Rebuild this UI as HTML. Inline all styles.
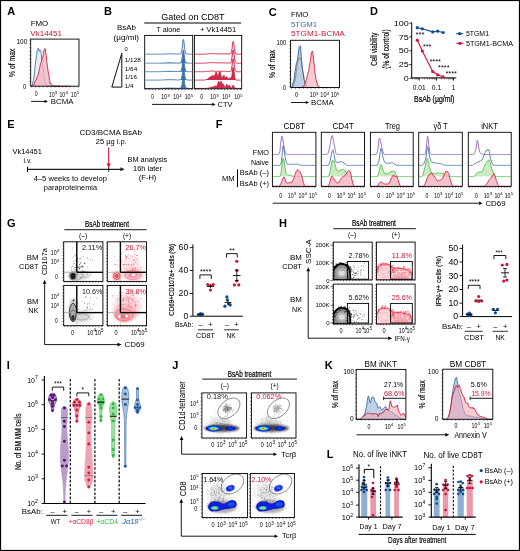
<!DOCTYPE html>
<html><head><meta charset="utf-8"><style>
html,body{margin:0;padding:0;background:#fff;}
svg{display:block;}
text{font-family:"Liberation Sans", sans-serif;}
</style></head><body>
<svg width="520" height="551" viewBox="0 0 520 551">
<defs><filter id="soft" x="0" y="0" width="520" height="551" filterUnits="userSpaceOnUse"><feGaussianBlur stdDeviation="0.3"/></filter></defs>
<rect x="0" y="0" width="520" height="551" fill="#fff"/>
<g filter="url(#soft)">
<rect x="0" y="0" width="520" height="551" fill="#fff"/>
<text x="7.30" y="14.60" font-size="11" font-weight="bold">A</text>
<text x="30.70" y="25.55" font-size="8.0" textLength="17.60" lengthAdjust="spacingAndGlyphs">FMO</text>
<text x="30.30" y="35.75" font-size="8.0" fill="#cc1538" textLength="31.70" lengthAdjust="spacingAndGlyphs">Vk14451</text>
<path d="M31.2,86.20 L31.7,85.95 L32.2,85.32 L32.7,82.89 L33.2,81.05 L33.7,79.54 L34.2,74.85 L34.7,70.57 L35.2,65.49 L35.7,60.79 L36.2,58.27 L36.7,55.11 L37.2,50.47 L37.7,49.84 L38.2,48.08 L38.7,50.47 L39.2,51.24 L39.7,50.04 L40.2,50.35 L40.7,50.40 L41.2,53.41 L41.7,59.05 L42.2,62.89 L42.7,65.75 L43.2,68.62 L43.7,73.49 L44.2,77.20 L44.7,79.91 L45.2,83.10 L45.7,84.16 L46.2,84.58 L46.7,85.10 L47.2,85.67 L47.7,85.89 L48.2,86.02 L48.7,86.17 L49.2,86.20 L49.7,86.20 L50.2,86.20 L50.7,86.20 L51.2,86.20 L51.7,86.20 L52.2,86.20 L52.7,86.20 L53.2,86.20 L53.7,86.20 L54.2,86.20 L54.7,86.20 L55.2,86.20 L55.7,86.20 L56.2,86.20 L56.7,86.20 L57.2,86.20 L57.7,86.20 L58.2,86.20 L58.7,86.20 L59.2,86.20 L59.7,86.20 L60.2,86.20 L60.0,86.20 L31.2,86.20 Z" fill="#dfe7f1" fill-opacity="0.7" stroke="none"/>
<path d="M31.2,86.20 L31.7,85.95 L32.2,85.32 L32.7,82.89 L33.2,81.05 L33.7,79.54 L34.2,74.85 L34.7,70.57 L35.2,65.49 L35.7,60.79 L36.2,58.27 L36.7,55.11 L37.2,50.47 L37.7,49.84 L38.2,48.08 L38.7,50.47 L39.2,51.24 L39.7,50.04 L40.2,50.35 L40.7,50.40 L41.2,53.41 L41.7,59.05 L42.2,62.89 L42.7,65.75 L43.2,68.62 L43.7,73.49 L44.2,77.20 L44.7,79.91 L45.2,83.10 L45.7,84.16 L46.2,84.58 L46.7,85.10 L47.2,85.67 L47.7,85.89 L48.2,86.02 L48.7,86.17 L49.2,86.20 L49.7,86.20 L50.2,86.20 L50.7,86.20 L51.2,86.20 L51.7,86.20 L52.2,86.20 L52.7,86.20 L53.2,86.20 L53.7,86.20 L54.2,86.20 L54.7,86.20 L55.2,86.20 L55.7,86.20 L56.2,86.20 L56.7,86.20 L57.2,86.20 L57.7,86.20 L58.2,86.20 L58.7,86.20 L59.2,86.20 L59.7,86.20 L60.2,86.20" fill="none" stroke="#3b6ea6" stroke-width="0.85" stroke-linejoin="round"/>
<path d="M31.2,86.20 L31.7,86.20 L32.2,86.05 L32.7,85.39 L33.2,84.66 L33.7,85.06 L34.2,84.51 L34.7,81.98 L35.2,81.24 L35.7,80.37 L36.2,80.11 L36.7,78.15 L37.2,76.80 L37.7,75.40 L38.2,74.78 L38.7,72.35 L39.2,70.58 L39.7,67.91 L40.2,65.29 L40.7,63.37 L41.2,62.30 L41.7,60.54 L42.2,59.04 L42.7,57.61 L43.2,55.37 L43.7,51.66 L44.2,49.77 L44.7,48.55 L45.2,48.88 L45.7,52.20 L46.2,55.73 L46.7,60.38 L47.2,64.99 L47.7,68.08 L48.2,72.00 L48.7,74.65 L49.2,77.25 L49.7,80.69 L50.2,83.76 L50.7,83.31 L51.2,84.23 L51.7,84.80 L52.2,85.01 L52.7,85.38 L53.2,85.58 L53.7,85.83 L54.2,85.94 L54.7,86.04 L55.2,86.12 L55.7,86.18 L56.2,86.20 L56.7,86.20 L57.2,86.20 L57.7,86.20 L58.2,86.20 L58.7,86.20 L59.2,86.20 L59.7,86.20 L60.2,86.20 L60.7,86.20 L61.2,86.20 L61.7,86.20 L62.2,86.20 L62.7,86.20 L63.2,86.20 L63.7,86.20 L64.2,86.20 L64.7,86.20 L65.2,86.20 L65.7,86.20 L66.2,86.20 L66.7,86.20 L67.2,86.20 L67.7,86.20 L68.2,86.20 L68.7,86.20 L69.2,86.20 L69.7,86.20 L70.2,86.20 L70.0,86.20 L31.2,86.20 Z" fill="#f3b3bf" fill-opacity="0.75" stroke="none"/>
<path d="M31.2,86.20 L31.7,86.20 L32.2,86.05 L32.7,85.39 L33.2,84.66 L33.7,85.06 L34.2,84.51 L34.7,81.98 L35.2,81.24 L35.7,80.37 L36.2,80.11 L36.7,78.15 L37.2,76.80 L37.7,75.40 L38.2,74.78 L38.7,72.35 L39.2,70.58 L39.7,67.91 L40.2,65.29 L40.7,63.37 L41.2,62.30 L41.7,60.54 L42.2,59.04 L42.7,57.61 L43.2,55.37 L43.7,51.66 L44.2,49.77 L44.7,48.55 L45.2,48.88 L45.7,52.20 L46.2,55.73 L46.7,60.38 L47.2,64.99 L47.7,68.08 L48.2,72.00 L48.7,74.65 L49.2,77.25 L49.7,80.69 L50.2,83.76 L50.7,83.31 L51.2,84.23 L51.7,84.80 L52.2,85.01 L52.7,85.38 L53.2,85.58 L53.7,85.83 L54.2,85.94 L54.7,86.04 L55.2,86.12 L55.7,86.18 L56.2,86.20 L56.7,86.20 L57.2,86.20 L57.7,86.20 L58.2,86.20 L58.7,86.20 L59.2,86.20 L59.7,86.20 L60.2,86.20 L60.7,86.20 L61.2,86.20 L61.7,86.20 L62.2,86.20 L62.7,86.20 L63.2,86.20 L63.7,86.20 L64.2,86.20 L64.7,86.20 L65.2,86.20 L65.7,86.20 L66.2,86.20 L66.7,86.20 L67.2,86.20 L67.7,86.20 L68.2,86.20 L68.7,86.20 L69.2,86.20 L69.7,86.20 L70.2,86.20" fill="none" stroke="#cc1538" stroke-width="0.85" stroke-linejoin="round"/>
<rect x="30.70" y="39.10" width="48.30" height="47.10" stroke="#000" stroke-width="0.9" fill="none"/>
<line x1="29.40" y1="40.10" x2="30.70" y2="40.10" stroke="#000" stroke-width="0.5"/>
<line x1="29.40" y1="43.86" x2="30.70" y2="43.86" stroke="#000" stroke-width="0.5"/>
<line x1="29.40" y1="47.62" x2="30.70" y2="47.62" stroke="#000" stroke-width="0.5"/>
<line x1="29.40" y1="51.38" x2="30.70" y2="51.38" stroke="#000" stroke-width="0.5"/>
<line x1="29.40" y1="55.13" x2="30.70" y2="55.13" stroke="#000" stroke-width="0.5"/>
<line x1="29.40" y1="58.89" x2="30.70" y2="58.89" stroke="#000" stroke-width="0.5"/>
<line x1="29.40" y1="62.65" x2="30.70" y2="62.65" stroke="#000" stroke-width="0.5"/>
<line x1="29.40" y1="66.41" x2="30.70" y2="66.41" stroke="#000" stroke-width="0.5"/>
<line x1="29.40" y1="70.17" x2="30.70" y2="70.17" stroke="#000" stroke-width="0.5"/>
<line x1="29.40" y1="73.93" x2="30.70" y2="73.93" stroke="#000" stroke-width="0.5"/>
<line x1="29.40" y1="77.68" x2="30.70" y2="77.68" stroke="#000" stroke-width="0.5"/>
<line x1="29.40" y1="81.44" x2="30.70" y2="81.44" stroke="#000" stroke-width="0.5"/>
<line x1="29.40" y1="85.20" x2="30.70" y2="85.20" stroke="#000" stroke-width="0.5"/>
<line x1="31.70" y1="86.20" x2="31.70" y2="87.50" stroke="#000" stroke-width="0.5"/>
<line x1="35.56" y1="86.20" x2="35.56" y2="87.50" stroke="#000" stroke-width="0.5"/>
<line x1="39.42" y1="86.20" x2="39.42" y2="87.50" stroke="#000" stroke-width="0.5"/>
<line x1="43.27" y1="86.20" x2="43.27" y2="87.50" stroke="#000" stroke-width="0.5"/>
<line x1="47.13" y1="86.20" x2="47.13" y2="87.50" stroke="#000" stroke-width="0.5"/>
<line x1="50.99" y1="86.20" x2="50.99" y2="87.50" stroke="#000" stroke-width="0.5"/>
<line x1="54.85" y1="86.20" x2="54.85" y2="87.50" stroke="#000" stroke-width="0.5"/>
<line x1="58.71" y1="86.20" x2="58.71" y2="87.50" stroke="#000" stroke-width="0.5"/>
<line x1="62.57" y1="86.20" x2="62.57" y2="87.50" stroke="#000" stroke-width="0.5"/>
<line x1="66.42" y1="86.20" x2="66.42" y2="87.50" stroke="#000" stroke-width="0.5"/>
<line x1="70.28" y1="86.20" x2="70.28" y2="87.50" stroke="#000" stroke-width="0.5"/>
<line x1="74.14" y1="86.20" x2="74.14" y2="87.50" stroke="#000" stroke-width="0.5"/>
<line x1="78.00" y1="86.20" x2="78.00" y2="87.50" stroke="#000" stroke-width="0.5"/>
<text x="16.50" y="43.57" font-size="6.6" textLength="10.80" lengthAdjust="spacingAndGlyphs">100</text>
<text x="23.00" y="88.97" font-size="6.6" textLength="3.20" lengthAdjust="spacingAndGlyphs">0</text>
<text x="14.52" y="76.90" font-size="8.5" textLength="28.30" lengthAdjust="spacingAndGlyphs" transform="rotate(-90 14.52 76.90)" fill="#000" stroke="#000" stroke-width="0.15">% of max</text>
<text x="34.80" y="96.40" font-size="6.4" textLength="2.90" lengthAdjust="spacingAndGlyphs">0</text>
<text x="48.84" y="96.54" font-size="6.8" textLength="5.82" lengthAdjust="spacingAndGlyphs">10</text>
<text x="54.81" y="93.82" font-size="4.22">3</text>
<text x="59.44" y="96.54" font-size="6.8" textLength="5.82" lengthAdjust="spacingAndGlyphs">10</text>
<text x="65.41" y="93.82" font-size="4.22">4</text>
<text x="70.74" y="96.54" font-size="6.8" textLength="5.82" lengthAdjust="spacingAndGlyphs">10</text>
<text x="76.71" y="93.82" font-size="4.22">5</text>
<line x1="31.10" y1="101.40" x2="45.10" y2="101.40" stroke="#000" stroke-width="0.9"/>
<path d="M47.80,101.40 L44.60,99.80 L44.60,103.00 Z" fill="#000"/>
<text x="50.80" y="104.21" font-size="7.6" textLength="22.70" lengthAdjust="spacingAndGlyphs">BCMA</text>
<text x="104.00" y="15.00" font-size="11" font-weight="bold">B</text>
<text x="161.20" y="19.90" font-size="9.0" textLength="63.40" lengthAdjust="spacingAndGlyphs">Gated on CD8T</text>
<line x1="144.20" y1="23.00" x2="241.10" y2="23.00" stroke="#000" stroke-width="1.1"/>
<text x="156.50" y="31.85" font-size="8.0" textLength="23.70" lengthAdjust="spacingAndGlyphs">T alone</text>
<text x="199.90" y="31.85" font-size="8.0" textLength="36.40" lengthAdjust="spacingAndGlyphs">+ Vk14451</text>
<text x="117.00" y="29.55" font-size="8.0" textLength="19.00" lengthAdjust="spacingAndGlyphs">BsAb</text>
<text x="113.60" y="39.75" font-size="8.0" textLength="25.40" lengthAdjust="spacingAndGlyphs">(µg/ml)</text>
<path d="M111.8,87.1 L121.8,87.1 L121.8,53.3 Z" fill="none" stroke="#000" stroke-width="0.95" stroke-linejoin="miter"/>
<text x="124.60" y="51.36" font-size="6.0" textLength="3.20" lengthAdjust="spacingAndGlyphs">0</text>
<text x="124.80" y="61.76" font-size="6.0" textLength="15.90" lengthAdjust="spacingAndGlyphs">1/128</text>
<text x="124.80" y="70.86" font-size="6.0" textLength="12.40" lengthAdjust="spacingAndGlyphs">1/64</text>
<text x="124.80" y="79.46" font-size="6.0" textLength="12.20" lengthAdjust="spacingAndGlyphs">1/16</text>
<text x="124.80" y="88.06" font-size="6.0" textLength="8.60" lengthAdjust="spacingAndGlyphs">1/4</text>
<path d="M145.50,54.20 L146.00,54.20 L146.50,54.20 L147.00,54.20 L147.50,54.20 L148.00,54.20 L148.50,54.20 L149.00,54.20 L149.50,54.20 L150.00,54.20 L150.50,54.20 L151.00,54.20 L151.50,54.20 L152.00,54.20 L152.50,54.20 L153.00,54.20 L153.50,54.20 L154.00,54.20 L154.50,54.20 L155.00,54.20 L155.50,54.19 L156.00,54.19 L156.50,54.19 L157.00,54.19 L157.50,54.18 L158.00,54.18 L158.50,54.17 L159.00,54.16 L159.50,54.16 L160.00,54.15 L160.50,54.13 L161.00,54.12 L161.50,54.11 L162.00,54.09 L162.50,54.07 L163.00,54.05 L163.50,54.03 L164.00,54.01 L164.50,53.98 L165.00,53.96 L165.50,53.93 L166.00,53.91 L166.50,53.88 L167.00,53.87 L167.50,53.84 L168.00,53.86 L168.50,53.79 L169.00,53.78 L169.50,53.79 L170.00,53.83 L170.50,53.80 L171.00,53.82 L171.50,53.84 L172.00,53.79 L172.50,53.81 L173.00,53.90 L173.50,53.86 L174.00,53.91 L174.50,53.93 L175.00,53.96 L175.50,53.98 L176.00,54.00 L176.50,54.03 L177.00,54.04 L177.50,54.05 L178.00,54.06 L178.50,54.05 L179.00,54.01 L179.50,53.95 L180.00,53.85 L180.50,53.71 L181.00,53.36 L181.50,52.18 L182.00,49.66 L182.50,44.98 L183.00,40.36 L183.50,39.34 L184.00,41.94 L184.50,46.76 L185.00,50.61 L185.50,52.81 L186.00,53.62 L186.50,53.86 L187.00,53.96 L187.50,54.05 L188.00,54.11 L188.50,54.15 L189.00,54.18 L189.50,54.19 L190.00,54.19 L190.50,54.20 L191.00,54.20 L191.50,54.20 L192.00,54.20 L192.30,54.20 L145.50,54.20 Z" fill="#b9cde3" fill-opacity="0.6" stroke="none"/>
<path d="M145.50,54.20 L146.00,54.20 L146.50,54.20 L147.00,54.20 L147.50,54.20 L148.00,54.20 L148.50,54.20 L149.00,54.20 L149.50,54.20 L150.00,54.20 L150.50,54.20 L151.00,54.20 L151.50,54.20 L152.00,54.20 L152.50,54.20 L153.00,54.20 L153.50,54.20 L154.00,54.20 L154.50,54.20 L155.00,54.20 L155.50,54.19 L156.00,54.19 L156.50,54.19 L157.00,54.19 L157.50,54.18 L158.00,54.18 L158.50,54.17 L159.00,54.16 L159.50,54.16 L160.00,54.15 L160.50,54.13 L161.00,54.12 L161.50,54.11 L162.00,54.09 L162.50,54.07 L163.00,54.05 L163.50,54.03 L164.00,54.01 L164.50,53.98 L165.00,53.96 L165.50,53.93 L166.00,53.91 L166.50,53.88 L167.00,53.87 L167.50,53.84 L168.00,53.86 L168.50,53.79 L169.00,53.78 L169.50,53.79 L170.00,53.83 L170.50,53.80 L171.00,53.82 L171.50,53.84 L172.00,53.79 L172.50,53.81 L173.00,53.90 L173.50,53.86 L174.00,53.91 L174.50,53.93 L175.00,53.96 L175.50,53.98 L176.00,54.00 L176.50,54.03 L177.00,54.04 L177.50,54.05 L178.00,54.06 L178.50,54.05 L179.00,54.01 L179.50,53.95 L180.00,53.85 L180.50,53.71 L181.00,53.36 L181.50,52.18 L182.00,49.66 L182.50,44.98 L183.00,40.36 L183.50,39.34 L184.00,41.94 L184.50,46.76 L185.00,50.61 L185.50,52.81 L186.00,53.62 L186.50,53.86 L187.00,53.96 L187.50,54.05 L188.00,54.11 L188.50,54.15 L189.00,54.18 L189.50,54.19 L190.00,54.19 L190.50,54.20 L191.00,54.20 L191.50,54.20 L192.00,54.20" fill="none" stroke="#3b6ea6" stroke-width="0.85" stroke-linejoin="round"/>
<path d="M145.50,63.20 L146.00,63.20 L146.50,63.20 L147.00,63.20 L147.50,63.20 L148.00,63.20 L148.50,63.20 L149.00,63.20 L149.50,63.20 L150.00,63.20 L150.50,63.20 L151.00,63.20 L151.50,63.20 L152.00,63.20 L152.50,63.20 L153.00,63.20 L153.50,63.20 L154.00,63.20 L154.50,63.20 L155.00,63.20 L155.50,63.19 L156.00,63.19 L156.50,63.19 L157.00,63.19 L157.50,63.18 L158.00,63.18 L158.50,63.17 L159.00,63.16 L159.50,63.16 L160.00,63.15 L160.50,63.13 L161.00,63.12 L161.50,63.11 L162.00,63.09 L162.50,63.07 L163.00,63.05 L163.50,63.03 L164.00,63.01 L164.50,62.98 L165.00,62.96 L165.50,62.93 L166.00,62.91 L166.50,62.89 L167.00,62.86 L167.50,62.81 L168.00,62.83 L168.50,62.82 L169.00,62.80 L169.50,62.83 L170.00,62.80 L170.50,62.79 L171.00,62.78 L171.50,62.85 L172.00,62.85 L172.50,62.88 L173.00,62.84 L173.50,62.87 L174.00,62.91 L174.50,62.93 L175.00,62.96 L175.50,62.98 L176.00,63.00 L176.50,63.03 L177.00,63.04 L177.50,63.05 L178.00,63.06 L178.50,63.05 L179.00,63.01 L179.50,62.95 L180.00,62.90 L180.50,62.64 L181.00,62.27 L181.50,61.36 L182.00,59.07 L182.50,55.49 L183.00,51.61 L183.50,50.05 L184.00,53.00 L184.50,57.19 L185.00,60.46 L185.50,62.08 L186.00,62.58 L186.50,62.83 L187.00,62.96 L187.50,63.05 L188.00,63.11 L188.50,63.15 L189.00,63.18 L189.50,63.19 L190.00,63.19 L190.50,63.20 L191.00,63.20 L191.50,63.20 L192.00,63.20 L192.30,63.20 L145.50,63.20 Z" fill="#2f66a3" fill-opacity="0.9" stroke="none"/>
<path d="M145.50,63.20 L146.00,63.20 L146.50,63.20 L147.00,63.20 L147.50,63.20 L148.00,63.20 L148.50,63.20 L149.00,63.20 L149.50,63.20 L150.00,63.20 L150.50,63.20 L151.00,63.20 L151.50,63.20 L152.00,63.20 L152.50,63.20 L153.00,63.20 L153.50,63.20 L154.00,63.20 L154.50,63.20 L155.00,63.20 L155.50,63.19 L156.00,63.19 L156.50,63.19 L157.00,63.19 L157.50,63.18 L158.00,63.18 L158.50,63.17 L159.00,63.16 L159.50,63.16 L160.00,63.15 L160.50,63.13 L161.00,63.12 L161.50,63.11 L162.00,63.09 L162.50,63.07 L163.00,63.05 L163.50,63.03 L164.00,63.01 L164.50,62.98 L165.00,62.96 L165.50,62.93 L166.00,62.91 L166.50,62.89 L167.00,62.86 L167.50,62.81 L168.00,62.83 L168.50,62.82 L169.00,62.80 L169.50,62.83 L170.00,62.80 L170.50,62.79 L171.00,62.78 L171.50,62.85 L172.00,62.85 L172.50,62.88 L173.00,62.84 L173.50,62.87 L174.00,62.91 L174.50,62.93 L175.00,62.96 L175.50,62.98 L176.00,63.00 L176.50,63.03 L177.00,63.04 L177.50,63.05 L178.00,63.06 L178.50,63.05 L179.00,63.01 L179.50,62.95 L180.00,62.90 L180.50,62.64 L181.00,62.27 L181.50,61.36 L182.00,59.07 L182.50,55.49 L183.00,51.61 L183.50,50.05 L184.00,53.00 L184.50,57.19 L185.00,60.46 L185.50,62.08 L186.00,62.58 L186.50,62.83 L187.00,62.96 L187.50,63.05 L188.00,63.11 L188.50,63.15 L189.00,63.18 L189.50,63.19 L190.00,63.19 L190.50,63.20 L191.00,63.20 L191.50,63.20 L192.00,63.20" fill="none" stroke="#3b6ea6" stroke-width="0.85" stroke-linejoin="round"/>
<path d="M145.50,71.70 L146.00,71.70 L146.50,71.70 L147.00,71.70 L147.50,71.70 L148.00,71.70 L148.50,71.70 L149.00,71.70 L149.50,71.70 L150.00,71.70 L150.50,71.70 L151.00,71.70 L151.50,71.70 L152.00,71.70 L152.50,71.70 L153.00,71.70 L153.50,71.70 L154.00,71.70 L154.50,71.70 L155.00,71.70 L155.50,71.69 L156.00,71.69 L156.50,71.69 L157.00,71.69 L157.50,71.68 L158.00,71.68 L158.50,71.67 L159.00,71.66 L159.50,71.66 L160.00,71.65 L160.50,71.63 L161.00,71.62 L161.50,71.61 L162.00,71.59 L162.50,71.57 L163.00,71.55 L163.50,71.53 L164.00,71.51 L164.50,71.48 L165.00,71.46 L165.50,71.43 L166.00,71.41 L166.50,71.39 L167.00,71.35 L167.50,71.33 L168.00,71.36 L168.50,71.36 L169.00,71.32 L169.50,71.32 L170.00,71.27 L170.50,71.28 L171.00,71.30 L171.50,71.31 L172.00,71.32 L172.50,71.38 L173.00,71.37 L173.50,71.41 L174.00,71.41 L174.50,71.43 L175.00,71.46 L175.50,71.48 L176.00,71.50 L176.50,71.53 L177.00,71.54 L177.50,71.55 L178.00,71.56 L178.50,71.55 L179.00,71.51 L179.50,71.45 L180.00,71.33 L180.50,71.25 L181.00,70.79 L181.50,70.10 L182.00,67.52 L182.50,63.86 L183.00,59.83 L183.50,58.33 L184.00,61.53 L184.50,65.78 L185.00,68.50 L185.50,70.44 L186.00,71.13 L186.50,71.28 L187.00,71.46 L187.50,71.55 L188.00,71.61 L188.50,71.65 L189.00,71.68 L189.50,71.69 L190.00,71.69 L190.50,71.70 L191.00,71.70 L191.50,71.70 L192.00,71.70 L192.30,71.70 L145.50,71.70 Z" fill="#2f66a3" fill-opacity="0.9" stroke="none"/>
<path d="M145.50,71.70 L146.00,71.70 L146.50,71.70 L147.00,71.70 L147.50,71.70 L148.00,71.70 L148.50,71.70 L149.00,71.70 L149.50,71.70 L150.00,71.70 L150.50,71.70 L151.00,71.70 L151.50,71.70 L152.00,71.70 L152.50,71.70 L153.00,71.70 L153.50,71.70 L154.00,71.70 L154.50,71.70 L155.00,71.70 L155.50,71.69 L156.00,71.69 L156.50,71.69 L157.00,71.69 L157.50,71.68 L158.00,71.68 L158.50,71.67 L159.00,71.66 L159.50,71.66 L160.00,71.65 L160.50,71.63 L161.00,71.62 L161.50,71.61 L162.00,71.59 L162.50,71.57 L163.00,71.55 L163.50,71.53 L164.00,71.51 L164.50,71.48 L165.00,71.46 L165.50,71.43 L166.00,71.41 L166.50,71.39 L167.00,71.35 L167.50,71.33 L168.00,71.36 L168.50,71.36 L169.00,71.32 L169.50,71.32 L170.00,71.27 L170.50,71.28 L171.00,71.30 L171.50,71.31 L172.00,71.32 L172.50,71.38 L173.00,71.37 L173.50,71.41 L174.00,71.41 L174.50,71.43 L175.00,71.46 L175.50,71.48 L176.00,71.50 L176.50,71.53 L177.00,71.54 L177.50,71.55 L178.00,71.56 L178.50,71.55 L179.00,71.51 L179.50,71.45 L180.00,71.33 L180.50,71.25 L181.00,70.79 L181.50,70.10 L182.00,67.52 L182.50,63.86 L183.00,59.83 L183.50,58.33 L184.00,61.53 L184.50,65.78 L185.00,68.50 L185.50,70.44 L186.00,71.13 L186.50,71.28 L187.00,71.46 L187.50,71.55 L188.00,71.61 L188.50,71.65 L189.00,71.68 L189.50,71.69 L190.00,71.69 L190.50,71.70 L191.00,71.70 L191.50,71.70 L192.00,71.70" fill="none" stroke="#3b6ea6" stroke-width="0.85" stroke-linejoin="round"/>
<path d="M145.50,80.10 L146.00,80.10 L146.50,80.10 L147.00,80.10 L147.50,80.10 L148.00,80.10 L148.50,80.10 L149.00,80.10 L149.50,80.10 L150.00,80.10 L150.50,80.10 L151.00,80.10 L151.50,80.10 L152.00,80.10 L152.50,80.10 L153.00,80.10 L153.50,80.10 L154.00,80.10 L154.50,80.10 L155.00,80.10 L155.50,80.09 L156.00,80.09 L156.50,80.09 L157.00,80.09 L157.50,80.08 L158.00,80.08 L158.50,80.07 L159.00,80.06 L159.50,80.06 L160.00,80.05 L160.50,80.03 L161.00,80.02 L161.50,80.01 L162.00,79.99 L162.50,79.97 L163.00,79.95 L163.50,79.93 L164.00,79.91 L164.50,79.88 L165.00,79.86 L165.50,79.83 L166.00,79.81 L166.50,79.80 L167.00,79.75 L167.50,79.73 L168.00,79.70 L168.50,79.75 L169.00,79.73 L169.50,79.73 L170.00,79.73 L170.50,79.68 L171.00,79.74 L171.50,79.71 L172.00,79.76 L172.50,79.76 L173.00,79.77 L173.50,79.76 L174.00,79.81 L174.50,79.83 L175.00,79.86 L175.50,79.88 L176.00,79.90 L176.50,79.93 L177.00,79.94 L177.50,79.95 L178.00,79.96 L178.50,79.95 L179.00,79.91 L179.50,79.85 L180.00,79.75 L180.50,79.66 L181.00,79.30 L181.50,78.47 L182.00,75.79 L182.50,71.93 L183.00,67.95 L183.50,66.75 L184.00,69.42 L184.50,73.55 L185.00,76.98 L185.50,78.91 L186.00,79.42 L186.50,79.72 L187.00,79.86 L187.50,79.95 L188.00,80.01 L188.50,80.05 L189.00,80.08 L189.50,80.09 L190.00,80.09 L190.50,80.10 L191.00,80.10 L191.50,80.10 L192.00,80.10 L192.30,80.10 L145.50,80.10 Z" fill="#2f66a3" fill-opacity="0.9" stroke="none"/>
<path d="M145.50,80.10 L146.00,80.10 L146.50,80.10 L147.00,80.10 L147.50,80.10 L148.00,80.10 L148.50,80.10 L149.00,80.10 L149.50,80.10 L150.00,80.10 L150.50,80.10 L151.00,80.10 L151.50,80.10 L152.00,80.10 L152.50,80.10 L153.00,80.10 L153.50,80.10 L154.00,80.10 L154.50,80.10 L155.00,80.10 L155.50,80.09 L156.00,80.09 L156.50,80.09 L157.00,80.09 L157.50,80.08 L158.00,80.08 L158.50,80.07 L159.00,80.06 L159.50,80.06 L160.00,80.05 L160.50,80.03 L161.00,80.02 L161.50,80.01 L162.00,79.99 L162.50,79.97 L163.00,79.95 L163.50,79.93 L164.00,79.91 L164.50,79.88 L165.00,79.86 L165.50,79.83 L166.00,79.81 L166.50,79.80 L167.00,79.75 L167.50,79.73 L168.00,79.70 L168.50,79.75 L169.00,79.73 L169.50,79.73 L170.00,79.73 L170.50,79.68 L171.00,79.74 L171.50,79.71 L172.00,79.76 L172.50,79.76 L173.00,79.77 L173.50,79.76 L174.00,79.81 L174.50,79.83 L175.00,79.86 L175.50,79.88 L176.00,79.90 L176.50,79.93 L177.00,79.94 L177.50,79.95 L178.00,79.96 L178.50,79.95 L179.00,79.91 L179.50,79.85 L180.00,79.75 L180.50,79.66 L181.00,79.30 L181.50,78.47 L182.00,75.79 L182.50,71.93 L183.00,67.95 L183.50,66.75 L184.00,69.42 L184.50,73.55 L185.00,76.98 L185.50,78.91 L186.00,79.42 L186.50,79.72 L187.00,79.86 L187.50,79.95 L188.00,80.01 L188.50,80.05 L189.00,80.08 L189.50,80.09 L190.00,80.09 L190.50,80.10 L191.00,80.10 L191.50,80.10 L192.00,80.10" fill="none" stroke="#3b6ea6" stroke-width="0.85" stroke-linejoin="round"/>
<path d="M145.50,88.40 L146.00,88.40 L146.50,88.40 L147.00,88.40 L147.50,88.40 L148.00,88.40 L148.50,88.40 L149.00,88.40 L149.50,88.40 L150.00,88.40 L150.50,88.40 L151.00,88.40 L151.50,88.40 L152.00,88.40 L152.50,88.40 L153.00,88.40 L153.50,88.40 L154.00,88.40 L154.50,88.40 L155.00,88.40 L155.50,88.39 L156.00,88.39 L156.50,88.39 L157.00,88.39 L157.50,88.38 L158.00,88.38 L158.50,88.37 L159.00,88.36 L159.50,88.36 L160.00,88.35 L160.50,88.33 L161.00,88.32 L161.50,88.31 L162.00,88.29 L162.50,88.27 L163.00,88.25 L163.50,88.23 L164.00,88.21 L164.50,88.18 L165.00,88.16 L165.50,88.13 L166.00,88.11 L166.50,88.12 L167.00,88.05 L167.50,88.03 L168.00,87.99 L168.50,88.04 L169.00,88.03 L169.50,87.98 L170.00,87.99 L170.50,88.02 L171.00,87.99 L171.50,88.03 L172.00,88.01 L172.50,88.08 L173.00,88.09 L173.50,88.06 L174.00,88.11 L174.50,88.13 L175.00,88.16 L175.50,88.18 L176.00,88.20 L176.50,88.23 L177.00,88.24 L177.50,88.25 L178.00,88.26 L178.50,88.25 L179.00,88.21 L179.50,88.15 L180.00,88.07 L180.50,87.93 L181.00,87.50 L181.50,86.57 L182.00,84.59 L182.50,80.41 L183.00,76.35 L183.50,75.51 L184.00,77.78 L184.50,82.43 L185.00,85.59 L185.50,87.26 L186.00,87.81 L186.50,87.98 L187.00,88.16 L187.50,88.25 L188.00,88.31 L188.50,88.35 L189.00,88.38 L189.50,88.39 L190.00,88.39 L190.50,88.40 L191.00,88.40 L191.50,88.40 L192.00,88.40 L192.30,88.40 L145.50,88.40 Z" fill="#2f66a3" fill-opacity="0.9" stroke="none"/>
<path d="M145.50,88.40 L146.00,88.40 L146.50,88.40 L147.00,88.40 L147.50,88.40 L148.00,88.40 L148.50,88.40 L149.00,88.40 L149.50,88.40 L150.00,88.40 L150.50,88.40 L151.00,88.40 L151.50,88.40 L152.00,88.40 L152.50,88.40 L153.00,88.40 L153.50,88.40 L154.00,88.40 L154.50,88.40 L155.00,88.40 L155.50,88.39 L156.00,88.39 L156.50,88.39 L157.00,88.39 L157.50,88.38 L158.00,88.38 L158.50,88.37 L159.00,88.36 L159.50,88.36 L160.00,88.35 L160.50,88.33 L161.00,88.32 L161.50,88.31 L162.00,88.29 L162.50,88.27 L163.00,88.25 L163.50,88.23 L164.00,88.21 L164.50,88.18 L165.00,88.16 L165.50,88.13 L166.00,88.11 L166.50,88.12 L167.00,88.05 L167.50,88.03 L168.00,87.99 L168.50,88.04 L169.00,88.03 L169.50,87.98 L170.00,87.99 L170.50,88.02 L171.00,87.99 L171.50,88.03 L172.00,88.01 L172.50,88.08 L173.00,88.09 L173.50,88.06 L174.00,88.11 L174.50,88.13 L175.00,88.16 L175.50,88.18 L176.00,88.20 L176.50,88.23 L177.00,88.24 L177.50,88.25 L178.00,88.26 L178.50,88.25 L179.00,88.21 L179.50,88.15 L180.00,88.07 L180.50,87.93 L181.00,87.50 L181.50,86.57 L182.00,84.59 L182.50,80.41 L183.00,76.35 L183.50,75.51 L184.00,77.78 L184.50,82.43 L185.00,85.59 L185.50,87.26 L186.00,87.81 L186.50,87.98 L187.00,88.16 L187.50,88.25 L188.00,88.31 L188.50,88.35 L189.00,88.38 L189.50,88.39 L190.00,88.39 L190.50,88.40 L191.00,88.40 L191.50,88.40 L192.00,88.40" fill="none" stroke="#3b6ea6" stroke-width="0.85" stroke-linejoin="round"/>
<path d="M195.00,54.20 L195.50,54.20 L196.00,54.20 L196.50,54.20 L197.00,54.20 L197.50,54.20 L198.00,54.20 L198.50,54.20 L199.00,54.20 L199.50,54.20 L200.00,54.20 L200.50,54.20 L201.00,54.20 L201.50,54.19 L202.00,54.19 L202.50,54.19 L203.00,54.18 L203.50,54.17 L204.00,54.16 L204.50,54.14 L205.00,54.11 L205.50,54.08 L206.00,54.04 L206.50,53.99 L207.00,53.94 L207.50,53.84 L208.00,53.79 L208.50,53.72 L209.00,53.63 L209.50,53.66 L210.00,53.56 L210.50,53.48 L211.00,53.47 L211.50,53.51 L212.00,53.58 L212.50,53.57 L213.00,53.52 L213.50,53.68 L214.00,53.69 L214.50,53.66 L215.00,53.76 L215.50,53.81 L216.00,53.82 L216.50,53.79 L217.00,53.85 L217.50,53.85 L218.00,53.83 L218.50,53.81 L219.00,53.83 L219.50,53.86 L220.00,53.81 L220.50,53.85 L221.00,53.84 L221.50,53.83 L222.00,53.78 L222.50,53.82 L223.00,53.79 L223.50,53.84 L224.00,53.86 L224.50,53.87 L225.00,53.83 L225.50,53.83 L226.00,53.90 L226.50,53.92 L227.00,53.92 L227.50,53.94 L228.00,53.96 L228.50,53.98 L229.00,54.00 L229.50,54.01 L230.00,53.99 L230.50,53.87 L231.00,53.15 L231.50,51.59 L232.00,48.50 L232.50,44.10 L233.00,41.34 L233.50,41.81 L234.00,45.27 L234.50,48.96 L235.00,51.97 L235.50,53.49 L236.00,54.00 L236.50,54.15 L237.00,54.18 L237.50,54.19 L238.00,54.19 L238.50,54.19 L239.00,54.19 L239.50,54.19 L240.00,54.20 L240.50,54.20 L241.00,54.20 L241.20,54.20 L195.00,54.20 Z" fill="#f3b3bf" fill-opacity="0.5" stroke="none"/>
<path d="M195.00,54.20 L195.50,54.20 L196.00,54.20 L196.50,54.20 L197.00,54.20 L197.50,54.20 L198.00,54.20 L198.50,54.20 L199.00,54.20 L199.50,54.20 L200.00,54.20 L200.50,54.20 L201.00,54.20 L201.50,54.19 L202.00,54.19 L202.50,54.19 L203.00,54.18 L203.50,54.17 L204.00,54.16 L204.50,54.14 L205.00,54.11 L205.50,54.08 L206.00,54.04 L206.50,53.99 L207.00,53.94 L207.50,53.84 L208.00,53.79 L208.50,53.72 L209.00,53.63 L209.50,53.66 L210.00,53.56 L210.50,53.48 L211.00,53.47 L211.50,53.51 L212.00,53.58 L212.50,53.57 L213.00,53.52 L213.50,53.68 L214.00,53.69 L214.50,53.66 L215.00,53.76 L215.50,53.81 L216.00,53.82 L216.50,53.79 L217.00,53.85 L217.50,53.85 L218.00,53.83 L218.50,53.81 L219.00,53.83 L219.50,53.86 L220.00,53.81 L220.50,53.85 L221.00,53.84 L221.50,53.83 L222.00,53.78 L222.50,53.82 L223.00,53.79 L223.50,53.84 L224.00,53.86 L224.50,53.87 L225.00,53.83 L225.50,53.83 L226.00,53.90 L226.50,53.92 L227.00,53.92 L227.50,53.94 L228.00,53.96 L228.50,53.98 L229.00,54.00 L229.50,54.01 L230.00,53.99 L230.50,53.87 L231.00,53.15 L231.50,51.59 L232.00,48.50 L232.50,44.10 L233.00,41.34 L233.50,41.81 L234.00,45.27 L234.50,48.96 L235.00,51.97 L235.50,53.49 L236.00,54.00 L236.50,54.15 L237.00,54.18 L237.50,54.19 L238.00,54.19 L238.50,54.19 L239.00,54.19 L239.50,54.19 L240.00,54.20 L240.50,54.20 L241.00,54.20" fill="none" stroke="#cc1538" stroke-width="0.85" stroke-linejoin="round"/>
<path d="M195.00,63.20 L195.50,63.20 L196.00,63.20 L196.50,63.20 L197.00,63.20 L197.50,63.20 L198.00,63.20 L198.50,63.20 L199.00,63.20 L199.50,63.20 L200.00,63.20 L200.50,63.20 L201.00,63.20 L201.50,63.19 L202.00,63.19 L202.50,63.19 L203.00,63.18 L203.50,63.17 L204.00,63.16 L204.50,63.14 L205.00,63.11 L205.50,63.08 L206.00,63.04 L206.50,62.99 L207.00,62.94 L207.50,62.90 L208.00,62.79 L208.50,62.73 L209.00,62.68 L209.50,62.66 L210.00,62.54 L210.50,62.50 L211.00,62.52 L211.50,62.52 L212.00,62.57 L212.50,62.63 L213.00,62.61 L213.50,62.62 L214.00,62.72 L214.50,62.68 L215.00,62.78 L215.50,62.81 L216.00,62.85 L216.50,62.78 L217.00,62.82 L217.50,62.81 L218.00,62.83 L218.50,62.88 L219.00,62.84 L219.50,62.82 L220.00,62.85 L220.50,62.77 L221.00,62.82 L221.50,62.83 L222.00,62.77 L222.50,62.84 L223.00,62.77 L223.50,62.82 L224.00,62.82 L224.50,62.85 L225.00,62.85 L225.50,62.89 L226.00,62.91 L226.50,62.87 L227.00,62.92 L227.50,62.94 L228.00,62.96 L228.50,62.98 L229.00,63.00 L229.50,63.01 L230.00,62.99 L230.50,62.85 L231.00,62.11 L231.50,60.65 L232.00,56.92 L232.50,52.93 L233.00,50.23 L233.50,50.58 L234.00,53.97 L234.50,57.90 L235.00,61.20 L235.50,62.48 L236.00,63.00 L236.50,63.15 L237.00,63.18 L237.50,63.19 L238.00,63.19 L238.50,63.19 L239.00,63.19 L239.50,63.19 L240.00,63.20 L240.50,63.20 L241.00,63.20 L241.20,63.20 L195.00,63.20 Z" fill="#f3b3bf" fill-opacity="0.5" stroke="none"/>
<path d="M195.00,63.20 L195.50,63.20 L196.00,63.20 L196.50,63.20 L197.00,63.20 L197.50,63.20 L198.00,63.20 L198.50,63.20 L199.00,63.20 L199.50,63.20 L200.00,63.20 L200.50,63.20 L201.00,63.20 L201.50,63.19 L202.00,63.19 L202.50,63.19 L203.00,63.18 L203.50,63.17 L204.00,63.16 L204.50,63.14 L205.00,63.11 L205.50,63.08 L206.00,63.04 L206.50,62.99 L207.00,62.94 L207.50,62.90 L208.00,62.79 L208.50,62.73 L209.00,62.68 L209.50,62.66 L210.00,62.54 L210.50,62.50 L211.00,62.52 L211.50,62.52 L212.00,62.57 L212.50,62.63 L213.00,62.61 L213.50,62.62 L214.00,62.72 L214.50,62.68 L215.00,62.78 L215.50,62.81 L216.00,62.85 L216.50,62.78 L217.00,62.82 L217.50,62.81 L218.00,62.83 L218.50,62.88 L219.00,62.84 L219.50,62.82 L220.00,62.85 L220.50,62.77 L221.00,62.82 L221.50,62.83 L222.00,62.77 L222.50,62.84 L223.00,62.77 L223.50,62.82 L224.00,62.82 L224.50,62.85 L225.00,62.85 L225.50,62.89 L226.00,62.91 L226.50,62.87 L227.00,62.92 L227.50,62.94 L228.00,62.96 L228.50,62.98 L229.00,63.00 L229.50,63.01 L230.00,62.99 L230.50,62.85 L231.00,62.11 L231.50,60.65 L232.00,56.92 L232.50,52.93 L233.00,50.23 L233.50,50.58 L234.00,53.97 L234.50,57.90 L235.00,61.20 L235.50,62.48 L236.00,63.00 L236.50,63.15 L237.00,63.18 L237.50,63.19 L238.00,63.19 L238.50,63.19 L239.00,63.19 L239.50,63.19 L240.00,63.20 L240.50,63.20 L241.00,63.20" fill="none" stroke="#cc1538" stroke-width="0.85" stroke-linejoin="round"/>
<path d="M195.00,71.70 L195.50,71.70 L196.00,71.70 L196.50,71.70 L197.00,71.70 L197.50,71.70 L198.00,71.70 L198.50,71.70 L199.00,71.70 L199.50,71.70 L200.00,71.70 L200.50,71.70 L201.00,71.70 L201.50,71.69 L202.00,71.69 L202.50,71.69 L203.00,71.68 L203.50,71.67 L204.00,71.66 L204.50,71.64 L205.00,71.61 L205.50,71.58 L206.00,71.54 L206.50,71.49 L207.00,71.44 L207.50,71.34 L208.00,71.34 L208.50,71.29 L209.00,71.12 L209.50,71.17 L210.00,71.13 L210.50,71.02 L211.00,71.05 L211.50,70.96 L212.00,71.07 L212.50,70.99 L213.00,71.12 L213.50,71.12 L214.00,71.12 L214.50,71.19 L215.00,71.21 L215.50,71.26 L216.00,71.35 L216.50,71.29 L217.00,71.33 L217.50,71.36 L218.00,71.37 L218.50,71.31 L219.00,71.32 L219.50,71.28 L220.00,71.29 L220.50,71.27 L221.00,71.30 L221.50,71.28 L222.00,71.29 L222.50,71.32 L223.00,71.26 L223.50,71.33 L224.00,71.30 L224.50,71.29 L225.00,71.33 L225.50,71.39 L226.00,71.36 L226.50,71.39 L227.00,71.42 L227.50,71.44 L228.00,71.46 L228.50,71.48 L229.00,71.50 L229.50,71.51 L230.00,71.49 L230.50,71.35 L231.00,70.79 L231.50,68.94 L232.00,66.07 L232.50,61.41 L233.00,58.91 L233.50,59.26 L234.00,62.59 L234.50,66.44 L235.00,69.29 L235.50,71.01 L236.00,71.50 L236.50,71.65 L237.00,71.68 L237.50,71.69 L238.00,71.69 L238.50,71.69 L239.00,71.69 L239.50,71.69 L240.00,71.70 L240.50,71.70 L241.00,71.70 L241.20,71.70 L195.00,71.70 Z" fill="#f3b3bf" fill-opacity="0.5" stroke="none"/>
<path d="M195.00,71.70 L195.50,71.70 L196.00,71.70 L196.50,71.70 L197.00,71.70 L197.50,71.70 L198.00,71.70 L198.50,71.70 L199.00,71.70 L199.50,71.70 L200.00,71.70 L200.50,71.70 L201.00,71.70 L201.50,71.69 L202.00,71.69 L202.50,71.69 L203.00,71.68 L203.50,71.67 L204.00,71.66 L204.50,71.64 L205.00,71.61 L205.50,71.58 L206.00,71.54 L206.50,71.49 L207.00,71.44 L207.50,71.34 L208.00,71.34 L208.50,71.29 L209.00,71.12 L209.50,71.17 L210.00,71.13 L210.50,71.02 L211.00,71.05 L211.50,70.96 L212.00,71.07 L212.50,70.99 L213.00,71.12 L213.50,71.12 L214.00,71.12 L214.50,71.19 L215.00,71.21 L215.50,71.26 L216.00,71.35 L216.50,71.29 L217.00,71.33 L217.50,71.36 L218.00,71.37 L218.50,71.31 L219.00,71.32 L219.50,71.28 L220.00,71.29 L220.50,71.27 L221.00,71.30 L221.50,71.28 L222.00,71.29 L222.50,71.32 L223.00,71.26 L223.50,71.33 L224.00,71.30 L224.50,71.29 L225.00,71.33 L225.50,71.39 L226.00,71.36 L226.50,71.39 L227.00,71.42 L227.50,71.44 L228.00,71.46 L228.50,71.48 L229.00,71.50 L229.50,71.51 L230.00,71.49 L230.50,71.35 L231.00,70.79 L231.50,68.94 L232.00,66.07 L232.50,61.41 L233.00,58.91 L233.50,59.26 L234.00,62.59 L234.50,66.44 L235.00,69.29 L235.50,71.01 L236.00,71.50 L236.50,71.65 L237.00,71.68 L237.50,71.69 L238.00,71.69 L238.50,71.69 L239.00,71.69 L239.50,71.69 L240.00,71.70 L240.50,71.70 L241.00,71.70" fill="none" stroke="#cc1538" stroke-width="0.85" stroke-linejoin="round"/>
<path d="M195.00,80.10 L195.50,80.10 L196.00,80.10 L196.50,80.10 L197.00,80.10 L197.50,80.10 L198.00,80.10 L198.50,80.10 L199.00,80.10 L199.50,80.10 L200.00,80.10 L200.50,80.10 L201.00,80.10 L201.50,80.10 L202.00,80.10 L202.50,80.10 L203.00,80.09 L203.50,80.09 L204.00,80.07 L204.50,80.04 L205.00,79.99 L205.50,79.90 L206.00,79.73 L206.50,79.50 L207.00,79.21 L207.50,79.06 L208.00,78.54 L208.50,78.21 L209.00,77.78 L209.50,77.68 L210.00,77.34 L210.50,76.84 L211.00,76.64 L211.50,76.11 L212.00,76.08 L212.50,75.87 L213.00,75.50 L213.50,76.02 L214.00,76.30 L214.50,76.02 L215.00,75.15 L215.50,73.57 L216.00,72.06 L216.50,72.96 L217.00,74.62 L217.50,75.87 L218.00,75.81 L218.50,75.34 L219.00,73.28 L219.50,71.88 L220.00,71.69 L220.50,73.35 L221.00,75.70 L221.50,77.20 L222.00,77.43 L222.50,77.16 L223.00,76.54 L223.50,75.68 L224.00,75.25 L224.50,76.46 L225.00,77.75 L225.50,78.21 L226.00,77.36 L226.50,76.86 L227.00,76.88 L227.50,77.88 L228.00,78.97 L228.50,79.34 L229.00,78.85 L229.50,77.87 L230.00,77.69 L230.50,78.02 L231.00,78.58 L231.50,78.01 L232.00,75.00 L232.50,70.79 L233.00,67.62 L233.50,68.16 L234.00,71.55 L234.50,75.92 L235.00,78.61 L235.50,79.79 L236.00,80.04 L236.50,80.09 L237.00,80.10 L237.50,80.10 L238.00,80.10 L238.50,80.10 L239.00,80.10 L239.50,80.10 L240.00,80.10 L240.50,80.10 L241.00,80.10 L241.20,80.10 L195.00,80.10 Z" fill="#cc1538" fill-opacity="0.9" stroke="none"/>
<path d="M195.00,80.10 L195.50,80.10 L196.00,80.10 L196.50,80.10 L197.00,80.10 L197.50,80.10 L198.00,80.10 L198.50,80.10 L199.00,80.10 L199.50,80.10 L200.00,80.10 L200.50,80.10 L201.00,80.10 L201.50,80.10 L202.00,80.10 L202.50,80.10 L203.00,80.09 L203.50,80.09 L204.00,80.07 L204.50,80.04 L205.00,79.99 L205.50,79.90 L206.00,79.73 L206.50,79.50 L207.00,79.21 L207.50,79.06 L208.00,78.54 L208.50,78.21 L209.00,77.78 L209.50,77.68 L210.00,77.34 L210.50,76.84 L211.00,76.64 L211.50,76.11 L212.00,76.08 L212.50,75.87 L213.00,75.50 L213.50,76.02 L214.00,76.30 L214.50,76.02 L215.00,75.15 L215.50,73.57 L216.00,72.06 L216.50,72.96 L217.00,74.62 L217.50,75.87 L218.00,75.81 L218.50,75.34 L219.00,73.28 L219.50,71.88 L220.00,71.69 L220.50,73.35 L221.00,75.70 L221.50,77.20 L222.00,77.43 L222.50,77.16 L223.00,76.54 L223.50,75.68 L224.00,75.25 L224.50,76.46 L225.00,77.75 L225.50,78.21 L226.00,77.36 L226.50,76.86 L227.00,76.88 L227.50,77.88 L228.00,78.97 L228.50,79.34 L229.00,78.85 L229.50,77.87 L230.00,77.69 L230.50,78.02 L231.00,78.58 L231.50,78.01 L232.00,75.00 L232.50,70.79 L233.00,67.62 L233.50,68.16 L234.00,71.55 L234.50,75.92 L235.00,78.61 L235.50,79.79 L236.00,80.04 L236.50,80.09 L237.00,80.10 L237.50,80.10 L238.00,80.10 L238.50,80.10 L239.00,80.10 L239.50,80.10 L240.00,80.10 L240.50,80.10 L241.00,80.10" fill="none" stroke="#cc1538" stroke-width="0.85" stroke-linejoin="round"/>
<path d="M195.00,88.40 L195.50,88.40 L196.00,88.40 L196.50,88.40 L197.00,88.40 L197.50,88.40 L198.00,88.40 L198.50,88.40 L199.00,88.40 L199.50,88.40 L200.00,88.40 L200.50,88.40 L201.00,88.40 L201.50,88.40 L202.00,88.40 L202.50,88.40 L203.00,88.40 L203.50,88.40 L204.00,88.40 L204.50,88.40 L205.00,88.40 L205.50,88.39 L206.00,88.39 L206.50,88.37 L207.00,88.35 L207.50,88.30 L208.00,88.24 L208.50,88.14 L209.00,87.99 L209.50,87.81 L210.00,87.72 L210.50,87.38 L211.00,87.40 L211.50,87.16 L212.00,87.25 L212.50,87.01 L213.00,87.16 L213.50,86.90 L214.00,86.73 L214.50,86.47 L215.00,86.35 L215.50,85.91 L216.00,85.71 L216.50,86.20 L217.00,85.87 L217.50,84.78 L218.00,83.05 L218.50,81.42 L219.00,81.71 L219.50,82.84 L220.00,83.76 L220.50,81.95 L221.00,81.24 L221.50,82.85 L222.00,83.90 L222.50,83.95 L223.00,83.67 L223.50,84.58 L224.00,85.61 L224.50,86.77 L225.00,87.42 L225.50,86.96 L226.00,86.12 L226.50,84.70 L227.00,84.19 L227.50,85.54 L228.00,86.85 L228.50,86.61 L229.00,85.55 L229.50,85.56 L230.00,86.18 L230.50,87.43 L231.00,88.15 L231.50,88.18 L232.00,87.67 L232.50,86.28 L233.00,85.28 L233.50,85.46 L234.00,86.59 L234.50,87.75 L235.00,88.27 L235.50,88.38 L236.00,88.40 L236.50,88.40 L237.00,88.40 L237.50,88.40 L238.00,88.40 L238.50,88.40 L239.00,88.40 L239.50,88.40 L240.00,88.40 L240.50,88.40 L241.00,88.40 L241.20,88.40 L195.00,88.40 Z" fill="#cc1538" fill-opacity="0.9" stroke="none"/>
<path d="M195.00,88.40 L195.50,88.40 L196.00,88.40 L196.50,88.40 L197.00,88.40 L197.50,88.40 L198.00,88.40 L198.50,88.40 L199.00,88.40 L199.50,88.40 L200.00,88.40 L200.50,88.40 L201.00,88.40 L201.50,88.40 L202.00,88.40 L202.50,88.40 L203.00,88.40 L203.50,88.40 L204.00,88.40 L204.50,88.40 L205.00,88.40 L205.50,88.39 L206.00,88.39 L206.50,88.37 L207.00,88.35 L207.50,88.30 L208.00,88.24 L208.50,88.14 L209.00,87.99 L209.50,87.81 L210.00,87.72 L210.50,87.38 L211.00,87.40 L211.50,87.16 L212.00,87.25 L212.50,87.01 L213.00,87.16 L213.50,86.90 L214.00,86.73 L214.50,86.47 L215.00,86.35 L215.50,85.91 L216.00,85.71 L216.50,86.20 L217.00,85.87 L217.50,84.78 L218.00,83.05 L218.50,81.42 L219.00,81.71 L219.50,82.84 L220.00,83.76 L220.50,81.95 L221.00,81.24 L221.50,82.85 L222.00,83.90 L222.50,83.95 L223.00,83.67 L223.50,84.58 L224.00,85.61 L224.50,86.77 L225.00,87.42 L225.50,86.96 L226.00,86.12 L226.50,84.70 L227.00,84.19 L227.50,85.54 L228.00,86.85 L228.50,86.61 L229.00,85.55 L229.50,85.56 L230.00,86.18 L230.50,87.43 L231.00,88.15 L231.50,88.18 L232.00,87.67 L232.50,86.28 L233.00,85.28 L233.50,85.46 L234.00,86.59 L234.50,87.75 L235.00,88.27 L235.50,88.38 L236.00,88.40 L236.50,88.40 L237.00,88.40 L237.50,88.40 L238.00,88.40 L238.50,88.40 L239.00,88.40 L239.50,88.40 L240.00,88.40 L240.50,88.40 L241.00,88.40" fill="none" stroke="#cc1538" stroke-width="0.85" stroke-linejoin="round"/>
<rect x="144.70" y="35.40" width="48.00" height="53.40" stroke="#000" stroke-width="0.9" fill="none"/>
<line x1="145.70" y1="88.80" x2="145.70" y2="90.20" stroke="#000" stroke-width="0.5"/>
<line x1="148.99" y1="88.80" x2="148.99" y2="90.20" stroke="#000" stroke-width="0.5"/>
<line x1="152.27" y1="88.80" x2="152.27" y2="90.20" stroke="#000" stroke-width="0.5"/>
<line x1="155.56" y1="88.80" x2="155.56" y2="90.20" stroke="#000" stroke-width="0.5"/>
<line x1="158.84" y1="88.80" x2="158.84" y2="90.20" stroke="#000" stroke-width="0.5"/>
<line x1="162.13" y1="88.80" x2="162.13" y2="90.20" stroke="#000" stroke-width="0.5"/>
<line x1="165.41" y1="88.80" x2="165.41" y2="90.20" stroke="#000" stroke-width="0.5"/>
<line x1="168.70" y1="88.80" x2="168.70" y2="90.20" stroke="#000" stroke-width="0.5"/>
<line x1="171.99" y1="88.80" x2="171.99" y2="90.20" stroke="#000" stroke-width="0.5"/>
<line x1="175.27" y1="88.80" x2="175.27" y2="90.20" stroke="#000" stroke-width="0.5"/>
<line x1="178.56" y1="88.80" x2="178.56" y2="90.20" stroke="#000" stroke-width="0.5"/>
<line x1="181.84" y1="88.80" x2="181.84" y2="90.20" stroke="#000" stroke-width="0.5"/>
<line x1="185.13" y1="88.80" x2="185.13" y2="90.20" stroke="#000" stroke-width="0.5"/>
<line x1="188.41" y1="88.80" x2="188.41" y2="90.20" stroke="#000" stroke-width="0.5"/>
<line x1="191.70" y1="88.80" x2="191.70" y2="90.20" stroke="#000" stroke-width="0.5"/>
<rect x="194.40" y="35.40" width="47.30" height="53.40" stroke="#000" stroke-width="0.9" fill="none"/>
<line x1="195.40" y1="88.80" x2="195.40" y2="90.20" stroke="#000" stroke-width="0.5"/>
<line x1="198.64" y1="88.80" x2="198.64" y2="90.20" stroke="#000" stroke-width="0.5"/>
<line x1="201.87" y1="88.80" x2="201.87" y2="90.20" stroke="#000" stroke-width="0.5"/>
<line x1="205.11" y1="88.80" x2="205.11" y2="90.20" stroke="#000" stroke-width="0.5"/>
<line x1="208.34" y1="88.80" x2="208.34" y2="90.20" stroke="#000" stroke-width="0.5"/>
<line x1="211.58" y1="88.80" x2="211.58" y2="90.20" stroke="#000" stroke-width="0.5"/>
<line x1="214.81" y1="88.80" x2="214.81" y2="90.20" stroke="#000" stroke-width="0.5"/>
<line x1="218.05" y1="88.80" x2="218.05" y2="90.20" stroke="#000" stroke-width="0.5"/>
<line x1="221.29" y1="88.80" x2="221.29" y2="90.20" stroke="#000" stroke-width="0.5"/>
<line x1="224.52" y1="88.80" x2="224.52" y2="90.20" stroke="#000" stroke-width="0.5"/>
<line x1="227.76" y1="88.80" x2="227.76" y2="90.20" stroke="#000" stroke-width="0.5"/>
<line x1="230.99" y1="88.80" x2="230.99" y2="90.20" stroke="#000" stroke-width="0.5"/>
<line x1="234.23" y1="88.80" x2="234.23" y2="90.20" stroke="#000" stroke-width="0.5"/>
<line x1="237.46" y1="88.80" x2="237.46" y2="90.20" stroke="#000" stroke-width="0.5"/>
<line x1="240.70" y1="88.80" x2="240.70" y2="90.20" stroke="#000" stroke-width="0.5"/>
<text x="151.00" y="99.17" font-size="6.3" textLength="2.80" lengthAdjust="spacingAndGlyphs">0</text>
<text x="161.13" y="99.41" font-size="7.0" textLength="5.92" lengthAdjust="spacingAndGlyphs">10</text>
<text x="167.19" y="96.61" font-size="4.34">3</text>
<text x="173.13" y="99.41" font-size="7.0" textLength="5.92" lengthAdjust="spacingAndGlyphs">10</text>
<text x="179.19" y="96.61" font-size="4.34">4</text>
<text x="184.63" y="99.41" font-size="7.0" textLength="5.92" lengthAdjust="spacingAndGlyphs">10</text>
<text x="190.69" y="96.61" font-size="4.34">5</text>
<text x="200.20" y="99.17" font-size="6.3" textLength="2.80" lengthAdjust="spacingAndGlyphs">0</text>
<text x="210.13" y="99.41" font-size="7.0" textLength="5.92" lengthAdjust="spacingAndGlyphs">10</text>
<text x="216.19" y="96.61" font-size="4.34">3</text>
<text x="222.13" y="99.41" font-size="7.0" textLength="5.92" lengthAdjust="spacingAndGlyphs">10</text>
<text x="228.19" y="96.61" font-size="4.34">4</text>
<text x="234.13" y="99.41" font-size="7.0" textLength="5.92" lengthAdjust="spacingAndGlyphs">10</text>
<text x="240.19" y="96.61" font-size="4.34">5</text>
<line x1="152.00" y1="104.40" x2="212.80" y2="104.40" stroke="#000" stroke-width="0.9"/>
<path d="M215.50,104.40 L212.30,102.80 L212.30,106.00 Z" fill="#000"/>
<text x="217.60" y="107.15" font-size="8.0" textLength="14.80" lengthAdjust="spacingAndGlyphs">CTV</text>
<text x="268.70" y="15.50" font-size="11" font-weight="bold">C</text>
<text x="291.00" y="17.01" font-size="7.6" textLength="17.50" lengthAdjust="spacingAndGlyphs">FMO</text>
<text x="291.00" y="26.51" font-size="7.6" fill="#3b6ea6" textLength="26.20" lengthAdjust="spacingAndGlyphs">5TGM1</text>
<text x="291.00" y="36.01" font-size="7.6" fill="#cc1538" textLength="53.70" lengthAdjust="spacingAndGlyphs">5TGM1-BCMA</text>
<path d="M291.50,87.03 L292.00,86.48 L292.50,84.98 L293.00,82.47 L293.50,81.92 L294.00,79.32 L294.50,75.94 L295.00,71.17 L295.50,69.87 L296.00,65.19 L296.50,62.84 L297.00,62.12 L297.50,58.64 L298.00,56.21 L298.50,52.90 L299.00,47.25 L299.50,46.76 L300.00,46.11 L300.50,45.87 L301.00,52.93 L301.50,60.22 L302.00,65.92 L302.50,70.47 L303.00,72.07 L303.50,76.97 L304.00,79.37 L304.50,80.58 L305.00,82.77 L305.50,83.28 L306.00,85.26 L306.50,86.75 L307.00,87.20 L307.50,87.32 L308.00,87.43 L308.50,87.47 L309.00,87.49 L309.50,87.50 L310.00,87.50 L310.50,87.50 L311.00,87.50 L311.50,87.50 L312.00,87.50 L312.50,87.50 L313.00,87.50 L313.50,87.50 L314.00,87.50 L314.50,87.50 L315.00,87.50 L315.50,87.50 L316.00,87.50 L316.50,87.50 L317.00,87.50 L317.50,87.50 L318.00,87.50 L318.00,87.50 L291.50,87.50 Z" fill="#b9cde3" fill-opacity="0.95" stroke="none"/>
<path d="M291.50,87.03 L292.00,86.48 L292.50,84.98 L293.00,82.47 L293.50,81.92 L294.00,79.32 L294.50,75.94 L295.00,71.17 L295.50,69.87 L296.00,65.19 L296.50,62.84 L297.00,62.12 L297.50,58.64 L298.00,56.21 L298.50,52.90 L299.00,47.25 L299.50,46.76 L300.00,46.11 L300.50,45.87 L301.00,52.93 L301.50,60.22 L302.00,65.92 L302.50,70.47 L303.00,72.07 L303.50,76.97 L304.00,79.37 L304.50,80.58 L305.00,82.77 L305.50,83.28 L306.00,85.26 L306.50,86.75 L307.00,87.20 L307.50,87.32 L308.00,87.43 L308.50,87.47 L309.00,87.49 L309.50,87.50 L310.00,87.50 L310.50,87.50 L311.00,87.50 L311.50,87.50 L312.00,87.50 L312.50,87.50 L313.00,87.50 L313.50,87.50 L314.00,87.50 L314.50,87.50 L315.00,87.50 L315.50,87.50 L316.00,87.50 L316.50,87.50 L317.00,87.50 L317.50,87.50 L318.00,87.50" fill="none" stroke="#2d5f98" stroke-width="0.9" stroke-linejoin="round"/>
<path d="M291.50,87.29 L292.00,87.24 L292.50,86.95 L293.00,86.46 L293.50,84.82 L294.00,84.31 L294.50,82.14 L295.00,81.48 L295.50,77.81 L296.00,73.84 L296.50,71.13 L297.00,66.55 L297.50,63.34 L298.00,61.70 L298.50,60.45 L299.00,57.38 L299.50,58.50 L300.00,59.19 L300.50,58.52 L301.00,59.82 L301.50,61.85 L302.00,63.97 L302.50,68.55 L303.00,71.90 L303.50,75.01 L304.00,76.09 L304.50,81.01 L305.00,83.28 L305.50,85.44 L306.00,86.28 L306.50,86.83 L307.00,87.02 L307.50,87.24 L308.00,87.38 L308.50,87.45 L309.00,87.48 L309.50,87.49 L310.00,87.50 L310.50,87.50 L311.00,87.50 L311.50,87.50 L312.00,87.50 L312.50,87.50 L313.00,87.50 L313.50,87.50 L314.00,87.50 L314.50,87.50 L315.00,87.50 L315.50,87.50 L316.00,87.50 L316.50,87.50 L317.00,87.50 L317.50,87.50 L318.00,87.50" fill="none" stroke="#555" stroke-width="0.5" stroke-linejoin="round"/>
<path d="M300.00,87.49 L300.50,87.47 L301.00,87.44 L301.50,87.38 L302.00,87.27 L302.50,87.06 L303.00,86.71 L303.50,86.02 L304.00,85.99 L304.50,84.46 L305.00,82.74 L305.50,81.36 L306.00,81.57 L306.50,78.78 L307.00,77.08 L307.50,75.48 L308.00,72.42 L308.50,71.38 L309.00,69.25 L309.50,65.31 L310.00,62.77 L310.50,59.78 L311.00,55.86 L311.50,52.21 L312.00,51.71 L312.50,51.10 L313.00,53.77 L313.50,59.05 L314.00,63.11 L314.50,67.67 L315.00,72.59 L315.50,75.57 L316.00,79.61 L316.50,82.00 L317.00,81.66 L317.50,84.83 L318.00,85.93 L318.50,85.89 L319.00,86.68 L319.50,87.25 L320.00,87.32 L320.50,87.42 L321.00,87.46 L321.50,87.49 L322.00,87.49 L322.50,87.50 L323.00,87.50 L323.50,87.50 L324.00,87.50 L324.50,87.50 L325.00,87.50 L325.50,87.50 L326.00,87.50 L326.50,87.50 L327.00,87.50 L327.50,87.50 L328.00,87.50 L328.50,87.50 L329.00,87.50 L329.50,87.50 L330.00,87.50 L330.00,87.50 L300.00,87.50 Z" fill="#f3b3bf" fill-opacity="0.7" stroke="none"/>
<path d="M300.00,87.49 L300.50,87.47 L301.00,87.44 L301.50,87.38 L302.00,87.27 L302.50,87.06 L303.00,86.71 L303.50,86.02 L304.00,85.99 L304.50,84.46 L305.00,82.74 L305.50,81.36 L306.00,81.57 L306.50,78.78 L307.00,77.08 L307.50,75.48 L308.00,72.42 L308.50,71.38 L309.00,69.25 L309.50,65.31 L310.00,62.77 L310.50,59.78 L311.00,55.86 L311.50,52.21 L312.00,51.71 L312.50,51.10 L313.00,53.77 L313.50,59.05 L314.00,63.11 L314.50,67.67 L315.00,72.59 L315.50,75.57 L316.00,79.61 L316.50,82.00 L317.00,81.66 L317.50,84.83 L318.00,85.93 L318.50,85.89 L319.00,86.68 L319.50,87.25 L320.00,87.32 L320.50,87.42 L321.00,87.46 L321.50,87.49 L322.00,87.49 L322.50,87.50 L323.00,87.50 L323.50,87.50 L324.00,87.50 L324.50,87.50 L325.00,87.50 L325.50,87.50 L326.00,87.50 L326.50,87.50 L327.00,87.50 L327.50,87.50 L328.00,87.50 L328.50,87.50 L329.00,87.50 L329.50,87.50 L330.00,87.50" fill="none" stroke="#cc1538" stroke-width="0.85" stroke-linejoin="round"/>
<rect x="290.60" y="40.30" width="48.90" height="47.20" stroke="#000" stroke-width="0.9" fill="none"/>
<line x1="289.30" y1="41.30" x2="290.60" y2="41.30" stroke="#000" stroke-width="0.5"/>
<line x1="289.30" y1="45.07" x2="290.60" y2="45.07" stroke="#000" stroke-width="0.5"/>
<line x1="289.30" y1="48.83" x2="290.60" y2="48.83" stroke="#000" stroke-width="0.5"/>
<line x1="289.30" y1="52.60" x2="290.60" y2="52.60" stroke="#000" stroke-width="0.5"/>
<line x1="289.30" y1="56.37" x2="290.60" y2="56.37" stroke="#000" stroke-width="0.5"/>
<line x1="289.30" y1="60.13" x2="290.60" y2="60.13" stroke="#000" stroke-width="0.5"/>
<line x1="289.30" y1="63.90" x2="290.60" y2="63.90" stroke="#000" stroke-width="0.5"/>
<line x1="289.30" y1="67.67" x2="290.60" y2="67.67" stroke="#000" stroke-width="0.5"/>
<line x1="289.30" y1="71.43" x2="290.60" y2="71.43" stroke="#000" stroke-width="0.5"/>
<line x1="289.30" y1="75.20" x2="290.60" y2="75.20" stroke="#000" stroke-width="0.5"/>
<line x1="289.30" y1="78.97" x2="290.60" y2="78.97" stroke="#000" stroke-width="0.5"/>
<line x1="289.30" y1="82.73" x2="290.60" y2="82.73" stroke="#000" stroke-width="0.5"/>
<line x1="289.30" y1="86.50" x2="290.60" y2="86.50" stroke="#000" stroke-width="0.5"/>
<line x1="291.60" y1="87.50" x2="291.60" y2="88.80" stroke="#000" stroke-width="0.5"/>
<line x1="295.51" y1="87.50" x2="295.51" y2="88.80" stroke="#000" stroke-width="0.5"/>
<line x1="299.42" y1="87.50" x2="299.42" y2="88.80" stroke="#000" stroke-width="0.5"/>
<line x1="303.33" y1="87.50" x2="303.33" y2="88.80" stroke="#000" stroke-width="0.5"/>
<line x1="307.23" y1="87.50" x2="307.23" y2="88.80" stroke="#000" stroke-width="0.5"/>
<line x1="311.14" y1="87.50" x2="311.14" y2="88.80" stroke="#000" stroke-width="0.5"/>
<line x1="315.05" y1="87.50" x2="315.05" y2="88.80" stroke="#000" stroke-width="0.5"/>
<line x1="318.96" y1="87.50" x2="318.96" y2="88.80" stroke="#000" stroke-width="0.5"/>
<line x1="322.87" y1="87.50" x2="322.87" y2="88.80" stroke="#000" stroke-width="0.5"/>
<line x1="326.77" y1="87.50" x2="326.77" y2="88.80" stroke="#000" stroke-width="0.5"/>
<line x1="330.68" y1="87.50" x2="330.68" y2="88.80" stroke="#000" stroke-width="0.5"/>
<line x1="334.59" y1="87.50" x2="334.59" y2="88.80" stroke="#000" stroke-width="0.5"/>
<line x1="338.50" y1="87.50" x2="338.50" y2="88.80" stroke="#000" stroke-width="0.5"/>
<text x="276.40" y="44.57" font-size="6.6" textLength="9.80" lengthAdjust="spacingAndGlyphs">100</text>
<text x="283.10" y="90.17" font-size="6.6" textLength="3.10" lengthAdjust="spacingAndGlyphs">0</text>
<text x="274.82" y="77.90" font-size="8.5" textLength="28.00" lengthAdjust="spacingAndGlyphs" transform="rotate(-90 274.82 77.90)" fill="#000" stroke="#000" stroke-width="0.15">% of max</text>
<text x="295.00" y="97.17" font-size="6.6" textLength="3.10" lengthAdjust="spacingAndGlyphs">0</text>
<text x="309.72" y="97.31" font-size="7.0" textLength="6.23" lengthAdjust="spacingAndGlyphs">10</text>
<text x="316.10" y="94.51" font-size="4.34">3</text>
<text x="320.32" y="97.31" font-size="7.0" textLength="6.23" lengthAdjust="spacingAndGlyphs">10</text>
<text x="326.70" y="94.51" font-size="4.34">4</text>
<text x="330.72" y="97.31" font-size="7.0" textLength="6.23" lengthAdjust="spacingAndGlyphs">10</text>
<text x="337.10" y="94.51" font-size="4.34">5</text>
<line x1="291.00" y1="102.50" x2="306.30" y2="102.50" stroke="#000" stroke-width="0.9"/>
<path d="M309.00,102.50 L305.80,100.90 L305.80,104.10 Z" fill="#000"/>
<text x="311.00" y="105.11" font-size="7.6" textLength="22.70" lengthAdjust="spacingAndGlyphs">BCMA</text>
<text x="370.00" y="15.30" font-size="11" font-weight="bold">D</text>
<line x1="411.70" y1="22.50" x2="411.70" y2="78.30" stroke="#000" stroke-width="1.0"/>
<line x1="411.70" y1="77.90" x2="456.30" y2="77.90" stroke="#000" stroke-width="1.0"/>
<line x1="409.30" y1="23.10" x2="411.70" y2="23.10" stroke="#000" stroke-width="0.8"/>
<text x="393.80" y="25.71" font-size="7.6" textLength="15.00" lengthAdjust="spacingAndGlyphs">100</text>
<line x1="409.30" y1="36.90" x2="411.70" y2="36.90" stroke="#000" stroke-width="0.8"/>
<text x="398.80" y="39.51" font-size="7.6" textLength="10.00" lengthAdjust="spacingAndGlyphs">75</text>
<line x1="409.30" y1="50.80" x2="411.70" y2="50.80" stroke="#000" stroke-width="0.8"/>
<text x="398.80" y="53.41" font-size="7.6" textLength="10.00" lengthAdjust="spacingAndGlyphs">50</text>
<line x1="409.30" y1="64.60" x2="411.70" y2="64.60" stroke="#000" stroke-width="0.8"/>
<text x="398.80" y="67.21" font-size="7.6" textLength="10.00" lengthAdjust="spacingAndGlyphs">25</text>
<line x1="409.30" y1="78.30" x2="411.70" y2="78.30" stroke="#000" stroke-width="0.8"/>
<text x="403.80" y="80.91" font-size="7.6" textLength="5.00" lengthAdjust="spacingAndGlyphs">0</text>
<line x1="419.20" y1="77.90" x2="419.20" y2="80.60" stroke="#000" stroke-width="0.8"/>
<line x1="436.50" y1="77.90" x2="436.50" y2="80.60" stroke="#000" stroke-width="0.8"/>
<line x1="453.50" y1="77.90" x2="453.50" y2="80.60" stroke="#000" stroke-width="0.8"/>
<line x1="412.36" y1="77.90" x2="412.36" y2="79.40" stroke="#000" stroke-width="0.5"/>
<line x1="414.02" y1="77.90" x2="414.02" y2="79.40" stroke="#000" stroke-width="0.5"/>
<line x1="415.38" y1="77.90" x2="415.38" y2="79.40" stroke="#000" stroke-width="0.5"/>
<line x1="416.54" y1="77.90" x2="416.54" y2="79.40" stroke="#000" stroke-width="0.5"/>
<line x1="417.53" y1="77.90" x2="417.53" y2="79.40" stroke="#000" stroke-width="0.5"/>
<line x1="418.41" y1="77.90" x2="418.41" y2="79.40" stroke="#000" stroke-width="0.5"/>
<line x1="424.38" y1="77.90" x2="424.38" y2="79.40" stroke="#000" stroke-width="0.5"/>
<line x1="427.41" y1="77.90" x2="427.41" y2="79.40" stroke="#000" stroke-width="0.5"/>
<line x1="429.56" y1="77.90" x2="429.56" y2="79.40" stroke="#000" stroke-width="0.5"/>
<line x1="431.22" y1="77.90" x2="431.22" y2="79.40" stroke="#000" stroke-width="0.5"/>
<line x1="432.58" y1="77.90" x2="432.58" y2="79.40" stroke="#000" stroke-width="0.5"/>
<line x1="433.74" y1="77.90" x2="433.74" y2="79.40" stroke="#000" stroke-width="0.5"/>
<line x1="434.73" y1="77.90" x2="434.73" y2="79.40" stroke="#000" stroke-width="0.5"/>
<line x1="435.61" y1="77.90" x2="435.61" y2="79.40" stroke="#000" stroke-width="0.5"/>
<line x1="441.68" y1="77.90" x2="441.68" y2="79.40" stroke="#000" stroke-width="0.5"/>
<line x1="444.71" y1="77.90" x2="444.71" y2="79.40" stroke="#000" stroke-width="0.5"/>
<line x1="446.86" y1="77.90" x2="446.86" y2="79.40" stroke="#000" stroke-width="0.5"/>
<line x1="448.52" y1="77.90" x2="448.52" y2="79.40" stroke="#000" stroke-width="0.5"/>
<line x1="449.88" y1="77.90" x2="449.88" y2="79.40" stroke="#000" stroke-width="0.5"/>
<line x1="451.04" y1="77.90" x2="451.04" y2="79.40" stroke="#000" stroke-width="0.5"/>
<line x1="452.03" y1="77.90" x2="452.03" y2="79.40" stroke="#000" stroke-width="0.5"/>
<line x1="452.91" y1="77.90" x2="452.91" y2="79.40" stroke="#000" stroke-width="0.5"/>
<text x="412.80" y="89.91" font-size="7.6" textLength="12.80" lengthAdjust="spacingAndGlyphs">0.01</text>
<text x="431.80" y="89.91" font-size="7.6" textLength="9.40" lengthAdjust="spacingAndGlyphs">0.1</text>
<text x="451.70" y="89.91" font-size="7.6" textLength="3.60" lengthAdjust="spacingAndGlyphs">1</text>
<text x="414.00" y="101.69" font-size="8.4" stroke="#000" stroke-width="0.22" textLength="40.40" lengthAdjust="spacingAndGlyphs">BsAb (µg/ml)</text>
<text x="376.89" y="65.80" font-size="8.4" textLength="33.10" lengthAdjust="spacingAndGlyphs" transform="rotate(-90 376.89 65.80)" fill="#000" stroke="#000" stroke-width="0.15">Cell viability</text>
<text x="388.89" y="68.70" font-size="8.4" textLength="39.50" lengthAdjust="spacingAndGlyphs" transform="rotate(-90 388.89 68.70)" fill="#000" stroke="#000" stroke-width="0.15">(% of control)</text>
<polyline points="417.3,27.7 422.3,28.8 432.7,31.9 437.7,31.2 443.1,32.5" fill="none" stroke="#0f4c8e" stroke-width="1.1"/>
<polyline points="417.3,40.2 422.3,51.0 432.7,71.5 437.7,74.8 443.1,76.9" fill="none" stroke="#cc1538" stroke-width="1.1"/>
<circle cx="417.3" cy="27.7" r="1.6" fill="#0f4c8e"/>
<circle cx="422.3" cy="28.8" r="1.6" fill="#0f4c8e"/>
<circle cx="432.7" cy="31.9" r="1.6" fill="#0f4c8e"/>
<circle cx="437.7" cy="31.2" r="1.6" fill="#0f4c8e"/>
<circle cx="443.1" cy="32.5" r="1.6" fill="#0f4c8e"/>
<circle cx="417.3" cy="40.2" r="1.6" fill="#cc1538"/>
<circle cx="422.3" cy="51.0" r="1.6" fill="#cc1538"/>
<circle cx="432.7" cy="71.5" r="1.6" fill="#cc1538"/>
<circle cx="437.7" cy="74.8" r="1.6" fill="#cc1538"/>
<circle cx="443.1" cy="76.9" r="1.6" fill="#cc1538"/>
<text x="415.60" y="37.40" font-size="6.5" textLength="9.00" lengthAdjust="spacingAndGlyphs">***</text>
<text x="423.00" y="48.80" font-size="6.5" textLength="8.30" lengthAdjust="spacingAndGlyphs">***</text>
<text x="429.40" y="63.80" font-size="6.5" textLength="11.60" lengthAdjust="spacingAndGlyphs">****</text>
<text x="438.00" y="70.10" font-size="6.5" textLength="11.60" lengthAdjust="spacingAndGlyphs">****</text>
<text x="445.40" y="75.90" font-size="6.5" textLength="11.60" lengthAdjust="spacingAndGlyphs">****</text>
<line x1="456.10" y1="33.70" x2="463.20" y2="33.70" stroke="#0f4c8e" stroke-width="1.1"/>
<circle cx="459.7" cy="33.7" r="1.6" fill="#0f4c8e"/>
<line x1="456.30" y1="43.30" x2="463.50" y2="43.30" stroke="#cc1538" stroke-width="1.1"/>
<circle cx="459.9" cy="43.3" r="1.6" fill="#cc1538"/>
<text x="465.90" y="35.87" font-size="6.6" textLength="23.10" lengthAdjust="spacingAndGlyphs">5TGM1</text>
<text x="465.90" y="46.07" font-size="6.6" textLength="47.10" lengthAdjust="spacingAndGlyphs">5TGM1-BCMA</text>
<text x="7.30" y="128.30" font-size="11" font-weight="bold">E</text>
<text x="79.50" y="135.12" font-size="7.9" textLength="62.40" lengthAdjust="spacingAndGlyphs">CD3/BCMA BsAb</text>
<text x="95.80" y="144.42" font-size="7.9" textLength="30.90" lengthAdjust="spacingAndGlyphs">25 µg i.p.</text>
<text x="12.50" y="153.72" font-size="7.9" textLength="29.40" lengthAdjust="spacingAndGlyphs">Vk14451</text>
<text x="23.50" y="163.22" font-size="7.9" textLength="8.20" lengthAdjust="spacingAndGlyphs">i.v.</text>
<line x1="27.50" y1="169.30" x2="120.90" y2="169.30" stroke="#222" stroke-width="1.2"/>
<path d="M124.60,169.30 L120.40,167.30 L120.40,171.30 Z" fill="#222"/>
<line x1="27.50" y1="166.70" x2="27.50" y2="172.00" stroke="#000" stroke-width="1.0"/>
<line x1="108.70" y1="147.50" x2="108.70" y2="164.00" stroke="#cc1538" stroke-width="1.1"/>
<path d="M108.7,168 L106.6,163.5 L110.8,163.5 Z" fill="#cc1538"/>
<line x1="108.70" y1="167.00" x2="108.70" y2="172.00" stroke="#000" stroke-width="0.8"/>
<text x="127.50" y="162.32" font-size="7.9" textLength="39.80" lengthAdjust="spacingAndGlyphs">BM analysis</text>
<text x="133.00" y="171.42" font-size="7.9" textLength="29.00" lengthAdjust="spacingAndGlyphs">16h later</text>
<text x="138.80" y="180.22" font-size="7.9" textLength="17.50" lengthAdjust="spacingAndGlyphs">(F-H)</text>
<text x="33.70" y="181.12" font-size="7.9" textLength="73.30" lengthAdjust="spacingAndGlyphs">4–5 weeks to develop</text>
<text x="43.80" y="189.92" font-size="7.9" textLength="53.20" lengthAdjust="spacingAndGlyphs">paraproteinemia</text>
<text x="215.80" y="128.30" font-size="11" font-weight="bold">F</text>
<path d="M272.9,154.50 L273.4,154.50 L273.9,154.50 L274.4,154.50 L274.9,154.50 L275.4,154.50 L275.9,154.50 L276.4,154.50 L276.9,154.50 L277.4,154.50 L277.9,154.50 L278.4,154.50 L278.9,154.14 L279.4,153.21 L279.9,151.53 L280.4,146.78 L280.9,142.06 L281.4,137.53 L281.9,135.98 L282.4,137.32 L282.9,140.08 L283.4,142.90 L283.9,145.93 L284.4,148.93 L284.9,151.09 L285.4,152.64 L285.9,153.70 L286.4,154.15 L286.9,154.33 L287.4,154.45 L287.9,154.50 L288.4,154.50 L288.9,154.50 L289.4,154.50 L289.9,154.50 L290.4,154.50 L290.9,154.50 L291.4,154.50 L291.9,154.50 L292.4,154.50 L292.9,154.50 L293.4,154.50 L293.9,154.50 L294.4,154.50 L294.9,154.50 L295.4,154.50 L295.9,154.50 L296.4,154.50 L296.9,154.50 L297.4,154.50 L297.9,154.50 L298.4,154.50 L298.9,154.50 L299.4,154.50 L299.9,154.50 L300.4,154.50 L300.9,154.50 L301.4,154.50 L301.9,154.50 L302.4,154.50 L302.9,154.50 L303.4,154.50 L303.9,154.50 L304.4,154.50 L304.9,154.50 L305.4,154.50 L305.9,154.50 L306.4,154.50 L306.9,154.50 L307.4,154.50 L307.9,154.50 L308.4,154.50 L308.9,154.50 L309.4,154.50 L309.9,154.50 L310.4,154.50 L310.9,154.50 L311.4,154.50 L311.9,154.50 L312.4,154.50 L312.9,154.50 L313.4,154.50 L313.9,154.50 L314.4,154.50 L314.9,154.50 L315.4,154.50" fill="none" stroke="#8f5bb0" stroke-width="0.85" stroke-linejoin="round"/>
<path d="M272.9,165.40 L273.4,165.40 L273.9,165.40 L274.4,165.40 L274.9,165.40 L275.4,165.40 L275.9,165.40 L276.4,165.40 L276.9,165.40 L277.4,165.40 L277.9,165.40 L278.4,165.40 L278.9,165.40 L279.4,165.40 L279.9,165.40 L280.4,164.89 L280.9,163.59 L281.4,161.41 L281.9,156.66 L282.4,151.44 L282.9,146.86 L283.4,145.74 L283.9,148.44 L284.4,152.28 L284.9,155.86 L285.4,158.44 L285.9,160.88 L286.4,162.37 L286.9,163.33 L287.4,164.35 L287.9,164.31 L288.4,164.38 L288.9,164.29 L289.4,164.19 L289.9,164.38 L290.4,164.30 L290.9,164.23 L291.4,164.46 L291.9,164.43 L292.4,164.32 L292.9,164.22 L293.4,164.43 L293.9,164.38 L294.4,164.44 L294.9,164.08 L295.4,164.13 L295.9,164.12 L296.4,164.02 L296.9,164.40 L297.4,164.12 L297.9,164.32 L298.4,164.61 L298.9,164.68 L299.4,164.65 L299.9,164.87 L300.4,165.11 L300.9,165.35 L301.4,165.40 L301.9,165.40 L302.4,165.40 L302.9,165.40 L303.4,165.40 L303.9,165.40 L304.4,165.40 L304.9,165.40 L305.4,165.40 L305.9,165.40 L306.4,165.40 L306.9,165.40 L307.4,165.40 L307.9,165.40 L308.4,165.40 L308.9,165.40 L309.4,165.40 L309.9,165.40 L310.4,165.40 L310.9,165.40 L311.4,165.40 L311.9,165.40 L312.4,165.40 L312.9,165.40 L313.4,165.40 L313.9,165.40 L314.4,165.40 L314.9,165.40 L315.4,165.40" fill="none" stroke="#3b6ea6" stroke-width="0.85" stroke-linejoin="round"/>
<path d="M272.9,176.60 L273.4,176.60 L273.9,176.60 L274.4,176.60 L274.9,176.60 L275.4,176.60 L275.9,176.60 L276.4,176.60 L276.9,176.60 L277.4,176.60 L277.9,176.60 L278.4,176.60 L278.9,176.60 L279.4,176.60 L279.9,176.60 L280.4,175.63 L280.9,173.71 L281.4,170.75 L281.9,166.21 L282.4,162.07 L282.9,158.54 L283.4,158.70 L283.9,159.93 L284.4,163.43 L284.9,166.33 L285.4,169.94 L285.9,173.15 L286.4,174.00 L286.9,174.58 L287.4,175.18 L287.9,175.54 L288.4,175.42 L288.9,175.68 L289.4,175.56 L289.9,175.44 L290.4,175.57 L290.9,175.50 L291.4,175.73 L291.9,175.70 L292.4,175.95 L292.9,176.08 L293.4,176.31 L293.9,176.55 L294.4,176.60 L294.9,176.60 L295.4,176.60 L295.9,176.60 L296.4,176.60 L296.9,176.60 L297.4,176.60 L297.9,176.60 L298.4,176.60 L298.9,176.60 L299.4,176.60 L299.9,176.60 L300.4,176.60 L300.9,176.60 L301.4,176.60 L301.9,176.60 L302.4,176.60 L302.9,176.60 L303.4,176.60 L303.9,176.60 L304.4,176.60 L304.9,176.60 L305.4,176.60 L305.9,176.60 L306.4,176.60 L306.9,176.60 L307.4,176.60 L307.9,176.60 L308.4,176.60 L308.9,176.60 L309.4,176.60 L309.9,176.60 L310.4,176.60 L310.9,176.60 L311.4,176.60 L311.9,176.60 L312.4,176.60 L312.9,176.60 L313.4,176.60 L313.9,176.60 L314.4,176.60 L314.9,176.60 L315.4,176.60 L315.4,176.60 L272.9,176.60 Z" fill="#c6e9bf" fill-opacity="0.9" stroke="none"/>
<path d="M272.9,176.60 L273.4,176.60 L273.9,176.60 L274.4,176.60 L274.9,176.60 L275.4,176.60 L275.9,176.60 L276.4,176.60 L276.9,176.60 L277.4,176.60 L277.9,176.60 L278.4,176.60 L278.9,176.60 L279.4,176.60 L279.9,176.60 L280.4,175.63 L280.9,173.71 L281.4,170.75 L281.9,166.21 L282.4,162.07 L282.9,158.54 L283.4,158.70 L283.9,159.93 L284.4,163.43 L284.9,166.33 L285.4,169.94 L285.9,173.15 L286.4,174.00 L286.9,174.58 L287.4,175.18 L287.9,175.54 L288.4,175.42 L288.9,175.68 L289.4,175.56 L289.9,175.44 L290.4,175.57 L290.9,175.50 L291.4,175.73 L291.9,175.70 L292.4,175.95 L292.9,176.08 L293.4,176.31 L293.9,176.55 L294.4,176.60 L294.9,176.60 L295.4,176.60 L295.9,176.60 L296.4,176.60 L296.9,176.60 L297.4,176.60 L297.9,176.60 L298.4,176.60 L298.9,176.60 L299.4,176.60 L299.9,176.60 L300.4,176.60 L300.9,176.60 L301.4,176.60 L301.9,176.60 L302.4,176.60 L302.9,176.60 L303.4,176.60 L303.9,176.60 L304.4,176.60 L304.9,176.60 L305.4,176.60 L305.9,176.60 L306.4,176.60 L306.9,176.60 L307.4,176.60 L307.9,176.60 L308.4,176.60 L308.9,176.60 L309.4,176.60 L309.9,176.60 L310.4,176.60 L310.9,176.60 L311.4,176.60 L311.9,176.60 L312.4,176.60 L312.9,176.60 L313.4,176.60 L313.9,176.60 L314.4,176.60 L314.9,176.60 L315.4,176.60" fill="none" stroke="#4db848" stroke-width="0.85" stroke-linejoin="round"/>
<path d="M272.9,186.30 L273.4,186.30 L273.9,186.30 L274.4,186.30 L274.9,186.30 L275.4,186.30 L275.9,186.30 L276.4,186.30 L276.9,186.30 L277.4,186.30 L277.9,186.30 L278.4,186.30 L278.9,186.30 L279.4,186.30 L279.9,185.60 L280.4,184.26 L280.9,183.40 L281.4,182.88 L281.9,181.11 L282.4,179.68 L282.9,178.34 L283.4,178.04 L283.9,176.94 L284.4,177.52 L284.9,178.75 L285.4,179.61 L285.9,181.72 L286.4,182.83 L286.9,183.23 L287.4,182.99 L287.9,183.24 L288.4,182.87 L288.9,183.23 L289.4,182.92 L289.9,182.46 L290.4,183.11 L290.9,182.43 L291.4,182.12 L291.9,182.13 L292.4,180.89 L292.9,180.61 L293.4,179.60 L293.9,178.36 L294.4,176.63 L294.9,175.17 L295.4,173.57 L295.9,172.17 L296.4,170.96 L296.9,170.31 L297.4,169.70 L297.9,170.18 L298.4,170.27 L298.9,170.51 L299.4,170.91 L299.9,171.62 L300.4,172.84 L300.9,173.73 L301.4,174.39 L301.9,176.47 L302.4,178.55 L302.9,180.52 L303.4,182.64 L303.9,183.95 L304.4,185.44 L304.9,186.30 L305.4,186.30 L305.9,186.30 L306.4,186.30 L306.9,186.30 L307.4,186.30 L307.9,186.30 L308.4,186.30 L308.9,186.30 L309.4,186.30 L309.9,186.30 L310.4,186.30 L310.9,186.30 L311.4,186.30 L311.9,186.30 L312.4,186.30 L312.9,186.30 L313.4,186.30 L313.9,186.30 L314.4,186.30 L314.9,186.30 L315.4,186.30 L315.4,186.30 L272.9,186.30 Z" fill="#f3b3bf" fill-opacity="0.8" stroke="none"/>
<path d="M272.9,186.30 L273.4,186.30 L273.9,186.30 L274.4,186.30 L274.9,186.30 L275.4,186.30 L275.9,186.30 L276.4,186.30 L276.9,186.30 L277.4,186.30 L277.9,186.30 L278.4,186.30 L278.9,186.30 L279.4,186.30 L279.9,185.60 L280.4,184.26 L280.9,183.40 L281.4,182.88 L281.9,181.11 L282.4,179.68 L282.9,178.34 L283.4,178.04 L283.9,176.94 L284.4,177.52 L284.9,178.75 L285.4,179.61 L285.9,181.72 L286.4,182.83 L286.9,183.23 L287.4,182.99 L287.9,183.24 L288.4,182.87 L288.9,183.23 L289.4,182.92 L289.9,182.46 L290.4,183.11 L290.9,182.43 L291.4,182.12 L291.9,182.13 L292.4,180.89 L292.9,180.61 L293.4,179.60 L293.9,178.36 L294.4,176.63 L294.9,175.17 L295.4,173.57 L295.9,172.17 L296.4,170.96 L296.9,170.31 L297.4,169.70 L297.9,170.18 L298.4,170.27 L298.9,170.51 L299.4,170.91 L299.9,171.62 L300.4,172.84 L300.9,173.73 L301.4,174.39 L301.9,176.47 L302.4,178.55 L302.9,180.52 L303.4,182.64 L303.9,183.95 L304.4,185.44 L304.9,186.30 L305.4,186.30 L305.9,186.30 L306.4,186.30 L306.9,186.30 L307.4,186.30 L307.9,186.30 L308.4,186.30 L308.9,186.30 L309.4,186.30 L309.9,186.30 L310.4,186.30 L310.9,186.30 L311.4,186.30 L311.9,186.30 L312.4,186.30 L312.9,186.30 L313.4,186.30 L313.9,186.30 L314.4,186.30 L314.9,186.30 L315.4,186.30" fill="none" stroke="#cc1538" stroke-width="0.85" stroke-linejoin="round"/>
<rect x="272.40" y="132.30" width="43.50" height="54.10" stroke="#000" stroke-width="0.9" fill="none"/>
<line x1="273.40" y1="186.40" x2="273.40" y2="187.80" stroke="#000" stroke-width="0.5"/>
<line x1="276.36" y1="186.40" x2="276.36" y2="187.80" stroke="#000" stroke-width="0.5"/>
<line x1="279.33" y1="186.40" x2="279.33" y2="187.80" stroke="#000" stroke-width="0.5"/>
<line x1="282.29" y1="186.40" x2="282.29" y2="187.80" stroke="#000" stroke-width="0.5"/>
<line x1="285.26" y1="186.40" x2="285.26" y2="187.80" stroke="#000" stroke-width="0.5"/>
<line x1="288.22" y1="186.40" x2="288.22" y2="187.80" stroke="#000" stroke-width="0.5"/>
<line x1="291.19" y1="186.40" x2="291.19" y2="187.80" stroke="#000" stroke-width="0.5"/>
<line x1="294.15" y1="186.40" x2="294.15" y2="187.80" stroke="#000" stroke-width="0.5"/>
<line x1="297.11" y1="186.40" x2="297.11" y2="187.80" stroke="#000" stroke-width="0.5"/>
<line x1="300.08" y1="186.40" x2="300.08" y2="187.80" stroke="#000" stroke-width="0.5"/>
<line x1="303.04" y1="186.40" x2="303.04" y2="187.80" stroke="#000" stroke-width="0.5"/>
<line x1="306.01" y1="186.40" x2="306.01" y2="187.80" stroke="#000" stroke-width="0.5"/>
<line x1="308.97" y1="186.40" x2="308.97" y2="187.80" stroke="#000" stroke-width="0.5"/>
<line x1="311.94" y1="186.40" x2="311.94" y2="187.80" stroke="#000" stroke-width="0.5"/>
<line x1="314.90" y1="186.40" x2="314.90" y2="187.80" stroke="#000" stroke-width="0.5"/>
<text x="283.50" y="129.26" font-size="8.3" textLength="21.50" lengthAdjust="spacingAndGlyphs">CD8T</text>
<text x="279.20" y="197.64" font-size="6.8" textLength="2.90" lengthAdjust="spacingAndGlyphs">0</text>
<text x="287.79" y="197.64" font-size="6.8" textLength="5.82" lengthAdjust="spacingAndGlyphs">10</text>
<text x="293.76" y="194.92" font-size="4.22">3</text>
<text x="298.49" y="197.64" font-size="6.8" textLength="5.82" lengthAdjust="spacingAndGlyphs">10</text>
<text x="304.46" y="194.92" font-size="4.22">4</text>
<text x="308.79" y="197.64" font-size="6.8" textLength="5.82" lengthAdjust="spacingAndGlyphs">10</text>
<text x="314.76" y="194.92" font-size="4.22">5</text>
<path d="M321.8,154.50 L322.3,154.50 L322.8,154.50 L323.3,154.50 L323.8,154.50 L324.3,154.50 L324.8,154.50 L325.3,154.50 L325.8,154.50 L326.3,154.50 L326.8,154.50 L327.3,154.29 L327.8,153.42 L328.3,152.60 L328.8,150.64 L329.3,148.85 L329.8,146.53 L330.3,143.24 L330.8,140.60 L331.3,138.05 L331.8,136.04 L332.3,135.43 L332.8,137.45 L333.3,140.00 L333.8,142.45 L334.3,145.56 L334.8,148.11 L335.3,150.92 L335.8,152.77 L336.3,153.83 L336.8,154.28 L337.3,154.48 L337.8,154.50 L338.3,154.50 L338.8,154.50 L339.3,154.50 L339.8,154.50 L340.3,154.50 L340.8,154.50 L341.3,154.50 L341.8,154.50 L342.3,154.50 L342.8,154.50 L343.3,154.50 L343.8,154.50 L344.3,154.50 L344.8,154.50 L345.3,154.50 L345.8,154.50 L346.3,154.50 L346.8,154.50 L347.3,154.50 L347.8,154.50 L348.3,154.50 L348.8,154.50 L349.3,154.50 L349.8,154.50 L350.3,154.50 L350.8,154.50 L351.3,154.50 L351.8,154.50 L352.3,154.50 L352.8,154.50 L353.3,154.50 L353.8,154.50 L354.3,154.50 L354.8,154.50 L355.3,154.50 L355.8,154.50 L356.3,154.50 L356.8,154.50 L357.3,154.50 L357.8,154.50 L358.3,154.50 L358.8,154.50 L359.3,154.50 L359.8,154.50 L360.3,154.50 L360.8,154.50 L361.3,154.50 L361.8,154.50 L362.3,154.50 L362.8,154.50 L363.3,154.50 L363.8,154.50" fill="none" stroke="#8f5bb0" stroke-width="0.85" stroke-linejoin="round"/>
<path d="M321.8,165.40 L322.3,165.40 L322.8,165.40 L323.3,165.40 L323.8,165.40 L324.3,165.40 L324.8,165.40 L325.3,165.40 L325.8,165.40 L326.3,165.40 L326.8,165.40 L327.3,165.40 L327.8,165.40 L328.3,165.40 L328.8,164.78 L329.3,163.38 L329.8,162.09 L330.3,160.41 L330.8,157.35 L331.3,154.66 L331.8,151.90 L332.3,150.37 L332.8,149.71 L333.3,150.99 L333.8,153.20 L334.3,155.56 L334.8,158.91 L335.3,160.96 L335.8,161.51 L336.3,162.29 L336.8,161.92 L337.3,162.60 L337.8,162.27 L338.3,161.94 L338.8,162.43 L339.3,162.73 L339.8,161.61 L340.3,161.48 L340.8,161.19 L341.3,161.86 L341.8,161.66 L342.3,161.90 L342.8,162.51 L343.3,162.34 L343.8,163.30 L344.3,163.69 L344.8,163.59 L345.3,164.21 L345.8,164.57 L346.3,164.95 L346.8,165.13 L347.3,165.28 L347.8,165.38 L348.3,165.40 L348.8,165.40 L349.3,165.40 L349.8,165.40 L350.3,165.40 L350.8,165.40 L351.3,165.40 L351.8,165.40 L352.3,165.40 L352.8,165.40 L353.3,165.40 L353.8,165.40 L354.3,165.40 L354.8,165.40 L355.3,165.40 L355.8,165.40 L356.3,165.40 L356.8,165.40 L357.3,165.40 L357.8,165.40 L358.3,165.40 L358.8,165.40 L359.3,165.40 L359.8,165.40 L360.3,165.40 L360.8,165.40 L361.3,165.40 L361.8,165.40 L362.3,165.40 L362.8,165.40 L363.3,165.40 L363.8,165.40" fill="none" stroke="#3b6ea6" stroke-width="0.85" stroke-linejoin="round"/>
<path d="M321.8,176.60 L322.3,176.60 L322.8,176.60 L323.3,176.60 L323.8,176.60 L324.3,176.60 L324.8,176.60 L325.3,176.60 L325.8,176.60 L326.3,176.60 L326.8,176.60 L327.3,176.60 L327.8,176.60 L328.3,176.60 L328.8,175.81 L329.3,174.31 L329.8,172.77 L330.3,170.27 L330.8,167.86 L331.3,164.55 L331.8,161.91 L332.3,160.50 L332.8,160.59 L333.3,161.75 L333.8,160.88 L334.3,161.21 L334.8,162.41 L335.3,166.21 L335.8,167.44 L336.3,169.73 L336.8,170.44 L337.3,171.20 L337.8,171.04 L338.3,171.08 L338.8,171.22 L339.3,170.95 L339.8,170.67 L340.3,170.86 L340.8,169.96 L341.3,169.49 L341.8,169.36 L342.3,169.46 L342.8,169.50 L343.3,169.44 L343.8,169.45 L344.3,169.96 L344.8,170.91 L345.3,170.85 L345.8,172.34 L346.3,172.64 L346.8,173.32 L347.3,174.24 L347.8,175.26 L348.3,175.68 L348.8,175.93 L349.3,176.18 L349.8,176.43 L350.3,176.57 L350.8,176.60 L351.3,176.60 L351.8,176.60 L352.3,176.60 L352.8,176.60 L353.3,176.60 L353.8,176.60 L354.3,176.60 L354.8,176.60 L355.3,176.60 L355.8,176.60 L356.3,176.60 L356.8,176.60 L357.3,176.60 L357.8,176.60 L358.3,176.60 L358.8,176.60 L359.3,176.60 L359.8,176.60 L360.3,176.60 L360.8,176.60 L361.3,176.60 L361.8,176.60 L362.3,176.60 L362.8,176.60 L363.3,176.60 L363.8,176.60 L364.0,176.60 L321.8,176.60 Z" fill="#c6e9bf" fill-opacity="0.9" stroke="none"/>
<path d="M321.8,176.60 L322.3,176.60 L322.8,176.60 L323.3,176.60 L323.8,176.60 L324.3,176.60 L324.8,176.60 L325.3,176.60 L325.8,176.60 L326.3,176.60 L326.8,176.60 L327.3,176.60 L327.8,176.60 L328.3,176.60 L328.8,175.81 L329.3,174.31 L329.8,172.77 L330.3,170.27 L330.8,167.86 L331.3,164.55 L331.8,161.91 L332.3,160.50 L332.8,160.59 L333.3,161.75 L333.8,160.88 L334.3,161.21 L334.8,162.41 L335.3,166.21 L335.8,167.44 L336.3,169.73 L336.8,170.44 L337.3,171.20 L337.8,171.04 L338.3,171.08 L338.8,171.22 L339.3,170.95 L339.8,170.67 L340.3,170.86 L340.8,169.96 L341.3,169.49 L341.8,169.36 L342.3,169.46 L342.8,169.50 L343.3,169.44 L343.8,169.45 L344.3,169.96 L344.8,170.91 L345.3,170.85 L345.8,172.34 L346.3,172.64 L346.8,173.32 L347.3,174.24 L347.8,175.26 L348.3,175.68 L348.8,175.93 L349.3,176.18 L349.8,176.43 L350.3,176.57 L350.8,176.60 L351.3,176.60 L351.8,176.60 L352.3,176.60 L352.8,176.60 L353.3,176.60 L353.8,176.60 L354.3,176.60 L354.8,176.60 L355.3,176.60 L355.8,176.60 L356.3,176.60 L356.8,176.60 L357.3,176.60 L357.8,176.60 L358.3,176.60 L358.8,176.60 L359.3,176.60 L359.8,176.60 L360.3,176.60 L360.8,176.60 L361.3,176.60 L361.8,176.60 L362.3,176.60 L362.8,176.60 L363.3,176.60 L363.8,176.60" fill="none" stroke="#4db848" stroke-width="0.85" stroke-linejoin="round"/>
<path d="M321.8,186.30 L322.3,186.30 L322.8,186.30 L323.3,186.30 L323.8,186.30 L324.3,186.30 L324.8,186.30 L325.3,186.30 L325.8,186.30 L326.3,186.30 L326.8,186.30 L327.3,186.30 L327.8,186.30 L328.3,186.30 L328.8,185.38 L329.3,183.84 L329.8,182.19 L330.3,180.03 L330.8,178.62 L331.3,176.83 L331.8,176.38 L332.3,176.32 L332.8,177.65 L333.3,178.06 L333.8,178.77 L334.3,178.93 L334.8,180.67 L335.3,180.99 L335.8,181.54 L336.3,182.48 L336.8,182.47 L337.3,182.92 L337.8,182.76 L338.3,182.70 L338.8,182.38 L339.3,181.47 L339.8,180.50 L340.3,180.09 L340.8,179.61 L341.3,178.34 L341.8,177.69 L342.3,177.25 L342.8,176.92 L343.3,176.40 L343.8,176.00 L344.3,175.99 L344.8,175.51 L345.3,174.52 L345.8,174.42 L346.3,173.88 L346.8,172.88 L347.3,171.92 L347.8,171.32 L348.3,170.82 L348.8,170.71 L349.3,170.80 L349.8,171.11 L350.3,172.19 L350.8,173.51 L351.3,176.26 L351.8,179.18 L352.3,181.16 L352.8,183.29 L353.3,185.12 L353.8,186.30 L354.3,186.30 L354.8,186.30 L355.3,186.30 L355.8,186.30 L356.3,186.30 L356.8,186.30 L357.3,186.30 L357.8,186.30 L358.3,186.30 L358.8,186.30 L359.3,186.30 L359.8,186.30 L360.3,186.30 L360.8,186.30 L361.3,186.30 L361.8,186.30 L362.3,186.30 L362.8,186.30 L363.3,186.30 L363.8,186.30 L364.0,186.30 L321.8,186.30 Z" fill="#f3b3bf" fill-opacity="0.8" stroke="none"/>
<path d="M321.8,186.30 L322.3,186.30 L322.8,186.30 L323.3,186.30 L323.8,186.30 L324.3,186.30 L324.8,186.30 L325.3,186.30 L325.8,186.30 L326.3,186.30 L326.8,186.30 L327.3,186.30 L327.8,186.30 L328.3,186.30 L328.8,185.38 L329.3,183.84 L329.8,182.19 L330.3,180.03 L330.8,178.62 L331.3,176.83 L331.8,176.38 L332.3,176.32 L332.8,177.65 L333.3,178.06 L333.8,178.77 L334.3,178.93 L334.8,180.67 L335.3,180.99 L335.8,181.54 L336.3,182.48 L336.8,182.47 L337.3,182.92 L337.8,182.76 L338.3,182.70 L338.8,182.38 L339.3,181.47 L339.8,180.50 L340.3,180.09 L340.8,179.61 L341.3,178.34 L341.8,177.69 L342.3,177.25 L342.8,176.92 L343.3,176.40 L343.8,176.00 L344.3,175.99 L344.8,175.51 L345.3,174.52 L345.8,174.42 L346.3,173.88 L346.8,172.88 L347.3,171.92 L347.8,171.32 L348.3,170.82 L348.8,170.71 L349.3,170.80 L349.8,171.11 L350.3,172.19 L350.8,173.51 L351.3,176.26 L351.8,179.18 L352.3,181.16 L352.8,183.29 L353.3,185.12 L353.8,186.30 L354.3,186.30 L354.8,186.30 L355.3,186.30 L355.8,186.30 L356.3,186.30 L356.8,186.30 L357.3,186.30 L357.8,186.30 L358.3,186.30 L358.8,186.30 L359.3,186.30 L359.8,186.30 L360.3,186.30 L360.8,186.30 L361.3,186.30 L361.8,186.30 L362.3,186.30 L362.8,186.30 L363.3,186.30 L363.8,186.30" fill="none" stroke="#cc1538" stroke-width="0.85" stroke-linejoin="round"/>
<rect x="321.30" y="132.30" width="43.20" height="54.10" stroke="#000" stroke-width="0.9" fill="none"/>
<line x1="322.30" y1="186.40" x2="322.30" y2="187.80" stroke="#000" stroke-width="0.5"/>
<line x1="325.24" y1="186.40" x2="325.24" y2="187.80" stroke="#000" stroke-width="0.5"/>
<line x1="328.19" y1="186.40" x2="328.19" y2="187.80" stroke="#000" stroke-width="0.5"/>
<line x1="331.13" y1="186.40" x2="331.13" y2="187.80" stroke="#000" stroke-width="0.5"/>
<line x1="334.07" y1="186.40" x2="334.07" y2="187.80" stroke="#000" stroke-width="0.5"/>
<line x1="337.01" y1="186.40" x2="337.01" y2="187.80" stroke="#000" stroke-width="0.5"/>
<line x1="339.96" y1="186.40" x2="339.96" y2="187.80" stroke="#000" stroke-width="0.5"/>
<line x1="342.90" y1="186.40" x2="342.90" y2="187.80" stroke="#000" stroke-width="0.5"/>
<line x1="345.84" y1="186.40" x2="345.84" y2="187.80" stroke="#000" stroke-width="0.5"/>
<line x1="348.79" y1="186.40" x2="348.79" y2="187.80" stroke="#000" stroke-width="0.5"/>
<line x1="351.73" y1="186.40" x2="351.73" y2="187.80" stroke="#000" stroke-width="0.5"/>
<line x1="354.67" y1="186.40" x2="354.67" y2="187.80" stroke="#000" stroke-width="0.5"/>
<line x1="357.61" y1="186.40" x2="357.61" y2="187.80" stroke="#000" stroke-width="0.5"/>
<line x1="360.56" y1="186.40" x2="360.56" y2="187.80" stroke="#000" stroke-width="0.5"/>
<line x1="363.50" y1="186.40" x2="363.50" y2="187.80" stroke="#000" stroke-width="0.5"/>
<text x="332.50" y="129.26" font-size="8.3" textLength="21.20" lengthAdjust="spacingAndGlyphs">CD4T</text>
<text x="328.10" y="197.64" font-size="6.8" textLength="2.90" lengthAdjust="spacingAndGlyphs">0</text>
<text x="336.69" y="197.64" font-size="6.8" textLength="5.82" lengthAdjust="spacingAndGlyphs">10</text>
<text x="342.66" y="194.92" font-size="4.22">3</text>
<text x="347.39" y="197.64" font-size="6.8" textLength="5.82" lengthAdjust="spacingAndGlyphs">10</text>
<text x="353.36" y="194.92" font-size="4.22">4</text>
<text x="357.69" y="197.64" font-size="6.8" textLength="5.82" lengthAdjust="spacingAndGlyphs">10</text>
<text x="363.66" y="194.92" font-size="4.22">5</text>
<path d="M370.9,154.50 L371.4,154.50 L371.9,154.50 L372.4,154.50 L372.9,154.50 L373.4,154.50 L373.9,154.50 L374.4,154.50 L374.9,154.50 L375.4,154.50 L375.9,154.50 L376.4,154.34 L376.9,153.33 L377.4,151.78 L377.9,149.64 L378.4,144.87 L378.9,139.67 L379.4,138.05 L379.9,139.04 L380.4,140.80 L380.9,143.25 L381.4,145.13 L381.9,147.88 L382.4,149.85 L382.9,151.91 L383.4,152.75 L383.9,153.94 L384.4,154.24 L384.9,154.41 L385.4,154.50 L385.9,154.50 L386.4,154.50 L386.9,154.50 L387.4,154.50 L387.9,154.50 L388.4,154.50 L388.9,154.50 L389.4,154.50 L389.9,154.50 L390.4,154.50 L390.9,154.50 L391.4,154.50 L391.9,154.50 L392.4,154.50 L392.9,154.50 L393.4,154.50 L393.9,154.50 L394.4,154.50 L394.9,154.50 L395.4,154.50 L395.9,154.50 L396.4,154.50 L396.9,154.50 L397.4,154.50 L397.9,154.50 L398.4,154.50 L398.9,154.50 L399.4,154.50 L399.9,154.50 L400.4,154.50 L400.9,154.50 L401.4,154.50 L401.9,154.50 L402.4,154.50 L402.9,154.50 L403.4,154.50 L403.9,154.50 L404.4,154.50 L404.9,154.50 L405.4,154.50 L405.9,154.50 L406.4,154.50 L406.9,154.50 L407.4,154.50 L407.9,154.50 L408.4,154.50 L408.9,154.50 L409.4,154.50 L409.9,154.50 L410.4,154.50 L410.9,154.50 L411.4,154.50 L411.9,154.50 L412.4,154.50 L412.9,154.50" fill="none" stroke="#8f5bb0" stroke-width="0.85" stroke-linejoin="round"/>
<path d="M370.9,165.40 L371.4,165.40 L371.9,165.40 L372.4,165.40 L372.9,165.40 L373.4,165.40 L373.9,165.40 L374.4,165.40 L374.9,165.40 L375.4,165.40 L375.9,165.40 L376.4,165.40 L376.9,165.40 L377.4,165.24 L377.9,164.06 L378.4,162.42 L378.9,161.12 L379.4,158.01 L379.9,154.09 L380.4,151.22 L380.9,148.54 L381.4,149.47 L381.9,151.15 L382.4,154.30 L382.9,156.84 L383.4,158.41 L383.9,160.51 L384.4,161.49 L384.9,161.88 L385.4,163.04 L385.9,162.98 L386.4,162.92 L386.9,163.29 L387.4,163.77 L387.9,163.48 L388.4,163.09 L388.9,163.19 L389.4,163.49 L389.9,163.36 L390.4,163.35 L390.9,163.23 L391.4,162.53 L391.9,162.55 L392.4,162.58 L392.9,163.26 L393.4,163.43 L393.9,163.91 L394.4,164.12 L394.9,164.10 L395.4,164.53 L395.9,164.87 L396.4,165.15 L396.9,165.40 L397.4,165.40 L397.9,165.40 L398.4,165.40 L398.9,165.40 L399.4,165.40 L399.9,165.40 L400.4,165.40 L400.9,165.40 L401.4,165.40 L401.9,165.40 L402.4,165.40 L402.9,165.40 L403.4,165.40 L403.9,165.40 L404.4,165.40 L404.9,165.40 L405.4,165.40 L405.9,165.40 L406.4,165.40 L406.9,165.40 L407.4,165.40 L407.9,165.40 L408.4,165.40 L408.9,165.40 L409.4,165.40 L409.9,165.40 L410.4,165.40 L410.9,165.40 L411.4,165.40 L411.9,165.40 L412.4,165.40 L412.9,165.40" fill="none" stroke="#3b6ea6" stroke-width="0.85" stroke-linejoin="round"/>
<path d="M370.9,176.60 L371.4,176.60 L371.9,176.60 L372.4,176.60 L372.9,176.60 L373.4,176.60 L373.9,176.60 L374.4,176.60 L374.9,176.60 L375.4,176.60 L375.9,176.60 L376.4,176.60 L376.9,176.60 L377.4,176.37 L377.9,175.16 L378.4,173.93 L378.9,172.62 L379.4,170.31 L379.9,167.88 L380.4,165.47 L380.9,164.48 L381.4,164.65 L381.9,166.02 L382.4,167.74 L382.9,169.85 L383.4,170.63 L383.9,171.99 L384.4,173.50 L384.9,173.55 L385.4,173.89 L385.9,173.57 L386.4,173.33 L386.9,173.37 L387.4,173.84 L387.9,173.72 L388.4,172.97 L388.9,172.57 L389.4,172.36 L389.9,172.28 L390.4,172.22 L390.9,171.42 L391.4,172.15 L391.9,170.96 L392.4,170.81 L392.9,171.49 L393.4,171.52 L393.9,171.57 L394.4,171.70 L394.9,172.10 L395.4,173.49 L395.9,174.66 L396.4,175.56 L396.9,176.60 L397.4,176.60 L397.9,176.60 L398.4,176.60 L398.9,176.60 L399.4,176.60 L399.9,176.60 L400.4,176.60 L400.9,176.60 L401.4,176.60 L401.9,176.60 L402.4,176.60 L402.9,176.60 L403.4,176.60 L403.9,176.60 L404.4,176.60 L404.9,176.60 L405.4,176.60 L405.9,176.60 L406.4,176.60 L406.9,176.60 L407.4,176.60 L407.9,176.60 L408.4,176.60 L408.9,176.60 L409.4,176.60 L409.9,176.60 L410.4,176.60 L410.9,176.60 L411.4,176.60 L411.9,176.60 L412.4,176.60 L412.9,176.60 L412.7,176.60 L370.9,176.60 Z" fill="#c6e9bf" fill-opacity="0.9" stroke="none"/>
<path d="M370.9,176.60 L371.4,176.60 L371.9,176.60 L372.4,176.60 L372.9,176.60 L373.4,176.60 L373.9,176.60 L374.4,176.60 L374.9,176.60 L375.4,176.60 L375.9,176.60 L376.4,176.60 L376.9,176.60 L377.4,176.37 L377.9,175.16 L378.4,173.93 L378.9,172.62 L379.4,170.31 L379.9,167.88 L380.4,165.47 L380.9,164.48 L381.4,164.65 L381.9,166.02 L382.4,167.74 L382.9,169.85 L383.4,170.63 L383.9,171.99 L384.4,173.50 L384.9,173.55 L385.4,173.89 L385.9,173.57 L386.4,173.33 L386.9,173.37 L387.4,173.84 L387.9,173.72 L388.4,172.97 L388.9,172.57 L389.4,172.36 L389.9,172.28 L390.4,172.22 L390.9,171.42 L391.4,172.15 L391.9,170.96 L392.4,170.81 L392.9,171.49 L393.4,171.52 L393.9,171.57 L394.4,171.70 L394.9,172.10 L395.4,173.49 L395.9,174.66 L396.4,175.56 L396.9,176.60 L397.4,176.60 L397.9,176.60 L398.4,176.60 L398.9,176.60 L399.4,176.60 L399.9,176.60 L400.4,176.60 L400.9,176.60 L401.4,176.60 L401.9,176.60 L402.4,176.60 L402.9,176.60 L403.4,176.60 L403.9,176.60 L404.4,176.60 L404.9,176.60 L405.4,176.60 L405.9,176.60 L406.4,176.60 L406.9,176.60 L407.4,176.60 L407.9,176.60 L408.4,176.60 L408.9,176.60 L409.4,176.60 L409.9,176.60 L410.4,176.60 L410.9,176.60 L411.4,176.60 L411.9,176.60 L412.4,176.60 L412.9,176.60" fill="none" stroke="#4db848" stroke-width="0.85" stroke-linejoin="round"/>
<path d="M370.9,186.30 L371.4,186.30 L371.9,186.30 L372.4,186.30 L372.9,186.30 L373.4,186.30 L373.9,186.30 L374.4,186.30 L374.9,186.30 L375.4,186.30 L375.9,186.30 L376.4,186.30 L376.9,186.30 L377.4,186.16 L377.9,185.38 L378.4,184.87 L378.9,183.91 L379.4,182.96 L379.9,182.67 L380.4,182.45 L380.9,181.75 L381.4,182.03 L381.9,182.29 L382.4,182.92 L382.9,183.16 L383.4,183.52 L383.9,183.59 L384.4,183.97 L384.9,183.99 L385.4,183.75 L385.9,184.21 L386.4,183.86 L386.9,184.12 L387.4,184.41 L387.9,183.73 L388.4,183.98 L388.9,183.15 L389.4,182.27 L389.9,182.33 L390.4,180.56 L390.9,178.86 L391.4,178.14 L391.9,177.30 L392.4,176.10 L392.9,175.41 L393.4,175.67 L393.9,175.16 L394.4,176.09 L394.9,176.04 L395.4,177.04 L395.9,176.47 L396.4,176.01 L396.9,176.50 L397.4,177.94 L397.9,179.48 L398.4,180.80 L398.9,182.59 L399.4,183.74 L399.9,185.36 L400.4,186.30 L400.9,186.30 L401.4,186.30 L401.9,186.30 L402.4,186.30 L402.9,186.30 L403.4,186.30 L403.9,186.30 L404.4,186.30 L404.9,186.30 L405.4,186.30 L405.9,186.30 L406.4,186.30 L406.9,186.30 L407.4,186.30 L407.9,186.30 L408.4,186.30 L408.9,186.30 L409.4,186.30 L409.9,186.30 L410.4,186.30 L410.9,186.30 L411.4,186.30 L411.9,186.30 L412.4,186.30 L412.9,186.30 L412.7,186.30 L370.9,186.30 Z" fill="#f3b3bf" fill-opacity="0.8" stroke="none"/>
<path d="M370.9,186.30 L371.4,186.30 L371.9,186.30 L372.4,186.30 L372.9,186.30 L373.4,186.30 L373.9,186.30 L374.4,186.30 L374.9,186.30 L375.4,186.30 L375.9,186.30 L376.4,186.30 L376.9,186.30 L377.4,186.16 L377.9,185.38 L378.4,184.87 L378.9,183.91 L379.4,182.96 L379.9,182.67 L380.4,182.45 L380.9,181.75 L381.4,182.03 L381.9,182.29 L382.4,182.92 L382.9,183.16 L383.4,183.52 L383.9,183.59 L384.4,183.97 L384.9,183.99 L385.4,183.75 L385.9,184.21 L386.4,183.86 L386.9,184.12 L387.4,184.41 L387.9,183.73 L388.4,183.98 L388.9,183.15 L389.4,182.27 L389.9,182.33 L390.4,180.56 L390.9,178.86 L391.4,178.14 L391.9,177.30 L392.4,176.10 L392.9,175.41 L393.4,175.67 L393.9,175.16 L394.4,176.09 L394.9,176.04 L395.4,177.04 L395.9,176.47 L396.4,176.01 L396.9,176.50 L397.4,177.94 L397.9,179.48 L398.4,180.80 L398.9,182.59 L399.4,183.74 L399.9,185.36 L400.4,186.30 L400.9,186.30 L401.4,186.30 L401.9,186.30 L402.4,186.30 L402.9,186.30 L403.4,186.30 L403.9,186.30 L404.4,186.30 L404.9,186.30 L405.4,186.30 L405.9,186.30 L406.4,186.30 L406.9,186.30 L407.4,186.30 L407.9,186.30 L408.4,186.30 L408.9,186.30 L409.4,186.30 L409.9,186.30 L410.4,186.30 L410.9,186.30 L411.4,186.30 L411.9,186.30 L412.4,186.30 L412.9,186.30" fill="none" stroke="#cc1538" stroke-width="0.85" stroke-linejoin="round"/>
<rect x="370.40" y="132.30" width="42.80" height="54.10" stroke="#000" stroke-width="0.9" fill="none"/>
<line x1="371.40" y1="186.40" x2="371.40" y2="187.80" stroke="#000" stroke-width="0.5"/>
<line x1="374.31" y1="186.40" x2="374.31" y2="187.80" stroke="#000" stroke-width="0.5"/>
<line x1="377.23" y1="186.40" x2="377.23" y2="187.80" stroke="#000" stroke-width="0.5"/>
<line x1="380.14" y1="186.40" x2="380.14" y2="187.80" stroke="#000" stroke-width="0.5"/>
<line x1="383.06" y1="186.40" x2="383.06" y2="187.80" stroke="#000" stroke-width="0.5"/>
<line x1="385.97" y1="186.40" x2="385.97" y2="187.80" stroke="#000" stroke-width="0.5"/>
<line x1="388.89" y1="186.40" x2="388.89" y2="187.80" stroke="#000" stroke-width="0.5"/>
<line x1="391.80" y1="186.40" x2="391.80" y2="187.80" stroke="#000" stroke-width="0.5"/>
<line x1="394.71" y1="186.40" x2="394.71" y2="187.80" stroke="#000" stroke-width="0.5"/>
<line x1="397.63" y1="186.40" x2="397.63" y2="187.80" stroke="#000" stroke-width="0.5"/>
<line x1="400.54" y1="186.40" x2="400.54" y2="187.80" stroke="#000" stroke-width="0.5"/>
<line x1="403.46" y1="186.40" x2="403.46" y2="187.80" stroke="#000" stroke-width="0.5"/>
<line x1="406.37" y1="186.40" x2="406.37" y2="187.80" stroke="#000" stroke-width="0.5"/>
<line x1="409.29" y1="186.40" x2="409.29" y2="187.80" stroke="#000" stroke-width="0.5"/>
<line x1="412.20" y1="186.40" x2="412.20" y2="187.80" stroke="#000" stroke-width="0.5"/>
<text x="385.00" y="129.26" font-size="8.3" textLength="15.00" lengthAdjust="spacingAndGlyphs">Treg</text>
<text x="377.20" y="197.64" font-size="6.8" textLength="2.90" lengthAdjust="spacingAndGlyphs">0</text>
<text x="385.79" y="197.64" font-size="6.8" textLength="5.82" lengthAdjust="spacingAndGlyphs">10</text>
<text x="391.76" y="194.92" font-size="4.22">3</text>
<text x="396.49" y="197.64" font-size="6.8" textLength="5.82" lengthAdjust="spacingAndGlyphs">10</text>
<text x="402.46" y="194.92" font-size="4.22">4</text>
<text x="406.79" y="197.64" font-size="6.8" textLength="5.82" lengthAdjust="spacingAndGlyphs">10</text>
<text x="412.76" y="194.92" font-size="4.22">5</text>
<path d="M419.2,154.50 L419.7,154.50 L420.2,154.50 L420.7,154.50 L421.2,154.50 L421.7,154.50 L422.2,154.50 L422.7,154.50 L423.2,154.50 L423.7,154.50 L424.2,154.50 L424.7,154.48 L425.2,153.75 L425.7,152.32 L426.2,149.19 L426.7,143.35 L427.2,138.43 L427.7,136.20 L428.2,139.42 L428.7,144.40 L429.2,147.79 L429.7,151.35 L430.2,153.69 L430.7,154.36 L431.2,154.50 L431.7,154.50 L432.2,154.50 L432.7,154.50 L433.2,154.50 L433.7,154.50 L434.2,154.50 L434.7,154.50 L435.2,154.50 L435.7,154.50 L436.2,154.50 L436.7,154.50 L437.2,154.50 L437.7,154.50 L438.2,154.50 L438.7,154.50 L439.2,154.50 L439.7,154.50 L440.2,154.50 L440.7,154.50 L441.2,154.50 L441.7,154.50 L442.2,154.50 L442.7,154.50 L443.2,154.50 L443.7,154.50 L444.2,154.50 L444.7,154.50 L445.2,154.50 L445.7,154.50 L446.2,154.50 L446.7,154.50 L447.2,154.50 L447.7,154.50 L448.2,154.50 L448.7,154.50 L449.2,154.50 L449.7,154.50 L450.2,154.50 L450.7,154.50 L451.2,154.50 L451.7,154.50 L452.2,154.50 L452.7,154.50 L453.2,154.50 L453.7,154.50 L454.2,154.50 L454.7,154.50 L455.2,154.50 L455.7,154.50 L456.2,154.50 L456.7,154.50 L457.2,154.50 L457.7,154.50 L458.2,154.50 L458.7,154.50 L459.2,154.50 L459.7,154.50 L460.2,154.50 L460.7,154.50 L461.2,154.50 L461.7,154.50" fill="none" stroke="#8f5bb0" stroke-width="0.85" stroke-linejoin="round"/>
<path d="M419.2,165.40 L419.7,165.40 L420.2,165.40 L420.7,165.40 L421.2,165.40 L421.7,165.40 L422.2,165.40 L422.7,165.13 L423.2,164.36 L423.7,163.80 L424.2,162.31 L424.7,162.32 L425.2,160.34 L425.7,159.11 L426.2,156.03 L426.7,152.06 L427.2,147.99 L427.7,146.66 L428.2,148.34 L428.7,151.72 L429.2,154.78 L429.7,156.69 L430.2,158.21 L430.7,160.16 L431.2,161.36 L431.7,162.06 L432.2,161.84 L432.7,162.85 L433.2,162.38 L433.7,162.72 L434.2,163.20 L434.7,162.99 L435.2,162.88 L435.7,162.82 L436.2,162.74 L436.7,163.39 L437.2,163.49 L437.7,163.39 L438.2,163.38 L438.7,163.43 L439.2,163.07 L439.7,163.54 L440.2,163.52 L440.7,163.96 L441.2,163.62 L441.7,163.92 L442.2,164.17 L442.7,164.41 L443.2,164.52 L443.7,164.79 L444.2,165.05 L444.7,165.27 L445.2,165.40 L445.7,165.40 L446.2,165.40 L446.7,165.40 L447.2,165.40 L447.7,165.40 L448.2,165.40 L448.7,165.40 L449.2,165.40 L449.7,165.40 L450.2,165.40 L450.7,165.40 L451.2,165.40 L451.7,165.40 L452.2,165.40 L452.7,165.40 L453.2,165.40 L453.7,165.40 L454.2,165.40 L454.7,165.40 L455.2,165.40 L455.7,165.40 L456.2,165.40 L456.7,165.40 L457.2,165.40 L457.7,165.40 L458.2,165.40 L458.7,165.40 L459.2,165.40 L459.7,165.40 L460.2,165.40 L460.7,165.40 L461.2,165.40 L461.7,165.40" fill="none" stroke="#3b6ea6" stroke-width="0.85" stroke-linejoin="round"/>
<path d="M419.2,176.60 L419.7,176.60 L420.2,176.60 L420.7,176.60 L421.2,176.60 L421.7,176.60 L422.2,176.13 L422.7,174.99 L423.2,173.88 L423.7,171.89 L424.2,170.14 L424.7,167.64 L425.2,166.17 L425.7,163.83 L426.2,161.51 L426.7,159.55 L427.2,158.40 L427.7,158.87 L428.2,161.85 L428.7,164.39 L429.2,166.54 L429.7,167.58 L430.2,169.07 L430.7,170.57 L431.2,172.21 L431.7,172.81 L432.2,173.32 L432.7,173.10 L433.2,173.17 L433.7,173.35 L434.2,173.72 L434.7,173.46 L435.2,173.08 L435.7,173.42 L436.2,173.10 L436.7,173.16 L437.2,172.79 L437.7,172.79 L438.2,172.75 L438.7,172.85 L439.2,172.83 L439.7,173.53 L440.2,173.40 L440.7,173.29 L441.2,172.98 L441.7,172.90 L442.2,173.71 L442.7,173.26 L443.2,173.51 L443.7,173.04 L444.2,174.09 L444.7,173.89 L445.2,173.98 L445.7,174.50 L446.2,174.75 L446.7,175.19 L447.2,175.68 L447.7,176.02 L448.2,176.30 L448.7,176.60 L449.2,176.60 L449.7,176.60 L450.2,176.60 L450.7,176.60 L451.2,176.60 L451.7,176.60 L452.2,176.60 L452.7,176.60 L453.2,176.60 L453.7,176.60 L454.2,176.60 L454.7,176.60 L455.2,176.60 L455.7,176.60 L456.2,176.60 L456.7,176.60 L457.2,176.60 L457.7,176.60 L458.2,176.60 L458.7,176.60 L459.2,176.60 L459.7,176.60 L460.2,176.60 L460.7,176.60 L461.2,176.60 L461.7,176.60 L461.8,176.60 L419.2,176.60 Z" fill="#c6e9bf" fill-opacity="0.9" stroke="none"/>
<path d="M419.2,176.60 L419.7,176.60 L420.2,176.60 L420.7,176.60 L421.2,176.60 L421.7,176.60 L422.2,176.13 L422.7,174.99 L423.2,173.88 L423.7,171.89 L424.2,170.14 L424.7,167.64 L425.2,166.17 L425.7,163.83 L426.2,161.51 L426.7,159.55 L427.2,158.40 L427.7,158.87 L428.2,161.85 L428.7,164.39 L429.2,166.54 L429.7,167.58 L430.2,169.07 L430.7,170.57 L431.2,172.21 L431.7,172.81 L432.2,173.32 L432.7,173.10 L433.2,173.17 L433.7,173.35 L434.2,173.72 L434.7,173.46 L435.2,173.08 L435.7,173.42 L436.2,173.10 L436.7,173.16 L437.2,172.79 L437.7,172.79 L438.2,172.75 L438.7,172.85 L439.2,172.83 L439.7,173.53 L440.2,173.40 L440.7,173.29 L441.2,172.98 L441.7,172.90 L442.2,173.71 L442.7,173.26 L443.2,173.51 L443.7,173.04 L444.2,174.09 L444.7,173.89 L445.2,173.98 L445.7,174.50 L446.2,174.75 L446.7,175.19 L447.2,175.68 L447.7,176.02 L448.2,176.30 L448.7,176.60 L449.2,176.60 L449.7,176.60 L450.2,176.60 L450.7,176.60 L451.2,176.60 L451.7,176.60 L452.2,176.60 L452.7,176.60 L453.2,176.60 L453.7,176.60 L454.2,176.60 L454.7,176.60 L455.2,176.60 L455.7,176.60 L456.2,176.60 L456.7,176.60 L457.2,176.60 L457.7,176.60 L458.2,176.60 L458.7,176.60 L459.2,176.60 L459.7,176.60 L460.2,176.60 L460.7,176.60 L461.2,176.60 L461.7,176.60" fill="none" stroke="#4db848" stroke-width="0.85" stroke-linejoin="round"/>
<path d="M419.2,186.30 L419.7,186.30 L420.2,186.30 L420.7,186.30 L421.2,186.30 L421.7,186.30 L422.2,186.30 L422.7,186.30 L423.2,186.30 L423.7,186.11 L424.2,185.55 L424.7,184.63 L425.2,183.56 L425.7,182.12 L426.2,180.81 L426.7,179.18 L427.2,177.92 L427.7,177.40 L428.2,176.15 L428.7,175.27 L429.2,174.94 L429.7,174.08 L430.2,173.85 L430.7,173.77 L431.2,172.81 L431.7,173.25 L432.2,173.89 L432.7,174.03 L433.2,175.24 L433.7,175.65 L434.2,176.04 L434.7,176.90 L435.2,177.59 L435.7,178.52 L436.2,179.15 L436.7,179.67 L437.2,180.78 L437.7,181.20 L438.2,180.71 L438.7,180.62 L439.2,180.29 L439.7,180.52 L440.2,180.32 L440.7,179.87 L441.2,179.57 L441.7,179.32 L442.2,178.85 L442.7,178.12 L443.2,176.44 L443.7,176.40 L444.2,174.84 L444.7,173.68 L445.2,172.75 L445.7,171.35 L446.2,170.91 L446.7,171.60 L447.2,171.58 L447.7,171.95 L448.2,173.05 L448.7,173.76 L449.2,174.73 L449.7,177.69 L450.2,179.60 L450.7,181.37 L451.2,182.26 L451.7,184.07 L452.2,185.02 L452.7,185.94 L453.2,186.30 L453.7,186.30 L454.2,186.30 L454.7,186.30 L455.2,186.30 L455.7,186.30 L456.2,186.30 L456.7,186.30 L457.2,186.30 L457.7,186.30 L458.2,186.30 L458.7,186.30 L459.2,186.30 L459.7,186.30 L460.2,186.30 L460.7,186.30 L461.2,186.30 L461.7,186.30 L461.8,186.30 L419.2,186.30 Z" fill="#f3b3bf" fill-opacity="0.8" stroke="none"/>
<path d="M419.2,186.30 L419.7,186.30 L420.2,186.30 L420.7,186.30 L421.2,186.30 L421.7,186.30 L422.2,186.30 L422.7,186.30 L423.2,186.30 L423.7,186.11 L424.2,185.55 L424.7,184.63 L425.2,183.56 L425.7,182.12 L426.2,180.81 L426.7,179.18 L427.2,177.92 L427.7,177.40 L428.2,176.15 L428.7,175.27 L429.2,174.94 L429.7,174.08 L430.2,173.85 L430.7,173.77 L431.2,172.81 L431.7,173.25 L432.2,173.89 L432.7,174.03 L433.2,175.24 L433.7,175.65 L434.2,176.04 L434.7,176.90 L435.2,177.59 L435.7,178.52 L436.2,179.15 L436.7,179.67 L437.2,180.78 L437.7,181.20 L438.2,180.71 L438.7,180.62 L439.2,180.29 L439.7,180.52 L440.2,180.32 L440.7,179.87 L441.2,179.57 L441.7,179.32 L442.2,178.85 L442.7,178.12 L443.2,176.44 L443.7,176.40 L444.2,174.84 L444.7,173.68 L445.2,172.75 L445.7,171.35 L446.2,170.91 L446.7,171.60 L447.2,171.58 L447.7,171.95 L448.2,173.05 L448.7,173.76 L449.2,174.73 L449.7,177.69 L450.2,179.60 L450.7,181.37 L451.2,182.26 L451.7,184.07 L452.2,185.02 L452.7,185.94 L453.2,186.30 L453.7,186.30 L454.2,186.30 L454.7,186.30 L455.2,186.30 L455.7,186.30 L456.2,186.30 L456.7,186.30 L457.2,186.30 L457.7,186.30 L458.2,186.30 L458.7,186.30 L459.2,186.30 L459.7,186.30 L460.2,186.30 L460.7,186.30 L461.2,186.30 L461.7,186.30" fill="none" stroke="#cc1538" stroke-width="0.85" stroke-linejoin="round"/>
<rect x="418.70" y="132.30" width="43.60" height="54.10" stroke="#000" stroke-width="0.9" fill="none"/>
<line x1="419.70" y1="186.40" x2="419.70" y2="187.80" stroke="#000" stroke-width="0.5"/>
<line x1="422.67" y1="186.40" x2="422.67" y2="187.80" stroke="#000" stroke-width="0.5"/>
<line x1="425.64" y1="186.40" x2="425.64" y2="187.80" stroke="#000" stroke-width="0.5"/>
<line x1="428.61" y1="186.40" x2="428.61" y2="187.80" stroke="#000" stroke-width="0.5"/>
<line x1="431.59" y1="186.40" x2="431.59" y2="187.80" stroke="#000" stroke-width="0.5"/>
<line x1="434.56" y1="186.40" x2="434.56" y2="187.80" stroke="#000" stroke-width="0.5"/>
<line x1="437.53" y1="186.40" x2="437.53" y2="187.80" stroke="#000" stroke-width="0.5"/>
<line x1="440.50" y1="186.40" x2="440.50" y2="187.80" stroke="#000" stroke-width="0.5"/>
<line x1="443.47" y1="186.40" x2="443.47" y2="187.80" stroke="#000" stroke-width="0.5"/>
<line x1="446.44" y1="186.40" x2="446.44" y2="187.80" stroke="#000" stroke-width="0.5"/>
<line x1="449.41" y1="186.40" x2="449.41" y2="187.80" stroke="#000" stroke-width="0.5"/>
<line x1="452.39" y1="186.40" x2="452.39" y2="187.80" stroke="#000" stroke-width="0.5"/>
<line x1="455.36" y1="186.40" x2="455.36" y2="187.80" stroke="#000" stroke-width="0.5"/>
<line x1="458.33" y1="186.40" x2="458.33" y2="187.80" stroke="#000" stroke-width="0.5"/>
<line x1="461.30" y1="186.40" x2="461.30" y2="187.80" stroke="#000" stroke-width="0.5"/>
<text x="433.60" y="129.26" font-size="8.3" textLength="7.80" lengthAdjust="spacingAndGlyphs">γδ</text>
<text x="443.20" y="129.26" font-size="8.3" textLength="4.30" lengthAdjust="spacingAndGlyphs">T</text>
<text x="425.50" y="197.64" font-size="6.8" textLength="2.90" lengthAdjust="spacingAndGlyphs">0</text>
<text x="434.09" y="197.64" font-size="6.8" textLength="5.82" lengthAdjust="spacingAndGlyphs">10</text>
<text x="440.06" y="194.92" font-size="4.22">3</text>
<text x="444.79" y="197.64" font-size="6.8" textLength="5.82" lengthAdjust="spacingAndGlyphs">10</text>
<text x="450.76" y="194.92" font-size="4.22">4</text>
<text x="455.09" y="197.64" font-size="6.8" textLength="5.82" lengthAdjust="spacingAndGlyphs">10</text>
<text x="461.06" y="194.92" font-size="4.22">5</text>
<path d="M468.8,154.50 L469.3,154.50 L469.8,154.50 L470.3,154.50 L470.8,154.50 L471.3,154.50 L471.8,154.50 L472.3,154.50 L472.8,154.50 L473.3,154.50 L473.8,154.34 L474.3,153.71 L474.8,152.85 L475.3,150.89 L475.8,149.65 L476.3,146.57 L476.8,142.79 L477.3,140.43 L477.8,141.22 L478.3,144.99 L478.8,147.83 L479.3,150.87 L479.8,152.10 L480.3,152.71 L480.8,153.57 L481.3,153.76 L481.8,153.89 L482.3,154.07 L482.8,154.15 L483.3,154.29 L483.8,154.44 L484.3,154.50 L484.8,154.50 L485.3,154.50 L485.8,154.50 L486.3,154.50 L486.8,154.50 L487.3,154.50 L487.8,154.50 L488.3,154.50 L488.8,154.50 L489.3,154.50 L489.8,154.50 L490.3,154.50 L490.8,154.50 L491.3,154.50 L491.8,154.50 L492.3,154.50 L492.8,154.50 L493.3,154.50 L493.8,154.50 L494.3,154.50 L494.8,154.50 L495.3,154.50 L495.8,154.50 L496.3,154.50 L496.8,154.50 L497.3,154.50 L497.8,154.50 L498.3,154.50 L498.8,154.50 L499.3,154.50 L499.8,154.50 L500.3,154.50 L500.8,154.50 L501.3,154.50 L501.8,154.50 L502.3,154.50 L502.8,154.50 L503.3,154.50 L503.8,154.50 L504.3,154.50 L504.8,154.50 L505.3,154.50 L505.8,154.50 L506.3,154.50 L506.8,154.50 L507.3,154.50 L507.8,154.50 L508.3,154.50 L508.8,154.50 L509.3,154.50 L509.8,154.50 L510.3,154.50 L510.8,154.50" fill="none" stroke="#8f5bb0" stroke-width="0.85" stroke-linejoin="round"/>
<path d="M468.8,165.40 L469.3,165.40 L469.8,165.40 L470.3,165.40 L470.8,165.40 L471.3,165.40 L471.8,165.40 L472.3,165.40 L472.8,165.10 L473.3,164.58 L473.8,164.20 L474.3,163.92 L474.8,163.75 L475.3,163.50 L475.8,163.32 L476.3,163.11 L476.8,163.08 L477.3,162.42 L477.8,162.29 L478.3,161.59 L478.8,161.92 L479.3,161.09 L479.8,161.31 L480.3,161.11 L480.8,160.60 L481.3,160.46 L481.8,160.11 L482.3,159.09 L482.8,158.78 L483.3,157.45 L483.8,155.49 L484.3,154.15 L484.8,152.92 L485.3,152.46 L485.8,151.29 L486.3,150.58 L486.8,150.58 L487.3,149.44 L487.8,150.39 L488.3,149.99 L488.8,149.71 L489.3,151.31 L489.8,154.27 L490.3,157.72 L490.8,159.67 L491.3,160.98 L491.8,162.33 L492.3,163.72 L492.8,164.43 L493.3,165.08 L493.8,165.40 L494.3,165.40 L494.8,165.40 L495.3,165.40 L495.8,165.40 L496.3,165.40 L496.8,165.40 L497.3,165.40 L497.8,165.40 L498.3,165.40 L498.8,165.40 L499.3,165.40 L499.8,165.40 L500.3,165.40 L500.8,165.40 L501.3,165.40 L501.8,165.40 L502.3,165.40 L502.8,165.40 L503.3,165.40 L503.8,165.40 L504.3,165.40 L504.8,165.40 L505.3,165.40 L505.8,165.40 L506.3,165.40 L506.8,165.40 L507.3,165.40 L507.8,165.40 L508.3,165.40 L508.8,165.40 L509.3,165.40 L509.8,165.40 L510.3,165.40 L510.8,165.40" fill="none" stroke="#3b6ea6" stroke-width="0.85" stroke-linejoin="round"/>
<path d="M468.8,176.60 L469.3,176.60 L469.8,176.60 L470.3,176.60 L470.8,176.60 L471.3,176.60 L471.8,176.60 L472.3,176.60 L472.8,176.60 L473.3,176.60 L473.8,176.43 L474.3,176.10 L474.8,175.80 L475.3,175.13 L475.8,174.90 L476.3,174.35 L476.8,173.31 L477.3,172.85 L477.8,172.43 L478.3,172.08 L478.8,172.13 L479.3,172.29 L479.8,172.03 L480.3,171.75 L480.8,172.18 L481.3,171.78 L481.8,171.69 L482.3,171.38 L482.8,170.80 L483.3,168.66 L483.8,167.75 L484.3,166.64 L484.8,165.31 L485.3,164.18 L485.8,163.47 L486.3,162.48 L486.8,162.36 L487.3,161.78 L487.8,160.85 L488.3,160.74 L488.8,159.65 L489.3,160.48 L489.8,161.80 L490.3,162.81 L490.8,164.85 L491.3,166.85 L491.8,168.84 L492.3,170.40 L492.8,171.88 L493.3,173.10 L493.8,174.56 L494.3,175.48 L494.8,176.28 L495.3,176.60 L495.8,176.60 L496.3,176.60 L496.8,176.60 L497.3,176.60 L497.8,176.60 L498.3,176.60 L498.8,176.60 L499.3,176.60 L499.8,176.60 L500.3,176.60 L500.8,176.60 L501.3,176.60 L501.8,176.60 L502.3,176.60 L502.8,176.60 L503.3,176.60 L503.8,176.60 L504.3,176.60 L504.8,176.60 L505.3,176.60 L505.8,176.60 L506.3,176.60 L506.8,176.60 L507.3,176.60 L507.8,176.60 L508.3,176.60 L508.8,176.60 L509.3,176.60 L509.8,176.60 L510.3,176.60 L510.8,176.60 L510.7,176.60 L468.8,176.60 Z" fill="#c6e9bf" fill-opacity="0.9" stroke="none"/>
<path d="M468.8,176.60 L469.3,176.60 L469.8,176.60 L470.3,176.60 L470.8,176.60 L471.3,176.60 L471.8,176.60 L472.3,176.60 L472.8,176.60 L473.3,176.60 L473.8,176.43 L474.3,176.10 L474.8,175.80 L475.3,175.13 L475.8,174.90 L476.3,174.35 L476.8,173.31 L477.3,172.85 L477.8,172.43 L478.3,172.08 L478.8,172.13 L479.3,172.29 L479.8,172.03 L480.3,171.75 L480.8,172.18 L481.3,171.78 L481.8,171.69 L482.3,171.38 L482.8,170.80 L483.3,168.66 L483.8,167.75 L484.3,166.64 L484.8,165.31 L485.3,164.18 L485.8,163.47 L486.3,162.48 L486.8,162.36 L487.3,161.78 L487.8,160.85 L488.3,160.74 L488.8,159.65 L489.3,160.48 L489.8,161.80 L490.3,162.81 L490.8,164.85 L491.3,166.85 L491.8,168.84 L492.3,170.40 L492.8,171.88 L493.3,173.10 L493.8,174.56 L494.3,175.48 L494.8,176.28 L495.3,176.60 L495.8,176.60 L496.3,176.60 L496.8,176.60 L497.3,176.60 L497.8,176.60 L498.3,176.60 L498.8,176.60 L499.3,176.60 L499.8,176.60 L500.3,176.60 L500.8,176.60 L501.3,176.60 L501.8,176.60 L502.3,176.60 L502.8,176.60 L503.3,176.60 L503.8,176.60 L504.3,176.60 L504.8,176.60 L505.3,176.60 L505.8,176.60 L506.3,176.60 L506.8,176.60 L507.3,176.60 L507.8,176.60 L508.3,176.60 L508.8,176.60 L509.3,176.60 L509.8,176.60 L510.3,176.60 L510.8,176.60" fill="none" stroke="#4db848" stroke-width="0.85" stroke-linejoin="round"/>
<path d="M468.8,186.30 L469.3,186.30 L469.8,186.30 L470.3,186.30 L470.8,186.30 L471.3,186.30 L471.8,186.30 L472.3,186.30 L472.8,186.30 L473.3,186.30 L473.8,186.30 L474.3,186.30 L474.8,186.30 L475.3,186.30 L475.8,186.30 L476.3,186.30 L476.8,186.30 L477.3,186.30 L477.8,186.30 L478.3,186.30 L478.8,186.30 L479.3,186.30 L479.8,186.30 L480.3,186.30 L480.8,186.30 L481.3,186.30 L481.8,186.30 L482.3,186.30 L482.8,186.30 L483.3,186.30 L483.8,186.30 L484.3,186.30 L484.8,186.04 L485.3,185.66 L485.8,184.90 L486.3,184.38 L486.8,183.47 L487.3,183.23 L487.8,182.30 L488.3,181.54 L488.8,180.39 L489.3,179.37 L489.8,179.15 L490.3,178.99 L490.8,178.28 L491.3,177.36 L491.8,177.30 L492.3,175.72 L492.8,175.18 L493.3,174.89 L493.8,173.82 L494.3,173.86 L494.8,175.28 L495.3,176.42 L495.8,178.66 L496.3,180.45 L496.8,181.34 L497.3,183.25 L497.8,184.45 L498.3,185.61 L498.8,186.30 L499.3,186.30 L499.8,186.30 L500.3,186.30 L500.8,186.30 L501.3,186.30 L501.8,186.30 L502.3,186.30 L502.8,186.30 L503.3,186.30 L503.8,186.30 L504.3,186.30 L504.8,186.30 L505.3,186.30 L505.8,186.30 L506.3,186.30 L506.8,186.30 L507.3,186.30 L507.8,186.30 L508.3,186.30 L508.8,186.30 L509.3,186.30 L509.8,186.30 L510.3,186.30 L510.8,186.30 L510.7,186.30 L468.8,186.30 Z" fill="#f3b3bf" fill-opacity="0.8" stroke="none"/>
<path d="M468.8,186.30 L469.3,186.30 L469.8,186.30 L470.3,186.30 L470.8,186.30 L471.3,186.30 L471.8,186.30 L472.3,186.30 L472.8,186.30 L473.3,186.30 L473.8,186.30 L474.3,186.30 L474.8,186.30 L475.3,186.30 L475.8,186.30 L476.3,186.30 L476.8,186.30 L477.3,186.30 L477.8,186.30 L478.3,186.30 L478.8,186.30 L479.3,186.30 L479.8,186.30 L480.3,186.30 L480.8,186.30 L481.3,186.30 L481.8,186.30 L482.3,186.30 L482.8,186.30 L483.3,186.30 L483.8,186.30 L484.3,186.30 L484.8,186.04 L485.3,185.66 L485.8,184.90 L486.3,184.38 L486.8,183.47 L487.3,183.23 L487.8,182.30 L488.3,181.54 L488.8,180.39 L489.3,179.37 L489.8,179.15 L490.3,178.99 L490.8,178.28 L491.3,177.36 L491.8,177.30 L492.3,175.72 L492.8,175.18 L493.3,174.89 L493.8,173.82 L494.3,173.86 L494.8,175.28 L495.3,176.42 L495.8,178.66 L496.3,180.45 L496.8,181.34 L497.3,183.25 L497.8,184.45 L498.3,185.61 L498.8,186.30 L499.3,186.30 L499.8,186.30 L500.3,186.30 L500.8,186.30 L501.3,186.30 L501.8,186.30 L502.3,186.30 L502.8,186.30 L503.3,186.30 L503.8,186.30 L504.3,186.30 L504.8,186.30 L505.3,186.30 L505.8,186.30 L506.3,186.30 L506.8,186.30 L507.3,186.30 L507.8,186.30 L508.3,186.30 L508.8,186.30 L509.3,186.30 L509.8,186.30 L510.3,186.30 L510.8,186.30" fill="none" stroke="#cc1538" stroke-width="0.85" stroke-linejoin="round"/>
<rect x="468.30" y="132.30" width="42.90" height="54.10" stroke="#000" stroke-width="0.9" fill="none"/>
<line x1="469.30" y1="186.40" x2="469.30" y2="187.80" stroke="#000" stroke-width="0.5"/>
<line x1="472.22" y1="186.40" x2="472.22" y2="187.80" stroke="#000" stroke-width="0.5"/>
<line x1="475.14" y1="186.40" x2="475.14" y2="187.80" stroke="#000" stroke-width="0.5"/>
<line x1="478.06" y1="186.40" x2="478.06" y2="187.80" stroke="#000" stroke-width="0.5"/>
<line x1="480.99" y1="186.40" x2="480.99" y2="187.80" stroke="#000" stroke-width="0.5"/>
<line x1="483.91" y1="186.40" x2="483.91" y2="187.80" stroke="#000" stroke-width="0.5"/>
<line x1="486.83" y1="186.40" x2="486.83" y2="187.80" stroke="#000" stroke-width="0.5"/>
<line x1="489.75" y1="186.40" x2="489.75" y2="187.80" stroke="#000" stroke-width="0.5"/>
<line x1="492.67" y1="186.40" x2="492.67" y2="187.80" stroke="#000" stroke-width="0.5"/>
<line x1="495.59" y1="186.40" x2="495.59" y2="187.80" stroke="#000" stroke-width="0.5"/>
<line x1="498.51" y1="186.40" x2="498.51" y2="187.80" stroke="#000" stroke-width="0.5"/>
<line x1="501.44" y1="186.40" x2="501.44" y2="187.80" stroke="#000" stroke-width="0.5"/>
<line x1="504.36" y1="186.40" x2="504.36" y2="187.80" stroke="#000" stroke-width="0.5"/>
<line x1="507.28" y1="186.40" x2="507.28" y2="187.80" stroke="#000" stroke-width="0.5"/>
<line x1="510.20" y1="186.40" x2="510.20" y2="187.80" stroke="#000" stroke-width="0.5"/>
<text x="481.20" y="129.26" font-size="8.3" textLength="16.70" lengthAdjust="spacingAndGlyphs">iNKT</text>
<text x="475.10" y="197.64" font-size="6.8" textLength="2.90" lengthAdjust="spacingAndGlyphs">0</text>
<text x="483.69" y="197.64" font-size="6.8" textLength="5.82" lengthAdjust="spacingAndGlyphs">10</text>
<text x="489.66" y="194.92" font-size="4.22">3</text>
<text x="494.39" y="197.64" font-size="6.8" textLength="5.82" lengthAdjust="spacingAndGlyphs">10</text>
<text x="500.36" y="194.92" font-size="4.22">4</text>
<text x="504.69" y="197.64" font-size="6.8" textLength="5.82" lengthAdjust="spacingAndGlyphs">10</text>
<text x="510.66" y="194.92" font-size="4.22">5</text>
<text x="252.80" y="154.75" font-size="7.4" textLength="16.20" lengthAdjust="spacingAndGlyphs">FMO</text>
<text x="251.00" y="165.45" font-size="7.4" textLength="18.00" lengthAdjust="spacingAndGlyphs">Naive</text>
<text x="239.80" y="175.45" font-size="7.4" textLength="29.20" lengthAdjust="spacingAndGlyphs">BsAb (–)</text>
<text x="239.80" y="185.65" font-size="7.4" textLength="29.20" lengthAdjust="spacingAndGlyphs">BsAb (+)</text>
<text x="221.90" y="181.11" font-size="7.6" textLength="12.70" lengthAdjust="spacingAndGlyphs">MM</text>
<line x1="237.50" y1="169.20" x2="237.50" y2="187.10" stroke="#000" stroke-width="1.0"/>
<line x1="272.70" y1="203.20" x2="479.60" y2="203.20" stroke="#000" stroke-width="0.9"/>
<path d="M482.50,203.20 L479.10,201.50 L479.10,204.90 Z" fill="#000"/>
<text x="485.40" y="206.25" font-size="8.0" textLength="20.20" lengthAdjust="spacingAndGlyphs">CD69</text>
<text x="6.90" y="226.80" font-size="11" font-weight="bold">G</text>
<text x="85.10" y="226.56" font-size="8.6" stroke="#000" stroke-width="0.22" textLength="43.80" lengthAdjust="spacingAndGlyphs">BsAb treatment</text>
<line x1="64.30" y1="229.70" x2="146.50" y2="229.70" stroke="#444" stroke-width="1.2"/>
<text x="79.10" y="237.81" font-size="7.0" textLength="8.20" lengthAdjust="spacingAndGlyphs">(–)</text>
<text x="122.90" y="237.81" font-size="7.0" textLength="8.30" lengthAdjust="spacingAndGlyphs">(+)</text>
<text x="26.80" y="260.38" font-size="7.8" textLength="11.70" lengthAdjust="spacingAndGlyphs">BM</text>
<text x="19.00" y="269.48" font-size="7.8" textLength="19.50" lengthAdjust="spacingAndGlyphs">CD8T</text>
<text x="27.00" y="304.18" font-size="7.8" textLength="11.50" lengthAdjust="spacingAndGlyphs">BM</text>
<text x="28.30" y="313.48" font-size="7.8" textLength="10.20" lengthAdjust="spacingAndGlyphs">NK</text>
<text x="46.98" y="275.10" font-size="7.8" textLength="26.90" lengthAdjust="spacingAndGlyphs" transform="rotate(-90 46.98 275.10)" fill="#000">CD107a</text>
<line x1="44.60" y1="344.60" x2="44.60" y2="283.30" stroke="#000" stroke-width="0.9"/>
<path d="M44.60,279.80 L42.80,283.80 L46.40,283.80 Z" fill="#000"/>
<line x1="44.60" y1="344.60" x2="118.00" y2="344.60" stroke="#000" stroke-width="0.9"/>
<path d="M121.50,344.60 L117.50,342.80 L117.50,346.40 Z" fill="#000"/>
<line x1="44.60" y1="344.60" x2="44.60" y2="344.60" stroke="#000" stroke-width="1"/>
<text x="124.60" y="347.35" font-size="8.0" textLength="20.00" lengthAdjust="spacingAndGlyphs">CD69</text>
<defs><filter id="bl1" x="-50%" y="-50%" width="200%" height="200%"><feGaussianBlur stdDeviation="1.2"/></filter><filter id="bl2" x="-50%" y="-50%" width="200%" height="200%"><feGaussianBlur stdDeviation="2.2"/></filter><filter id="bl05" x="-50%" y="-50%" width="200%" height="200%"><feGaussianBlur stdDeviation="0.6"/></filter></defs>
<svg x="63.7" y="241.8" width="39.2" height="39.6" viewBox="63.7 241.8 39.2 39.6" overflow="hidden">
<ellipse cx="79.0" cy="275.5" rx="11" ry="5" fill="#d4d4d4" stroke="none" stroke-width="0.6" filter="url(#bl2)"/>
<ellipse cx="76.0" cy="275.8" rx="7" ry="4.2" fill="none" stroke="#888" stroke-width="0.5"/>
<ellipse cx="81.0" cy="275.0" rx="10" ry="3.2" fill="none" stroke="#aaa" stroke-width="0.5" transform="rotate(-8 81.0 275.0)"/>
<ellipse cx="73.0" cy="276.0" rx="3.8" ry="4.4" fill="#888" stroke="none" stroke-width="0.6" filter="url(#bl05)"/>
<ellipse cx="73.0" cy="276.0" rx="2.5" ry="3.1" fill="#1a1a1a" stroke="none" stroke-width="0.6" filter="url(#bl05)"/>
<g fill="#111" fill-opacity="1"><circle cx="76.8" cy="264.6" r="0.45"/><circle cx="85.1" cy="263.8" r="0.45"/><circle cx="74.2" cy="267.4" r="0.45"/><circle cx="79.0" cy="269.1" r="0.45"/><circle cx="77.4" cy="272.7" r="0.45"/><circle cx="80.4" cy="277.6" r="0.45"/><circle cx="80.3" cy="267.3" r="0.45"/><circle cx="82.9" cy="270.1" r="0.45"/><circle cx="76.2" cy="269.8" r="0.45"/><circle cx="76.5" cy="271.7" r="0.45"/><circle cx="76.8" cy="267.7" r="0.45"/><circle cx="76.2" cy="267.6" r="0.45"/><circle cx="82.8" cy="271.4" r="0.45"/><circle cx="76.6" cy="260.0" r="0.45"/><circle cx="80.7" cy="263.0" r="0.45"/><circle cx="76.2" cy="269.2" r="0.45"/><circle cx="74.8" cy="269.8" r="0.45"/><circle cx="81.8" cy="266.2" r="0.45"/><circle cx="75.8" cy="265.1" r="0.45"/><circle cx="83.1" cy="267.0" r="0.45"/><circle cx="82.4" cy="266.3" r="0.45"/><circle cx="79.0" cy="267.0" r="0.45"/><circle cx="79.0" cy="267.5" r="0.45"/><circle cx="81.2" cy="271.6" r="0.45"/><circle cx="78.1" cy="261.8" r="0.45"/><circle cx="76.5" cy="261.8" r="0.45"/><circle cx="72.4" cy="266.1" r="0.45"/><circle cx="76.2" cy="274.4" r="0.45"/><circle cx="76.9" cy="259.6" r="0.45"/><circle cx="79.8" cy="266.1" r="0.45"/><circle cx="81.2" cy="266.8" r="0.45"/><circle cx="84.3" cy="262.9" r="0.45"/><circle cx="79.3" cy="264.1" r="0.45"/><circle cx="77.1" cy="258.5" r="0.45"/><circle cx="80.4" cy="258.6" r="0.45"/><circle cx="79.7" cy="268.2" r="0.45"/><circle cx="79.8" cy="258.9" r="0.45"/><circle cx="81.0" cy="262.9" r="0.45"/><circle cx="79.8" cy="264.4" r="0.45"/><circle cx="84.5" cy="263.5" r="0.45"/><circle cx="77.9" cy="267.4" r="0.45"/><circle cx="74.1" cy="263.9" r="0.45"/><circle cx="77.9" cy="267.3" r="0.45"/><circle cx="77.5" cy="274.3" r="0.45"/><circle cx="84.4" cy="271.7" r="0.45"/></g>
<g fill="#222" fill-opacity="1"><circle cx="77.3" cy="266.1" r="0.42"/><circle cx="71.4" cy="270.0" r="0.42"/><circle cx="73.2" cy="257.2" r="0.42"/><circle cx="76.5" cy="260.1" r="0.42"/><circle cx="76.2" cy="256.9" r="0.42"/><circle cx="72.6" cy="247.9" r="0.42"/><circle cx="76.0" cy="254.3" r="0.42"/><circle cx="75.2" cy="260.7" r="0.42"/><circle cx="71.4" cy="267.2" r="0.42"/><circle cx="75.0" cy="255.4" r="0.42"/><circle cx="75.2" cy="267.5" r="0.42"/><circle cx="74.1" cy="263.3" r="0.42"/><circle cx="77.7" cy="258.7" r="0.42"/><circle cx="73.8" cy="261.3" r="0.42"/></g>
<g fill="#333" fill-opacity="1"><circle cx="87.9" cy="258.7" r="0.38"/><circle cx="92.6" cy="260.1" r="0.38"/><circle cx="79.3" cy="268.8" r="0.38"/><circle cx="87.9" cy="267.0" r="0.38"/><circle cx="82.2" cy="265.4" r="0.38"/><circle cx="83.0" cy="256.6" r="0.38"/><circle cx="82.4" cy="266.8" r="0.38"/><circle cx="87.7" cy="273.9" r="0.38"/><circle cx="90.6" cy="259.3" r="0.38"/><circle cx="87.7" cy="257.3" r="0.38"/></g>
</svg>
<line x1="63.70" y1="272.30" x2="76.80" y2="272.30" stroke="#aaa" stroke-width="0.8"/>
<line x1="76.80" y1="272.30" x2="76.80" y2="281.40" stroke="#bbb" stroke-width="0.6"/>
<line x1="76.80" y1="241.80" x2="76.80" y2="272.30" stroke="#000" stroke-width="1.4"/>
<line x1="76.80" y1="272.30" x2="102.90" y2="272.30" stroke="#000" stroke-width="1.4"/>
<rect x="63.70" y="241.80" width="39.20" height="39.60" stroke="#000" stroke-width="0.9" fill="none"/>
<line x1="62.40" y1="242.80" x2="63.70" y2="242.80" stroke="#000" stroke-width="0.5"/>
<line x1="62.40" y1="245.93" x2="63.70" y2="245.93" stroke="#000" stroke-width="0.5"/>
<line x1="62.40" y1="249.07" x2="63.70" y2="249.07" stroke="#000" stroke-width="0.5"/>
<line x1="62.40" y1="252.20" x2="63.70" y2="252.20" stroke="#000" stroke-width="0.5"/>
<line x1="62.40" y1="255.33" x2="63.70" y2="255.33" stroke="#000" stroke-width="0.5"/>
<line x1="62.40" y1="258.47" x2="63.70" y2="258.47" stroke="#000" stroke-width="0.5"/>
<line x1="62.40" y1="261.60" x2="63.70" y2="261.60" stroke="#000" stroke-width="0.5"/>
<line x1="62.40" y1="264.73" x2="63.70" y2="264.73" stroke="#000" stroke-width="0.5"/>
<line x1="62.40" y1="267.87" x2="63.70" y2="267.87" stroke="#000" stroke-width="0.5"/>
<line x1="62.40" y1="271.00" x2="63.70" y2="271.00" stroke="#000" stroke-width="0.5"/>
<line x1="62.40" y1="274.13" x2="63.70" y2="274.13" stroke="#000" stroke-width="0.5"/>
<line x1="62.40" y1="277.27" x2="63.70" y2="277.27" stroke="#000" stroke-width="0.5"/>
<line x1="62.40" y1="280.40" x2="63.70" y2="280.40" stroke="#000" stroke-width="0.5"/>
<line x1="64.70" y1="281.40" x2="64.70" y2="282.70" stroke="#000" stroke-width="0.5"/>
<line x1="67.80" y1="281.40" x2="67.80" y2="282.70" stroke="#000" stroke-width="0.5"/>
<line x1="70.90" y1="281.40" x2="70.90" y2="282.70" stroke="#000" stroke-width="0.5"/>
<line x1="74.00" y1="281.40" x2="74.00" y2="282.70" stroke="#000" stroke-width="0.5"/>
<line x1="77.10" y1="281.40" x2="77.10" y2="282.70" stroke="#000" stroke-width="0.5"/>
<line x1="80.20" y1="281.40" x2="80.20" y2="282.70" stroke="#000" stroke-width="0.5"/>
<line x1="83.30" y1="281.40" x2="83.30" y2="282.70" stroke="#000" stroke-width="0.5"/>
<line x1="86.40" y1="281.40" x2="86.40" y2="282.70" stroke="#000" stroke-width="0.5"/>
<line x1="89.50" y1="281.40" x2="89.50" y2="282.70" stroke="#000" stroke-width="0.5"/>
<line x1="92.60" y1="281.40" x2="92.60" y2="282.70" stroke="#000" stroke-width="0.5"/>
<line x1="95.70" y1="281.40" x2="95.70" y2="282.70" stroke="#000" stroke-width="0.5"/>
<line x1="98.80" y1="281.40" x2="98.80" y2="282.70" stroke="#000" stroke-width="0.5"/>
<line x1="101.90" y1="281.40" x2="101.90" y2="282.70" stroke="#000" stroke-width="0.5"/>
<text x="81.90" y="250.11" font-size="7.6" fill="#111" textLength="20.40" lengthAdjust="spacingAndGlyphs">2.11%</text>
<svg x="107.3" y="241.8" width="39.2" height="39.6" viewBox="107.3 241.8 39.2 39.6" overflow="hidden">
<ellipse cx="131.0" cy="265.0" rx="10" ry="9" fill="#fde8eb" stroke="none" stroke-width="0.6" filter="url(#bl2)"/>
<ellipse cx="132.9" cy="274.5" rx="11" ry="6.5" fill="#f9c0c6" stroke="none" stroke-width="0.6" filter="url(#bl2)"/>
<ellipse cx="132.9" cy="275.0" rx="8" ry="4.5" fill="none" stroke="#f27080" stroke-width="0.7"/>
<ellipse cx="132.9" cy="275.0" rx="5" ry="2.8" fill="#f58a96" stroke="none" stroke-width="0.6" filter="url(#bl1)"/>
<ellipse cx="133.5" cy="275.0" rx="1.8" ry="1.3" fill="#fff" stroke="none" stroke-width="0.6" filter="url(#bl05)"/>
<ellipse cx="116.8" cy="276.0" rx="4.8" ry="4.8" fill="#f8b4ba" stroke="none" stroke-width="0.6" filter="url(#bl1)"/>
<ellipse cx="116.8" cy="276.0" rx="3.3" ry="3.5" fill="none" stroke="#ee3040" stroke-width="0.9"/>
<ellipse cx="116.8" cy="276.0" rx="1.8" ry="2" fill="#f04050" stroke="none" stroke-width="0.6" filter="url(#bl05)"/>
<g fill="#ee3344" fill-opacity="1"><circle cx="135.5" cy="268.7" r="0.45"/><circle cx="135.2" cy="270.3" r="0.45"/><circle cx="126.8" cy="258.3" r="0.45"/><circle cx="125.7" cy="256.8" r="0.45"/><circle cx="137.5" cy="264.0" r="0.45"/><circle cx="126.1" cy="257.0" r="0.45"/><circle cx="137.5" cy="255.3" r="0.45"/><circle cx="128.2" cy="265.0" r="0.45"/><circle cx="138.0" cy="269.9" r="0.45"/><circle cx="128.2" cy="254.4" r="0.45"/><circle cx="124.9" cy="264.5" r="0.45"/><circle cx="132.2" cy="269.3" r="0.45"/><circle cx="135.7" cy="268.6" r="0.45"/><circle cx="125.4" cy="255.5" r="0.45"/><circle cx="131.1" cy="264.6" r="0.45"/><circle cx="126.8" cy="269.9" r="0.45"/><circle cx="121.9" cy="261.4" r="0.45"/><circle cx="126.0" cy="264.5" r="0.45"/><circle cx="133.8" cy="260.0" r="0.45"/><circle cx="132.9" cy="269.7" r="0.45"/><circle cx="127.0" cy="257.3" r="0.45"/><circle cx="125.5" cy="259.7" r="0.45"/><circle cx="125.4" cy="251.0" r="0.45"/><circle cx="134.6" cy="254.4" r="0.45"/><circle cx="117.9" cy="264.7" r="0.45"/><circle cx="123.7" cy="264.7" r="0.45"/><circle cx="136.7" cy="255.3" r="0.45"/><circle cx="124.0" cy="268.3" r="0.45"/><circle cx="121.1" cy="254.1" r="0.45"/><circle cx="126.1" cy="256.8" r="0.45"/><circle cx="137.6" cy="260.8" r="0.45"/><circle cx="120.6" cy="270.4" r="0.45"/><circle cx="134.2" cy="260.7" r="0.45"/><circle cx="140.8" cy="267.2" r="0.45"/><circle cx="135.0" cy="258.0" r="0.45"/><circle cx="130.8" cy="271.1" r="0.45"/><circle cx="134.5" cy="260.5" r="0.45"/><circle cx="123.3" cy="264.8" r="0.45"/><circle cx="132.0" cy="268.1" r="0.45"/><circle cx="134.9" cy="267.4" r="0.45"/><circle cx="131.3" cy="264.4" r="0.45"/><circle cx="128.6" cy="264.2" r="0.45"/><circle cx="133.3" cy="264.3" r="0.45"/><circle cx="126.8" cy="264.6" r="0.45"/><circle cx="130.2" cy="255.9" r="0.45"/><circle cx="131.2" cy="265.9" r="0.45"/><circle cx="128.4" cy="271.5" r="0.45"/><circle cx="132.8" cy="268.4" r="0.45"/><circle cx="134.6" cy="251.4" r="0.45"/><circle cx="120.7" cy="264.7" r="0.45"/><circle cx="128.5" cy="258.6" r="0.45"/><circle cx="133.8" cy="264.0" r="0.45"/><circle cx="132.4" cy="256.2" r="0.45"/><circle cx="138.5" cy="248.6" r="0.45"/><circle cx="136.4" cy="258.7" r="0.45"/><circle cx="135.4" cy="262.2" r="0.45"/><circle cx="132.5" cy="270.5" r="0.45"/><circle cx="127.3" cy="249.1" r="0.45"/><circle cx="127.1" cy="247.4" r="0.45"/><circle cx="127.0" cy="256.8" r="0.45"/></g>
<g fill="#ee5566" fill-opacity="1"><circle cx="114.1" cy="264.0" r="0.4"/><circle cx="114.7" cy="256.6" r="0.4"/><circle cx="119.7" cy="257.2" r="0.4"/><circle cx="117.7" cy="266.6" r="0.4"/><circle cx="115.1" cy="264.7" r="0.4"/><circle cx="120.1" cy="260.8" r="0.4"/><circle cx="115.2" cy="264.1" r="0.4"/><circle cx="117.4" cy="271.1" r="0.4"/><circle cx="118.1" cy="261.3" r="0.4"/><circle cx="115.2" cy="264.6" r="0.4"/><circle cx="115.8" cy="260.1" r="0.4"/><circle cx="119.8" cy="266.6" r="0.4"/></g>
</svg>
<line x1="107.30" y1="272.30" x2="120.40" y2="272.30" stroke="#aaa" stroke-width="0.8"/>
<line x1="120.40" y1="272.30" x2="120.40" y2="281.40" stroke="#bbb" stroke-width="0.6"/>
<line x1="120.40" y1="241.80" x2="120.40" y2="272.30" stroke="#000" stroke-width="1.4"/>
<line x1="120.40" y1="272.30" x2="146.50" y2="272.30" stroke="#000" stroke-width="1.4"/>
<rect x="107.30" y="241.80" width="39.20" height="39.60" stroke="#000" stroke-width="0.9" fill="none"/>
<line x1="106.00" y1="242.80" x2="107.30" y2="242.80" stroke="#000" stroke-width="0.5"/>
<line x1="106.00" y1="245.93" x2="107.30" y2="245.93" stroke="#000" stroke-width="0.5"/>
<line x1="106.00" y1="249.07" x2="107.30" y2="249.07" stroke="#000" stroke-width="0.5"/>
<line x1="106.00" y1="252.20" x2="107.30" y2="252.20" stroke="#000" stroke-width="0.5"/>
<line x1="106.00" y1="255.33" x2="107.30" y2="255.33" stroke="#000" stroke-width="0.5"/>
<line x1="106.00" y1="258.47" x2="107.30" y2="258.47" stroke="#000" stroke-width="0.5"/>
<line x1="106.00" y1="261.60" x2="107.30" y2="261.60" stroke="#000" stroke-width="0.5"/>
<line x1="106.00" y1="264.73" x2="107.30" y2="264.73" stroke="#000" stroke-width="0.5"/>
<line x1="106.00" y1="267.87" x2="107.30" y2="267.87" stroke="#000" stroke-width="0.5"/>
<line x1="106.00" y1="271.00" x2="107.30" y2="271.00" stroke="#000" stroke-width="0.5"/>
<line x1="106.00" y1="274.13" x2="107.30" y2="274.13" stroke="#000" stroke-width="0.5"/>
<line x1="106.00" y1="277.27" x2="107.30" y2="277.27" stroke="#000" stroke-width="0.5"/>
<line x1="106.00" y1="280.40" x2="107.30" y2="280.40" stroke="#000" stroke-width="0.5"/>
<line x1="108.30" y1="281.40" x2="108.30" y2="282.70" stroke="#000" stroke-width="0.5"/>
<line x1="111.40" y1="281.40" x2="111.40" y2="282.70" stroke="#000" stroke-width="0.5"/>
<line x1="114.50" y1="281.40" x2="114.50" y2="282.70" stroke="#000" stroke-width="0.5"/>
<line x1="117.60" y1="281.40" x2="117.60" y2="282.70" stroke="#000" stroke-width="0.5"/>
<line x1="120.70" y1="281.40" x2="120.70" y2="282.70" stroke="#000" stroke-width="0.5"/>
<line x1="123.80" y1="281.40" x2="123.80" y2="282.70" stroke="#000" stroke-width="0.5"/>
<line x1="126.90" y1="281.40" x2="126.90" y2="282.70" stroke="#000" stroke-width="0.5"/>
<line x1="130.00" y1="281.40" x2="130.00" y2="282.70" stroke="#000" stroke-width="0.5"/>
<line x1="133.10" y1="281.40" x2="133.10" y2="282.70" stroke="#000" stroke-width="0.5"/>
<line x1="136.20" y1="281.40" x2="136.20" y2="282.70" stroke="#000" stroke-width="0.5"/>
<line x1="139.30" y1="281.40" x2="139.30" y2="282.70" stroke="#000" stroke-width="0.5"/>
<line x1="142.40" y1="281.40" x2="142.40" y2="282.70" stroke="#000" stroke-width="0.5"/>
<line x1="145.50" y1="281.40" x2="145.50" y2="282.70" stroke="#000" stroke-width="0.5"/>
<text x="125.50" y="250.11" font-size="7.6" fill="#cc1538" textLength="20.40" lengthAdjust="spacingAndGlyphs">26.7%</text>
<svg x="63.7" y="285.4" width="39.2" height="40.3" viewBox="63.7 285.4 39.2 40.3" overflow="hidden">
<ellipse cx="80.0" cy="316.5" rx="12" ry="5.5" fill="#d4d4d4" stroke="none" stroke-width="0.6" filter="url(#bl2)"/>
<ellipse cx="73.5" cy="309.0" rx="4.5" ry="11" fill="#cdcdcd" stroke="none" stroke-width="0.6" filter="url(#bl1)"/>
<ellipse cx="73.0" cy="312.5" rx="3.6" ry="9.2" fill="#ababab" stroke="#333" stroke-width="0.9" filter="url(#bl05)"/>
<ellipse cx="73.0" cy="315.5" rx="2.6" ry="5.5" fill="none" stroke="#444" stroke-width="0.7"/>
<ellipse cx="73.0" cy="317.8" rx="1.8" ry="2.8" fill="#333" stroke="none" stroke-width="0.6" filter="url(#bl05)"/>
<ellipse cx="82.0" cy="317.0" rx="7" ry="3" fill="none" stroke="#777" stroke-width="0.5"/>
<circle cx="73.4" cy="300.5" r="0.8" fill="#111"/>
<g fill="#333" fill-opacity="1"><circle cx="93.6" cy="304.3" r="0.42"/><circle cx="85.1" cy="297.0" r="0.42"/><circle cx="87.5" cy="307.0" r="0.42"/><circle cx="84.6" cy="303.5" r="0.42"/><circle cx="77.7" cy="312.1" r="0.42"/><circle cx="89.1" cy="303.2" r="0.42"/><circle cx="90.7" cy="306.8" r="0.42"/><circle cx="87.6" cy="304.0" r="0.42"/><circle cx="87.4" cy="307.4" r="0.42"/><circle cx="92.1" cy="309.4" r="0.42"/><circle cx="89.5" cy="309.7" r="0.42"/><circle cx="86.0" cy="297.0" r="0.42"/><circle cx="77.9" cy="309.5" r="0.42"/><circle cx="76.9" cy="300.9" r="0.42"/><circle cx="87.0" cy="309.8" r="0.42"/><circle cx="74.3" cy="299.2" r="0.42"/><circle cx="82.0" cy="301.2" r="0.42"/><circle cx="87.0" cy="309.1" r="0.42"/><circle cx="90.8" cy="319.3" r="0.42"/><circle cx="96.6" cy="298.1" r="0.42"/><circle cx="77.7" cy="303.6" r="0.42"/><circle cx="85.0" cy="310.5" r="0.42"/><circle cx="90.8" cy="309.1" r="0.42"/><circle cx="87.0" cy="307.3" r="0.42"/><circle cx="89.4" cy="303.9" r="0.42"/><circle cx="90.6" cy="297.8" r="0.42"/></g>
</svg>
<line x1="63.70" y1="312.60" x2="76.80" y2="312.60" stroke="#aaa" stroke-width="0.8"/>
<line x1="76.80" y1="312.60" x2="76.80" y2="325.70" stroke="#bbb" stroke-width="0.6"/>
<line x1="76.80" y1="285.40" x2="76.80" y2="312.60" stroke="#000" stroke-width="1.4"/>
<line x1="76.80" y1="312.60" x2="102.90" y2="312.60" stroke="#000" stroke-width="1.4"/>
<rect x="63.70" y="285.40" width="39.20" height="40.30" stroke="#000" stroke-width="0.9" fill="none"/>
<line x1="62.40" y1="286.40" x2="63.70" y2="286.40" stroke="#000" stroke-width="0.5"/>
<line x1="62.40" y1="289.59" x2="63.70" y2="289.59" stroke="#000" stroke-width="0.5"/>
<line x1="62.40" y1="292.78" x2="63.70" y2="292.78" stroke="#000" stroke-width="0.5"/>
<line x1="62.40" y1="295.97" x2="63.70" y2="295.97" stroke="#000" stroke-width="0.5"/>
<line x1="62.40" y1="299.17" x2="63.70" y2="299.17" stroke="#000" stroke-width="0.5"/>
<line x1="62.40" y1="302.36" x2="63.70" y2="302.36" stroke="#000" stroke-width="0.5"/>
<line x1="62.40" y1="305.55" x2="63.70" y2="305.55" stroke="#000" stroke-width="0.5"/>
<line x1="62.40" y1="308.74" x2="63.70" y2="308.74" stroke="#000" stroke-width="0.5"/>
<line x1="62.40" y1="311.93" x2="63.70" y2="311.93" stroke="#000" stroke-width="0.5"/>
<line x1="62.40" y1="315.12" x2="63.70" y2="315.12" stroke="#000" stroke-width="0.5"/>
<line x1="62.40" y1="318.32" x2="63.70" y2="318.32" stroke="#000" stroke-width="0.5"/>
<line x1="62.40" y1="321.51" x2="63.70" y2="321.51" stroke="#000" stroke-width="0.5"/>
<line x1="62.40" y1="324.70" x2="63.70" y2="324.70" stroke="#000" stroke-width="0.5"/>
<line x1="64.70" y1="325.70" x2="64.70" y2="327.00" stroke="#000" stroke-width="0.5"/>
<line x1="67.80" y1="325.70" x2="67.80" y2="327.00" stroke="#000" stroke-width="0.5"/>
<line x1="70.90" y1="325.70" x2="70.90" y2="327.00" stroke="#000" stroke-width="0.5"/>
<line x1="74.00" y1="325.70" x2="74.00" y2="327.00" stroke="#000" stroke-width="0.5"/>
<line x1="77.10" y1="325.70" x2="77.10" y2="327.00" stroke="#000" stroke-width="0.5"/>
<line x1="80.20" y1="325.70" x2="80.20" y2="327.00" stroke="#000" stroke-width="0.5"/>
<line x1="83.30" y1="325.70" x2="83.30" y2="327.00" stroke="#000" stroke-width="0.5"/>
<line x1="86.40" y1="325.70" x2="86.40" y2="327.00" stroke="#000" stroke-width="0.5"/>
<line x1="89.50" y1="325.70" x2="89.50" y2="327.00" stroke="#000" stroke-width="0.5"/>
<line x1="92.60" y1="325.70" x2="92.60" y2="327.00" stroke="#000" stroke-width="0.5"/>
<line x1="95.70" y1="325.70" x2="95.70" y2="327.00" stroke="#000" stroke-width="0.5"/>
<line x1="98.80" y1="325.70" x2="98.80" y2="327.00" stroke="#000" stroke-width="0.5"/>
<line x1="101.90" y1="325.70" x2="101.90" y2="327.00" stroke="#000" stroke-width="0.5"/>
<text x="81.90" y="293.71" font-size="7.6" fill="#111" textLength="20.40" lengthAdjust="spacingAndGlyphs">10.6%</text>
<svg x="107.3" y="285.4" width="39.2" height="40.3" viewBox="107.3 285.4 39.2 40.3" overflow="hidden">
<ellipse cx="127.0" cy="307.0" rx="13.5" ry="14" fill="#fcd8dd" stroke="none" stroke-width="0.6" filter="url(#bl2)"/>
<ellipse cx="125.0" cy="313.0" rx="11.5" ry="9" fill="#f8b8c0" stroke="none" stroke-width="0.6" filter="url(#bl1)"/>
<ellipse cx="124.0" cy="315.0" rx="9" ry="6" fill="none" stroke="#f26070" stroke-width="0.8"/>
<ellipse cx="123.0" cy="316.5" rx="7" ry="4" fill="#f26a78" stroke="none" stroke-width="0.6" filter="url(#bl1)"/>
<ellipse cx="123.0" cy="316.5" rx="5" ry="2.6" fill="none" stroke="#ffd6da" stroke-width="0.6"/>
<ellipse cx="128.0" cy="305.0" rx="8" ry="7" fill="none" stroke="#f59aa4" stroke-width="0.6"/>
<ellipse cx="119.5" cy="316.5" rx="1.4" ry="1.2" fill="#fff" stroke="none" stroke-width="0.6" filter="url(#bl05)"/>
<ellipse cx="126.5" cy="316.0" rx="1.6" ry="1.2" fill="#fff" stroke="none" stroke-width="0.6" filter="url(#bl05)"/>
<g fill="#ee3344" fill-opacity="1"><circle cx="140.8" cy="298.2" r="0.45"/><circle cx="127.5" cy="297.1" r="0.45"/><circle cx="123.0" cy="308.6" r="0.45"/><circle cx="128.4" cy="300.1" r="0.45"/><circle cx="134.9" cy="311.1" r="0.45"/><circle cx="135.0" cy="306.4" r="0.45"/><circle cx="123.5" cy="307.9" r="0.45"/><circle cx="133.6" cy="295.5" r="0.45"/><circle cx="123.6" cy="304.1" r="0.45"/><circle cx="121.4" cy="295.7" r="0.45"/><circle cx="121.9" cy="304.3" r="0.45"/><circle cx="123.1" cy="300.0" r="0.45"/><circle cx="131.6" cy="307.4" r="0.45"/><circle cx="135.1" cy="305.4" r="0.45"/><circle cx="131.9" cy="291.2" r="0.45"/><circle cx="127.9" cy="306.7" r="0.45"/><circle cx="133.3" cy="298.6" r="0.45"/><circle cx="132.3" cy="300.8" r="0.45"/><circle cx="129.0" cy="299.7" r="0.45"/><circle cx="122.2" cy="292.4" r="0.45"/><circle cx="119.2" cy="298.7" r="0.45"/><circle cx="131.4" cy="307.0" r="0.45"/><circle cx="134.1" cy="302.3" r="0.45"/><circle cx="130.4" cy="303.6" r="0.45"/><circle cx="126.1" cy="299.4" r="0.45"/><circle cx="128.5" cy="301.6" r="0.45"/><circle cx="129.9" cy="297.2" r="0.45"/><circle cx="136.1" cy="304.4" r="0.45"/><circle cx="126.1" cy="293.4" r="0.45"/><circle cx="120.3" cy="299.0" r="0.45"/><circle cx="126.9" cy="296.3" r="0.45"/><circle cx="133.5" cy="293.9" r="0.45"/><circle cx="136.6" cy="292.0" r="0.45"/><circle cx="132.2" cy="295.4" r="0.45"/><circle cx="117.5" cy="299.7" r="0.45"/><circle cx="126.6" cy="300.4" r="0.45"/><circle cx="131.8" cy="299.2" r="0.45"/><circle cx="120.9" cy="301.6" r="0.45"/><circle cx="135.1" cy="305.0" r="0.45"/><circle cx="118.0" cy="295.6" r="0.45"/><circle cx="123.8" cy="298.0" r="0.45"/><circle cx="112.9" cy="295.5" r="0.45"/><circle cx="119.8" cy="293.0" r="0.45"/><circle cx="137.9" cy="301.6" r="0.45"/><circle cx="128.9" cy="304.2" r="0.45"/><circle cx="126.0" cy="304.0" r="0.45"/><circle cx="131.8" cy="302.9" r="0.45"/><circle cx="128.6" cy="305.1" r="0.45"/><circle cx="128.8" cy="298.8" r="0.45"/><circle cx="128.7" cy="302.8" r="0.45"/><circle cx="123.3" cy="300.8" r="0.45"/><circle cx="123.3" cy="300.2" r="0.45"/><circle cx="130.5" cy="307.0" r="0.45"/><circle cx="140.2" cy="306.0" r="0.45"/><circle cx="122.0" cy="298.9" r="0.45"/><circle cx="113.0" cy="296.9" r="0.45"/><circle cx="121.5" cy="301.2" r="0.45"/><circle cx="129.3" cy="306.3" r="0.45"/><circle cx="129.3" cy="293.5" r="0.45"/></g>
</svg>
<line x1="107.30" y1="312.60" x2="120.40" y2="312.60" stroke="#aaa" stroke-width="0.8"/>
<line x1="120.40" y1="312.60" x2="120.40" y2="325.70" stroke="#bbb" stroke-width="0.6"/>
<line x1="120.40" y1="285.40" x2="120.40" y2="312.60" stroke="#000" stroke-width="1.4"/>
<line x1="120.40" y1="312.60" x2="146.50" y2="312.60" stroke="#000" stroke-width="1.4"/>
<rect x="107.30" y="285.40" width="39.20" height="40.30" stroke="#000" stroke-width="0.9" fill="none"/>
<line x1="106.00" y1="286.40" x2="107.30" y2="286.40" stroke="#000" stroke-width="0.5"/>
<line x1="106.00" y1="289.59" x2="107.30" y2="289.59" stroke="#000" stroke-width="0.5"/>
<line x1="106.00" y1="292.78" x2="107.30" y2="292.78" stroke="#000" stroke-width="0.5"/>
<line x1="106.00" y1="295.97" x2="107.30" y2="295.97" stroke="#000" stroke-width="0.5"/>
<line x1="106.00" y1="299.17" x2="107.30" y2="299.17" stroke="#000" stroke-width="0.5"/>
<line x1="106.00" y1="302.36" x2="107.30" y2="302.36" stroke="#000" stroke-width="0.5"/>
<line x1="106.00" y1="305.55" x2="107.30" y2="305.55" stroke="#000" stroke-width="0.5"/>
<line x1="106.00" y1="308.74" x2="107.30" y2="308.74" stroke="#000" stroke-width="0.5"/>
<line x1="106.00" y1="311.93" x2="107.30" y2="311.93" stroke="#000" stroke-width="0.5"/>
<line x1="106.00" y1="315.12" x2="107.30" y2="315.12" stroke="#000" stroke-width="0.5"/>
<line x1="106.00" y1="318.32" x2="107.30" y2="318.32" stroke="#000" stroke-width="0.5"/>
<line x1="106.00" y1="321.51" x2="107.30" y2="321.51" stroke="#000" stroke-width="0.5"/>
<line x1="106.00" y1="324.70" x2="107.30" y2="324.70" stroke="#000" stroke-width="0.5"/>
<line x1="108.30" y1="325.70" x2="108.30" y2="327.00" stroke="#000" stroke-width="0.5"/>
<line x1="111.40" y1="325.70" x2="111.40" y2="327.00" stroke="#000" stroke-width="0.5"/>
<line x1="114.50" y1="325.70" x2="114.50" y2="327.00" stroke="#000" stroke-width="0.5"/>
<line x1="117.60" y1="325.70" x2="117.60" y2="327.00" stroke="#000" stroke-width="0.5"/>
<line x1="120.70" y1="325.70" x2="120.70" y2="327.00" stroke="#000" stroke-width="0.5"/>
<line x1="123.80" y1="325.70" x2="123.80" y2="327.00" stroke="#000" stroke-width="0.5"/>
<line x1="126.90" y1="325.70" x2="126.90" y2="327.00" stroke="#000" stroke-width="0.5"/>
<line x1="130.00" y1="325.70" x2="130.00" y2="327.00" stroke="#000" stroke-width="0.5"/>
<line x1="133.10" y1="325.70" x2="133.10" y2="327.00" stroke="#000" stroke-width="0.5"/>
<line x1="136.20" y1="325.70" x2="136.20" y2="327.00" stroke="#000" stroke-width="0.5"/>
<line x1="139.30" y1="325.70" x2="139.30" y2="327.00" stroke="#000" stroke-width="0.5"/>
<line x1="142.40" y1="325.70" x2="142.40" y2="327.00" stroke="#000" stroke-width="0.5"/>
<line x1="145.50" y1="325.70" x2="145.50" y2="327.00" stroke="#000" stroke-width="0.5"/>
<text x="125.50" y="293.71" font-size="7.6" fill="#cc1538" textLength="20.40" lengthAdjust="spacingAndGlyphs">39.8%</text>
<text x="50.75" y="254.67" font-size="6.6" textLength="5.87" lengthAdjust="spacingAndGlyphs">10</text>
<text x="56.78" y="252.03" font-size="4.09">4</text>
<text x="50.75" y="264.47" font-size="6.6" textLength="5.87" lengthAdjust="spacingAndGlyphs">10</text>
<text x="56.78" y="261.83" font-size="4.09">3</text>
<text x="55.00" y="278.57" font-size="6.6" textLength="2.80" lengthAdjust="spacingAndGlyphs">0</text>
<text x="50.75" y="298.67" font-size="6.6" textLength="5.87" lengthAdjust="spacingAndGlyphs">10</text>
<text x="56.78" y="296.03" font-size="4.09">4</text>
<text x="50.75" y="308.47" font-size="6.6" textLength="5.87" lengthAdjust="spacingAndGlyphs">10</text>
<text x="56.78" y="305.83" font-size="4.09">3</text>
<text x="55.00" y="322.57" font-size="6.6" textLength="2.80" lengthAdjust="spacingAndGlyphs">0</text>
<text x="70.90" y="334.68" font-size="7.2" textLength="3.10" lengthAdjust="spacingAndGlyphs">0</text>
<text x="87.32" y="334.68" font-size="7.2" textLength="5.92" lengthAdjust="spacingAndGlyphs">10</text>
<text x="93.39" y="331.80" font-size="4.46">4</text>
<text x="95.02" y="334.68" font-size="7.2" textLength="5.92" lengthAdjust="spacingAndGlyphs">10</text>
<text x="101.09" y="331.80" font-size="4.46">5</text>
<text x="114.50" y="334.68" font-size="7.2" textLength="3.10" lengthAdjust="spacingAndGlyphs">0</text>
<text x="130.92" y="334.68" font-size="7.2" textLength="5.92" lengthAdjust="spacingAndGlyphs">10</text>
<text x="136.99" y="331.80" font-size="4.46">4</text>
<text x="138.62" y="334.68" font-size="7.2" textLength="5.92" lengthAdjust="spacingAndGlyphs">10</text>
<text x="144.69" y="331.80" font-size="4.46">5</text>
<line x1="192.90" y1="244.40" x2="192.90" y2="316.20" stroke="#000" stroke-width="1.0"/>
<line x1="192.90" y1="316.20" x2="242.80" y2="316.20" stroke="#000" stroke-width="1.0"/>
<line x1="189.80" y1="247.60" x2="192.90" y2="247.60" stroke="#000" stroke-width="0.9"/>
<text x="178.60" y="250.46" font-size="8.3" textLength="9.60" lengthAdjust="spacingAndGlyphs">60</text>
<line x1="189.80" y1="270.50" x2="192.90" y2="270.50" stroke="#000" stroke-width="0.9"/>
<text x="178.60" y="273.36" font-size="8.3" textLength="9.60" lengthAdjust="spacingAndGlyphs">40</text>
<line x1="189.80" y1="293.50" x2="192.90" y2="293.50" stroke="#000" stroke-width="0.9"/>
<text x="178.60" y="296.36" font-size="8.3" textLength="9.60" lengthAdjust="spacingAndGlyphs">20</text>
<line x1="189.80" y1="316.20" x2="192.90" y2="316.20" stroke="#000" stroke-width="0.9"/>
<text x="183.40" y="319.06" font-size="8.3" textLength="4.80" lengthAdjust="spacingAndGlyphs">0</text>
<text x="173.51" y="315.80" font-size="7.3" textLength="71.80" lengthAdjust="spacingAndGlyphs" transform="rotate(-90 173.51 315.80)" fill="#000" stroke="#000" stroke-width="0.15">CD69+CD107a+ cells (%)</text>
<circle cx="198.5" cy="314.6" r="1.6" fill="#0f4c8e"/>
<circle cx="200.5" cy="313.6" r="1.6" fill="#0f4c8e"/>
<circle cx="202.5" cy="314.2" r="1.6" fill="#0f4c8e"/>
<circle cx="201.0" cy="315.2" r="1.6" fill="#0f4c8e"/>
<line x1="197.50" y1="314.40" x2="203.50" y2="314.40" stroke="#000" stroke-width="0.8"/>
<circle cx="207.8" cy="284.6" r="1.6" fill="#cc1538"/>
<circle cx="213.2" cy="284.6" r="1.6" fill="#cc1538"/>
<circle cx="210.5" cy="290.0" r="1.6" fill="#cc1538"/>
<circle cx="210.5" cy="285.5" r="1.6" fill="#cc1538"/>
<line x1="207.00" y1="286.50" x2="214.00" y2="286.50" stroke="#000" stroke-width="0.8"/>
<line x1="210.50" y1="285.00" x2="210.50" y2="288.00" stroke="#000" stroke-width="0.8"/>
<circle cx="226.9" cy="296.9" r="1.6" fill="#0f4c8e"/>
<circle cx="227.3" cy="299.9" r="1.6" fill="#0f4c8e"/>
<circle cx="228.9" cy="303.9" r="1.6" fill="#0f4c8e"/>
<circle cx="224.9" cy="306.2" r="1.6" fill="#0f4c8e"/>
<circle cx="230.2" cy="304.9" r="1.6" fill="#0f4c8e"/>
<line x1="224.50" y1="302.50" x2="231.50" y2="302.50" stroke="#000" stroke-width="0.8"/>
<line x1="228.00" y1="300.00" x2="228.00" y2="305.00" stroke="#000" stroke-width="0.8"/>
<circle cx="236.8" cy="261.3" r="1.6" fill="#cc1538"/>
<circle cx="236.8" cy="270.5" r="1.6" fill="#cc1538"/>
<circle cx="234.4" cy="284.9" r="1.6" fill="#cc1538"/>
<circle cx="238.8" cy="284.9" r="1.6" fill="#cc1538"/>
<circle cx="236.8" cy="281.0" r="1.6" fill="#cc1538"/>
<line x1="233.00" y1="275.50" x2="240.50" y2="275.50" stroke="#000" stroke-width="0.9"/>
<line x1="236.80" y1="270.00" x2="236.80" y2="281.00" stroke="#000" stroke-width="0.8"/>
<line x1="235.00" y1="270.00" x2="238.60" y2="270.00" stroke="#000" stroke-width="0.8"/>
<line x1="235.00" y1="280.50" x2="238.60" y2="280.50" stroke="#000" stroke-width="0.8"/>
<path d="M199.9,278.9 L199.9,274.9 L211.3,274.9 L211.3,278.9" fill="none" stroke="#000" stroke-width="0.9"/>
<text x="199.90" y="274.00" font-size="6.3" textLength="11.40" lengthAdjust="spacingAndGlyphs">****</text>
<path d="M226.5,257.5 L226.5,253.6 L237.2,253.6 L237.2,257.5" fill="none" stroke="#000" stroke-width="0.9"/>
<text x="229.30" y="252.60" font-size="6.3" textLength="5.50" lengthAdjust="spacingAndGlyphs">**</text>
<text x="175.00" y="326.78" font-size="7.5" textLength="18.30" lengthAdjust="spacingAndGlyphs">BsAb:</text>
<text x="200.50" y="326.80" font-size="7.5" text-anchor="middle">–</text>
<text x="210.50" y="326.80" font-size="7.5" text-anchor="middle">+</text>
<text x="226.90" y="326.80" font-size="7.5" text-anchor="middle">–</text>
<text x="236.40" y="326.80" font-size="7.5" text-anchor="middle">+</text>
<line x1="197.90" y1="329.80" x2="212.90" y2="329.80" stroke="#000" stroke-width="0.8"/>
<line x1="223.90" y1="329.80" x2="238.80" y2="329.80" stroke="#000" stroke-width="0.8"/>
<text x="195.90" y="338.38" font-size="7.5" textLength="19.00" lengthAdjust="spacingAndGlyphs">CD8T</text>
<text x="226.50" y="338.38" font-size="7.5" textLength="9.30" lengthAdjust="spacingAndGlyphs">NK</text>
<text x="279.00" y="227.30" font-size="11" font-weight="bold">H</text>
<text x="352.10" y="226.36" font-size="8.6" stroke="#000" stroke-width="0.22" textLength="43.70" lengthAdjust="spacingAndGlyphs">BsAb treatment</text>
<line x1="333.30" y1="228.70" x2="415.80" y2="228.70" stroke="#444" stroke-width="1.2"/>
<text x="348.00" y="237.41" font-size="7.0" textLength="8.20" lengthAdjust="spacingAndGlyphs">(–)</text>
<text x="391.70" y="237.41" font-size="7.0" textLength="8.20" lengthAdjust="spacingAndGlyphs">(+)</text>
<text x="290.00" y="259.68" font-size="7.8" textLength="11.90" lengthAdjust="spacingAndGlyphs">BM</text>
<text x="282.30" y="269.08" font-size="7.8" textLength="19.60" lengthAdjust="spacingAndGlyphs">CD8T</text>
<text x="290.00" y="301.58" font-size="7.8" textLength="11.90" lengthAdjust="spacingAndGlyphs">BM</text>
<text x="292.00" y="311.78" font-size="7.8" textLength="9.90" lengthAdjust="spacingAndGlyphs">NK</text>
<text x="311.38" y="263.90" font-size="7.8" textLength="24.60" lengthAdjust="spacingAndGlyphs" transform="rotate(-90 311.38 263.90)" fill="#000">SSC-A</text>
<line x1="308.20" y1="338.20" x2="308.20" y2="270.70" stroke="#000" stroke-width="0.9"/>
<path d="M308.20,267.20 L306.40,271.20 L310.00,271.20 Z" fill="#000"/>
<line x1="308.20" y1="338.20" x2="388.70" y2="338.20" stroke="#000" stroke-width="0.9"/>
<path d="M392.20,338.20 L388.20,336.40 L388.20,340.00 Z" fill="#000"/>
<text x="394.60" y="340.78" font-size="7.8" textLength="15.30" lengthAdjust="spacingAndGlyphs">IFN-γ</text>
<svg x="333.3" y="242.1" width="38.9" height="37.8" viewBox="333.3 242.1 38.9 37.8" overflow="hidden">
<path d="M333.3,279.9 L333.6,270.9 Q334.8,264.9 340.3,263.9 Q346.3,263.4 348.8,267.9 Q350.8,273.9 350.3,279.9 Z" fill="#8a8a8a" stroke="#111" stroke-width="1.7"/>
<ellipse cx="341.8" cy="272.9" rx="5.5" ry="5" fill="#bbb" stroke="none" stroke-width="0.6" filter="url(#bl1)"/>
<ellipse cx="341.8" cy="272.9" rx="3" ry="2.5" fill="#ddd" stroke="none" stroke-width="0.6" filter="url(#bl05)"/>
<g fill="#000" fill-opacity="1"><circle cx="333.6" cy="270.0" r="0.5"/><circle cx="346.1" cy="264.7" r="0.5"/><circle cx="339.7" cy="264.0" r="0.5"/><circle cx="340.7" cy="263.2" r="0.5"/><circle cx="347.4" cy="265.2" r="0.5"/><circle cx="334.2" cy="266.3" r="0.5"/><circle cx="333.5" cy="270.7" r="0.5"/><circle cx="342.9" cy="263.3" r="0.5"/><circle cx="346.7" cy="264.5" r="0.5"/><circle cx="349.8" cy="269.1" r="0.5"/><circle cx="338.8" cy="264.5" r="0.5"/><circle cx="340.5" cy="262.8" r="0.5"/><circle cx="342.9" cy="263.5" r="0.5"/><circle cx="337.6" cy="264.9" r="0.5"/><circle cx="347.6" cy="266.4" r="0.5"/><circle cx="332.7" cy="272.8" r="0.5"/><circle cx="340.4" cy="264.7" r="0.5"/><circle cx="342.0" cy="263.7" r="0.5"/><circle cx="342.0" cy="264.4" r="0.5"/><circle cx="341.0" cy="262.7" r="0.5"/><circle cx="333.9" cy="267.2" r="0.5"/><circle cx="339.9" cy="263.0" r="0.5"/><circle cx="350.0" cy="271.2" r="0.5"/><circle cx="347.7" cy="265.1" r="0.5"/><circle cx="335.0" cy="268.2" r="0.5"/><circle cx="346.3" cy="262.8" r="0.5"/><circle cx="335.4" cy="267.0" r="0.5"/><circle cx="343.7" cy="264.5" r="0.5"/><circle cx="335.7" cy="267.7" r="0.5"/><circle cx="347.6" cy="264.5" r="0.5"/><circle cx="348.9" cy="267.5" r="0.5"/><circle cx="345.3" cy="265.9" r="0.5"/><circle cx="331.8" cy="271.3" r="0.5"/><circle cx="333.7" cy="267.3" r="0.5"/><circle cx="342.8" cy="263.3" r="0.5"/><circle cx="337.2" cy="265.6" r="0.5"/><circle cx="343.1" cy="263.8" r="0.5"/><circle cx="334.8" cy="266.5" r="0.5"/><circle cx="336.2" cy="267.2" r="0.5"/><circle cx="348.5" cy="265.2" r="0.5"/><circle cx="337.4" cy="265.5" r="0.5"/><circle cx="332.3" cy="269.9" r="0.5"/><circle cx="333.8" cy="269.5" r="0.5"/><circle cx="350.8" cy="271.9" r="0.5"/><circle cx="349.3" cy="266.7" r="0.5"/><circle cx="341.7" cy="263.3" r="0.5"/><circle cx="351.0" cy="269.3" r="0.5"/><circle cx="335.7" cy="266.2" r="0.5"/><circle cx="350.7" cy="269.7" r="0.5"/><circle cx="347.6" cy="265.5" r="0.5"/><circle cx="336.6" cy="265.3" r="0.5"/><circle cx="335.6" cy="266.2" r="0.5"/><circle cx="338.1" cy="264.8" r="0.5"/><circle cx="350.1" cy="270.3" r="0.5"/><circle cx="335.7" cy="267.6" r="0.5"/><circle cx="348.2" cy="268.4" r="0.5"/><circle cx="346.6" cy="266.0" r="0.5"/><circle cx="350.1" cy="267.1" r="0.5"/><circle cx="333.9" cy="268.7" r="0.5"/><circle cx="333.3" cy="270.9" r="0.5"/><circle cx="336.1" cy="263.7" r="0.5"/><circle cx="347.0" cy="266.6" r="0.5"/><circle cx="336.3" cy="264.7" r="0.5"/><circle cx="351.1" cy="271.0" r="0.5"/><circle cx="337.0" cy="266.6" r="0.5"/><circle cx="348.5" cy="268.0" r="0.5"/><circle cx="350.5" cy="268.1" r="0.5"/><circle cx="349.1" cy="269.1" r="0.5"/><circle cx="335.0" cy="266.1" r="0.5"/><circle cx="338.9" cy="265.0" r="0.5"/></g>
<g fill="#111" fill-opacity="1"><circle cx="358.1" cy="273.1" r="0.42"/><circle cx="353.5" cy="265.2" r="0.42"/><circle cx="363.8" cy="266.4" r="0.42"/><circle cx="355.7" cy="275.7" r="0.42"/><circle cx="347.9" cy="271.9" r="0.42"/><circle cx="356.9" cy="279.1" r="0.42"/><circle cx="353.3" cy="278.9" r="0.42"/><circle cx="351.9" cy="270.2" r="0.42"/><circle cx="348.2" cy="275.7" r="0.42"/><circle cx="350.7" cy="271.8" r="0.42"/><circle cx="358.1" cy="271.5" r="0.42"/><circle cx="353.5" cy="274.6" r="0.42"/><circle cx="360.9" cy="270.9" r="0.42"/><circle cx="351.6" cy="268.8" r="0.42"/><circle cx="354.6" cy="273.5" r="0.42"/><circle cx="346.6" cy="270.2" r="0.42"/><circle cx="356.3" cy="272.8" r="0.42"/><circle cx="355.9" cy="273.5" r="0.42"/><circle cx="358.6" cy="278.4" r="0.42"/><circle cx="350.6" cy="266.4" r="0.42"/><circle cx="352.2" cy="274.5" r="0.42"/><circle cx="364.3" cy="263.0" r="0.42"/><circle cx="355.4" cy="273.8" r="0.42"/><circle cx="357.4" cy="275.1" r="0.42"/><circle cx="350.5" cy="267.8" r="0.42"/><circle cx="354.8" cy="275.3" r="0.42"/><circle cx="342.1" cy="270.4" r="0.42"/><circle cx="355.8" cy="272.8" r="0.42"/><circle cx="355.2" cy="273.6" r="0.42"/><circle cx="349.6" cy="271.7" r="0.42"/><circle cx="354.0" cy="269.3" r="0.42"/><circle cx="358.7" cy="267.2" r="0.42"/><circle cx="354.0" cy="272.7" r="0.42"/><circle cx="354.4" cy="267.1" r="0.42"/><circle cx="353.1" cy="267.8" r="0.42"/><circle cx="348.5" cy="276.8" r="0.42"/><circle cx="353.5" cy="272.0" r="0.42"/><circle cx="349.9" cy="274.9" r="0.42"/><circle cx="352.8" cy="278.7" r="0.42"/><circle cx="352.4" cy="270.9" r="0.42"/><circle cx="352.6" cy="274.9" r="0.42"/><circle cx="349.7" cy="272.9" r="0.42"/><circle cx="354.5" cy="276.1" r="0.42"/></g>
<g fill="#222" fill-opacity="1"><circle cx="350.4" cy="271.7" r="0.38"/><circle cx="361.9" cy="269.6" r="0.38"/><circle cx="364.1" cy="277.0" r="0.38"/><circle cx="354.0" cy="277.0" r="0.38"/><circle cx="360.5" cy="270.8" r="0.38"/><circle cx="356.8" cy="273.8" r="0.38"/><circle cx="361.1" cy="275.7" r="0.38"/><circle cx="360.5" cy="274.0" r="0.38"/><circle cx="360.7" cy="272.6" r="0.38"/><circle cx="361.5" cy="266.0" r="0.38"/><circle cx="353.7" cy="277.5" r="0.38"/><circle cx="363.4" cy="270.5" r="0.38"/><circle cx="357.5" cy="270.2" r="0.38"/></g>
</svg>
<rect x="347.40" y="261.50" width="21.20" height="17.70" stroke="#000" stroke-width="0.9" fill="none"/>
<rect x="333.30" y="242.10" width="38.90" height="37.80" stroke="#000" stroke-width="0.9" fill="none"/>
<line x1="332.00" y1="243.10" x2="333.30" y2="243.10" stroke="#000" stroke-width="0.5"/>
<line x1="332.00" y1="246.08" x2="333.30" y2="246.08" stroke="#000" stroke-width="0.5"/>
<line x1="332.00" y1="249.07" x2="333.30" y2="249.07" stroke="#000" stroke-width="0.5"/>
<line x1="332.00" y1="252.05" x2="333.30" y2="252.05" stroke="#000" stroke-width="0.5"/>
<line x1="332.00" y1="255.03" x2="333.30" y2="255.03" stroke="#000" stroke-width="0.5"/>
<line x1="332.00" y1="258.02" x2="333.30" y2="258.02" stroke="#000" stroke-width="0.5"/>
<line x1="332.00" y1="261.00" x2="333.30" y2="261.00" stroke="#000" stroke-width="0.5"/>
<line x1="332.00" y1="263.98" x2="333.30" y2="263.98" stroke="#000" stroke-width="0.5"/>
<line x1="332.00" y1="266.97" x2="333.30" y2="266.97" stroke="#000" stroke-width="0.5"/>
<line x1="332.00" y1="269.95" x2="333.30" y2="269.95" stroke="#000" stroke-width="0.5"/>
<line x1="332.00" y1="272.93" x2="333.30" y2="272.93" stroke="#000" stroke-width="0.5"/>
<line x1="332.00" y1="275.92" x2="333.30" y2="275.92" stroke="#000" stroke-width="0.5"/>
<line x1="332.00" y1="278.90" x2="333.30" y2="278.90" stroke="#000" stroke-width="0.5"/>
<line x1="334.30" y1="279.90" x2="334.30" y2="281.20" stroke="#000" stroke-width="0.5"/>
<line x1="337.38" y1="279.90" x2="337.38" y2="281.20" stroke="#000" stroke-width="0.5"/>
<line x1="340.45" y1="279.90" x2="340.45" y2="281.20" stroke="#000" stroke-width="0.5"/>
<line x1="343.52" y1="279.90" x2="343.52" y2="281.20" stroke="#000" stroke-width="0.5"/>
<line x1="346.60" y1="279.90" x2="346.60" y2="281.20" stroke="#000" stroke-width="0.5"/>
<line x1="349.68" y1="279.90" x2="349.68" y2="281.20" stroke="#000" stroke-width="0.5"/>
<line x1="352.75" y1="279.90" x2="352.75" y2="281.20" stroke="#000" stroke-width="0.5"/>
<line x1="355.82" y1="279.90" x2="355.82" y2="281.20" stroke="#000" stroke-width="0.5"/>
<line x1="358.90" y1="279.90" x2="358.90" y2="281.20" stroke="#000" stroke-width="0.5"/>
<line x1="361.98" y1="279.90" x2="361.98" y2="281.20" stroke="#000" stroke-width="0.5"/>
<line x1="365.05" y1="279.90" x2="365.05" y2="281.20" stroke="#000" stroke-width="0.5"/>
<line x1="368.12" y1="279.90" x2="368.12" y2="281.20" stroke="#000" stroke-width="0.5"/>
<line x1="371.20" y1="279.90" x2="371.20" y2="281.20" stroke="#000" stroke-width="0.5"/>
<text x="348.60" y="258.28" font-size="7.8" fill="#111" textLength="20.30" lengthAdjust="spacingAndGlyphs">2.78%</text>
<svg x="376.4" y="242.1" width="38.7" height="37.8" viewBox="376.4 242.1 38.7 37.8" overflow="hidden">
<path d="M376.4,279.9 L376.7,270.9 Q377.9,264.9 383.4,263.9 Q389.4,263.4 392.4,267.9 Q402.4,267.9 410.4,270.9 L412.4,279.9 Z" fill="#fcdde1" stroke="#f04858" stroke-width="1.0"/>
<ellipse cx="384.4" cy="272.9" rx="6" ry="5" fill="none" stroke="#f7a0aa" stroke-width="0.7"/>
<ellipse cx="384.4" cy="272.9" rx="3.5" ry="3" fill="none" stroke="#f8b0b8" stroke-width="0.6"/>
<ellipse cx="401.4" cy="273.9" rx="8" ry="4" fill="none" stroke="#f58590" stroke-width="0.7"/>
<ellipse cx="401.4" cy="273.9" rx="4" ry="2" fill="none" stroke="#f8b0b8" stroke-width="0.6"/>
<g fill="#f03848" fill-opacity="1"><circle cx="390.2" cy="267.2" r="0.45"/><circle cx="392.9" cy="271.7" r="0.45"/><circle cx="376.8" cy="269.9" r="0.45"/><circle cx="391.0" cy="268.2" r="0.45"/><circle cx="380.9" cy="264.4" r="0.45"/><circle cx="377.5" cy="271.7" r="0.45"/><circle cx="383.6" cy="265.2" r="0.45"/><circle cx="393.1" cy="268.3" r="0.45"/><circle cx="380.2" cy="265.9" r="0.45"/><circle cx="378.3" cy="266.1" r="0.45"/><circle cx="394.1" cy="271.7" r="0.45"/><circle cx="393.7" cy="268.4" r="0.45"/><circle cx="381.0" cy="263.7" r="0.45"/><circle cx="386.7" cy="264.0" r="0.45"/><circle cx="386.9" cy="265.4" r="0.45"/><circle cx="378.6" cy="271.0" r="0.45"/><circle cx="381.9" cy="264.5" r="0.45"/><circle cx="391.6" cy="266.9" r="0.45"/><circle cx="378.9" cy="266.4" r="0.45"/><circle cx="386.7" cy="263.9" r="0.45"/><circle cx="377.9" cy="270.5" r="0.45"/><circle cx="377.1" cy="271.8" r="0.45"/><circle cx="377.2" cy="266.8" r="0.45"/><circle cx="385.3" cy="265.2" r="0.45"/><circle cx="389.0" cy="264.9" r="0.45"/><circle cx="386.0" cy="263.0" r="0.45"/><circle cx="392.8" cy="265.8" r="0.45"/><circle cx="375.4" cy="270.4" r="0.45"/><circle cx="378.6" cy="265.0" r="0.45"/><circle cx="387.4" cy="264.0" r="0.45"/><circle cx="389.3" cy="266.6" r="0.45"/><circle cx="384.3" cy="264.8" r="0.45"/><circle cx="377.8" cy="267.9" r="0.45"/><circle cx="381.6" cy="264.9" r="0.45"/><circle cx="392.5" cy="269.4" r="0.45"/><circle cx="392.9" cy="269.1" r="0.45"/><circle cx="392.1" cy="267.3" r="0.45"/><circle cx="386.0" cy="263.7" r="0.45"/><circle cx="380.1" cy="263.5" r="0.45"/><circle cx="392.5" cy="269.3" r="0.45"/><circle cx="378.3" cy="268.0" r="0.45"/><circle cx="389.2" cy="264.4" r="0.45"/><circle cx="381.3" cy="267.3" r="0.45"/><circle cx="382.1" cy="262.5" r="0.45"/><circle cx="391.2" cy="267.0" r="0.45"/><circle cx="386.0" cy="264.9" r="0.45"/><circle cx="378.2" cy="268.3" r="0.45"/><circle cx="378.5" cy="264.2" r="0.45"/><circle cx="381.9" cy="265.5" r="0.45"/><circle cx="380.6" cy="265.1" r="0.45"/><circle cx="390.6" cy="268.0" r="0.45"/><circle cx="391.4" cy="265.7" r="0.45"/><circle cx="389.5" cy="266.4" r="0.45"/><circle cx="375.5" cy="267.9" r="0.45"/><circle cx="383.2" cy="265.0" r="0.45"/><circle cx="378.3" cy="266.8" r="0.45"/><circle cx="390.6" cy="265.1" r="0.45"/><circle cx="390.0" cy="263.9" r="0.45"/><circle cx="378.9" cy="268.7" r="0.45"/><circle cx="377.0" cy="269.4" r="0.45"/><circle cx="390.9" cy="266.3" r="0.45"/><circle cx="377.6" cy="267.0" r="0.45"/><circle cx="380.3" cy="264.5" r="0.45"/><circle cx="382.2" cy="263.7" r="0.45"/><circle cx="393.7" cy="267.8" r="0.45"/><circle cx="378.3" cy="269.0" r="0.45"/><circle cx="392.4" cy="267.0" r="0.45"/><circle cx="388.7" cy="266.0" r="0.45"/><circle cx="378.1" cy="269.3" r="0.45"/><circle cx="384.9" cy="264.1" r="0.45"/><circle cx="384.8" cy="265.5" r="0.45"/><circle cx="388.5" cy="264.3" r="0.45"/><circle cx="393.2" cy="266.1" r="0.45"/><circle cx="391.8" cy="269.0" r="0.45"/><circle cx="383.1" cy="263.2" r="0.45"/><circle cx="391.9" cy="266.5" r="0.45"/><circle cx="381.3" cy="266.4" r="0.45"/><circle cx="381.5" cy="263.6" r="0.45"/><circle cx="383.8" cy="262.9" r="0.45"/><circle cx="374.1" cy="271.1" r="0.45"/></g>
<g fill="#f03848" fill-opacity="1"><circle cx="403.9" cy="266.5" r="0.42"/><circle cx="391.1" cy="271.3" r="0.42"/><circle cx="411.5" cy="273.5" r="0.42"/><circle cx="396.3" cy="268.7" r="0.42"/><circle cx="402.3" cy="268.4" r="0.42"/><circle cx="392.4" cy="270.6" r="0.42"/><circle cx="404.5" cy="268.0" r="0.42"/><circle cx="397.8" cy="267.4" r="0.42"/><circle cx="408.6" cy="268.7" r="0.42"/><circle cx="394.3" cy="268.5" r="0.42"/><circle cx="393.7" cy="270.4" r="0.42"/><circle cx="403.8" cy="267.5" r="0.42"/><circle cx="393.7" cy="270.1" r="0.42"/><circle cx="397.6" cy="267.6" r="0.42"/><circle cx="408.9" cy="271.3" r="0.42"/><circle cx="410.9" cy="272.3" r="0.42"/><circle cx="396.3" cy="270.3" r="0.42"/><circle cx="395.2" cy="272.5" r="0.42"/><circle cx="392.4" cy="272.6" r="0.42"/><circle cx="399.9" cy="267.2" r="0.42"/><circle cx="404.0" cy="266.7" r="0.42"/><circle cx="409.4" cy="272.5" r="0.42"/><circle cx="395.7" cy="269.1" r="0.42"/><circle cx="393.5" cy="269.7" r="0.42"/><circle cx="393.3" cy="271.9" r="0.42"/><circle cx="392.0" cy="271.8" r="0.42"/><circle cx="405.7" cy="270.5" r="0.42"/><circle cx="391.9" cy="272.6" r="0.42"/><circle cx="392.3" cy="270.8" r="0.42"/><circle cx="403.8" cy="269.6" r="0.42"/><circle cx="406.6" cy="268.8" r="0.42"/><circle cx="390.8" cy="272.5" r="0.42"/><circle cx="398.9" cy="267.7" r="0.42"/><circle cx="403.6" cy="267.7" r="0.42"/><circle cx="400.2" cy="269.0" r="0.42"/><circle cx="398.1" cy="266.8" r="0.42"/><circle cx="396.1" cy="269.2" r="0.42"/><circle cx="407.7" cy="269.0" r="0.42"/><circle cx="407.8" cy="269.6" r="0.42"/><circle cx="393.5" cy="272.6" r="0.42"/><circle cx="400.2" cy="267.9" r="0.42"/><circle cx="404.9" cy="266.9" r="0.42"/><circle cx="392.4" cy="270.5" r="0.42"/><circle cx="390.8" cy="272.8" r="0.42"/><circle cx="393.0" cy="270.0" r="0.42"/><circle cx="389.1" cy="273.5" r="0.42"/><circle cx="396.3" cy="270.7" r="0.42"/><circle cx="410.2" cy="269.0" r="0.42"/><circle cx="409.3" cy="272.4" r="0.42"/><circle cx="393.5" cy="271.1" r="0.42"/><circle cx="391.3" cy="273.4" r="0.42"/><circle cx="408.3" cy="269.0" r="0.42"/><circle cx="394.1" cy="270.3" r="0.42"/><circle cx="403.5" cy="268.6" r="0.42"/><circle cx="409.0" cy="270.7" r="0.42"/><circle cx="393.5" cy="270.3" r="0.42"/><circle cx="412.1" cy="273.3" r="0.42"/><circle cx="395.3" cy="268.7" r="0.42"/><circle cx="398.5" cy="267.1" r="0.42"/><circle cx="412.7" cy="274.2" r="0.42"/><circle cx="390.2" cy="271.6" r="0.42"/><circle cx="391.3" cy="274.8" r="0.42"/><circle cx="409.1" cy="269.0" r="0.42"/><circle cx="392.0" cy="270.4" r="0.42"/><circle cx="403.4" cy="268.0" r="0.42"/><circle cx="408.6" cy="274.1" r="0.42"/><circle cx="394.1" cy="269.6" r="0.42"/><circle cx="408.4" cy="268.9" r="0.42"/><circle cx="411.5" cy="272.6" r="0.42"/><circle cx="405.8" cy="268.7" r="0.42"/></g>
<g fill="#ee3040" fill-opacity="1"><circle cx="390.0" cy="273.7" r="0.42"/><circle cx="403.4" cy="271.9" r="0.42"/><circle cx="406.0" cy="278.3" r="0.42"/><circle cx="394.2" cy="278.3" r="0.42"/><circle cx="401.8" cy="272.9" r="0.42"/><circle cx="397.4" cy="275.5" r="0.42"/><circle cx="402.5" cy="277.2" r="0.42"/><circle cx="401.8" cy="275.8" r="0.42"/><circle cx="402.0" cy="274.5" r="0.42"/><circle cx="403.0" cy="268.7" r="0.42"/><circle cx="393.9" cy="278.8" r="0.42"/><circle cx="405.2" cy="272.7" r="0.42"/><circle cx="398.3" cy="272.4" r="0.42"/><circle cx="398.7" cy="277.1" r="0.42"/><circle cx="390.8" cy="275.1" r="0.42"/><circle cx="395.9" cy="276.4" r="0.42"/><circle cx="401.8" cy="270.6" r="0.42"/><circle cx="396.3" cy="268.5" r="0.42"/><circle cx="404.5" cy="272.4" r="0.42"/><circle cx="400.6" cy="279.8" r="0.42"/><circle cx="398.7" cy="278.0" r="0.42"/><circle cx="395.7" cy="273.9" r="0.42"/><circle cx="401.5" cy="273.5" r="0.42"/><circle cx="398.4" cy="278.9" r="0.42"/><circle cx="392.8" cy="278.9" r="0.42"/><circle cx="409.1" cy="273.4" r="0.42"/><circle cx="383.4" cy="274.3" r="0.42"/><circle cx="394.0" cy="269.6" r="0.42"/><circle cx="388.4" cy="271.9" r="0.42"/><circle cx="402.1" cy="272.9" r="0.42"/><circle cx="401.0" cy="274.6" r="0.42"/><circle cx="401.0" cy="276.8" r="0.42"/><circle cx="395.2" cy="276.2" r="0.42"/><circle cx="390.9" cy="272.3" r="0.42"/><circle cx="404.7" cy="273.9" r="0.42"/><circle cx="412.6" cy="263.4" r="0.42"/><circle cx="405.7" cy="275.2" r="0.42"/><circle cx="393.2" cy="272.2" r="0.42"/><circle cx="408.6" cy="279.6" r="0.42"/><circle cx="394.7" cy="271.9" r="0.42"/><circle cx="399.1" cy="275.5" r="0.42"/><circle cx="406.3" cy="272.9" r="0.42"/><circle cx="399.5" cy="273.7" r="0.42"/><circle cx="404.0" cy="272.7" r="0.42"/><circle cx="394.8" cy="267.5" r="0.42"/><circle cx="384.1" cy="273.4" r="0.42"/><circle cx="401.1" cy="275.2" r="0.42"/><circle cx="402.7" cy="273.9" r="0.42"/><circle cx="402.7" cy="277.2" r="0.42"/><circle cx="402.0" cy="274.6" r="0.42"/><circle cx="411.7" cy="278.3" r="0.42"/><circle cx="410.9" cy="269.5" r="0.42"/><circle cx="392.7" cy="278.5" r="0.42"/><circle cx="397.3" cy="271.8" r="0.42"/><circle cx="411.5" cy="273.5" r="0.42"/><circle cx="397.2" cy="273.9" r="0.42"/></g>
<ellipse cx="400.4" cy="276.9" rx="9" ry="2.5" fill="#f7a0aa" stroke="none" stroke-width="0.6" filter="url(#bl1)"/>
</svg>
<rect x="390.60" y="261.50" width="21.70" height="17.70" stroke="#000" stroke-width="0.9" fill="none"/>
<rect x="376.40" y="242.10" width="38.70" height="37.80" stroke="#000" stroke-width="0.9" fill="none"/>
<line x1="375.10" y1="243.10" x2="376.40" y2="243.10" stroke="#000" stroke-width="0.5"/>
<line x1="375.10" y1="246.08" x2="376.40" y2="246.08" stroke="#000" stroke-width="0.5"/>
<line x1="375.10" y1="249.07" x2="376.40" y2="249.07" stroke="#000" stroke-width="0.5"/>
<line x1="375.10" y1="252.05" x2="376.40" y2="252.05" stroke="#000" stroke-width="0.5"/>
<line x1="375.10" y1="255.03" x2="376.40" y2="255.03" stroke="#000" stroke-width="0.5"/>
<line x1="375.10" y1="258.02" x2="376.40" y2="258.02" stroke="#000" stroke-width="0.5"/>
<line x1="375.10" y1="261.00" x2="376.40" y2="261.00" stroke="#000" stroke-width="0.5"/>
<line x1="375.10" y1="263.98" x2="376.40" y2="263.98" stroke="#000" stroke-width="0.5"/>
<line x1="375.10" y1="266.97" x2="376.40" y2="266.97" stroke="#000" stroke-width="0.5"/>
<line x1="375.10" y1="269.95" x2="376.40" y2="269.95" stroke="#000" stroke-width="0.5"/>
<line x1="375.10" y1="272.93" x2="376.40" y2="272.93" stroke="#000" stroke-width="0.5"/>
<line x1="375.10" y1="275.92" x2="376.40" y2="275.92" stroke="#000" stroke-width="0.5"/>
<line x1="375.10" y1="278.90" x2="376.40" y2="278.90" stroke="#000" stroke-width="0.5"/>
<line x1="377.40" y1="279.90" x2="377.40" y2="281.20" stroke="#000" stroke-width="0.5"/>
<line x1="380.46" y1="279.90" x2="380.46" y2="281.20" stroke="#000" stroke-width="0.5"/>
<line x1="383.52" y1="279.90" x2="383.52" y2="281.20" stroke="#000" stroke-width="0.5"/>
<line x1="386.57" y1="279.90" x2="386.57" y2="281.20" stroke="#000" stroke-width="0.5"/>
<line x1="389.63" y1="279.90" x2="389.63" y2="281.20" stroke="#000" stroke-width="0.5"/>
<line x1="392.69" y1="279.90" x2="392.69" y2="281.20" stroke="#000" stroke-width="0.5"/>
<line x1="395.75" y1="279.90" x2="395.75" y2="281.20" stroke="#000" stroke-width="0.5"/>
<line x1="398.81" y1="279.90" x2="398.81" y2="281.20" stroke="#000" stroke-width="0.5"/>
<line x1="401.87" y1="279.90" x2="401.87" y2="281.20" stroke="#000" stroke-width="0.5"/>
<line x1="404.93" y1="279.90" x2="404.93" y2="281.20" stroke="#000" stroke-width="0.5"/>
<line x1="407.98" y1="279.90" x2="407.98" y2="281.20" stroke="#000" stroke-width="0.5"/>
<line x1="411.04" y1="279.90" x2="411.04" y2="281.20" stroke="#000" stroke-width="0.5"/>
<line x1="414.10" y1="279.90" x2="414.10" y2="281.20" stroke="#000" stroke-width="0.5"/>
<text x="391.70" y="258.28" font-size="7.8" fill="#cc1538" textLength="20.30" lengthAdjust="spacingAndGlyphs">11.8%</text>
<svg x="333.3" y="284.1" width="38.9" height="39.9" viewBox="333.3 284.1 38.9 39.9" overflow="hidden">
<path d="M333.3,324 L333.6,315 Q334.8,309 340.3,308 Q346.3,307.5 348.8,312 Q350.8,318 350.3,324 Z" fill="#8a8a8a" stroke="#111" stroke-width="1.7"/>
<ellipse cx="341.8" cy="317.0" rx="5.5" ry="5" fill="#bbb" stroke="none" stroke-width="0.6" filter="url(#bl1)"/>
<ellipse cx="341.8" cy="317.0" rx="3" ry="2.5" fill="#ddd" stroke="none" stroke-width="0.6" filter="url(#bl05)"/>
<g fill="#000" fill-opacity="1"><circle cx="332.4" cy="313.9" r="0.5"/><circle cx="345.1" cy="306.5" r="0.5"/><circle cx="346.7" cy="311.0" r="0.5"/><circle cx="331.1" cy="312.1" r="0.5"/><circle cx="338.7" cy="309.3" r="0.5"/><circle cx="337.0" cy="309.2" r="0.5"/><circle cx="336.0" cy="310.5" r="0.5"/><circle cx="342.9" cy="309.1" r="0.5"/><circle cx="333.3" cy="314.3" r="0.5"/><circle cx="336.5" cy="310.0" r="0.5"/><circle cx="335.2" cy="310.8" r="0.5"/><circle cx="348.7" cy="311.4" r="0.5"/><circle cx="337.4" cy="310.0" r="0.5"/><circle cx="333.7" cy="312.2" r="0.5"/><circle cx="345.1" cy="311.4" r="0.5"/><circle cx="351.5" cy="314.8" r="0.5"/><circle cx="346.1" cy="309.0" r="0.5"/><circle cx="339.0" cy="307.4" r="0.5"/><circle cx="332.2" cy="316.7" r="0.5"/><circle cx="349.2" cy="310.6" r="0.5"/><circle cx="335.2" cy="311.5" r="0.5"/><circle cx="337.3" cy="312.5" r="0.5"/><circle cx="350.8" cy="316.4" r="0.5"/><circle cx="344.0" cy="307.1" r="0.5"/><circle cx="332.5" cy="312.0" r="0.5"/><circle cx="339.1" cy="307.8" r="0.5"/><circle cx="332.6" cy="314.1" r="0.5"/><circle cx="340.3" cy="310.0" r="0.5"/><circle cx="335.4" cy="310.2" r="0.5"/><circle cx="347.7" cy="308.8" r="0.5"/><circle cx="347.3" cy="309.2" r="0.5"/><circle cx="343.3" cy="307.4" r="0.5"/><circle cx="344.4" cy="307.4" r="0.5"/><circle cx="348.5" cy="313.3" r="0.5"/><circle cx="348.7" cy="309.1" r="0.5"/><circle cx="346.8" cy="309.5" r="0.5"/><circle cx="337.4" cy="309.1" r="0.5"/><circle cx="349.6" cy="314.6" r="0.5"/><circle cx="336.1" cy="314.1" r="0.5"/><circle cx="336.3" cy="311.7" r="0.5"/><circle cx="340.2" cy="309.1" r="0.5"/><circle cx="345.0" cy="308.3" r="0.5"/><circle cx="338.8" cy="306.9" r="0.5"/><circle cx="335.7" cy="310.3" r="0.5"/><circle cx="334.0" cy="315.9" r="0.5"/><circle cx="340.4" cy="306.9" r="0.5"/><circle cx="339.2" cy="311.1" r="0.5"/><circle cx="333.9" cy="313.1" r="0.5"/><circle cx="350.6" cy="315.7" r="0.5"/><circle cx="335.5" cy="312.5" r="0.5"/><circle cx="347.3" cy="309.1" r="0.5"/><circle cx="345.3" cy="308.0" r="0.5"/><circle cx="333.0" cy="311.0" r="0.5"/><circle cx="335.4" cy="311.1" r="0.5"/><circle cx="342.2" cy="307.9" r="0.5"/><circle cx="349.4" cy="311.2" r="0.5"/><circle cx="339.9" cy="307.9" r="0.5"/><circle cx="350.5" cy="313.4" r="0.5"/><circle cx="335.4" cy="316.2" r="0.5"/><circle cx="350.2" cy="314.1" r="0.5"/><circle cx="334.8" cy="312.2" r="0.5"/><circle cx="345.1" cy="308.1" r="0.5"/><circle cx="333.7" cy="314.3" r="0.5"/><circle cx="347.2" cy="308.2" r="0.5"/><circle cx="333.1" cy="312.1" r="0.5"/><circle cx="344.5" cy="308.7" r="0.5"/><circle cx="349.7" cy="312.1" r="0.5"/><circle cx="349.7" cy="315.3" r="0.5"/><circle cx="341.3" cy="306.6" r="0.5"/><circle cx="346.2" cy="309.7" r="0.5"/></g>
<g fill="#111" fill-opacity="1"><circle cx="352.9" cy="323.9" r="0.42"/><circle cx="361.9" cy="319.5" r="0.42"/><circle cx="354.1" cy="322.2" r="0.42"/><circle cx="355.9" cy="314.3" r="0.42"/><circle cx="349.3" cy="307.5" r="0.42"/><circle cx="351.5" cy="314.3" r="0.42"/><circle cx="351.9" cy="316.2" r="0.42"/><circle cx="350.9" cy="319.4" r="0.42"/><circle cx="351.9" cy="315.1" r="0.42"/><circle cx="348.7" cy="315.8" r="0.42"/><circle cx="345.9" cy="317.7" r="0.42"/><circle cx="360.1" cy="313.2" r="0.42"/><circle cx="350.2" cy="312.1" r="0.42"/><circle cx="358.4" cy="322.3" r="0.42"/><circle cx="360.4" cy="314.6" r="0.42"/><circle cx="350.1" cy="310.7" r="0.42"/><circle cx="344.7" cy="312.2" r="0.42"/><circle cx="355.0" cy="316.2" r="0.42"/><circle cx="354.1" cy="312.1" r="0.42"/><circle cx="351.5" cy="314.1" r="0.42"/><circle cx="357.4" cy="315.8" r="0.42"/><circle cx="348.0" cy="315.5" r="0.42"/><circle cx="353.3" cy="317.4" r="0.42"/><circle cx="359.7" cy="318.1" r="0.42"/><circle cx="354.7" cy="315.0" r="0.42"/><circle cx="353.8" cy="314.8" r="0.42"/><circle cx="350.2" cy="316.5" r="0.42"/><circle cx="353.1" cy="316.8" r="0.42"/><circle cx="351.6" cy="317.7" r="0.42"/><circle cx="353.1" cy="310.0" r="0.42"/><circle cx="350.3" cy="318.3" r="0.42"/><circle cx="365.7" cy="323.9" r="0.42"/><circle cx="354.6" cy="321.5" r="0.42"/><circle cx="354.7" cy="314.9" r="0.42"/><circle cx="346.4" cy="320.7" r="0.42"/><circle cx="355.4" cy="310.9" r="0.42"/><circle cx="357.5" cy="319.1" r="0.42"/><circle cx="356.3" cy="321.2" r="0.42"/><circle cx="356.8" cy="312.9" r="0.42"/><circle cx="361.9" cy="310.8" r="0.42"/><circle cx="349.6" cy="318.7" r="0.42"/></g>
<g fill="#222" fill-opacity="1"><circle cx="358.1" cy="315.7" r="0.38"/><circle cx="364.1" cy="315.3" r="0.38"/><circle cx="356.9" cy="314.0" r="0.38"/><circle cx="353.0" cy="320.7" r="0.38"/><circle cx="364.0" cy="314.5" r="0.38"/><circle cx="360.0" cy="317.4" r="0.38"/><circle cx="354.0" cy="316.2" r="0.38"/><circle cx="362.5" cy="316.4" r="0.38"/><circle cx="351.3" cy="313.7" r="0.38"/><circle cx="353.7" cy="310.5" r="0.38"/><circle cx="358.7" cy="318.0" r="0.38"/><circle cx="356.9" cy="310.8" r="0.38"/><circle cx="357.9" cy="315.3" r="0.38"/><circle cx="367.5" cy="320.1" r="0.38"/></g>
</svg>
<rect x="347.40" y="303.40" width="21.20" height="19.60" stroke="#000" stroke-width="0.9" fill="none"/>
<rect x="333.30" y="284.10" width="38.90" height="39.90" stroke="#000" stroke-width="0.9" fill="none"/>
<line x1="332.00" y1="285.10" x2="333.30" y2="285.10" stroke="#000" stroke-width="0.5"/>
<line x1="332.00" y1="288.26" x2="333.30" y2="288.26" stroke="#000" stroke-width="0.5"/>
<line x1="332.00" y1="291.42" x2="333.30" y2="291.42" stroke="#000" stroke-width="0.5"/>
<line x1="332.00" y1="294.58" x2="333.30" y2="294.58" stroke="#000" stroke-width="0.5"/>
<line x1="332.00" y1="297.73" x2="333.30" y2="297.73" stroke="#000" stroke-width="0.5"/>
<line x1="332.00" y1="300.89" x2="333.30" y2="300.89" stroke="#000" stroke-width="0.5"/>
<line x1="332.00" y1="304.05" x2="333.30" y2="304.05" stroke="#000" stroke-width="0.5"/>
<line x1="332.00" y1="307.21" x2="333.30" y2="307.21" stroke="#000" stroke-width="0.5"/>
<line x1="332.00" y1="310.37" x2="333.30" y2="310.37" stroke="#000" stroke-width="0.5"/>
<line x1="332.00" y1="313.52" x2="333.30" y2="313.52" stroke="#000" stroke-width="0.5"/>
<line x1="332.00" y1="316.68" x2="333.30" y2="316.68" stroke="#000" stroke-width="0.5"/>
<line x1="332.00" y1="319.84" x2="333.30" y2="319.84" stroke="#000" stroke-width="0.5"/>
<line x1="332.00" y1="323.00" x2="333.30" y2="323.00" stroke="#000" stroke-width="0.5"/>
<line x1="334.30" y1="324.00" x2="334.30" y2="325.30" stroke="#000" stroke-width="0.5"/>
<line x1="337.38" y1="324.00" x2="337.38" y2="325.30" stroke="#000" stroke-width="0.5"/>
<line x1="340.45" y1="324.00" x2="340.45" y2="325.30" stroke="#000" stroke-width="0.5"/>
<line x1="343.52" y1="324.00" x2="343.52" y2="325.30" stroke="#000" stroke-width="0.5"/>
<line x1="346.60" y1="324.00" x2="346.60" y2="325.30" stroke="#000" stroke-width="0.5"/>
<line x1="349.68" y1="324.00" x2="349.68" y2="325.30" stroke="#000" stroke-width="0.5"/>
<line x1="352.75" y1="324.00" x2="352.75" y2="325.30" stroke="#000" stroke-width="0.5"/>
<line x1="355.82" y1="324.00" x2="355.82" y2="325.30" stroke="#000" stroke-width="0.5"/>
<line x1="358.90" y1="324.00" x2="358.90" y2="325.30" stroke="#000" stroke-width="0.5"/>
<line x1="361.98" y1="324.00" x2="361.98" y2="325.30" stroke="#000" stroke-width="0.5"/>
<line x1="365.05" y1="324.00" x2="365.05" y2="325.30" stroke="#000" stroke-width="0.5"/>
<line x1="368.12" y1="324.00" x2="368.12" y2="325.30" stroke="#000" stroke-width="0.5"/>
<line x1="371.20" y1="324.00" x2="371.20" y2="325.30" stroke="#000" stroke-width="0.5"/>
<text x="348.60" y="300.28" font-size="7.8" fill="#111" textLength="20.30" lengthAdjust="spacingAndGlyphs">5.62%</text>
<svg x="376.4" y="284.1" width="38.7" height="39.9" viewBox="376.4 284.1 38.7 39.9" overflow="hidden">
<path d="M376.4,324 L376.7,315 Q377.9,309 383.4,308 Q389.4,307.5 392.4,312 Q402.4,312 410.4,315 L412.4,324 Z" fill="#fcdde1" stroke="#f04858" stroke-width="1.0"/>
<ellipse cx="384.4" cy="317.0" rx="6" ry="5" fill="none" stroke="#f7a0aa" stroke-width="0.7"/>
<ellipse cx="384.4" cy="317.0" rx="3.5" ry="3" fill="none" stroke="#f8b0b8" stroke-width="0.6"/>
<ellipse cx="401.4" cy="318.0" rx="8" ry="4" fill="none" stroke="#f58590" stroke-width="0.7"/>
<ellipse cx="401.4" cy="318.0" rx="4" ry="2" fill="none" stroke="#f8b0b8" stroke-width="0.6"/>
<g fill="#f03848" fill-opacity="1"><circle cx="382.5" cy="308.3" r="0.45"/><circle cx="380.2" cy="308.2" r="0.45"/><circle cx="393.7" cy="314.1" r="0.45"/><circle cx="391.2" cy="312.9" r="0.45"/><circle cx="378.7" cy="311.7" r="0.45"/><circle cx="380.9" cy="309.4" r="0.45"/><circle cx="393.5" cy="311.7" r="0.45"/><circle cx="392.3" cy="314.3" r="0.45"/><circle cx="381.6" cy="305.9" r="0.45"/><circle cx="375.5" cy="311.7" r="0.45"/><circle cx="391.0" cy="312.7" r="0.45"/><circle cx="387.2" cy="307.2" r="0.45"/><circle cx="381.4" cy="307.2" r="0.45"/><circle cx="393.5" cy="312.4" r="0.45"/><circle cx="375.5" cy="313.1" r="0.45"/><circle cx="392.6" cy="313.6" r="0.45"/><circle cx="382.6" cy="306.6" r="0.45"/><circle cx="384.0" cy="307.6" r="0.45"/><circle cx="390.8" cy="309.6" r="0.45"/><circle cx="392.2" cy="310.8" r="0.45"/><circle cx="392.7" cy="309.7" r="0.45"/><circle cx="381.7" cy="308.6" r="0.45"/><circle cx="384.2" cy="307.7" r="0.45"/><circle cx="393.8" cy="313.9" r="0.45"/><circle cx="377.3" cy="311.3" r="0.45"/><circle cx="386.5" cy="310.2" r="0.45"/><circle cx="393.2" cy="315.4" r="0.45"/><circle cx="389.5" cy="310.3" r="0.45"/><circle cx="384.9" cy="308.5" r="0.45"/><circle cx="389.7" cy="309.8" r="0.45"/><circle cx="381.8" cy="307.2" r="0.45"/><circle cx="385.5" cy="306.4" r="0.45"/><circle cx="390.4" cy="309.3" r="0.45"/><circle cx="389.2" cy="310.3" r="0.45"/><circle cx="378.6" cy="310.0" r="0.45"/><circle cx="384.5" cy="308.2" r="0.45"/><circle cx="385.3" cy="306.4" r="0.45"/><circle cx="384.8" cy="306.7" r="0.45"/><circle cx="393.4" cy="309.0" r="0.45"/><circle cx="392.6" cy="313.7" r="0.45"/><circle cx="391.6" cy="311.6" r="0.45"/><circle cx="385.6" cy="305.8" r="0.45"/><circle cx="390.5" cy="315.9" r="0.45"/><circle cx="393.8" cy="315.3" r="0.45"/><circle cx="378.1" cy="309.5" r="0.45"/><circle cx="380.4" cy="309.1" r="0.45"/><circle cx="382.4" cy="307.4" r="0.45"/><circle cx="385.8" cy="308.5" r="0.45"/><circle cx="391.1" cy="314.9" r="0.45"/><circle cx="377.0" cy="313.7" r="0.45"/><circle cx="389.8" cy="311.2" r="0.45"/><circle cx="390.1" cy="307.8" r="0.45"/><circle cx="376.2" cy="314.7" r="0.45"/><circle cx="378.6" cy="309.5" r="0.45"/><circle cx="392.7" cy="315.1" r="0.45"/><circle cx="379.3" cy="309.6" r="0.45"/><circle cx="392.8" cy="312.7" r="0.45"/><circle cx="382.5" cy="305.5" r="0.45"/><circle cx="383.4" cy="309.0" r="0.45"/><circle cx="392.1" cy="310.3" r="0.45"/><circle cx="378.4" cy="312.6" r="0.45"/><circle cx="392.6" cy="314.9" r="0.45"/><circle cx="392.0" cy="315.6" r="0.45"/><circle cx="391.0" cy="315.1" r="0.45"/><circle cx="378.1" cy="310.7" r="0.45"/><circle cx="394.1" cy="313.7" r="0.45"/><circle cx="387.5" cy="308.6" r="0.45"/><circle cx="391.0" cy="312.0" r="0.45"/><circle cx="388.3" cy="308.1" r="0.45"/><circle cx="384.9" cy="309.6" r="0.45"/><circle cx="390.9" cy="308.6" r="0.45"/><circle cx="382.9" cy="307.7" r="0.45"/><circle cx="375.6" cy="313.4" r="0.45"/><circle cx="392.2" cy="310.9" r="0.45"/><circle cx="375.7" cy="314.2" r="0.45"/><circle cx="393.2" cy="315.0" r="0.45"/><circle cx="391.7" cy="310.3" r="0.45"/><circle cx="378.7" cy="310.2" r="0.45"/><circle cx="379.3" cy="312.3" r="0.45"/><circle cx="377.7" cy="313.7" r="0.45"/></g>
<g fill="#f03848" fill-opacity="1"><circle cx="403.2" cy="313.1" r="0.42"/><circle cx="406.1" cy="312.4" r="0.42"/><circle cx="408.9" cy="314.2" r="0.42"/><circle cx="409.6" cy="314.0" r="0.42"/><circle cx="404.7" cy="312.8" r="0.42"/><circle cx="408.5" cy="312.0" r="0.42"/><circle cx="402.4" cy="312.0" r="0.42"/><circle cx="408.3" cy="311.4" r="0.42"/><circle cx="392.4" cy="316.9" r="0.42"/><circle cx="391.3" cy="315.4" r="0.42"/><circle cx="392.0" cy="318.2" r="0.42"/><circle cx="407.5" cy="309.9" r="0.42"/><circle cx="395.2" cy="313.8" r="0.42"/><circle cx="395.3" cy="312.5" r="0.42"/><circle cx="411.4" cy="317.6" r="0.42"/><circle cx="412.3" cy="316.2" r="0.42"/><circle cx="390.2" cy="316.7" r="0.42"/><circle cx="404.4" cy="313.9" r="0.42"/><circle cx="392.6" cy="313.9" r="0.42"/><circle cx="393.2" cy="317.3" r="0.42"/><circle cx="409.2" cy="315.9" r="0.42"/><circle cx="393.3" cy="313.9" r="0.42"/><circle cx="409.2" cy="313.5" r="0.42"/><circle cx="410.1" cy="316.4" r="0.42"/><circle cx="402.7" cy="312.1" r="0.42"/><circle cx="405.5" cy="311.7" r="0.42"/><circle cx="410.0" cy="318.6" r="0.42"/><circle cx="392.5" cy="316.3" r="0.42"/><circle cx="408.0" cy="312.6" r="0.42"/><circle cx="403.5" cy="313.2" r="0.42"/><circle cx="393.8" cy="317.1" r="0.42"/><circle cx="394.1" cy="315.9" r="0.42"/><circle cx="391.4" cy="317.5" r="0.42"/><circle cx="401.0" cy="311.3" r="0.42"/><circle cx="403.8" cy="313.3" r="0.42"/><circle cx="390.5" cy="317.3" r="0.42"/><circle cx="398.4" cy="311.6" r="0.42"/><circle cx="405.1" cy="313.2" r="0.42"/><circle cx="399.8" cy="312.6" r="0.42"/><circle cx="409.6" cy="317.0" r="0.42"/><circle cx="390.2" cy="316.2" r="0.42"/><circle cx="394.8" cy="313.0" r="0.42"/><circle cx="407.4" cy="314.5" r="0.42"/><circle cx="394.7" cy="315.4" r="0.42"/><circle cx="398.5" cy="311.5" r="0.42"/><circle cx="407.4" cy="311.8" r="0.42"/><circle cx="408.7" cy="313.8" r="0.42"/><circle cx="395.0" cy="312.8" r="0.42"/><circle cx="405.1" cy="312.0" r="0.42"/><circle cx="410.3" cy="315.2" r="0.42"/><circle cx="393.6" cy="314.7" r="0.42"/><circle cx="405.8" cy="312.5" r="0.42"/><circle cx="392.9" cy="313.2" r="0.42"/><circle cx="397.7" cy="312.6" r="0.42"/><circle cx="398.7" cy="312.3" r="0.42"/><circle cx="406.3" cy="311.8" r="0.42"/><circle cx="405.7" cy="311.6" r="0.42"/><circle cx="394.5" cy="315.2" r="0.42"/><circle cx="403.8" cy="312.0" r="0.42"/><circle cx="392.0" cy="315.2" r="0.42"/><circle cx="400.8" cy="310.6" r="0.42"/><circle cx="406.0" cy="311.0" r="0.42"/><circle cx="405.1" cy="312.7" r="0.42"/><circle cx="404.1" cy="314.6" r="0.42"/><circle cx="397.6" cy="313.0" r="0.42"/><circle cx="403.3" cy="311.0" r="0.42"/><circle cx="400.5" cy="311.8" r="0.42"/><circle cx="401.7" cy="311.3" r="0.42"/><circle cx="410.3" cy="316.4" r="0.42"/><circle cx="409.8" cy="314.9" r="0.42"/></g>
<g fill="#ee3040" fill-opacity="1"><circle cx="399.0" cy="317.7" r="0.42"/><circle cx="406.0" cy="317.4" r="0.42"/><circle cx="397.6" cy="316.3" r="0.42"/><circle cx="393.1" cy="322.1" r="0.42"/><circle cx="405.9" cy="316.7" r="0.42"/><circle cx="401.2" cy="319.3" r="0.42"/><circle cx="394.3" cy="318.2" r="0.42"/><circle cx="404.1" cy="318.3" r="0.42"/><circle cx="391.1" cy="316.0" r="0.42"/><circle cx="393.9" cy="313.2" r="0.42"/><circle cx="399.7" cy="319.8" r="0.42"/><circle cx="397.6" cy="313.4" r="0.42"/><circle cx="398.7" cy="317.4" r="0.42"/><circle cx="410.0" cy="321.6" r="0.42"/><circle cx="405.3" cy="320.5" r="0.42"/><circle cx="397.2" cy="313.7" r="0.42"/><circle cx="400.3" cy="317.6" r="0.42"/><circle cx="394.9" cy="317.3" r="0.42"/><circle cx="398.2" cy="315.5" r="0.42"/><circle cx="405.4" cy="316.0" r="0.42"/><circle cx="402.5" cy="322.3" r="0.42"/><circle cx="409.3" cy="322.5" r="0.42"/><circle cx="409.3" cy="319.3" r="0.42"/><circle cx="399.7" cy="315.0" r="0.42"/><circle cx="398.8" cy="323.7" r="0.42"/><circle cx="396.1" cy="317.2" r="0.42"/><circle cx="406.6" cy="316.2" r="0.42"/><circle cx="395.1" cy="319.8" r="0.42"/><circle cx="404.2" cy="314.4" r="0.42"/><circle cx="400.6" cy="315.6" r="0.42"/><circle cx="414.6" cy="319.8" r="0.42"/><circle cx="399.9" cy="320.1" r="0.42"/><circle cx="399.1" cy="320.8" r="0.42"/><circle cx="386.0" cy="320.6" r="0.42"/><circle cx="396.5" cy="316.9" r="0.42"/><circle cx="407.1" cy="320.5" r="0.42"/><circle cx="401.4" cy="320.0" r="0.42"/><circle cx="395.2" cy="320.7" r="0.42"/><circle cx="404.5" cy="316.5" r="0.42"/><circle cx="395.3" cy="317.6" r="0.42"/><circle cx="407.3" cy="314.7" r="0.42"/><circle cx="394.8" cy="311.6" r="0.42"/><circle cx="397.0" cy="321.8" r="0.42"/><circle cx="391.8" cy="321.7" r="0.42"/><circle cx="403.5" cy="317.7" r="0.42"/><circle cx="398.8" cy="320.5" r="0.42"/><circle cx="397.6" cy="318.5" r="0.42"/><circle cx="405.8" cy="319.4" r="0.42"/><circle cx="393.7" cy="314.8" r="0.42"/><circle cx="400.6" cy="319.5" r="0.42"/><circle cx="400.1" cy="316.1" r="0.42"/><circle cx="398.4" cy="313.7" r="0.42"/><circle cx="401.9" cy="317.8" r="0.42"/><circle cx="401.7" cy="318.5" r="0.42"/><circle cx="404.7" cy="314.8" r="0.42"/><circle cx="402.6" cy="319.2" r="0.42"/><circle cx="391.4" cy="319.2" r="0.42"/><circle cx="405.4" cy="321.7" r="0.42"/><circle cx="404.3" cy="323.6" r="0.42"/></g>
<ellipse cx="400.4" cy="321.0" rx="9" ry="2.5" fill="#f7a0aa" stroke="none" stroke-width="0.6" filter="url(#bl1)"/>
</svg>
<rect x="390.60" y="303.40" width="21.70" height="19.60" stroke="#000" stroke-width="0.9" fill="none"/>
<rect x="376.40" y="284.10" width="38.70" height="39.90" stroke="#000" stroke-width="0.9" fill="none"/>
<line x1="375.10" y1="285.10" x2="376.40" y2="285.10" stroke="#000" stroke-width="0.5"/>
<line x1="375.10" y1="288.26" x2="376.40" y2="288.26" stroke="#000" stroke-width="0.5"/>
<line x1="375.10" y1="291.42" x2="376.40" y2="291.42" stroke="#000" stroke-width="0.5"/>
<line x1="375.10" y1="294.58" x2="376.40" y2="294.58" stroke="#000" stroke-width="0.5"/>
<line x1="375.10" y1="297.73" x2="376.40" y2="297.73" stroke="#000" stroke-width="0.5"/>
<line x1="375.10" y1="300.89" x2="376.40" y2="300.89" stroke="#000" stroke-width="0.5"/>
<line x1="375.10" y1="304.05" x2="376.40" y2="304.05" stroke="#000" stroke-width="0.5"/>
<line x1="375.10" y1="307.21" x2="376.40" y2="307.21" stroke="#000" stroke-width="0.5"/>
<line x1="375.10" y1="310.37" x2="376.40" y2="310.37" stroke="#000" stroke-width="0.5"/>
<line x1="375.10" y1="313.52" x2="376.40" y2="313.52" stroke="#000" stroke-width="0.5"/>
<line x1="375.10" y1="316.68" x2="376.40" y2="316.68" stroke="#000" stroke-width="0.5"/>
<line x1="375.10" y1="319.84" x2="376.40" y2="319.84" stroke="#000" stroke-width="0.5"/>
<line x1="375.10" y1="323.00" x2="376.40" y2="323.00" stroke="#000" stroke-width="0.5"/>
<line x1="377.40" y1="324.00" x2="377.40" y2="325.30" stroke="#000" stroke-width="0.5"/>
<line x1="380.46" y1="324.00" x2="380.46" y2="325.30" stroke="#000" stroke-width="0.5"/>
<line x1="383.52" y1="324.00" x2="383.52" y2="325.30" stroke="#000" stroke-width="0.5"/>
<line x1="386.57" y1="324.00" x2="386.57" y2="325.30" stroke="#000" stroke-width="0.5"/>
<line x1="389.63" y1="324.00" x2="389.63" y2="325.30" stroke="#000" stroke-width="0.5"/>
<line x1="392.69" y1="324.00" x2="392.69" y2="325.30" stroke="#000" stroke-width="0.5"/>
<line x1="395.75" y1="324.00" x2="395.75" y2="325.30" stroke="#000" stroke-width="0.5"/>
<line x1="398.81" y1="324.00" x2="398.81" y2="325.30" stroke="#000" stroke-width="0.5"/>
<line x1="401.87" y1="324.00" x2="401.87" y2="325.30" stroke="#000" stroke-width="0.5"/>
<line x1="404.93" y1="324.00" x2="404.93" y2="325.30" stroke="#000" stroke-width="0.5"/>
<line x1="407.98" y1="324.00" x2="407.98" y2="325.30" stroke="#000" stroke-width="0.5"/>
<line x1="411.04" y1="324.00" x2="411.04" y2="325.30" stroke="#000" stroke-width="0.5"/>
<line x1="414.10" y1="324.00" x2="414.10" y2="325.30" stroke="#000" stroke-width="0.5"/>
<text x="391.70" y="300.28" font-size="7.8" fill="#cc1538" textLength="20.30" lengthAdjust="spacingAndGlyphs">25.6%</text>
<text x="329.50" y="247.20" font-size="6.0" text-anchor="end">200K</text>
<line x1="330.50" y1="245.10" x2="333.30" y2="245.10" stroke="#000" stroke-width="0.6"/>
<text x="329.50" y="265.00" font-size="6.0" text-anchor="end">100K</text>
<line x1="330.50" y1="262.90" x2="333.30" y2="262.90" stroke="#000" stroke-width="0.6"/>
<text x="329.50" y="282.50" font-size="6.0" text-anchor="end">0</text>
<line x1="330.50" y1="280.40" x2="333.30" y2="280.40" stroke="#000" stroke-width="0.6"/>
<text x="329.50" y="288.80" font-size="6.0" text-anchor="end">200K</text>
<line x1="330.50" y1="286.70" x2="333.30" y2="286.70" stroke="#000" stroke-width="0.6"/>
<text x="329.50" y="307.40" font-size="6.0" text-anchor="end">100K</text>
<line x1="330.50" y1="305.30" x2="333.30" y2="305.30" stroke="#000" stroke-width="0.6"/>
<text x="329.50" y="325.10" font-size="6.0" text-anchor="end">0</text>
<line x1="330.50" y1="323.00" x2="333.30" y2="323.00" stroke="#000" stroke-width="0.6"/>
<text x="339.50" y="333.08" font-size="7.2" textLength="3.10" lengthAdjust="spacingAndGlyphs">0</text>
<text x="355.62" y="333.08" font-size="7.2" textLength="5.92" lengthAdjust="spacingAndGlyphs">10</text>
<text x="361.69" y="330.20" font-size="4.46">4</text>
<text x="363.42" y="333.08" font-size="7.2" textLength="5.92" lengthAdjust="spacingAndGlyphs">10</text>
<text x="369.49" y="330.20" font-size="4.46">5</text>
<text x="382.60" y="333.08" font-size="7.2" textLength="3.10" lengthAdjust="spacingAndGlyphs">0</text>
<text x="398.72" y="333.08" font-size="7.2" textLength="5.92" lengthAdjust="spacingAndGlyphs">10</text>
<text x="404.79" y="330.20" font-size="4.46">4</text>
<text x="406.52" y="333.08" font-size="7.2" textLength="5.92" lengthAdjust="spacingAndGlyphs">10</text>
<text x="412.59" y="330.20" font-size="4.46">5</text>
<line x1="462.60" y1="244.60" x2="462.60" y2="316.60" stroke="#000" stroke-width="1.0"/>
<line x1="462.60" y1="316.60" x2="512.10" y2="316.60" stroke="#000" stroke-width="1.0"/>
<line x1="459.50" y1="248.40" x2="462.60" y2="248.40" stroke="#000" stroke-width="0.9"/>
<text x="448.40" y="251.26" font-size="8.3" textLength="9.80" lengthAdjust="spacingAndGlyphs">50</text>
<line x1="459.50" y1="262.00" x2="462.60" y2="262.00" stroke="#000" stroke-width="0.9"/>
<text x="448.40" y="264.86" font-size="8.3" textLength="9.80" lengthAdjust="spacingAndGlyphs">40</text>
<line x1="459.50" y1="275.70" x2="462.60" y2="275.70" stroke="#000" stroke-width="0.9"/>
<text x="448.40" y="278.56" font-size="8.3" textLength="9.80" lengthAdjust="spacingAndGlyphs">30</text>
<line x1="459.50" y1="289.50" x2="462.60" y2="289.50" stroke="#000" stroke-width="0.9"/>
<text x="448.40" y="292.36" font-size="8.3" textLength="9.80" lengthAdjust="spacingAndGlyphs">20</text>
<line x1="459.50" y1="303.10" x2="462.60" y2="303.10" stroke="#000" stroke-width="0.9"/>
<text x="448.40" y="305.96" font-size="8.3" textLength="9.80" lengthAdjust="spacingAndGlyphs">10</text>
<line x1="459.50" y1="316.60" x2="462.60" y2="316.60" stroke="#000" stroke-width="0.9"/>
<text x="453.30" y="319.46" font-size="8.3" textLength="4.90" lengthAdjust="spacingAndGlyphs">0</text>
<text x="441.51" y="306.20" font-size="7.3" textLength="50.20" lengthAdjust="spacingAndGlyphs" transform="rotate(-90 441.51 306.20)" fill="#000" stroke="#000" stroke-width="0.15">IFN-γ+ cells (%)</text>
<circle cx="467.5" cy="314.2" r="1.6" fill="#0f4c8e"/>
<circle cx="469.5" cy="313.2" r="1.6" fill="#0f4c8e"/>
<circle cx="471.0" cy="314.8" r="1.6" fill="#0f4c8e"/>
<circle cx="468.5" cy="315.6" r="1.6" fill="#0f4c8e"/>
<line x1="466.00" y1="314.50" x2="472.00" y2="314.50" stroke="#000" stroke-width="0.8"/>
<circle cx="475.8" cy="301.0" r="1.6" fill="#cc1538"/>
<circle cx="478.7" cy="296.5" r="1.6" fill="#cc1538"/>
<circle cx="481.7" cy="301.0" r="1.6" fill="#cc1538"/>
<circle cx="478.7" cy="301.5" r="1.6" fill="#cc1538"/>
<line x1="475.50" y1="300.00" x2="482.00" y2="300.00" stroke="#000" stroke-width="0.8"/>
<circle cx="493.3" cy="309.3" r="1.6" fill="#0f4c8e"/>
<circle cx="497.5" cy="309.3" r="1.6" fill="#0f4c8e"/>
<circle cx="495.4" cy="312.8" r="1.6" fill="#0f4c8e"/>
<line x1="492.50" y1="310.50" x2="498.50" y2="310.50" stroke="#000" stroke-width="0.8"/>
<circle cx="502.3" cy="265.0" r="1.6" fill="#cc1538"/>
<circle cx="506.9" cy="264.4" r="1.6" fill="#cc1538"/>
<circle cx="503.7" cy="281.1" r="1.6" fill="#cc1538"/>
<circle cx="506.9" cy="280.1" r="1.6" fill="#cc1538"/>
<line x1="501.00" y1="272.80" x2="509.00" y2="272.80" stroke="#000" stroke-width="0.9"/>
<line x1="505.00" y1="268.60" x2="505.00" y2="277.00" stroke="#000" stroke-width="0.8"/>
<line x1="503.00" y1="268.60" x2="507.00" y2="268.60" stroke="#000" stroke-width="0.8"/>
<line x1="503.00" y1="277.00" x2="507.00" y2="277.00" stroke="#000" stroke-width="0.8"/>
<path d="M468.3,288.9 L468.3,285.3 L480,285.3 L480,288.9" fill="none" stroke="#000" stroke-width="0.9"/>
<text x="468.90" y="284.40" font-size="6.3" textLength="10.80" lengthAdjust="spacingAndGlyphs">****</text>
<path d="M493.9,259.2 L493.9,255.5 L505.8,255.5 L505.8,259.2" fill="none" stroke="#000" stroke-width="0.9"/>
<text x="495.40" y="254.60" font-size="6.3" textLength="7.30" lengthAdjust="spacingAndGlyphs">***</text>
<text x="442.10" y="328.58" font-size="7.5" textLength="20.90" lengthAdjust="spacingAndGlyphs">BsAb:</text>
<text x="468.90" y="328.60" font-size="7.5" text-anchor="middle">–</text>
<text x="478.70" y="328.60" font-size="7.5" text-anchor="middle">+</text>
<text x="495.40" y="328.60" font-size="7.5" text-anchor="middle">–</text>
<text x="505.20" y="328.60" font-size="7.5" text-anchor="middle">+</text>
<line x1="464.70" y1="331.30" x2="482.80" y2="331.30" stroke="#000" stroke-width="0.8"/>
<line x1="492.70" y1="331.30" x2="507.90" y2="331.30" stroke="#000" stroke-width="0.8"/>
<text x="464.00" y="340.08" font-size="7.5" textLength="19.90" lengthAdjust="spacingAndGlyphs">CD8T</text>
<text x="495.40" y="340.08" font-size="7.5" textLength="9.40" lengthAdjust="spacingAndGlyphs">NK</text>
<text x="6.80" y="368.50" font-size="11" font-weight="bold">I</text>
<line x1="44.40" y1="376.00" x2="44.40" y2="503.80" stroke="#000" stroke-width="1.1"/>
<line x1="44.40" y1="503.50" x2="145.50" y2="503.50" stroke="#000" stroke-width="1.1"/>
<line x1="41.60" y1="503.50" x2="44.40" y2="503.50" stroke="#000" stroke-width="0.9"/>
<text x="27.2" y="506.00" font-size="7.0" textLength="7.7" lengthAdjust="spacingAndGlyphs">10</text>
<text x="35.1" y="502.90" font-size="5.2">2</text>
<line x1="41.60" y1="478.80" x2="44.40" y2="478.80" stroke="#000" stroke-width="0.9"/>
<text x="27.2" y="481.30" font-size="7.0" textLength="7.7" lengthAdjust="spacingAndGlyphs">10</text>
<text x="35.1" y="478.20" font-size="5.2">3</text>
<line x1="41.60" y1="454.10" x2="44.40" y2="454.10" stroke="#000" stroke-width="0.9"/>
<text x="27.2" y="456.60" font-size="7.0" textLength="7.7" lengthAdjust="spacingAndGlyphs">10</text>
<text x="35.1" y="453.50" font-size="5.2">4</text>
<line x1="41.60" y1="429.40" x2="44.40" y2="429.40" stroke="#000" stroke-width="0.9"/>
<text x="27.2" y="431.90" font-size="7.0" textLength="7.7" lengthAdjust="spacingAndGlyphs">10</text>
<text x="35.1" y="428.80" font-size="5.2">5</text>
<line x1="41.60" y1="404.70" x2="44.40" y2="404.70" stroke="#000" stroke-width="0.9"/>
<text x="27.2" y="407.20" font-size="7.0" textLength="7.7" lengthAdjust="spacingAndGlyphs">10</text>
<text x="35.1" y="404.10" font-size="5.2">6</text>
<line x1="41.60" y1="380.00" x2="44.40" y2="380.00" stroke="#000" stroke-width="0.9"/>
<text x="27.2" y="382.50" font-size="7.0" textLength="7.7" lengthAdjust="spacingAndGlyphs">10</text>
<text x="35.1" y="379.40" font-size="5.2">7</text>
<text x="20.86" y="470.00" font-size="8.3" textLength="56.50" lengthAdjust="spacingAndGlyphs" transform="rotate(-90 20.86 470.00)" fill="#000" stroke="#000" stroke-width="0.15">No. of BM MM cells</text>
<line x1="70.30" y1="379.00" x2="70.30" y2="503.50" stroke="#111" stroke-width="1.25" stroke-dasharray="2.6,1.6"/>
<line x1="94.90" y1="379.00" x2="94.90" y2="503.50" stroke="#111" stroke-width="1.25" stroke-dasharray="2.6,1.6"/>
<line x1="119.20" y1="379.00" x2="119.20" y2="503.50" stroke="#111" stroke-width="1.25" stroke-dasharray="2.6,1.6"/>
<path d="M52.00,393.20 L50.00,394.00 L49.00,396.00 L48.30,399.00 L48.50,401.00 L50.10,404.00 L50.90,407.00 L51.90,411.00 L53.10,411.00 L54.10,407.00 L54.90,404.00 L56.50,401.00 L56.70,399.00 L56.00,396.00 L55.00,394.00 L53.00,393.20 Z" fill="#b89ccb" stroke="#521274" stroke-width="0.5" stroke-linejoin="round"/>
<g fill="#521274"><circle cx="51.2" cy="395.2" r="1.45"/><circle cx="53.8" cy="395.2" r="1.45"/><circle cx="49.6" cy="399.6" r="1.45"/><circle cx="55.4" cy="399.6" r="1.45"/><circle cx="52.5" cy="397.6" r="1.45"/><circle cx="52.5" cy="401.6" r="1.45"/><circle cx="52.5" cy="406.2" r="1.45"/><circle cx="52.5" cy="410.6" r="1.45"/><circle cx="52.5" cy="403.8" r="1.45"/></g>
<line x1="49.50" y1="400.50" x2="55.50" y2="400.50" stroke="#333" stroke-width="0.8"/>
<path d="M63.60,406.50 L61.60,408.00 L61.20,412.00 L61.20,418.00 L62.00,425.00 L61.80,432.00 L61.10,440.00 L60.40,448.00 L60.20,458.00 L60.80,466.00 L61.80,474.00 L62.80,482.00 L63.40,492.00 L63.80,502.50 L65.00,502.50 L65.40,492.00 L66.00,482.00 L67.00,474.00 L68.00,466.00 L68.60,458.00 L68.40,448.00 L67.70,440.00 L67.00,432.00 L66.80,425.00 L67.60,418.00 L67.60,412.00 L67.20,408.00 L65.20,406.50 Z" fill="#b89ccb" stroke="#b89ccb" stroke-width="0.5" stroke-linejoin="round"/>
<g fill="#521274"><circle cx="64.4" cy="408.0" r="1.45"/><circle cx="64.4" cy="421.3" r="1.45"/><circle cx="64.4" cy="426.5" r="1.45"/><circle cx="64.4" cy="441.2" r="1.45"/><circle cx="64.4" cy="460.2" r="1.45"/><circle cx="62.3" cy="466.0" r="1.45"/><circle cx="66.5" cy="466.0" r="1.45"/><circle cx="64.4" cy="502.0" r="1.45"/></g>
<line x1="61.20" y1="417.50" x2="67.60" y2="417.50" stroke="#555" stroke-width="0.8"/>
<path d="M76.30,398.50 L74.30,400.00 L72.90,403.00 L72.80,405.50 L74.40,408.00 L75.50,412.00 L75.90,417.00 L76.40,421.80 L77.40,421.80 L77.90,417.00 L78.30,412.00 L79.40,408.00 L81.00,405.50 L80.90,403.00 L79.50,400.00 L77.50,398.50 Z" fill="#eea4b2" stroke="#d41c3c" stroke-width="0.5" stroke-linejoin="round"/>
<g fill="#d41c3c"><circle cx="76.9" cy="399.6" r="1.45"/><circle cx="74.4" cy="402.2" r="1.45"/><circle cx="79.4" cy="402.2" r="1.45"/><circle cx="73.9" cy="405.4" r="1.45"/><circle cx="76.9" cy="405.4" r="1.45"/><circle cx="79.9" cy="405.4" r="1.45"/><circle cx="76.9" cy="410.0" r="1.45"/><circle cx="76.9" cy="416.0" r="1.45"/><circle cx="76.9" cy="421.3" r="1.45"/></g>
<line x1="73.50" y1="404.60" x2="80.30" y2="404.60" stroke="#555" stroke-width="0.8"/>
<path d="M88.00,402.50 L86.30,404.00 L85.80,410.00 L85.60,418.00 L86.20,426.00 L86.60,434.00 L86.20,444.00 L85.60,455.00 L85.00,465.00 L84.50,474.00 L84.80,480.00 L86.40,485.00 L88.20,487.80 L89.40,487.80 L91.20,485.00 L92.80,480.00 L93.10,474.00 L92.60,465.00 L92.00,455.00 L91.40,444.00 L91.00,434.00 L91.40,426.00 L92.00,418.00 L91.80,410.00 L91.30,404.00 L89.60,402.50 Z" fill="#eea4b2" stroke="#eea4b2" stroke-width="0.5" stroke-linejoin="round"/>
<g fill="#d41c3c"><circle cx="88.8" cy="404.0" r="1.45"/><circle cx="88.8" cy="422.3" r="1.45"/><circle cx="88.8" cy="432.9" r="1.45"/><circle cx="88.8" cy="444.0" r="1.45"/><circle cx="88.8" cy="467.3" r="1.45"/><circle cx="88.8" cy="473.0" r="1.45"/><circle cx="88.8" cy="480.0" r="1.45"/><circle cx="88.8" cy="487.0" r="1.45"/></g>
<line x1="85.60" y1="417.50" x2="92.00" y2="417.50" stroke="#777" stroke-width="0.8"/>
<line x1="84.60" y1="475.60" x2="93.00" y2="475.60" stroke="#777" stroke-width="0.8"/>
<path d="M100.30,393.50 L98.70,395.00 L97.60,399.00 L97.40,402.20 L98.50,405.00 L99.30,408.00 L99.80,411.30 L99.90,416.00 L100.30,421.20 L101.50,421.20 L101.90,416.00 L102.00,411.30 L102.50,408.00 L103.30,405.00 L104.40,402.20 L104.20,399.00 L103.10,395.00 L101.50,393.50 Z" fill="#a6e0a6" stroke="#2db843" stroke-width="0.5" stroke-linejoin="round"/>
<g fill="#2db843"><circle cx="100.9" cy="395.0" r="1.45"/><circle cx="99.0" cy="399.0" r="1.45"/><circle cx="102.8" cy="399.0" r="1.45"/><circle cx="100.9" cy="402.0" r="1.45"/><circle cx="100.9" cy="405.0" r="1.45"/><circle cx="100.9" cy="408.0" r="1.45"/><circle cx="100.9" cy="416.6" r="1.45"/><circle cx="100.9" cy="420.5" r="1.45"/><circle cx="98.8" cy="402.5" r="1.45"/><circle cx="103.0" cy="402.5" r="1.45"/></g>
<line x1="97.40" y1="402.20" x2="104.40" y2="402.20" stroke="#111" stroke-width="1.0"/>
<path d="M112.40,401.80 L110.70,403.50 L109.60,407.60 L109.90,412.00 L110.60,417.00 L111.30,422.00 L111.70,426.00 L111.70,440.00 L111.70,452.00 L112.50,457.50 L113.90,457.50 L114.70,452.00 L114.70,440.00 L114.70,426.00 L115.10,422.00 L115.80,417.00 L116.50,412.00 L116.80,407.60 L115.70,403.50 L114.00,401.80 Z" fill="#a6e0a6" stroke="#2db843" stroke-width="0.5" stroke-linejoin="round"/>
<g fill="#2db843"><circle cx="113.2" cy="404.0" r="1.45"/><circle cx="113.2" cy="408.0" r="1.45"/><circle cx="113.2" cy="414.0" r="1.45"/><circle cx="113.2" cy="421.0" r="1.45"/><circle cx="113.2" cy="440.0" r="1.45"/><circle cx="113.2" cy="449.5" r="1.45"/><circle cx="113.2" cy="455.5" r="1.45"/></g>
<line x1="109.80" y1="416.30" x2="116.60" y2="416.30" stroke="#111" stroke-width="1.0"/>
<path d="M124.50,386.50 L122.90,388.50 L122.00,393.00 L121.70,398.60 L122.30,404.00 L123.30,410.00 L124.10,416.00 L124.40,420.30 L124.60,440.00 L124.70,463.80 L124.80,466.20 L125.80,466.20 L125.90,463.80 L126.00,440.00 L126.20,420.30 L126.50,416.00 L127.30,410.00 L128.30,404.00 L128.90,398.60 L128.60,393.00 L127.70,388.50 L126.10,386.50 Z" fill="#a9c3df" stroke="#1c589c" stroke-width="0.5" stroke-linejoin="round"/>
<g fill="#1c589c"><circle cx="125.3" cy="388.0" r="1.45"/><circle cx="125.3" cy="394.0" r="1.45"/><circle cx="125.3" cy="404.5" r="1.45"/><circle cx="125.3" cy="466.2" r="1.45"/></g>
<line x1="121.80" y1="399.10" x2="128.80" y2="399.10" stroke="#111" stroke-width="1.0"/>
<path d="M136.90,388.60 L136.50,390.00 L136.50,398.60 L135.50,402.00 L134.70,405.00 L134.40,407.60 L135.00,410.50 L136.70,413.00 L138.30,413.00 L140.00,410.50 L140.60,407.60 L140.30,405.00 L139.50,402.00 L138.50,398.60 L138.50,390.00 L138.10,388.60 Z" fill="#a9c3df" stroke="#1c589c" stroke-width="0.5" stroke-linejoin="round"/>
<g fill="#1c589c"><circle cx="137.5" cy="388.6" r="1.45"/><circle cx="137.5" cy="400.0" r="1.45"/><circle cx="137.5" cy="404.5" r="1.45"/><circle cx="135.2" cy="407.6" r="1.45"/><circle cx="139.8" cy="407.6" r="1.45"/><circle cx="137.5" cy="407.6" r="1.45"/><circle cx="137.5" cy="410.2" r="1.45"/><circle cx="137.5" cy="412.3" r="1.45"/></g>
<path d="M52.3,390.7 L52.3,387.1 L63.7,387.1 L63.7,390.7" fill="none" stroke="#000" stroke-width="0.9"/>
<text x="54.10" y="385.70" font-size="6.5" textLength="7.70" lengthAdjust="spacingAndGlyphs">***</text>
<path d="M76.9,396.3 L76.9,392.9 L88.8,392.9 L88.8,396.3" fill="none" stroke="#000" stroke-width="0.9"/>
<text x="82.70" y="391.60" font-size="6.5" text-anchor="middle">*</text>
<text x="21.70" y="514.01" font-size="7.6" textLength="21.20" lengthAdjust="spacingAndGlyphs">BsAb:</text>
<text x="52.70" y="514.10" font-size="7.6" text-anchor="middle">–</text>
<text x="64.60" y="514.10" font-size="7.6" text-anchor="middle">+</text>
<text x="76.70" y="514.10" font-size="7.6" text-anchor="middle">–</text>
<text x="89.00" y="514.10" font-size="7.6" text-anchor="middle">+</text>
<text x="101.20" y="514.10" font-size="7.6" text-anchor="middle">–</text>
<text x="113.10" y="514.10" font-size="7.6" text-anchor="middle">+</text>
<text x="125.20" y="514.10" font-size="7.6" text-anchor="middle">–</text>
<text x="137.40" y="514.10" font-size="7.6" text-anchor="middle">+</text>
<line x1="46.30" y1="515.30" x2="67.50" y2="515.30" stroke="#000" stroke-width="0.9"/>
<line x1="71.30" y1="515.30" x2="92.50" y2="515.30" stroke="#000" stroke-width="0.9"/>
<line x1="96.30" y1="515.30" x2="117.50" y2="515.30" stroke="#000" stroke-width="0.9"/>
<line x1="121.30" y1="515.30" x2="142.30" y2="515.30" stroke="#000" stroke-width="0.9"/>
<text x="50.80" y="524.25" font-size="7.4" textLength="9.60" lengthAdjust="spacingAndGlyphs">WT</text>
<text x="68.50" y="524.25" font-size="7.4" fill="#d41c3c" textLength="25.00" lengthAdjust="spacingAndGlyphs">+αCD8β</text>
<text x="96.30" y="524.25" font-size="7.4" fill="#2db843" textLength="21.80" lengthAdjust="spacingAndGlyphs">+αCD4</text>
<text x="122.3" y="524.3" font-size="7.4" fill="#1c589c" font-style="italic">Jα18<tspan font-size="4.6" dy="-3">−/−</tspan></text>
<text x="172.20" y="368.70" font-size="11" font-weight="bold">J</text>
<text x="227.70" y="376.76" font-size="8.6" stroke="#000" stroke-width="0.22" textLength="43.60" lengthAdjust="spacingAndGlyphs">BsAb treatment</text>
<line x1="202.30" y1="379.20" x2="296.90" y2="379.20" stroke="#444" stroke-width="1.2"/>
<text x="220.70" y="387.61" font-size="7.0" textLength="8.20" lengthAdjust="spacingAndGlyphs">(–)</text>
<text x="270.50" y="387.61" font-size="7.0" textLength="8.20" lengthAdjust="spacingAndGlyphs">(+)</text>
<text x="185.43" y="430.20" font-size="8.8" textLength="49.00" lengthAdjust="spacingAndGlyphs" transform="rotate(-90 185.43 430.20)" fill="#000">CD1d-tetramer</text>
<line x1="181.60" y1="454.20" x2="181.60" y2="439.50" stroke="#000" stroke-width="0.9"/>
<path d="M181.60,436.00 L179.80,440.00 L183.40,440.00 Z" fill="#000"/>
<line x1="181.60" y1="454.20" x2="274.10" y2="454.20" stroke="#000" stroke-width="0.9"/>
<path d="M277.00,454.20 L273.60,452.50 L273.60,455.90 Z" fill="#000"/>
<text x="281.30" y="456.68" font-size="7.8" textLength="15.00" lengthAdjust="spacingAndGlyphs">Tcrβ</text>
<text x="185.53" y="496.20" font-size="8.8" textLength="15.00" lengthAdjust="spacingAndGlyphs" transform="rotate(-90 185.53 496.20)" fill="#000">CD8</text>
<line x1="181.30" y1="536.20" x2="181.30" y2="502.20" stroke="#000" stroke-width="0.9"/>
<path d="M181.30,498.70 L179.50,502.70 L183.10,502.70 Z" fill="#000"/>
<line x1="181.30" y1="536.20" x2="275.10" y2="536.20" stroke="#000" stroke-width="0.9"/>
<path d="M278.00,536.20 L274.60,534.50 L274.60,537.90 Z" fill="#000"/>
<text x="282.00" y="538.48" font-size="7.8" textLength="14.30" lengthAdjust="spacingAndGlyphs">Tcrβ</text>
<defs><radialGradient id="jet"><stop offset="0" stop-color="#ff2000"/><stop offset="0.15" stop-color="#ffb000"/><stop offset="0.3" stop-color="#c0f040"/><stop offset="0.45" stop-color="#20e0c0"/><stop offset="0.6" stop-color="#0080ff"/><stop offset="0.85" stop-color="#0018e0"/><stop offset="1" stop-color="#0000b0"/></radialGradient><radialGradient id="jetb"><stop offset="0" stop-color="#1050ff"/><stop offset="0.7" stop-color="#0020e0"/><stop offset="1" stop-color="#0008b0"/></radialGradient></defs>
<svg x="201.9" y="392.9" width="44.7" height="45.1" viewBox="201.9 392.9 44.7 45.1" overflow="hidden">
<ellipse cx="219.9" cy="424.0" rx="11" ry="6" fill="#ddd" stroke="none" stroke-width="0.6" filter="url(#bl2)"/>
<g fill="#444" fill-opacity="0.55"><circle cx="210.8" cy="428.8" r="0.3"/><circle cx="213.1" cy="424.2" r="0.3"/><circle cx="221.8" cy="430.7" r="0.3"/><circle cx="220.3" cy="436.0" r="0.3"/><circle cx="221.7" cy="435.5" r="0.3"/><circle cx="227.2" cy="426.8" r="0.3"/><circle cx="204.7" cy="420.4" r="0.3"/><circle cx="224.3" cy="420.8" r="0.3"/><circle cx="211.6" cy="417.4" r="0.3"/><circle cx="226.8" cy="431.4" r="0.3"/><circle cx="227.8" cy="413.3" r="0.3"/><circle cx="223.1" cy="431.2" r="0.3"/><circle cx="204.0" cy="427.0" r="0.3"/><circle cx="221.1" cy="423.2" r="0.3"/><circle cx="233.1" cy="421.0" r="0.3"/><circle cx="217.1" cy="435.4" r="0.3"/><circle cx="229.5" cy="433.1" r="0.3"/><circle cx="219.6" cy="423.4" r="0.3"/><circle cx="223.2" cy="420.4" r="0.3"/><circle cx="224.7" cy="425.2" r="0.3"/><circle cx="227.5" cy="426.6" r="0.3"/><circle cx="217.3" cy="433.8" r="0.3"/><circle cx="218.4" cy="425.4" r="0.3"/><circle cx="231.9" cy="424.2" r="0.3"/><circle cx="234.6" cy="431.1" r="0.3"/><circle cx="220.9" cy="418.2" r="0.3"/><circle cx="215.8" cy="422.4" r="0.3"/><circle cx="225.9" cy="421.8" r="0.3"/><circle cx="226.5" cy="428.7" r="0.3"/><circle cx="233.1" cy="415.1" r="0.3"/><circle cx="217.1" cy="426.3" r="0.3"/><circle cx="217.7" cy="424.5" r="0.3"/><circle cx="216.9" cy="422.2" r="0.3"/><circle cx="217.3" cy="431.6" r="0.3"/><circle cx="230.1" cy="421.9" r="0.3"/><circle cx="217.5" cy="434.7" r="0.3"/><circle cx="213.6" cy="420.8" r="0.3"/><circle cx="210.1" cy="428.8" r="0.3"/><circle cx="219.1" cy="426.4" r="0.3"/><circle cx="217.1" cy="427.1" r="0.3"/><circle cx="222.8" cy="426.0" r="0.3"/><circle cx="219.2" cy="420.8" r="0.3"/><circle cx="227.6" cy="419.1" r="0.3"/><circle cx="226.5" cy="418.4" r="0.3"/><circle cx="232.7" cy="426.9" r="0.3"/><circle cx="228.0" cy="424.8" r="0.3"/><circle cx="225.5" cy="419.2" r="0.3"/><circle cx="227.9" cy="421.1" r="0.3"/><circle cx="221.9" cy="419.5" r="0.3"/><circle cx="215.5" cy="429.4" r="0.3"/><circle cx="214.4" cy="424.5" r="0.3"/><circle cx="222.7" cy="419.6" r="0.3"/><circle cx="228.8" cy="422.1" r="0.3"/><circle cx="206.0" cy="429.7" r="0.3"/><circle cx="214.1" cy="423.1" r="0.3"/><circle cx="214.5" cy="420.6" r="0.3"/><circle cx="225.9" cy="424.7" r="0.3"/><circle cx="218.3" cy="430.0" r="0.3"/><circle cx="213.9" cy="425.2" r="0.3"/><circle cx="214.1" cy="430.6" r="0.3"/><circle cx="218.1" cy="426.3" r="0.3"/><circle cx="224.4" cy="431.6" r="0.3"/><circle cx="218.3" cy="427.7" r="0.3"/><circle cx="222.2" cy="424.9" r="0.3"/><circle cx="222.5" cy="423.7" r="0.3"/><circle cx="220.9" cy="427.3" r="0.3"/><circle cx="219.3" cy="432.9" r="0.3"/><circle cx="237.2" cy="428.0" r="0.3"/><circle cx="213.0" cy="424.7" r="0.3"/><circle cx="206.5" cy="423.1" r="0.3"/><circle cx="225.0" cy="428.4" r="0.3"/><circle cx="225.0" cy="430.5" r="0.3"/><circle cx="223.0" cy="433.0" r="0.3"/><circle cx="229.8" cy="420.8" r="0.3"/><circle cx="227.6" cy="424.5" r="0.3"/><circle cx="216.8" cy="419.0" r="0.3"/><circle cx="217.8" cy="422.5" r="0.3"/><circle cx="227.1" cy="427.3" r="0.3"/><circle cx="220.4" cy="423.0" r="0.3"/><circle cx="222.3" cy="420.3" r="0.3"/><circle cx="216.7" cy="429.2" r="0.3"/><circle cx="217.4" cy="422.3" r="0.3"/><circle cx="213.4" cy="416.9" r="0.3"/><circle cx="213.7" cy="433.2" r="0.3"/><circle cx="225.8" cy="416.0" r="0.3"/><circle cx="212.1" cy="422.0" r="0.3"/><circle cx="228.9" cy="424.5" r="0.3"/><circle cx="239.6" cy="423.9" r="0.3"/><circle cx="239.2" cy="428.0" r="0.3"/><circle cx="224.3" cy="428.2" r="0.3"/><circle cx="223.2" cy="426.7" r="0.3"/><circle cx="211.1" cy="418.2" r="0.3"/><circle cx="213.3" cy="429.7" r="0.3"/><circle cx="216.5" cy="423.8" r="0.3"/><circle cx="231.1" cy="429.0" r="0.3"/><circle cx="203.7" cy="427.2" r="0.3"/><circle cx="219.8" cy="426.0" r="0.3"/><circle cx="229.9" cy="418.7" r="0.3"/><circle cx="227.0" cy="423.7" r="0.3"/><circle cx="224.1" cy="421.8" r="0.3"/><circle cx="227.7" cy="419.2" r="0.3"/><circle cx="220.2" cy="426.6" r="0.3"/><circle cx="210.8" cy="422.5" r="0.3"/><circle cx="205.4" cy="424.1" r="0.3"/><circle cx="222.9" cy="428.2" r="0.3"/><circle cx="224.2" cy="424.9" r="0.3"/><circle cx="226.0" cy="416.7" r="0.3"/><circle cx="220.5" cy="419.4" r="0.3"/><circle cx="216.6" cy="423.4" r="0.3"/><circle cx="231.6" cy="426.6" r="0.3"/><circle cx="226.5" cy="430.6" r="0.3"/><circle cx="222.7" cy="423.2" r="0.3"/><circle cx="219.7" cy="426.2" r="0.3"/><circle cx="227.7" cy="434.0" r="0.3"/><circle cx="215.3" cy="418.7" r="0.3"/><circle cx="213.8" cy="428.3" r="0.3"/><circle cx="216.1" cy="423.9" r="0.3"/><circle cx="221.3" cy="427.2" r="0.3"/><circle cx="218.1" cy="429.0" r="0.3"/><circle cx="217.7" cy="422.5" r="0.3"/><circle cx="218.0" cy="430.9" r="0.3"/><circle cx="218.3" cy="423.0" r="0.3"/><circle cx="211.7" cy="426.3" r="0.3"/><circle cx="224.3" cy="421.8" r="0.3"/><circle cx="226.3" cy="428.9" r="0.3"/><circle cx="221.6" cy="423.0" r="0.3"/><circle cx="217.7" cy="430.2" r="0.3"/><circle cx="219.8" cy="425.2" r="0.3"/><circle cx="229.4" cy="419.9" r="0.3"/><circle cx="221.2" cy="425.9" r="0.3"/><circle cx="219.7" cy="429.9" r="0.3"/><circle cx="215.3" cy="409.1" r="0.3"/><circle cx="230.1" cy="424.4" r="0.3"/><circle cx="222.3" cy="421.7" r="0.3"/><circle cx="220.4" cy="434.2" r="0.3"/><circle cx="210.4" cy="417.1" r="0.3"/><circle cx="223.6" cy="433.0" r="0.3"/><circle cx="226.8" cy="420.6" r="0.3"/><circle cx="235.4" cy="424.9" r="0.3"/><circle cx="224.8" cy="416.0" r="0.3"/><circle cx="214.4" cy="418.4" r="0.3"/><circle cx="222.5" cy="425.1" r="0.3"/><circle cx="228.6" cy="419.9" r="0.3"/><circle cx="212.9" cy="419.5" r="0.3"/><circle cx="225.2" cy="431.3" r="0.3"/><circle cx="233.9" cy="419.5" r="0.3"/><circle cx="218.0" cy="426.1" r="0.3"/><circle cx="217.1" cy="422.8" r="0.3"/><circle cx="235.0" cy="411.6" r="0.3"/><circle cx="212.7" cy="427.3" r="0.3"/><circle cx="229.3" cy="422.1" r="0.3"/><circle cx="211.7" cy="416.8" r="0.3"/><circle cx="206.7" cy="423.6" r="0.3"/><circle cx="231.0" cy="425.4" r="0.3"/><circle cx="224.8" cy="419.5" r="0.3"/><circle cx="219.5" cy="433.3" r="0.3"/><circle cx="220.3" cy="423.1" r="0.3"/><circle cx="234.2" cy="426.3" r="0.3"/><circle cx="231.1" cy="425.0" r="0.3"/></g>
<ellipse cx="227.4" cy="408.9" rx="3.5" ry="3.5" fill="#888" stroke="none" stroke-width="0.6" filter="url(#bl1)" opacity="0.6"/>
<g fill="#222" fill-opacity="0.85"><circle cx="230.3" cy="408.2" r="0.33"/><circle cx="224.8" cy="407.9" r="0.33"/><circle cx="227.6" cy="409.6" r="0.33"/><circle cx="225.1" cy="410.7" r="0.33"/><circle cx="227.7" cy="406.6" r="0.33"/><circle cx="228.6" cy="408.7" r="0.33"/><circle cx="227.1" cy="408.4" r="0.33"/><circle cx="227.6" cy="410.2" r="0.33"/><circle cx="231.0" cy="408.4" r="0.33"/><circle cx="222.9" cy="407.2" r="0.33"/><circle cx="229.6" cy="408.2" r="0.33"/><circle cx="228.7" cy="407.3" r="0.33"/><circle cx="226.1" cy="404.2" r="0.33"/><circle cx="224.9" cy="411.5" r="0.33"/><circle cx="227.3" cy="407.8" r="0.33"/><circle cx="227.5" cy="407.2" r="0.33"/><circle cx="227.0" cy="410.8" r="0.33"/><circle cx="226.2" cy="415.0" r="0.33"/><circle cx="223.1" cy="411.0" r="0.33"/><circle cx="228.6" cy="410.4" r="0.33"/><circle cx="230.1" cy="409.1" r="0.33"/><circle cx="230.2" cy="407.9" r="0.33"/><circle cx="227.1" cy="407.4" r="0.33"/><circle cx="229.0" cy="409.6" r="0.33"/><circle cx="230.9" cy="407.7" r="0.33"/><circle cx="231.1" cy="407.0" r="0.33"/><circle cx="227.3" cy="410.6" r="0.33"/><circle cx="226.4" cy="408.0" r="0.33"/><circle cx="224.4" cy="409.2" r="0.33"/><circle cx="227.3" cy="415.8" r="0.33"/><circle cx="232.5" cy="411.0" r="0.33"/><circle cx="233.5" cy="410.6" r="0.33"/><circle cx="226.2" cy="409.7" r="0.33"/><circle cx="224.7" cy="406.0" r="0.33"/><circle cx="225.2" cy="410.7" r="0.33"/><circle cx="226.4" cy="407.1" r="0.33"/><circle cx="226.0" cy="412.6" r="0.33"/><circle cx="223.0" cy="410.3" r="0.33"/><circle cx="223.8" cy="410.3" r="0.33"/><circle cx="225.7" cy="408.4" r="0.33"/><circle cx="225.4" cy="411.4" r="0.33"/><circle cx="223.7" cy="409.6" r="0.33"/><circle cx="225.7" cy="405.3" r="0.33"/><circle cx="227.6" cy="414.1" r="0.33"/><circle cx="229.3" cy="407.6" r="0.33"/><circle cx="229.6" cy="407.2" r="0.33"/><circle cx="227.3" cy="409.8" r="0.33"/><circle cx="226.0" cy="405.2" r="0.33"/><circle cx="226.0" cy="406.6" r="0.33"/><circle cx="227.6" cy="409.0" r="0.33"/><circle cx="224.8" cy="406.3" r="0.33"/><circle cx="231.6" cy="407.5" r="0.33"/><circle cx="221.1" cy="406.8" r="0.33"/><circle cx="233.0" cy="409.4" r="0.33"/><circle cx="224.7" cy="408.7" r="0.33"/><circle cx="225.7" cy="407.3" r="0.33"/><circle cx="222.5" cy="408.8" r="0.33"/><circle cx="225.5" cy="403.5" r="0.33"/><circle cx="225.9" cy="409.0" r="0.33"/><circle cx="223.4" cy="409.2" r="0.33"/><circle cx="226.1" cy="412.3" r="0.33"/><circle cx="226.3" cy="406.7" r="0.33"/><circle cx="231.2" cy="408.9" r="0.33"/><circle cx="225.2" cy="416.2" r="0.33"/><circle cx="231.1" cy="409.2" r="0.33"/><circle cx="223.1" cy="406.1" r="0.33"/><circle cx="230.1" cy="404.5" r="0.33"/><circle cx="226.9" cy="405.1" r="0.33"/><circle cx="227.0" cy="404.7" r="0.33"/><circle cx="225.1" cy="409.2" r="0.33"/></g>
<ellipse cx="221.9" cy="428.2" rx="17.5" ry="3.6" fill="#111" stroke="none" stroke-width="0.6" filter="url(#bl1)" opacity="0.75"/>
<ellipse cx="213.7" cy="428.5" rx="7.9" ry="2.9" fill="url(#jet)" stroke="none" stroke-width="0.6"/>
<ellipse cx="230.4" cy="428.5" rx="4.9" ry="1.9" fill="url(#jetb)" stroke="none" stroke-width="0.6"/>
</svg>
<ellipse cx="228.9" cy="408.3" rx="12.8" ry="8.2" fill="none" stroke="#555" stroke-width="0.6" transform="rotate(-40 228.9 408.3)"/>
<rect x="201.90" y="392.90" width="44.70" height="45.10" stroke="#000" stroke-width="0.9" fill="none"/>
<line x1="200.60" y1="393.90" x2="201.90" y2="393.90" stroke="#000" stroke-width="0.5"/>
<line x1="200.60" y1="397.49" x2="201.90" y2="397.49" stroke="#000" stroke-width="0.5"/>
<line x1="200.60" y1="401.08" x2="201.90" y2="401.08" stroke="#000" stroke-width="0.5"/>
<line x1="200.60" y1="404.67" x2="201.90" y2="404.67" stroke="#000" stroke-width="0.5"/>
<line x1="200.60" y1="408.27" x2="201.90" y2="408.27" stroke="#000" stroke-width="0.5"/>
<line x1="200.60" y1="411.86" x2="201.90" y2="411.86" stroke="#000" stroke-width="0.5"/>
<line x1="200.60" y1="415.45" x2="201.90" y2="415.45" stroke="#000" stroke-width="0.5"/>
<line x1="200.60" y1="419.04" x2="201.90" y2="419.04" stroke="#000" stroke-width="0.5"/>
<line x1="200.60" y1="422.63" x2="201.90" y2="422.63" stroke="#000" stroke-width="0.5"/>
<line x1="200.60" y1="426.23" x2="201.90" y2="426.23" stroke="#000" stroke-width="0.5"/>
<line x1="200.60" y1="429.82" x2="201.90" y2="429.82" stroke="#000" stroke-width="0.5"/>
<line x1="200.60" y1="433.41" x2="201.90" y2="433.41" stroke="#000" stroke-width="0.5"/>
<line x1="200.60" y1="437.00" x2="201.90" y2="437.00" stroke="#000" stroke-width="0.5"/>
<line x1="202.90" y1="438.00" x2="202.90" y2="439.30" stroke="#000" stroke-width="0.5"/>
<line x1="206.46" y1="438.00" x2="206.46" y2="439.30" stroke="#000" stroke-width="0.5"/>
<line x1="210.02" y1="438.00" x2="210.02" y2="439.30" stroke="#000" stroke-width="0.5"/>
<line x1="213.57" y1="438.00" x2="213.57" y2="439.30" stroke="#000" stroke-width="0.5"/>
<line x1="217.13" y1="438.00" x2="217.13" y2="439.30" stroke="#000" stroke-width="0.5"/>
<line x1="220.69" y1="438.00" x2="220.69" y2="439.30" stroke="#000" stroke-width="0.5"/>
<line x1="224.25" y1="438.00" x2="224.25" y2="439.30" stroke="#000" stroke-width="0.5"/>
<line x1="227.81" y1="438.00" x2="227.81" y2="439.30" stroke="#000" stroke-width="0.5"/>
<line x1="231.37" y1="438.00" x2="231.37" y2="439.30" stroke="#000" stroke-width="0.5"/>
<line x1="234.93" y1="438.00" x2="234.93" y2="439.30" stroke="#000" stroke-width="0.5"/>
<line x1="238.48" y1="438.00" x2="238.48" y2="439.30" stroke="#000" stroke-width="0.5"/>
<line x1="242.04" y1="438.00" x2="242.04" y2="439.30" stroke="#000" stroke-width="0.5"/>
<line x1="245.60" y1="438.00" x2="245.60" y2="439.30" stroke="#000" stroke-width="0.5"/>
<text x="206.80" y="399.48" font-size="7.8" fill="#222" textLength="21.00" lengthAdjust="spacingAndGlyphs">0.18%</text>
<svg x="251.4" y="392.9" width="44.6" height="45.1" viewBox="251.4 392.9 44.6 45.1" overflow="hidden">
<ellipse cx="269.4" cy="424.0" rx="11" ry="6" fill="#ddd" stroke="none" stroke-width="0.6" filter="url(#bl2)"/>
<g fill="#444" fill-opacity="0.55"><circle cx="278.9" cy="422.8" r="0.3"/><circle cx="262.9" cy="422.3" r="0.3"/><circle cx="271.1" cy="425.2" r="0.3"/><circle cx="263.8" cy="427.2" r="0.3"/><circle cx="271.4" cy="420.0" r="0.3"/><circle cx="273.8" cy="423.6" r="0.3"/><circle cx="269.5" cy="423.1" r="0.3"/><circle cx="271.1" cy="426.3" r="0.3"/><circle cx="280.9" cy="423.1" r="0.3"/><circle cx="257.3" cy="421.0" r="0.3"/><circle cx="276.9" cy="422.7" r="0.3"/><circle cx="274.1" cy="421.2" r="0.3"/><circle cx="266.6" cy="415.9" r="0.3"/><circle cx="263.0" cy="428.6" r="0.3"/><circle cx="270.0" cy="422.1" r="0.3"/><circle cx="270.7" cy="421.0" r="0.3"/><circle cx="269.1" cy="427.2" r="0.3"/><circle cx="266.8" cy="434.5" r="0.3"/><circle cx="257.8" cy="427.6" r="0.3"/><circle cx="273.9" cy="426.6" r="0.3"/><circle cx="278.3" cy="424.4" r="0.3"/><circle cx="278.5" cy="422.3" r="0.3"/><circle cx="269.6" cy="421.4" r="0.3"/><circle cx="275.0" cy="425.2" r="0.3"/><circle cx="280.7" cy="422.0" r="0.3"/><circle cx="281.3" cy="420.7" r="0.3"/><circle cx="270.1" cy="426.9" r="0.3"/><circle cx="267.5" cy="422.4" r="0.3"/><circle cx="261.7" cy="424.6" r="0.3"/><circle cx="270.1" cy="436.0" r="0.3"/><circle cx="285.2" cy="427.7" r="0.3"/><circle cx="288.2" cy="427.0" r="0.3"/><circle cx="267.0" cy="425.4" r="0.3"/><circle cx="262.6" cy="419.0" r="0.3"/><circle cx="264.1" cy="427.1" r="0.3"/><circle cx="267.6" cy="420.9" r="0.3"/><circle cx="266.3" cy="430.4" r="0.3"/><circle cx="257.6" cy="426.3" r="0.3"/><circle cx="259.8" cy="426.4" r="0.3"/><circle cx="265.4" cy="423.1" r="0.3"/><circle cx="264.5" cy="428.3" r="0.3"/><circle cx="259.6" cy="425.2" r="0.3"/><circle cx="265.4" cy="417.8" r="0.3"/><circle cx="270.9" cy="433.0" r="0.3"/><circle cx="276.1" cy="421.8" r="0.3"/><circle cx="276.9" cy="421.0" r="0.3"/><circle cx="270.1" cy="425.6" r="0.3"/><circle cx="266.3" cy="417.7" r="0.3"/><circle cx="266.4" cy="420.0" r="0.3"/><circle cx="270.9" cy="424.2" r="0.3"/><circle cx="262.9" cy="419.6" r="0.3"/><circle cx="282.5" cy="421.6" r="0.3"/><circle cx="251.9" cy="420.3" r="0.3"/><circle cx="286.8" cy="424.9" r="0.3"/><circle cx="262.6" cy="423.6" r="0.3"/><circle cx="265.5" cy="421.2" r="0.3"/><circle cx="256.0" cy="423.8" r="0.3"/><circle cx="264.8" cy="414.7" r="0.3"/><circle cx="265.9" cy="424.1" r="0.3"/><circle cx="258.8" cy="424.6" r="0.3"/><circle cx="266.7" cy="429.8" r="0.3"/><circle cx="267.3" cy="420.2" r="0.3"/><circle cx="281.4" cy="424.0" r="0.3"/><circle cx="263.9" cy="436.6" r="0.3"/><circle cx="281.3" cy="424.5" r="0.3"/><circle cx="257.9" cy="419.2" r="0.3"/><circle cx="278.3" cy="416.4" r="0.3"/><circle cx="268.9" cy="417.5" r="0.3"/><circle cx="269.3" cy="416.7" r="0.3"/><circle cx="263.7" cy="424.5" r="0.3"/><circle cx="273.8" cy="427.9" r="0.3"/><circle cx="255.5" cy="422.7" r="0.3"/><circle cx="271.3" cy="433.4" r="0.3"/><circle cx="271.6" cy="419.9" r="0.3"/><circle cx="261.4" cy="413.0" r="0.3"/><circle cx="279.2" cy="419.0" r="0.3"/><circle cx="266.8" cy="427.8" r="0.3"/><circle cx="266.0" cy="426.3" r="0.3"/><circle cx="257.7" cy="426.5" r="0.3"/><circle cx="269.8" cy="420.4" r="0.3"/><circle cx="265.4" cy="419.0" r="0.3"/><circle cx="274.6" cy="425.9" r="0.3"/><circle cx="270.3" cy="425.8" r="0.3"/><circle cx="266.6" cy="418.1" r="0.3"/><circle cx="259.6" cy="431.9" r="0.3"/><circle cx="266.6" cy="425.6" r="0.3"/><circle cx="263.9" cy="426.0" r="0.3"/><circle cx="273.2" cy="427.8" r="0.3"/><circle cx="267.5" cy="418.0" r="0.3"/><circle cx="279.0" cy="427.7" r="0.3"/><circle cx="267.8" cy="422.9" r="0.3"/><circle cx="268.0" cy="430.9" r="0.3"/><circle cx="273.5" cy="416.4" r="0.3"/><circle cx="263.1" cy="432.0" r="0.3"/><circle cx="260.4" cy="422.6" r="0.3"/><circle cx="268.8" cy="427.8" r="0.3"/><circle cx="272.7" cy="425.8" r="0.3"/><circle cx="269.6" cy="422.1" r="0.3"/><circle cx="266.5" cy="420.0" r="0.3"/><circle cx="267.2" cy="428.5" r="0.3"/><circle cx="276.1" cy="419.1" r="0.3"/><circle cx="261.8" cy="426.2" r="0.3"/><circle cx="268.8" cy="423.5" r="0.3"/><circle cx="272.6" cy="433.2" r="0.3"/><circle cx="274.3" cy="417.6" r="0.3"/><circle cx="280.8" cy="422.4" r="0.3"/><circle cx="262.0" cy="416.7" r="0.3"/><circle cx="274.0" cy="428.3" r="0.3"/><circle cx="270.9" cy="421.2" r="0.3"/><circle cx="268.8" cy="422.6" r="0.3"/><circle cx="276.2" cy="425.8" r="0.3"/><circle cx="267.3" cy="416.3" r="0.3"/><circle cx="260.5" cy="426.2" r="0.3"/><circle cx="265.6" cy="426.6" r="0.3"/><circle cx="273.1" cy="428.2" r="0.3"/><circle cx="279.6" cy="421.8" r="0.3"/><circle cx="261.9" cy="426.0" r="0.3"/><circle cx="261.4" cy="419.4" r="0.3"/><circle cx="261.7" cy="423.4" r="0.3"/><circle cx="267.2" cy="431.2" r="0.3"/><circle cx="278.6" cy="421.0" r="0.3"/><circle cx="275.9" cy="426.5" r="0.3"/><circle cx="267.9" cy="421.6" r="0.3"/><circle cx="273.1" cy="422.4" r="0.3"/><circle cx="280.2" cy="420.1" r="0.3"/><circle cx="262.5" cy="421.1" r="0.3"/><circle cx="276.8" cy="420.8" r="0.3"/><circle cx="287.5" cy="417.2" r="0.3"/><circle cx="282.1" cy="430.7" r="0.3"/><circle cx="256.9" cy="423.1" r="0.3"/><circle cx="278.1" cy="430.7" r="0.3"/><circle cx="259.6" cy="424.7" r="0.3"/><circle cx="267.9" cy="425.3" r="0.3"/><circle cx="256.1" cy="419.7" r="0.3"/><circle cx="266.0" cy="426.9" r="0.3"/><circle cx="268.7" cy="419.2" r="0.3"/><circle cx="277.5" cy="424.4" r="0.3"/><circle cx="274.4" cy="432.4" r="0.3"/><circle cx="266.5" cy="418.2" r="0.3"/><circle cx="264.9" cy="424.8" r="0.3"/><circle cx="259.5" cy="427.3" r="0.3"/><circle cx="264.9" cy="429.8" r="0.3"/><circle cx="271.2" cy="427.8" r="0.3"/><circle cx="276.1" cy="423.6" r="0.3"/><circle cx="268.0" cy="429.1" r="0.3"/><circle cx="274.7" cy="413.9" r="0.3"/><circle cx="268.2" cy="436.4" r="0.3"/><circle cx="265.8" cy="424.0" r="0.3"/><circle cx="274.3" cy="424.7" r="0.3"/><circle cx="266.4" cy="427.6" r="0.3"/><circle cx="260.9" cy="418.0" r="0.3"/><circle cx="289.7" cy="421.9" r="0.3"/><circle cx="268.4" cy="417.7" r="0.3"/><circle cx="275.4" cy="414.3" r="0.3"/><circle cx="266.7" cy="429.0" r="0.3"/><circle cx="280.0" cy="427.7" r="0.3"/><circle cx="287.5" cy="421.8" r="0.3"/><circle cx="261.2" cy="423.0" r="0.3"/><circle cx="272.2" cy="420.7" r="0.3"/><circle cx="275.1" cy="421.2" r="0.3"/></g>
<ellipse cx="276.9" cy="408.9" rx="3.5" ry="3.5" fill="#888" stroke="none" stroke-width="0.6" filter="url(#bl1)" opacity="0.6"/>
<g fill="#222" fill-opacity="0.85"><circle cx="283.1" cy="410.3" r="0.33"/><circle cx="279.5" cy="416.8" r="0.33"/><circle cx="278.7" cy="408.2" r="0.33"/><circle cx="274.5" cy="408.6" r="0.33"/><circle cx="273.3" cy="411.4" r="0.33"/><circle cx="277.8" cy="407.1" r="0.33"/><circle cx="273.4" cy="407.8" r="0.33"/><circle cx="275.9" cy="408.2" r="0.33"/><circle cx="274.7" cy="410.8" r="0.33"/><circle cx="280.9" cy="406.7" r="0.33"/><circle cx="276.0" cy="407.0" r="0.33"/><circle cx="278.5" cy="408.2" r="0.33"/><circle cx="276.2" cy="410.2" r="0.33"/><circle cx="273.3" cy="406.4" r="0.33"/><circle cx="275.6" cy="404.2" r="0.33"/><circle cx="275.9" cy="405.3" r="0.33"/><circle cx="276.8" cy="415.5" r="0.33"/><circle cx="280.8" cy="408.6" r="0.33"/><circle cx="281.9" cy="408.8" r="0.33"/><circle cx="279.8" cy="405.9" r="0.33"/><circle cx="278.3" cy="405.2" r="0.33"/><circle cx="280.1" cy="412.5" r="0.33"/><circle cx="274.8" cy="411.9" r="0.33"/><circle cx="279.2" cy="407.1" r="0.33"/><circle cx="276.5" cy="412.2" r="0.33"/><circle cx="280.2" cy="405.4" r="0.33"/><circle cx="282.1" cy="408.7" r="0.33"/><circle cx="277.8" cy="406.1" r="0.33"/><circle cx="279.2" cy="414.4" r="0.33"/><circle cx="282.5" cy="410.4" r="0.33"/></g>
<ellipse cx="271.4" cy="428.2" rx="17.5" ry="3.6" fill="#111" stroke="none" stroke-width="0.6" filter="url(#bl1)" opacity="0.75"/>
<ellipse cx="263.2" cy="428.5" rx="7.9" ry="2.9" fill="url(#jet)" stroke="none" stroke-width="0.6"/>
<ellipse cx="279.9" cy="428.5" rx="4.9" ry="1.9" fill="url(#jetb)" stroke="none" stroke-width="0.6"/>
</svg>
<ellipse cx="278.4" cy="408.3" rx="12.8" ry="8.2" fill="none" stroke="#555" stroke-width="0.6" transform="rotate(-40 278.4 408.3)"/>
<rect x="251.40" y="392.90" width="44.60" height="45.10" stroke="#000" stroke-width="0.9" fill="none"/>
<line x1="250.10" y1="393.90" x2="251.40" y2="393.90" stroke="#000" stroke-width="0.5"/>
<line x1="250.10" y1="397.49" x2="251.40" y2="397.49" stroke="#000" stroke-width="0.5"/>
<line x1="250.10" y1="401.08" x2="251.40" y2="401.08" stroke="#000" stroke-width="0.5"/>
<line x1="250.10" y1="404.67" x2="251.40" y2="404.67" stroke="#000" stroke-width="0.5"/>
<line x1="250.10" y1="408.27" x2="251.40" y2="408.27" stroke="#000" stroke-width="0.5"/>
<line x1="250.10" y1="411.86" x2="251.40" y2="411.86" stroke="#000" stroke-width="0.5"/>
<line x1="250.10" y1="415.45" x2="251.40" y2="415.45" stroke="#000" stroke-width="0.5"/>
<line x1="250.10" y1="419.04" x2="251.40" y2="419.04" stroke="#000" stroke-width="0.5"/>
<line x1="250.10" y1="422.63" x2="251.40" y2="422.63" stroke="#000" stroke-width="0.5"/>
<line x1="250.10" y1="426.23" x2="251.40" y2="426.23" stroke="#000" stroke-width="0.5"/>
<line x1="250.10" y1="429.82" x2="251.40" y2="429.82" stroke="#000" stroke-width="0.5"/>
<line x1="250.10" y1="433.41" x2="251.40" y2="433.41" stroke="#000" stroke-width="0.5"/>
<line x1="250.10" y1="437.00" x2="251.40" y2="437.00" stroke="#000" stroke-width="0.5"/>
<line x1="252.40" y1="438.00" x2="252.40" y2="439.30" stroke="#000" stroke-width="0.5"/>
<line x1="255.95" y1="438.00" x2="255.95" y2="439.30" stroke="#000" stroke-width="0.5"/>
<line x1="259.50" y1="438.00" x2="259.50" y2="439.30" stroke="#000" stroke-width="0.5"/>
<line x1="263.05" y1="438.00" x2="263.05" y2="439.30" stroke="#000" stroke-width="0.5"/>
<line x1="266.60" y1="438.00" x2="266.60" y2="439.30" stroke="#000" stroke-width="0.5"/>
<line x1="270.15" y1="438.00" x2="270.15" y2="439.30" stroke="#000" stroke-width="0.5"/>
<line x1="273.70" y1="438.00" x2="273.70" y2="439.30" stroke="#000" stroke-width="0.5"/>
<line x1="277.25" y1="438.00" x2="277.25" y2="439.30" stroke="#000" stroke-width="0.5"/>
<line x1="280.80" y1="438.00" x2="280.80" y2="439.30" stroke="#000" stroke-width="0.5"/>
<line x1="284.35" y1="438.00" x2="284.35" y2="439.30" stroke="#000" stroke-width="0.5"/>
<line x1="287.90" y1="438.00" x2="287.90" y2="439.30" stroke="#000" stroke-width="0.5"/>
<line x1="291.45" y1="438.00" x2="291.45" y2="439.30" stroke="#000" stroke-width="0.5"/>
<line x1="295.00" y1="438.00" x2="295.00" y2="439.30" stroke="#000" stroke-width="0.5"/>
<text x="256.30" y="399.48" font-size="7.8" fill="#cc1538" textLength="24.90" lengthAdjust="spacingAndGlyphs">0.062%</text>
<svg x="202.2" y="473.5" width="45.4" height="44.1" viewBox="202.2 473.5 45.4 44.1" overflow="hidden">
<ellipse cx="218.2" cy="493.6" rx="9" ry="11" fill="#e6e6e6" stroke="none" stroke-width="0.6" filter="url(#bl2)"/>
<g fill="#444" fill-opacity="0.7"><circle cx="220.0" cy="490.7" r="0.32"/><circle cx="223.5" cy="498.8" r="0.32"/><circle cx="221.3" cy="494.9" r="0.32"/><circle cx="211.8" cy="492.8" r="0.32"/><circle cx="218.9" cy="501.7" r="0.32"/><circle cx="214.9" cy="506.4" r="0.32"/><circle cx="211.6" cy="488.0" r="0.32"/><circle cx="216.7" cy="490.1" r="0.32"/><circle cx="222.5" cy="488.3" r="0.32"/><circle cx="214.9" cy="492.2" r="0.32"/><circle cx="213.8" cy="510.1" r="0.32"/><circle cx="220.3" cy="480.3" r="0.32"/><circle cx="218.0" cy="499.2" r="0.32"/><circle cx="233.5" cy="485.6" r="0.32"/><circle cx="219.7" cy="487.2" r="0.32"/><circle cx="215.9" cy="494.1" r="0.32"/><circle cx="220.5" cy="507.6" r="0.32"/><circle cx="223.8" cy="498.1" r="0.32"/><circle cx="217.3" cy="486.1" r="0.32"/><circle cx="220.5" cy="496.0" r="0.32"/><circle cx="215.0" cy="493.4" r="0.32"/><circle cx="215.6" cy="488.4" r="0.32"/><circle cx="214.9" cy="491.7" r="0.32"/><circle cx="213.4" cy="510.2" r="0.32"/><circle cx="227.6" cy="487.5" r="0.32"/><circle cx="215.6" cy="500.5" r="0.32"/><circle cx="221.1" cy="484.0" r="0.32"/><circle cx="208.1" cy="489.6" r="0.32"/><circle cx="223.2" cy="501.1" r="0.32"/><circle cx="221.6" cy="503.5" r="0.32"/><circle cx="222.4" cy="498.4" r="0.32"/><circle cx="213.5" cy="489.3" r="0.32"/><circle cx="226.5" cy="495.5" r="0.32"/><circle cx="212.1" cy="487.1" r="0.32"/><circle cx="227.8" cy="489.4" r="0.32"/><circle cx="217.0" cy="489.7" r="0.32"/><circle cx="212.5" cy="490.2" r="0.32"/><circle cx="221.5" cy="490.7" r="0.32"/><circle cx="220.0" cy="502.7" r="0.32"/><circle cx="212.8" cy="495.4" r="0.32"/><circle cx="217.1" cy="503.0" r="0.32"/><circle cx="218.5" cy="505.0" r="0.32"/><circle cx="218.8" cy="497.5" r="0.32"/><circle cx="227.0" cy="494.4" r="0.32"/><circle cx="209.9" cy="500.8" r="0.32"/><circle cx="216.4" cy="492.9" r="0.32"/><circle cx="219.1" cy="503.3" r="0.32"/><circle cx="213.2" cy="494.4" r="0.32"/><circle cx="214.8" cy="499.2" r="0.32"/><circle cx="221.6" cy="504.8" r="0.32"/><circle cx="223.3" cy="498.4" r="0.32"/><circle cx="225.3" cy="502.8" r="0.32"/><circle cx="215.9" cy="495.4" r="0.32"/><circle cx="209.1" cy="491.1" r="0.32"/><circle cx="225.6" cy="484.3" r="0.32"/><circle cx="222.1" cy="511.0" r="0.32"/><circle cx="223.0" cy="495.1" r="0.32"/><circle cx="219.9" cy="497.0" r="0.32"/><circle cx="222.0" cy="491.6" r="0.32"/><circle cx="210.9" cy="493.0" r="0.32"/><circle cx="218.3" cy="503.8" r="0.32"/><circle cx="219.3" cy="505.7" r="0.32"/><circle cx="215.0" cy="491.3" r="0.32"/><circle cx="207.3" cy="497.8" r="0.32"/><circle cx="210.3" cy="494.8" r="0.32"/><circle cx="223.9" cy="496.6" r="0.32"/><circle cx="211.4" cy="499.0" r="0.32"/><circle cx="214.7" cy="483.0" r="0.32"/><circle cx="213.9" cy="491.5" r="0.32"/><circle cx="211.1" cy="501.4" r="0.32"/><circle cx="226.5" cy="498.9" r="0.32"/><circle cx="221.3" cy="492.0" r="0.32"/><circle cx="222.0" cy="502.0" r="0.32"/><circle cx="220.9" cy="498.1" r="0.32"/><circle cx="217.5" cy="488.5" r="0.32"/><circle cx="216.9" cy="493.0" r="0.32"/><circle cx="223.5" cy="503.5" r="0.32"/><circle cx="210.9" cy="479.7" r="0.32"/><circle cx="235.5" cy="497.8" r="0.32"/><circle cx="219.2" cy="494.4" r="0.32"/><circle cx="218.2" cy="493.0" r="0.32"/><circle cx="219.9" cy="488.4" r="0.32"/><circle cx="218.2" cy="491.9" r="0.32"/><circle cx="217.7" cy="503.1" r="0.32"/><circle cx="207.7" cy="494.6" r="0.32"/><circle cx="221.4" cy="485.6" r="0.32"/><circle cx="210.2" cy="495.1" r="0.32"/><circle cx="213.5" cy="489.6" r="0.32"/><circle cx="214.3" cy="499.6" r="0.32"/><circle cx="210.3" cy="501.6" r="0.32"/><circle cx="229.9" cy="506.7" r="0.32"/><circle cx="213.7" cy="500.3" r="0.32"/><circle cx="216.5" cy="491.4" r="0.32"/><circle cx="212.6" cy="489.4" r="0.32"/><circle cx="223.0" cy="500.6" r="0.32"/><circle cx="221.8" cy="502.9" r="0.32"/><circle cx="229.2" cy="493.3" r="0.32"/><circle cx="218.2" cy="487.2" r="0.32"/><circle cx="220.0" cy="491.3" r="0.32"/><circle cx="219.5" cy="496.0" r="0.32"/><circle cx="215.3" cy="496.9" r="0.32"/><circle cx="213.8" cy="494.3" r="0.32"/><circle cx="215.1" cy="504.7" r="0.32"/><circle cx="217.3" cy="484.9" r="0.32"/><circle cx="218.8" cy="489.8" r="0.32"/><circle cx="210.7" cy="482.9" r="0.32"/><circle cx="221.7" cy="488.7" r="0.32"/><circle cx="215.2" cy="494.9" r="0.32"/><circle cx="225.9" cy="497.5" r="0.32"/><circle cx="218.1" cy="500.4" r="0.32"/><circle cx="219.1" cy="490.7" r="0.32"/><circle cx="232.6" cy="499.9" r="0.32"/><circle cx="207.6" cy="486.0" r="0.32"/><circle cx="207.8" cy="500.0" r="0.32"/><circle cx="226.2" cy="488.3" r="0.32"/><circle cx="222.5" cy="491.2" r="0.32"/><circle cx="224.7" cy="495.1" r="0.32"/><circle cx="223.9" cy="490.7" r="0.32"/><circle cx="217.7" cy="497.7" r="0.32"/><circle cx="207.0" cy="505.6" r="0.32"/><circle cx="212.5" cy="501.6" r="0.32"/><circle cx="223.3" cy="498.7" r="0.32"/><circle cx="229.3" cy="501.6" r="0.32"/><circle cx="218.4" cy="487.4" r="0.32"/><circle cx="218.3" cy="493.3" r="0.32"/><circle cx="220.6" cy="494.3" r="0.32"/><circle cx="214.3" cy="492.2" r="0.32"/><circle cx="223.5" cy="490.6" r="0.32"/><circle cx="226.9" cy="481.0" r="0.32"/><circle cx="213.3" cy="492.4" r="0.32"/><circle cx="217.7" cy="499.1" r="0.32"/><circle cx="215.8" cy="512.0" r="0.32"/><circle cx="217.7" cy="500.8" r="0.32"/><circle cx="216.8" cy="476.0" r="0.32"/><circle cx="220.7" cy="505.7" r="0.32"/><circle cx="212.0" cy="499.4" r="0.32"/><circle cx="229.0" cy="494.9" r="0.32"/><circle cx="225.3" cy="512.1" r="0.32"/><circle cx="219.4" cy="480.3" r="0.32"/><circle cx="213.6" cy="495.5" r="0.32"/><circle cx="211.9" cy="493.6" r="0.32"/><circle cx="203.3" cy="491.2" r="0.32"/><circle cx="216.8" cy="495.3" r="0.32"/><circle cx="211.1" cy="497.6" r="0.32"/><circle cx="214.5" cy="497.9" r="0.32"/><circle cx="218.0" cy="510.9" r="0.32"/><circle cx="223.1" cy="492.7" r="0.32"/><circle cx="211.3" cy="510.1" r="0.32"/><circle cx="204.3" cy="482.9" r="0.32"/><circle cx="218.0" cy="486.3" r="0.32"/><circle cx="225.8" cy="493.0" r="0.32"/><circle cx="214.6" cy="491.1" r="0.32"/><circle cx="223.3" cy="499.6" r="0.32"/><circle cx="229.1" cy="498.6" r="0.32"/><circle cx="214.1" cy="501.4" r="0.32"/><circle cx="220.9" cy="502.5" r="0.32"/><circle cx="214.2" cy="486.2" r="0.32"/><circle cx="224.3" cy="489.7" r="0.32"/><circle cx="216.7" cy="511.0" r="0.32"/><circle cx="219.4" cy="492.9" r="0.32"/><circle cx="207.2" cy="503.6" r="0.32"/><circle cx="216.2" cy="484.8" r="0.32"/><circle cx="207.2" cy="489.6" r="0.32"/><circle cx="216.9" cy="504.7" r="0.32"/><circle cx="217.3" cy="492.9" r="0.32"/><circle cx="215.7" cy="499.4" r="0.32"/><circle cx="215.6" cy="503.0" r="0.32"/><circle cx="218.2" cy="503.2" r="0.32"/><circle cx="218.4" cy="480.7" r="0.32"/><circle cx="211.2" cy="495.6" r="0.32"/><circle cx="204.4" cy="500.8" r="0.32"/><circle cx="219.2" cy="498.1" r="0.32"/><circle cx="220.2" cy="488.9" r="0.32"/><circle cx="220.5" cy="498.2" r="0.32"/><circle cx="211.8" cy="493.4" r="0.32"/><circle cx="222.2" cy="515.8" r="0.32"/><circle cx="211.3" cy="491.0" r="0.32"/><circle cx="208.7" cy="506.2" r="0.32"/><circle cx="211.2" cy="493.1" r="0.32"/><circle cx="210.8" cy="501.4" r="0.32"/><circle cx="222.5" cy="501.3" r="0.32"/><circle cx="218.9" cy="497.9" r="0.32"/><circle cx="219.6" cy="490.1" r="0.32"/><circle cx="220.7" cy="502.2" r="0.32"/><circle cx="220.7" cy="503.5" r="0.32"/><circle cx="219.4" cy="497.6" r="0.32"/><circle cx="221.0" cy="490.1" r="0.32"/><circle cx="219.8" cy="502.0" r="0.32"/><circle cx="208.7" cy="493.7" r="0.32"/><circle cx="215.0" cy="494.7" r="0.32"/><circle cx="219.8" cy="510.4" r="0.32"/><circle cx="211.8" cy="495.3" r="0.32"/><circle cx="210.9" cy="490.0" r="0.32"/><circle cx="212.5" cy="479.5" r="0.32"/><circle cx="228.4" cy="497.9" r="0.32"/><circle cx="219.1" cy="506.5" r="0.32"/><circle cx="217.8" cy="482.2" r="0.32"/><circle cx="211.0" cy="488.6" r="0.32"/><circle cx="217.0" cy="497.0" r="0.32"/><circle cx="214.7" cy="498.2" r="0.32"/></g>
<g fill="#666" fill-opacity="0.5"><circle cx="225.6" cy="507.9" r="0.3"/><circle cx="236.9" cy="505.7" r="0.3"/><circle cx="224.8" cy="509.0" r="0.3"/><circle cx="214.8" cy="504.0" r="0.3"/><circle cx="220.4" cy="503.3" r="0.3"/><circle cx="229.4" cy="507.9" r="0.3"/><circle cx="230.7" cy="506.2" r="0.3"/><circle cx="224.0" cy="509.0" r="0.3"/><circle cx="214.5" cy="513.1" r="0.3"/><circle cx="212.6" cy="504.9" r="0.3"/><circle cx="226.0" cy="510.0" r="0.3"/><circle cx="206.6" cy="513.3" r="0.3"/><circle cx="220.7" cy="503.5" r="0.3"/><circle cx="233.4" cy="507.3" r="0.3"/><circle cx="216.0" cy="501.5" r="0.3"/><circle cx="235.2" cy="504.2" r="0.3"/><circle cx="227.9" cy="506.2" r="0.3"/><circle cx="210.9" cy="506.9" r="0.3"/><circle cx="219.8" cy="505.9" r="0.3"/><circle cx="230.9" cy="507.8" r="0.3"/><circle cx="217.8" cy="502.0" r="0.3"/><circle cx="217.7" cy="511.2" r="0.3"/><circle cx="227.8" cy="502.1" r="0.3"/><circle cx="230.4" cy="506.7" r="0.3"/><circle cx="224.6" cy="506.3" r="0.3"/><circle cx="217.1" cy="507.2" r="0.3"/><circle cx="223.7" cy="506.1" r="0.3"/><circle cx="241.4" cy="509.7" r="0.3"/><circle cx="220.1" cy="502.4" r="0.3"/><circle cx="219.8" cy="510.1" r="0.3"/><circle cx="224.3" cy="514.2" r="0.3"/><circle cx="218.7" cy="510.1" r="0.3"/><circle cx="224.0" cy="506.0" r="0.3"/><circle cx="222.0" cy="508.4" r="0.3"/><circle cx="237.6" cy="495.1" r="0.3"/><circle cx="218.0" cy="508.7" r="0.3"/><circle cx="230.0" cy="507.5" r="0.3"/><circle cx="222.8" cy="502.0" r="0.3"/><circle cx="218.4" cy="503.6" r="0.3"/><circle cx="234.6" cy="505.9" r="0.3"/><circle cx="217.9" cy="501.8" r="0.3"/><circle cx="219.2" cy="510.8" r="0.3"/><circle cx="228.0" cy="512.7" r="0.3"/><circle cx="225.1" cy="504.6" r="0.3"/><circle cx="243.1" cy="512.6" r="0.3"/><circle cx="224.9" cy="502.3" r="0.3"/><circle cx="216.1" cy="504.0" r="0.3"/><circle cx="218.1" cy="504.5" r="0.3"/><circle cx="235.1" cy="498.7" r="0.3"/><circle cx="228.0" cy="503.2" r="0.3"/><circle cx="225.1" cy="503.9" r="0.3"/><circle cx="216.7" cy="503.7" r="0.3"/><circle cx="203.6" cy="499.5" r="0.3"/><circle cx="231.0" cy="497.6" r="0.3"/><circle cx="229.4" cy="500.1" r="0.3"/><circle cx="218.8" cy="492.2" r="0.3"/><circle cx="214.3" cy="506.0" r="0.3"/><circle cx="225.1" cy="513.6" r="0.3"/><circle cx="231.0" cy="505.6" r="0.3"/><circle cx="214.8" cy="505.7" r="0.3"/></g>
<ellipse cx="222.2" cy="506.6" rx="15" ry="6.5" fill="#222" stroke="none" stroke-width="0.6" filter="url(#bl1)" opacity="0.35"/>
<path d="M208.2,507.6 Q208.7,502.1 214.2,501.6 Q219.2,501.6 221.2,503.6 Q225.2,504.6 227.7,502.1 Q231.2,499.1 235.2,501.1 Q237.7,504.1 235.2,507.1 Q230.2,508.6 224.2,509.1 Q217.2,511.6 210.7,511.1 Z" fill="#0a20e0" stroke="#000a90" stroke-width="0.5"/>
<ellipse cx="214.6" cy="508.0" rx="6.0" ry="3.0" fill="url(#jet)" stroke="none" stroke-width="0.6"/>
<ellipse cx="231.2" cy="504.3" rx="3.5" ry="2.2" fill="#1848ff" stroke="none" stroke-width="0.6" filter="url(#bl05)"/>
<ellipse cx="230.3" cy="488.3" rx="4.4" ry="3.0" fill="#0a28e8" stroke="none" stroke-width="0.6" filter="url(#bl05)" transform="rotate(-20 230.3 488.3)"/>
<ellipse cx="230.5" cy="488.1" rx="2.2" ry="1.4" fill="#3070ff" stroke="none" stroke-width="0.6" filter="url(#bl05)"/>
</svg>
<ellipse cx="232.5" cy="484.1" rx="12.5" ry="8.5" fill="none" stroke="#555" stroke-width="0.6" transform="rotate(-35 232.5 484.1)"/>
<rect x="202.20" y="473.50" width="45.40" height="44.10" stroke="#000" stroke-width="0.9" fill="none"/>
<line x1="200.90" y1="474.50" x2="202.20" y2="474.50" stroke="#000" stroke-width="0.5"/>
<line x1="200.90" y1="478.01" x2="202.20" y2="478.01" stroke="#000" stroke-width="0.5"/>
<line x1="200.90" y1="481.52" x2="202.20" y2="481.52" stroke="#000" stroke-width="0.5"/>
<line x1="200.90" y1="485.02" x2="202.20" y2="485.02" stroke="#000" stroke-width="0.5"/>
<line x1="200.90" y1="488.53" x2="202.20" y2="488.53" stroke="#000" stroke-width="0.5"/>
<line x1="200.90" y1="492.04" x2="202.20" y2="492.04" stroke="#000" stroke-width="0.5"/>
<line x1="200.90" y1="495.55" x2="202.20" y2="495.55" stroke="#000" stroke-width="0.5"/>
<line x1="200.90" y1="499.06" x2="202.20" y2="499.06" stroke="#000" stroke-width="0.5"/>
<line x1="200.90" y1="502.57" x2="202.20" y2="502.57" stroke="#000" stroke-width="0.5"/>
<line x1="200.90" y1="506.08" x2="202.20" y2="506.08" stroke="#000" stroke-width="0.5"/>
<line x1="200.90" y1="509.58" x2="202.20" y2="509.58" stroke="#000" stroke-width="0.5"/>
<line x1="200.90" y1="513.09" x2="202.20" y2="513.09" stroke="#000" stroke-width="0.5"/>
<line x1="200.90" y1="516.60" x2="202.20" y2="516.60" stroke="#000" stroke-width="0.5"/>
<line x1="203.20" y1="517.60" x2="203.20" y2="518.90" stroke="#000" stroke-width="0.5"/>
<line x1="206.82" y1="517.60" x2="206.82" y2="518.90" stroke="#000" stroke-width="0.5"/>
<line x1="210.43" y1="517.60" x2="210.43" y2="518.90" stroke="#000" stroke-width="0.5"/>
<line x1="214.05" y1="517.60" x2="214.05" y2="518.90" stroke="#000" stroke-width="0.5"/>
<line x1="217.67" y1="517.60" x2="217.67" y2="518.90" stroke="#000" stroke-width="0.5"/>
<line x1="221.28" y1="517.60" x2="221.28" y2="518.90" stroke="#000" stroke-width="0.5"/>
<line x1="224.90" y1="517.60" x2="224.90" y2="518.90" stroke="#000" stroke-width="0.5"/>
<line x1="228.52" y1="517.60" x2="228.52" y2="518.90" stroke="#000" stroke-width="0.5"/>
<line x1="232.13" y1="517.60" x2="232.13" y2="518.90" stroke="#000" stroke-width="0.5"/>
<line x1="235.75" y1="517.60" x2="235.75" y2="518.90" stroke="#000" stroke-width="0.5"/>
<line x1="239.37" y1="517.60" x2="239.37" y2="518.90" stroke="#000" stroke-width="0.5"/>
<line x1="242.98" y1="517.60" x2="242.98" y2="518.90" stroke="#000" stroke-width="0.5"/>
<line x1="246.60" y1="517.60" x2="246.60" y2="518.90" stroke="#000" stroke-width="0.5"/>
<text x="203.40" y="481.88" font-size="7.8" fill="#111" textLength="19.80" lengthAdjust="spacingAndGlyphs">1.64%</text>
<svg x="250.3" y="473.5" width="44.1" height="44.1" viewBox="250.3 473.5 44.1 44.1" overflow="hidden">
<ellipse cx="266.3" cy="493.6" rx="9" ry="11" fill="#e6e6e6" stroke="none" stroke-width="0.6" filter="url(#bl2)"/>
<g fill="#444" fill-opacity="0.7"><circle cx="261.6" cy="487.3" r="0.32"/><circle cx="269.4" cy="496.4" r="0.32"/><circle cx="269.8" cy="494.8" r="0.32"/><circle cx="264.0" cy="488.6" r="0.32"/><circle cx="274.5" cy="493.4" r="0.32"/><circle cx="264.7" cy="499.1" r="0.32"/><circle cx="261.7" cy="508.1" r="0.32"/><circle cx="275.7" cy="495.3" r="0.32"/><circle cx="270.8" cy="505.1" r="0.32"/><circle cx="266.1" cy="508.1" r="0.32"/><circle cx="265.7" cy="500.3" r="0.32"/><circle cx="271.4" cy="509.6" r="0.32"/><circle cx="266.5" cy="499.2" r="0.32"/><circle cx="269.4" cy="500.2" r="0.32"/><circle cx="262.9" cy="497.2" r="0.32"/><circle cx="254.4" cy="478.3" r="0.32"/><circle cx="270.2" cy="486.1" r="0.32"/><circle cx="270.2" cy="504.3" r="0.32"/><circle cx="263.3" cy="492.9" r="0.32"/><circle cx="268.5" cy="491.9" r="0.32"/><circle cx="265.5" cy="484.8" r="0.32"/><circle cx="260.9" cy="481.7" r="0.32"/><circle cx="267.3" cy="501.4" r="0.32"/><circle cx="263.8" cy="484.1" r="0.32"/><circle cx="258.6" cy="495.2" r="0.32"/><circle cx="259.8" cy="506.0" r="0.32"/><circle cx="266.3" cy="495.3" r="0.32"/><circle cx="276.5" cy="488.6" r="0.32"/><circle cx="274.5" cy="501.0" r="0.32"/><circle cx="270.4" cy="493.0" r="0.32"/><circle cx="260.2" cy="509.1" r="0.32"/><circle cx="261.3" cy="482.0" r="0.32"/><circle cx="266.5" cy="489.8" r="0.32"/><circle cx="262.8" cy="479.5" r="0.32"/><circle cx="270.3" cy="499.0" r="0.32"/><circle cx="267.5" cy="500.1" r="0.32"/><circle cx="267.7" cy="491.9" r="0.32"/><circle cx="270.5" cy="490.6" r="0.32"/><circle cx="266.6" cy="491.8" r="0.32"/><circle cx="261.0" cy="492.2" r="0.32"/><circle cx="273.2" cy="498.0" r="0.32"/><circle cx="270.5" cy="494.7" r="0.32"/><circle cx="272.5" cy="487.4" r="0.32"/><circle cx="264.8" cy="510.1" r="0.32"/><circle cx="267.2" cy="501.1" r="0.32"/><circle cx="261.6" cy="489.5" r="0.32"/><circle cx="259.2" cy="494.5" r="0.32"/><circle cx="255.0" cy="492.9" r="0.32"/><circle cx="258.5" cy="482.1" r="0.32"/><circle cx="265.4" cy="500.6" r="0.32"/><circle cx="262.5" cy="495.3" r="0.32"/><circle cx="271.3" cy="495.1" r="0.32"/><circle cx="268.6" cy="490.0" r="0.32"/><circle cx="264.1" cy="488.1" r="0.32"/><circle cx="261.5" cy="497.7" r="0.32"/><circle cx="269.2" cy="494.1" r="0.32"/><circle cx="263.1" cy="500.8" r="0.32"/><circle cx="265.7" cy="487.6" r="0.32"/><circle cx="270.7" cy="491.5" r="0.32"/><circle cx="265.8" cy="502.7" r="0.32"/><circle cx="265.8" cy="494.1" r="0.32"/><circle cx="277.7" cy="495.2" r="0.32"/><circle cx="269.2" cy="495.9" r="0.32"/><circle cx="269.1" cy="485.1" r="0.32"/><circle cx="265.3" cy="501.7" r="0.32"/><circle cx="261.2" cy="497.4" r="0.32"/><circle cx="267.5" cy="489.0" r="0.32"/><circle cx="259.9" cy="490.5" r="0.32"/><circle cx="262.5" cy="498.7" r="0.32"/><circle cx="273.3" cy="497.1" r="0.32"/><circle cx="261.5" cy="494.1" r="0.32"/><circle cx="260.4" cy="496.6" r="0.32"/><circle cx="264.9" cy="499.8" r="0.32"/><circle cx="260.3" cy="506.5" r="0.32"/><circle cx="262.0" cy="482.7" r="0.32"/><circle cx="272.1" cy="489.5" r="0.32"/><circle cx="269.2" cy="492.0" r="0.32"/><circle cx="270.5" cy="509.5" r="0.32"/><circle cx="260.7" cy="489.1" r="0.32"/><circle cx="266.3" cy="492.0" r="0.32"/><circle cx="271.1" cy="486.9" r="0.32"/><circle cx="260.9" cy="496.2" r="0.32"/><circle cx="258.4" cy="501.1" r="0.32"/><circle cx="261.8" cy="502.3" r="0.32"/><circle cx="265.0" cy="506.0" r="0.32"/><circle cx="257.4" cy="504.2" r="0.32"/><circle cx="266.4" cy="490.7" r="0.32"/><circle cx="262.8" cy="497.0" r="0.32"/><circle cx="257.3" cy="490.4" r="0.32"/><circle cx="261.8" cy="500.1" r="0.32"/><circle cx="268.8" cy="492.6" r="0.32"/><circle cx="275.9" cy="495.6" r="0.32"/><circle cx="267.2" cy="487.3" r="0.32"/><circle cx="267.0" cy="489.7" r="0.32"/><circle cx="258.1" cy="494.7" r="0.32"/><circle cx="259.2" cy="501.7" r="0.32"/><circle cx="264.3" cy="497.0" r="0.32"/><circle cx="252.4" cy="489.3" r="0.32"/><circle cx="260.1" cy="489.5" r="0.32"/><circle cx="267.4" cy="503.8" r="0.32"/><circle cx="257.6" cy="485.3" r="0.32"/><circle cx="259.8" cy="502.4" r="0.32"/><circle cx="261.2" cy="504.1" r="0.32"/><circle cx="276.5" cy="501.6" r="0.32"/><circle cx="266.8" cy="496.8" r="0.32"/><circle cx="266.1" cy="489.9" r="0.32"/><circle cx="261.0" cy="495.0" r="0.32"/><circle cx="266.1" cy="503.2" r="0.32"/><circle cx="263.3" cy="487.1" r="0.32"/><circle cx="264.0" cy="502.7" r="0.32"/><circle cx="270.0" cy="500.2" r="0.32"/><circle cx="279.1" cy="498.4" r="0.32"/><circle cx="274.8" cy="496.7" r="0.32"/><circle cx="270.8" cy="499.2" r="0.32"/><circle cx="275.1" cy="498.4" r="0.32"/><circle cx="278.7" cy="490.3" r="0.32"/><circle cx="275.6" cy="482.9" r="0.32"/><circle cx="272.9" cy="492.8" r="0.32"/><circle cx="254.0" cy="506.5" r="0.32"/><circle cx="280.5" cy="491.2" r="0.32"/><circle cx="264.3" cy="504.6" r="0.32"/><circle cx="258.1" cy="488.7" r="0.32"/><circle cx="251.3" cy="497.0" r="0.32"/><circle cx="277.0" cy="496.8" r="0.32"/><circle cx="261.1" cy="494.5" r="0.32"/><circle cx="264.5" cy="492.5" r="0.32"/><circle cx="253.1" cy="500.3" r="0.32"/><circle cx="261.3" cy="511.6" r="0.32"/><circle cx="274.0" cy="493.9" r="0.32"/><circle cx="271.2" cy="487.7" r="0.32"/><circle cx="268.6" cy="485.7" r="0.32"/><circle cx="265.5" cy="501.1" r="0.32"/><circle cx="261.7" cy="492.7" r="0.32"/><circle cx="266.4" cy="489.7" r="0.32"/><circle cx="272.7" cy="503.8" r="0.32"/><circle cx="269.2" cy="490.8" r="0.32"/><circle cx="266.8" cy="490.2" r="0.32"/><circle cx="267.0" cy="487.8" r="0.32"/><circle cx="277.4" cy="497.9" r="0.32"/><circle cx="260.9" cy="495.2" r="0.32"/><circle cx="265.7" cy="492.5" r="0.32"/><circle cx="253.1" cy="491.2" r="0.32"/><circle cx="261.2" cy="491.6" r="0.32"/><circle cx="268.9" cy="491.3" r="0.32"/><circle cx="264.2" cy="498.2" r="0.32"/><circle cx="264.0" cy="500.3" r="0.32"/><circle cx="262.5" cy="493.0" r="0.32"/><circle cx="257.3" cy="495.6" r="0.32"/><circle cx="264.4" cy="488.8" r="0.32"/><circle cx="265.1" cy="489.8" r="0.32"/><circle cx="279.3" cy="489.5" r="0.32"/><circle cx="264.8" cy="498.7" r="0.32"/><circle cx="272.8" cy="496.6" r="0.32"/><circle cx="266.4" cy="500.8" r="0.32"/><circle cx="261.5" cy="505.0" r="0.32"/><circle cx="270.8" cy="503.7" r="0.32"/><circle cx="267.1" cy="501.4" r="0.32"/><circle cx="265.1" cy="499.4" r="0.32"/><circle cx="272.8" cy="492.4" r="0.32"/><circle cx="269.8" cy="487.8" r="0.32"/><circle cx="265.8" cy="482.3" r="0.32"/><circle cx="258.4" cy="485.6" r="0.32"/><circle cx="264.1" cy="501.7" r="0.32"/><circle cx="273.5" cy="499.3" r="0.32"/><circle cx="264.9" cy="501.1" r="0.32"/><circle cx="273.2" cy="506.3" r="0.32"/><circle cx="275.2" cy="491.9" r="0.32"/><circle cx="271.7" cy="509.3" r="0.32"/><circle cx="266.4" cy="501.5" r="0.32"/><circle cx="264.4" cy="505.0" r="0.32"/><circle cx="268.0" cy="507.7" r="0.32"/><circle cx="260.1" cy="507.5" r="0.32"/><circle cx="255.3" cy="490.0" r="0.32"/><circle cx="276.1" cy="499.8" r="0.32"/><circle cx="272.8" cy="501.4" r="0.32"/><circle cx="268.1" cy="493.6" r="0.32"/><circle cx="265.4" cy="506.3" r="0.32"/><circle cx="272.4" cy="479.4" r="0.32"/><circle cx="263.7" cy="492.4" r="0.32"/><circle cx="271.9" cy="489.4" r="0.32"/><circle cx="266.2" cy="506.3" r="0.32"/><circle cx="260.1" cy="501.4" r="0.32"/><circle cx="260.7" cy="507.9" r="0.32"/><circle cx="271.9" cy="505.3" r="0.32"/><circle cx="268.0" cy="499.8" r="0.32"/><circle cx="269.7" cy="499.2" r="0.32"/><circle cx="266.1" cy="485.4" r="0.32"/><circle cx="264.2" cy="493.1" r="0.32"/><circle cx="267.2" cy="508.6" r="0.32"/><circle cx="258.8" cy="487.4" r="0.32"/><circle cx="265.1" cy="497.1" r="0.32"/><circle cx="262.3" cy="490.5" r="0.32"/><circle cx="266.3" cy="500.9" r="0.32"/><circle cx="279.0" cy="498.6" r="0.32"/><circle cx="269.3" cy="488.0" r="0.32"/><circle cx="254.4" cy="493.8" r="0.32"/><circle cx="272.3" cy="487.1" r="0.32"/><circle cx="267.8" cy="495.3" r="0.32"/><circle cx="257.2" cy="497.8" r="0.32"/></g>
<g fill="#666" fill-opacity="0.5"><circle cx="264.4" cy="508.4" r="0.3"/><circle cx="284.2" cy="506.2" r="0.3"/><circle cx="277.3" cy="506.5" r="0.3"/><circle cx="272.2" cy="513.1" r="0.3"/><circle cx="274.0" cy="506.2" r="0.3"/><circle cx="277.4" cy="507.4" r="0.3"/><circle cx="252.2" cy="505.5" r="0.3"/><circle cx="283.0" cy="509.8" r="0.3"/><circle cx="274.8" cy="500.8" r="0.3"/><circle cx="270.2" cy="506.3" r="0.3"/><circle cx="259.8" cy="507.6" r="0.3"/><circle cx="272.0" cy="504.1" r="0.3"/><circle cx="278.6" cy="500.4" r="0.3"/><circle cx="276.9" cy="508.1" r="0.3"/><circle cx="279.7" cy="505.9" r="0.3"/><circle cx="274.9" cy="507.4" r="0.3"/><circle cx="271.4" cy="504.7" r="0.3"/><circle cx="275.6" cy="501.9" r="0.3"/><circle cx="288.2" cy="506.1" r="0.3"/><circle cx="276.1" cy="499.6" r="0.3"/><circle cx="273.2" cy="500.0" r="0.3"/><circle cx="272.4" cy="500.0" r="0.3"/><circle cx="285.9" cy="509.4" r="0.3"/><circle cx="281.8" cy="506.1" r="0.3"/><circle cx="274.2" cy="508.3" r="0.3"/><circle cx="263.7" cy="498.1" r="0.3"/><circle cx="267.3" cy="509.2" r="0.3"/><circle cx="274.3" cy="503.5" r="0.3"/><circle cx="258.4" cy="511.9" r="0.3"/><circle cx="254.0" cy="497.6" r="0.3"/><circle cx="272.8" cy="507.3" r="0.3"/><circle cx="288.8" cy="500.6" r="0.3"/><circle cx="289.9" cy="506.2" r="0.3"/><circle cx="264.7" cy="512.4" r="0.3"/><circle cx="264.1" cy="502.1" r="0.3"/><circle cx="277.4" cy="509.2" r="0.3"/><circle cx="289.2" cy="507.7" r="0.3"/><circle cx="274.1" cy="498.2" r="0.3"/><circle cx="264.3" cy="515.9" r="0.3"/><circle cx="269.1" cy="507.5" r="0.3"/><circle cx="275.1" cy="508.1" r="0.3"/><circle cx="281.8" cy="505.6" r="0.3"/><circle cx="268.9" cy="506.0" r="0.3"/><circle cx="280.0" cy="496.8" r="0.3"/><circle cx="271.5" cy="510.6" r="0.3"/><circle cx="282.3" cy="506.7" r="0.3"/><circle cx="271.8" cy="511.5" r="0.3"/><circle cx="279.9" cy="501.7" r="0.3"/><circle cx="268.4" cy="510.2" r="0.3"/><circle cx="254.9" cy="496.5" r="0.3"/><circle cx="273.7" cy="511.5" r="0.3"/><circle cx="282.8" cy="510.2" r="0.3"/><circle cx="276.4" cy="499.1" r="0.3"/><circle cx="281.9" cy="503.3" r="0.3"/><circle cx="263.0" cy="505.2" r="0.3"/><circle cx="274.7" cy="509.3" r="0.3"/><circle cx="281.6" cy="506.1" r="0.3"/><circle cx="268.1" cy="502.4" r="0.3"/><circle cx="273.9" cy="510.7" r="0.3"/></g>
<ellipse cx="270.3" cy="506.6" rx="15" ry="6.5" fill="#222" stroke="none" stroke-width="0.6" filter="url(#bl1)" opacity="0.35"/>
<path d="M256.3,507.6 Q256.8,502.1 262.3,501.6 Q267.3,501.6 269.3,503.6 Q273.3,504.6 275.8,502.1 Q279.3,499.1 283.3,501.1 Q285.8,504.1 283.3,507.1 Q278.3,508.6 272.3,509.1 Q265.3,511.6 258.8,511.1 Z" fill="#0a20e0" stroke="#000a90" stroke-width="0.5"/>
<ellipse cx="262.7" cy="508.0" rx="6.0" ry="3.0" fill="url(#jet)" stroke="none" stroke-width="0.6"/>
<ellipse cx="279.3" cy="504.3" rx="3.5" ry="2.2" fill="#1848ff" stroke="none" stroke-width="0.6" filter="url(#bl05)"/>
<ellipse cx="278.4" cy="488.3" rx="4.4" ry="3.0" fill="#0a28e8" stroke="none" stroke-width="0.6" filter="url(#bl05)" transform="rotate(-20 278.4 488.3)"/>
<ellipse cx="278.6" cy="488.1" rx="2.2" ry="1.4" fill="#3070ff" stroke="none" stroke-width="0.6" filter="url(#bl05)"/>
</svg>
<ellipse cx="280.6" cy="484.1" rx="12.5" ry="8.5" fill="none" stroke="#555" stroke-width="0.6" transform="rotate(-35 280.6 484.1)"/>
<rect x="250.30" y="473.50" width="44.10" height="44.10" stroke="#000" stroke-width="0.9" fill="none"/>
<line x1="249.00" y1="474.50" x2="250.30" y2="474.50" stroke="#000" stroke-width="0.5"/>
<line x1="249.00" y1="478.01" x2="250.30" y2="478.01" stroke="#000" stroke-width="0.5"/>
<line x1="249.00" y1="481.52" x2="250.30" y2="481.52" stroke="#000" stroke-width="0.5"/>
<line x1="249.00" y1="485.02" x2="250.30" y2="485.02" stroke="#000" stroke-width="0.5"/>
<line x1="249.00" y1="488.53" x2="250.30" y2="488.53" stroke="#000" stroke-width="0.5"/>
<line x1="249.00" y1="492.04" x2="250.30" y2="492.04" stroke="#000" stroke-width="0.5"/>
<line x1="249.00" y1="495.55" x2="250.30" y2="495.55" stroke="#000" stroke-width="0.5"/>
<line x1="249.00" y1="499.06" x2="250.30" y2="499.06" stroke="#000" stroke-width="0.5"/>
<line x1="249.00" y1="502.57" x2="250.30" y2="502.57" stroke="#000" stroke-width="0.5"/>
<line x1="249.00" y1="506.08" x2="250.30" y2="506.08" stroke="#000" stroke-width="0.5"/>
<line x1="249.00" y1="509.58" x2="250.30" y2="509.58" stroke="#000" stroke-width="0.5"/>
<line x1="249.00" y1="513.09" x2="250.30" y2="513.09" stroke="#000" stroke-width="0.5"/>
<line x1="249.00" y1="516.60" x2="250.30" y2="516.60" stroke="#000" stroke-width="0.5"/>
<line x1="251.30" y1="517.60" x2="251.30" y2="518.90" stroke="#000" stroke-width="0.5"/>
<line x1="254.81" y1="517.60" x2="254.81" y2="518.90" stroke="#000" stroke-width="0.5"/>
<line x1="258.32" y1="517.60" x2="258.32" y2="518.90" stroke="#000" stroke-width="0.5"/>
<line x1="261.82" y1="517.60" x2="261.82" y2="518.90" stroke="#000" stroke-width="0.5"/>
<line x1="265.33" y1="517.60" x2="265.33" y2="518.90" stroke="#000" stroke-width="0.5"/>
<line x1="268.84" y1="517.60" x2="268.84" y2="518.90" stroke="#000" stroke-width="0.5"/>
<line x1="272.35" y1="517.60" x2="272.35" y2="518.90" stroke="#000" stroke-width="0.5"/>
<line x1="275.86" y1="517.60" x2="275.86" y2="518.90" stroke="#000" stroke-width="0.5"/>
<line x1="279.37" y1="517.60" x2="279.37" y2="518.90" stroke="#000" stroke-width="0.5"/>
<line x1="282.88" y1="517.60" x2="282.88" y2="518.90" stroke="#000" stroke-width="0.5"/>
<line x1="286.38" y1="517.60" x2="286.38" y2="518.90" stroke="#000" stroke-width="0.5"/>
<line x1="289.89" y1="517.60" x2="289.89" y2="518.90" stroke="#000" stroke-width="0.5"/>
<line x1="293.40" y1="517.60" x2="293.40" y2="518.90" stroke="#000" stroke-width="0.5"/>
<text x="251.50" y="481.88" font-size="7.8" fill="#cc1538" textLength="19.80" lengthAdjust="spacingAndGlyphs">2.10%</text>
<text x="190.04" y="405.64" font-size="6.8" textLength="6.05" lengthAdjust="spacingAndGlyphs">10</text>
<text x="196.24" y="402.92" font-size="4.22">4</text>
<text x="190.04" y="418.14" font-size="6.8" textLength="6.05" lengthAdjust="spacingAndGlyphs">10</text>
<text x="196.24" y="415.42" font-size="4.22">3</text>
<text x="194.20" y="429.64" font-size="6.8" textLength="2.90" lengthAdjust="spacingAndGlyphs">0</text>
<text x="190.04" y="479.84" font-size="6.8" textLength="6.05" lengthAdjust="spacingAndGlyphs">10</text>
<text x="196.24" y="477.12" font-size="4.22">5</text>
<text x="190.04" y="490.34" font-size="6.8" textLength="6.05" lengthAdjust="spacingAndGlyphs">10</text>
<text x="196.24" y="487.62" font-size="4.22">4</text>
<text x="190.04" y="503.54" font-size="6.8" textLength="6.05" lengthAdjust="spacingAndGlyphs">10</text>
<text x="196.24" y="500.82" font-size="4.22">3</text>
<text x="194.20" y="511.04" font-size="6.8" textLength="2.90" lengthAdjust="spacingAndGlyphs">0</text>
<text x="211.30" y="447.08" font-size="7.2" textLength="3.10" lengthAdjust="spacingAndGlyphs">0</text>
<text x="216.82" y="447.08" font-size="7.2" textLength="5.92" lengthAdjust="spacingAndGlyphs">10</text>
<text x="222.89" y="444.20" font-size="4.46">3</text>
<text x="228.22" y="447.08" font-size="7.2" textLength="5.92" lengthAdjust="spacingAndGlyphs">10</text>
<text x="234.29" y="444.20" font-size="4.46">4</text>
<text x="238.82" y="447.08" font-size="7.2" textLength="5.92" lengthAdjust="spacingAndGlyphs">10</text>
<text x="244.89" y="444.20" font-size="4.46">5</text>
<text x="260.80" y="447.08" font-size="7.2" textLength="3.10" lengthAdjust="spacingAndGlyphs">0</text>
<text x="266.32" y="447.08" font-size="7.2" textLength="5.92" lengthAdjust="spacingAndGlyphs">10</text>
<text x="272.39" y="444.20" font-size="4.46">3</text>
<text x="277.72" y="447.08" font-size="7.2" textLength="5.92" lengthAdjust="spacingAndGlyphs">10</text>
<text x="283.79" y="444.20" font-size="4.46">4</text>
<text x="288.32" y="447.08" font-size="7.2" textLength="5.92" lengthAdjust="spacingAndGlyphs">10</text>
<text x="294.39" y="444.20" font-size="4.46">5</text>
<text x="211.60" y="527.48" font-size="7.2" textLength="3.10" lengthAdjust="spacingAndGlyphs">0</text>
<text x="217.12" y="527.48" font-size="7.2" textLength="5.92" lengthAdjust="spacingAndGlyphs">10</text>
<text x="223.19" y="524.60" font-size="4.46">3</text>
<text x="228.52" y="527.48" font-size="7.2" textLength="5.92" lengthAdjust="spacingAndGlyphs">10</text>
<text x="234.59" y="524.60" font-size="4.46">4</text>
<text x="239.12" y="527.48" font-size="7.2" textLength="5.92" lengthAdjust="spacingAndGlyphs">10</text>
<text x="245.19" y="524.60" font-size="4.46">5</text>
<text x="259.70" y="527.48" font-size="7.2" textLength="3.10" lengthAdjust="spacingAndGlyphs">0</text>
<text x="265.22" y="527.48" font-size="7.2" textLength="5.92" lengthAdjust="spacingAndGlyphs">10</text>
<text x="271.29" y="524.60" font-size="4.46">3</text>
<text x="276.62" y="527.48" font-size="7.2" textLength="5.92" lengthAdjust="spacingAndGlyphs">10</text>
<text x="282.69" y="524.60" font-size="4.46">4</text>
<text x="287.22" y="527.48" font-size="7.2" textLength="5.92" lengthAdjust="spacingAndGlyphs">10</text>
<text x="293.29" y="524.60" font-size="4.46">5</text>
<text x="324.80" y="368.70" font-size="11" font-weight="bold">K</text>
<text x="364.60" y="367.02" font-size="8.2" textLength="32.30" lengthAdjust="spacingAndGlyphs">BM iNKT</text>
<text x="449.70" y="366.82" font-size="8.2" textLength="36.40" lengthAdjust="spacingAndGlyphs">BM CD8T</text>
<path d="M356.8,419.30 L357.3,419.30 L357.8,419.30 L358.3,419.30 L358.8,419.30 L359.3,419.30 L359.8,419.30 L360.3,419.30 L360.8,419.21 L361.3,418.94 L361.8,418.53 L362.3,417.93 L362.8,416.83 L363.3,415.98 L363.8,415.16 L364.3,414.69 L364.8,412.86 L365.3,412.19 L365.8,409.41 L366.3,407.19 L366.8,404.89 L367.3,400.57 L367.8,397.91 L368.3,395.96 L368.8,396.18 L369.3,400.09 L369.8,401.97 L370.3,403.15 L370.8,401.25 L371.3,399.08 L371.8,397.80 L372.3,397.83 L372.8,396.80 L373.3,397.12 L373.8,397.30 L374.3,399.52 L374.8,401.02 L375.3,402.30 L375.8,402.38 L376.3,402.93 L376.8,403.95 L377.3,405.26 L377.8,407.28 L378.3,408.37 L378.8,407.65 L379.3,407.13 L379.8,406.59 L380.3,407.64 L380.8,408.60 L381.3,409.64 L381.8,410.11 L382.3,410.07 L382.8,409.04 L383.3,408.47 L383.8,408.50 L384.3,407.92 L384.8,407.00 L385.3,406.57 L385.8,407.24 L386.3,407.37 L386.8,409.06 L387.3,409.26 L387.8,409.33 L388.3,410.58 L388.8,410.35 L389.3,410.15 L389.8,411.22 L390.3,411.86 L390.8,411.57 L391.3,411.90 L391.8,412.18 L392.3,412.28 L392.8,413.22 L393.3,413.30 L393.8,413.29 L394.3,414.54 L394.8,415.05 L395.3,414.78 L395.8,415.65 L396.3,415.21 L396.8,415.46 L397.3,416.03 L397.8,416.30 L398.3,416.55 L398.8,417.43 L399.3,417.60 L399.8,417.74 L400.3,417.48 L400.8,417.62 L401.3,418.14 L401.8,418.35 L402.3,418.41 L402.8,418.50 L403.3,418.70 L403.8,418.97 L404.3,419.02 L404.8,419.15 L405.3,419.26 L405.5,419.30 L356.8,419.30 Z" fill="#a9c2de" fill-opacity="0.75" stroke="none"/>
<path d="M356.8,419.30 L357.3,419.30 L357.8,419.30 L358.3,419.30 L358.8,419.30 L359.3,419.30 L359.8,419.30 L360.3,419.30 L360.8,419.21 L361.3,418.94 L361.8,418.53 L362.3,417.93 L362.8,416.83 L363.3,415.98 L363.8,415.16 L364.3,414.69 L364.8,412.86 L365.3,412.19 L365.8,409.41 L366.3,407.19 L366.8,404.89 L367.3,400.57 L367.8,397.91 L368.3,395.96 L368.8,396.18 L369.3,400.09 L369.8,401.97 L370.3,403.15 L370.8,401.25 L371.3,399.08 L371.8,397.80 L372.3,397.83 L372.8,396.80 L373.3,397.12 L373.8,397.30 L374.3,399.52 L374.8,401.02 L375.3,402.30 L375.8,402.38 L376.3,402.93 L376.8,403.95 L377.3,405.26 L377.8,407.28 L378.3,408.37 L378.8,407.65 L379.3,407.13 L379.8,406.59 L380.3,407.64 L380.8,408.60 L381.3,409.64 L381.8,410.11 L382.3,410.07 L382.8,409.04 L383.3,408.47 L383.8,408.50 L384.3,407.92 L384.8,407.00 L385.3,406.57 L385.8,407.24 L386.3,407.37 L386.8,409.06 L387.3,409.26 L387.8,409.33 L388.3,410.58 L388.8,410.35 L389.3,410.15 L389.8,411.22 L390.3,411.86 L390.8,411.57 L391.3,411.90 L391.8,412.18 L392.3,412.28 L392.8,413.22 L393.3,413.30 L393.8,413.29 L394.3,414.54 L394.8,415.05 L395.3,414.78 L395.8,415.65 L396.3,415.21 L396.8,415.46 L397.3,416.03 L397.8,416.30 L398.3,416.55 L398.8,417.43 L399.3,417.60 L399.8,417.74 L400.3,417.48 L400.8,417.62 L401.3,418.14 L401.8,418.35 L402.3,418.41 L402.8,418.50 L403.3,418.70 L403.8,418.97 L404.3,419.02 L404.8,419.15 L405.3,419.26" fill="none" stroke="#3b6ea6" stroke-width="0.9" stroke-linejoin="round"/>
<path d="M356.8,419.30 L357.3,419.30 L357.8,419.30 L358.3,419.30 L358.8,419.30 L359.3,419.30 L359.8,419.17 L360.3,418.91 L360.8,418.52 L361.3,418.42 L361.8,417.77 L362.3,417.53 L362.8,417.03 L363.3,416.79 L363.8,416.43 L364.3,415.70 L364.8,415.09 L365.3,415.34 L365.8,413.96 L366.3,413.56 L366.8,413.44 L367.3,413.21 L367.8,413.25 L368.3,413.47 L368.8,413.81 L369.3,413.39 L369.8,413.37 L370.3,413.61 L370.8,413.93 L371.3,413.78 L371.8,413.96 L372.3,414.01 L372.8,413.49 L373.3,414.44 L373.8,413.60 L374.3,413.71 L374.8,413.97 L375.3,413.48 L375.8,413.91 L376.3,414.16 L376.8,413.78 L377.3,414.00 L377.8,415.42 L378.3,416.65 L378.8,415.57 L379.3,413.86 L379.8,413.02 L380.3,413.55 L380.8,413.18 L381.3,413.42 L381.8,413.52 L382.3,413.31 L382.8,412.36 L383.3,412.37 L383.8,411.90 L384.3,410.72 L384.8,410.18 L385.3,409.43 L385.8,409.74 L386.3,409.58 L386.8,409.75 L387.3,409.69 L387.8,409.59 L388.3,409.75 L388.8,409.45 L389.3,406.63 L389.8,403.79 L390.3,400.79 L390.8,401.87 L391.3,404.71 L391.8,406.37 L392.3,406.40 L392.8,407.01 L393.3,407.28 L393.8,407.56 L394.3,407.16 L394.8,407.08 L395.3,406.67 L395.8,406.69 L396.3,405.89 L396.8,406.01 L397.3,404.98 L397.8,407.42 L398.3,410.16 L398.8,411.13 L399.3,412.72 L399.8,413.33 L400.3,414.13 L400.8,415.10 L401.3,415.11 L401.8,414.98 L402.3,414.41 L402.8,413.62 L403.3,413.03 L403.8,413.80 L404.3,414.86 L404.8,415.17 L405.3,416.81 L405.5,419.30 L356.8,419.30 Z" fill="#f2a5b3" fill-opacity="0.55" stroke="none"/>
<path d="M356.8,419.30 L357.3,419.30 L357.8,419.30 L358.3,419.30 L358.8,419.30 L359.3,419.30 L359.8,419.17 L360.3,418.91 L360.8,418.52 L361.3,418.42 L361.8,417.77 L362.3,417.53 L362.8,417.03 L363.3,416.79 L363.8,416.43 L364.3,415.70 L364.8,415.09 L365.3,415.34 L365.8,413.96 L366.3,413.56 L366.8,413.44 L367.3,413.21 L367.8,413.25 L368.3,413.47 L368.8,413.81 L369.3,413.39 L369.8,413.37 L370.3,413.61 L370.8,413.93 L371.3,413.78 L371.8,413.96 L372.3,414.01 L372.8,413.49 L373.3,414.44 L373.8,413.60 L374.3,413.71 L374.8,413.97 L375.3,413.48 L375.8,413.91 L376.3,414.16 L376.8,413.78 L377.3,414.00 L377.8,415.42 L378.3,416.65 L378.8,415.57 L379.3,413.86 L379.8,413.02 L380.3,413.55 L380.8,413.18 L381.3,413.42 L381.8,413.52 L382.3,413.31 L382.8,412.36 L383.3,412.37 L383.8,411.90 L384.3,410.72 L384.8,410.18 L385.3,409.43 L385.8,409.74 L386.3,409.58 L386.8,409.75 L387.3,409.69 L387.8,409.59 L388.3,409.75 L388.8,409.45 L389.3,406.63 L389.8,403.79 L390.3,400.79 L390.8,401.87 L391.3,404.71 L391.8,406.37 L392.3,406.40 L392.8,407.01 L393.3,407.28 L393.8,407.56 L394.3,407.16 L394.8,407.08 L395.3,406.67 L395.8,406.69 L396.3,405.89 L396.8,406.01 L397.3,404.98 L397.8,407.42 L398.3,410.16 L398.8,411.13 L399.3,412.72 L399.8,413.33 L400.3,414.13 L400.8,415.10 L401.3,415.11 L401.8,414.98 L402.3,414.41 L402.8,413.62 L403.3,413.03 L403.8,413.80 L404.3,414.86 L404.8,415.17 L405.3,416.81" fill="none" stroke="#cc1538" stroke-width="0.9" stroke-linejoin="round"/>
<rect x="356.20" y="369.40" width="49.70" height="49.90" stroke="#000" stroke-width="0.9" fill="none"/>
<line x1="354.90" y1="370.40" x2="356.20" y2="370.40" stroke="#000" stroke-width="0.5"/>
<line x1="354.90" y1="374.39" x2="356.20" y2="374.39" stroke="#000" stroke-width="0.5"/>
<line x1="354.90" y1="378.38" x2="356.20" y2="378.38" stroke="#000" stroke-width="0.5"/>
<line x1="354.90" y1="382.38" x2="356.20" y2="382.38" stroke="#000" stroke-width="0.5"/>
<line x1="354.90" y1="386.37" x2="356.20" y2="386.37" stroke="#000" stroke-width="0.5"/>
<line x1="354.90" y1="390.36" x2="356.20" y2="390.36" stroke="#000" stroke-width="0.5"/>
<line x1="354.90" y1="394.35" x2="356.20" y2="394.35" stroke="#000" stroke-width="0.5"/>
<line x1="354.90" y1="398.34" x2="356.20" y2="398.34" stroke="#000" stroke-width="0.5"/>
<line x1="354.90" y1="402.33" x2="356.20" y2="402.33" stroke="#000" stroke-width="0.5"/>
<line x1="354.90" y1="406.32" x2="356.20" y2="406.32" stroke="#000" stroke-width="0.5"/>
<line x1="354.90" y1="410.32" x2="356.20" y2="410.32" stroke="#000" stroke-width="0.5"/>
<line x1="354.90" y1="414.31" x2="356.20" y2="414.31" stroke="#000" stroke-width="0.5"/>
<line x1="354.90" y1="418.30" x2="356.20" y2="418.30" stroke="#000" stroke-width="0.5"/>
<line x1="357.20" y1="419.30" x2="357.20" y2="420.60" stroke="#000" stroke-width="0.5"/>
<line x1="361.18" y1="419.30" x2="361.18" y2="420.60" stroke="#000" stroke-width="0.5"/>
<line x1="365.15" y1="419.30" x2="365.15" y2="420.60" stroke="#000" stroke-width="0.5"/>
<line x1="369.12" y1="419.30" x2="369.12" y2="420.60" stroke="#000" stroke-width="0.5"/>
<line x1="373.10" y1="419.30" x2="373.10" y2="420.60" stroke="#000" stroke-width="0.5"/>
<line x1="377.07" y1="419.30" x2="377.07" y2="420.60" stroke="#000" stroke-width="0.5"/>
<line x1="381.05" y1="419.30" x2="381.05" y2="420.60" stroke="#000" stroke-width="0.5"/>
<line x1="385.02" y1="419.30" x2="385.02" y2="420.60" stroke="#000" stroke-width="0.5"/>
<line x1="389.00" y1="419.30" x2="389.00" y2="420.60" stroke="#000" stroke-width="0.5"/>
<line x1="392.97" y1="419.30" x2="392.97" y2="420.60" stroke="#000" stroke-width="0.5"/>
<line x1="396.95" y1="419.30" x2="396.95" y2="420.60" stroke="#000" stroke-width="0.5"/>
<line x1="400.92" y1="419.30" x2="400.92" y2="420.60" stroke="#000" stroke-width="0.5"/>
<line x1="404.90" y1="419.30" x2="404.90" y2="420.60" stroke="#000" stroke-width="0.5"/>
<path d="M443.2,419.30 L443.7,419.30 L444.2,419.30 L444.7,419.30 L445.2,419.30 L445.7,419.30 L446.2,419.30 L446.7,419.30 L447.2,419.30 L447.7,419.21 L448.2,418.72 L448.7,417.51 L449.2,415.19 L449.7,412.93 L450.2,410.09 L450.7,407.27 L451.2,404.09 L451.7,399.46 L452.2,395.47 L452.7,391.71 L453.2,388.66 L453.7,385.59 L454.2,383.64 L454.7,381.15 L455.2,379.00 L455.7,378.23 L456.2,377.23 L456.7,377.70 L457.2,381.34 L457.7,385.38 L458.2,389.91 L458.7,391.66 L459.2,393.30 L459.7,394.16 L460.2,395.85 L460.7,398.14 L461.2,399.85 L461.7,402.07 L462.2,404.24 L462.7,406.89 L463.2,409.70 L463.7,410.42 L464.2,411.72 L464.7,413.05 L465.2,414.56 L465.7,415.11 L466.2,415.39 L466.7,415.01 L467.2,415.45 L467.7,415.23 L468.2,416.38 L468.7,416.02 L469.2,415.71 L469.7,416.34 L470.2,415.78 L470.7,416.32 L471.2,416.40 L471.7,416.30 L472.2,416.60 L472.7,416.38 L473.2,416.66 L473.7,416.55 L474.2,417.24 L474.7,417.24 L475.2,417.38 L475.7,416.88 L476.2,416.75 L476.7,416.99 L477.2,417.08 L477.7,417.32 L478.2,417.25 L478.7,417.57 L479.2,417.60 L479.7,417.36 L480.2,417.65 L480.7,417.91 L481.2,418.02 L481.7,418.12 L482.2,418.14 L482.7,418.39 L483.2,418.34 L483.7,418.60 L484.2,418.67 L484.7,418.72 L485.2,418.75 L485.7,418.93 L486.2,419.07 L486.7,419.21 L487.2,419.30 L487.7,419.30 L488.2,419.30 L488.7,419.30 L489.2,419.30 L489.7,419.30 L490.2,419.30 L490.7,419.30 L491.2,419.30 L491.7,419.30 L492.2,419.30 L492.3,419.30 L443.2,419.30 Z" fill="#a9c2de" fill-opacity="0.75" stroke="none"/>
<path d="M443.2,419.30 L443.7,419.30 L444.2,419.30 L444.7,419.30 L445.2,419.30 L445.7,419.30 L446.2,419.30 L446.7,419.30 L447.2,419.30 L447.7,419.21 L448.2,418.72 L448.7,417.51 L449.2,415.19 L449.7,412.93 L450.2,410.09 L450.7,407.27 L451.2,404.09 L451.7,399.46 L452.2,395.47 L452.7,391.71 L453.2,388.66 L453.7,385.59 L454.2,383.64 L454.7,381.15 L455.2,379.00 L455.7,378.23 L456.2,377.23 L456.7,377.70 L457.2,381.34 L457.7,385.38 L458.2,389.91 L458.7,391.66 L459.2,393.30 L459.7,394.16 L460.2,395.85 L460.7,398.14 L461.2,399.85 L461.7,402.07 L462.2,404.24 L462.7,406.89 L463.2,409.70 L463.7,410.42 L464.2,411.72 L464.7,413.05 L465.2,414.56 L465.7,415.11 L466.2,415.39 L466.7,415.01 L467.2,415.45 L467.7,415.23 L468.2,416.38 L468.7,416.02 L469.2,415.71 L469.7,416.34 L470.2,415.78 L470.7,416.32 L471.2,416.40 L471.7,416.30 L472.2,416.60 L472.7,416.38 L473.2,416.66 L473.7,416.55 L474.2,417.24 L474.7,417.24 L475.2,417.38 L475.7,416.88 L476.2,416.75 L476.7,416.99 L477.2,417.08 L477.7,417.32 L478.2,417.25 L478.7,417.57 L479.2,417.60 L479.7,417.36 L480.2,417.65 L480.7,417.91 L481.2,418.02 L481.7,418.12 L482.2,418.14 L482.7,418.39 L483.2,418.34 L483.7,418.60 L484.2,418.67 L484.7,418.72 L485.2,418.75 L485.7,418.93 L486.2,419.07 L486.7,419.21 L487.2,419.30 L487.7,419.30 L488.2,419.30 L488.7,419.30 L489.2,419.30 L489.7,419.30 L490.2,419.30 L490.7,419.30 L491.2,419.30 L491.7,419.30 L492.2,419.30" fill="none" stroke="#3b6ea6" stroke-width="0.9" stroke-linejoin="round"/>
<path d="M443.2,419.30 L443.7,419.30 L444.2,419.30 L444.7,419.30 L445.2,419.30 L445.7,419.30 L446.2,419.11 L446.7,418.70 L447.2,418.03 L447.7,417.69 L448.2,416.90 L448.7,415.21 L449.2,414.15 L449.7,412.42 L450.2,410.48 L450.7,406.64 L451.2,403.83 L451.7,400.48 L452.2,397.14 L452.7,395.43 L453.2,393.38 L453.7,391.83 L454.2,391.07 L454.7,389.38 L455.2,387.23 L455.7,386.36 L456.2,385.51 L456.7,386.17 L457.2,387.38 L457.7,387.67 L458.2,386.53 L458.7,385.32 L459.2,384.85 L459.7,386.19 L460.2,388.46 L460.7,389.29 L461.2,391.29 L461.7,393.06 L462.2,394.35 L462.7,394.86 L463.2,396.48 L463.7,396.47 L464.2,397.59 L464.7,399.95 L465.2,401.15 L465.7,402.73 L466.2,402.59 L466.7,403.21 L467.2,403.42 L467.7,402.86 L468.2,405.10 L468.7,406.56 L469.2,407.24 L469.7,407.13 L470.2,407.63 L470.7,407.92 L471.2,407.67 L471.7,407.70 L472.2,408.37 L472.7,407.36 L473.2,408.59 L473.7,408.36 L474.2,408.24 L474.7,409.30 L475.2,410.19 L475.7,411.00 L476.2,412.19 L476.7,413.16 L477.2,413.82 L477.7,414.70 L478.2,414.41 L478.7,415.41 L479.2,415.50 L479.7,416.43 L480.2,416.78 L480.7,416.41 L481.2,416.12 L481.7,416.85 L482.2,417.15 L482.7,417.15 L483.2,416.84 L483.7,417.62 L484.2,417.66 L484.7,417.68 L485.2,418.12 L485.7,418.19 L486.2,418.48 L486.7,418.46 L487.2,418.82 L487.7,418.96 L488.2,419.06 L488.7,419.21 L489.2,419.30 L489.7,419.30 L490.2,419.30 L490.7,419.30 L491.2,419.30 L491.7,419.30 L492.2,419.30 L492.3,419.30 L443.2,419.30 Z" fill="#f2a5b3" fill-opacity="0.55" stroke="none"/>
<path d="M443.2,419.30 L443.7,419.30 L444.2,419.30 L444.7,419.30 L445.2,419.30 L445.7,419.30 L446.2,419.11 L446.7,418.70 L447.2,418.03 L447.7,417.69 L448.2,416.90 L448.7,415.21 L449.2,414.15 L449.7,412.42 L450.2,410.48 L450.7,406.64 L451.2,403.83 L451.7,400.48 L452.2,397.14 L452.7,395.43 L453.2,393.38 L453.7,391.83 L454.2,391.07 L454.7,389.38 L455.2,387.23 L455.7,386.36 L456.2,385.51 L456.7,386.17 L457.2,387.38 L457.7,387.67 L458.2,386.53 L458.7,385.32 L459.2,384.85 L459.7,386.19 L460.2,388.46 L460.7,389.29 L461.2,391.29 L461.7,393.06 L462.2,394.35 L462.7,394.86 L463.2,396.48 L463.7,396.47 L464.2,397.59 L464.7,399.95 L465.2,401.15 L465.7,402.73 L466.2,402.59 L466.7,403.21 L467.2,403.42 L467.7,402.86 L468.2,405.10 L468.7,406.56 L469.2,407.24 L469.7,407.13 L470.2,407.63 L470.7,407.92 L471.2,407.67 L471.7,407.70 L472.2,408.37 L472.7,407.36 L473.2,408.59 L473.7,408.36 L474.2,408.24 L474.7,409.30 L475.2,410.19 L475.7,411.00 L476.2,412.19 L476.7,413.16 L477.2,413.82 L477.7,414.70 L478.2,414.41 L478.7,415.41 L479.2,415.50 L479.7,416.43 L480.2,416.78 L480.7,416.41 L481.2,416.12 L481.7,416.85 L482.2,417.15 L482.7,417.15 L483.2,416.84 L483.7,417.62 L484.2,417.66 L484.7,417.68 L485.2,418.12 L485.7,418.19 L486.2,418.48 L486.7,418.46 L487.2,418.82 L487.7,418.96 L488.2,419.06 L488.7,419.21 L489.2,419.30 L489.7,419.30 L490.2,419.30 L490.7,419.30 L491.2,419.30 L491.7,419.30 L492.2,419.30" fill="none" stroke="#cc1538" stroke-width="0.9" stroke-linejoin="round"/>
<rect x="442.70" y="369.20" width="50.10" height="50.10" stroke="#000" stroke-width="0.9" fill="none"/>
<line x1="441.40" y1="370.20" x2="442.70" y2="370.20" stroke="#000" stroke-width="0.5"/>
<line x1="441.40" y1="374.21" x2="442.70" y2="374.21" stroke="#000" stroke-width="0.5"/>
<line x1="441.40" y1="378.22" x2="442.70" y2="378.22" stroke="#000" stroke-width="0.5"/>
<line x1="441.40" y1="382.23" x2="442.70" y2="382.23" stroke="#000" stroke-width="0.5"/>
<line x1="441.40" y1="386.23" x2="442.70" y2="386.23" stroke="#000" stroke-width="0.5"/>
<line x1="441.40" y1="390.24" x2="442.70" y2="390.24" stroke="#000" stroke-width="0.5"/>
<line x1="441.40" y1="394.25" x2="442.70" y2="394.25" stroke="#000" stroke-width="0.5"/>
<line x1="441.40" y1="398.26" x2="442.70" y2="398.26" stroke="#000" stroke-width="0.5"/>
<line x1="441.40" y1="402.27" x2="442.70" y2="402.27" stroke="#000" stroke-width="0.5"/>
<line x1="441.40" y1="406.27" x2="442.70" y2="406.27" stroke="#000" stroke-width="0.5"/>
<line x1="441.40" y1="410.28" x2="442.70" y2="410.28" stroke="#000" stroke-width="0.5"/>
<line x1="441.40" y1="414.29" x2="442.70" y2="414.29" stroke="#000" stroke-width="0.5"/>
<line x1="441.40" y1="418.30" x2="442.70" y2="418.30" stroke="#000" stroke-width="0.5"/>
<line x1="443.70" y1="419.30" x2="443.70" y2="420.60" stroke="#000" stroke-width="0.5"/>
<line x1="447.71" y1="419.30" x2="447.71" y2="420.60" stroke="#000" stroke-width="0.5"/>
<line x1="451.72" y1="419.30" x2="451.72" y2="420.60" stroke="#000" stroke-width="0.5"/>
<line x1="455.73" y1="419.30" x2="455.73" y2="420.60" stroke="#000" stroke-width="0.5"/>
<line x1="459.73" y1="419.30" x2="459.73" y2="420.60" stroke="#000" stroke-width="0.5"/>
<line x1="463.74" y1="419.30" x2="463.74" y2="420.60" stroke="#000" stroke-width="0.5"/>
<line x1="467.75" y1="419.30" x2="467.75" y2="420.60" stroke="#000" stroke-width="0.5"/>
<line x1="471.76" y1="419.30" x2="471.76" y2="420.60" stroke="#000" stroke-width="0.5"/>
<line x1="475.77" y1="419.30" x2="475.77" y2="420.60" stroke="#000" stroke-width="0.5"/>
<line x1="479.77" y1="419.30" x2="479.77" y2="420.60" stroke="#000" stroke-width="0.5"/>
<line x1="483.78" y1="419.30" x2="483.78" y2="420.60" stroke="#000" stroke-width="0.5"/>
<line x1="487.79" y1="419.30" x2="487.79" y2="420.60" stroke="#000" stroke-width="0.5"/>
<line x1="491.80" y1="419.30" x2="491.80" y2="420.60" stroke="#000" stroke-width="0.5"/>
<text x="354.20" y="374.30" font-size="6.6" text-anchor="end">100</text>
<text x="353.70" y="421.40" font-size="6.6" text-anchor="end">0</text>
<text x="438.80" y="374.30" font-size="6.6" text-anchor="end">100</text>
<text x="438.30" y="421.40" font-size="6.6" text-anchor="end">0</text>
<text x="338.12" y="408.00" font-size="8.5" textLength="27.20" lengthAdjust="spacingAndGlyphs" transform="rotate(-90 338.12 408.00)" fill="#000" stroke="#000" stroke-width="0.15">% of max</text>
<text x="425.12" y="408.50" font-size="8.5" textLength="28.30" lengthAdjust="spacingAndGlyphs" transform="rotate(-90 425.12 408.50)" fill="#000" stroke="#000" stroke-width="0.15">% of max</text>
<text x="383.90" y="387.18" font-size="7.8" textLength="19.10" lengthAdjust="spacingAndGlyphs">27.1%</text>
<text x="383.90" y="396.48" font-size="7.8" fill="#cc1538" textLength="20.70" lengthAdjust="spacingAndGlyphs">68.6%</text>
<line x1="383.60" y1="398.30" x2="405.90" y2="398.30" stroke="#000" stroke-width="0.9"/>
<line x1="383.60" y1="396.50" x2="383.60" y2="400.10" stroke="#000" stroke-width="0.8"/>
<text x="470.70" y="387.18" font-size="7.8" textLength="16.10" lengthAdjust="spacingAndGlyphs">5.6%</text>
<text x="471.20" y="395.58" font-size="7.8" fill="#cc1538" textLength="19.40" lengthAdjust="spacingAndGlyphs">15.9%</text>
<line x1="470.20" y1="398.30" x2="492.80" y2="398.30" stroke="#000" stroke-width="0.9"/>
<line x1="470.20" y1="396.50" x2="470.20" y2="400.10" stroke="#000" stroke-width="0.8"/>
<text x="367.60" y="428.64" font-size="6.8" textLength="2.90" lengthAdjust="spacingAndGlyphs">0</text>
<text x="384.79" y="428.64" font-size="6.8" textLength="5.82" lengthAdjust="spacingAndGlyphs">10</text>
<text x="390.76" y="425.92" font-size="4.22">4</text>
<text x="397.59" y="428.64" font-size="6.8" textLength="5.82" lengthAdjust="spacingAndGlyphs">10</text>
<text x="403.56" y="425.92" font-size="4.22">5</text>
<text x="454.40" y="427.94" font-size="6.8" textLength="2.90" lengthAdjust="spacingAndGlyphs">0</text>
<text x="471.59" y="427.94" font-size="6.8" textLength="5.82" lengthAdjust="spacingAndGlyphs">10</text>
<text x="477.56" y="425.22" font-size="4.22">4</text>
<text x="483.69" y="427.94" font-size="6.8" textLength="5.82" lengthAdjust="spacingAndGlyphs">10</text>
<text x="489.66" y="425.22" font-size="4.22">5</text>
<line x1="356.50" y1="434.80" x2="445.80" y2="434.80" stroke="#000" stroke-width="0.9"/>
<path d="M449.30,434.80 L445.30,433.00 L445.30,436.60 Z" fill="#000"/>
<text x="454.40" y="437.92" font-size="8.2" textLength="32.30" lengthAdjust="spacingAndGlyphs">Annexin V</text>
<text x="326.80" y="457.50" font-size="11" font-weight="bold">L</text>
<text x="353.10" y="457.06" font-size="8.3" textLength="53.80" lengthAdjust="spacingAndGlyphs">No. of live iNKT</text>
<text x="423.50" y="457.56" font-size="8.3" textLength="59.10" lengthAdjust="spacingAndGlyphs">No. of live CD8T</text>
<rect x="361.2" y="484.2" width="6.10" height="32.90" fill="#8eaed2"/>
<rect x="370.3" y="491.2" width="5.70" height="25.90" fill="#eb9aab"/>
<rect x="385.5" y="483.1" width="4.70" height="34.00" fill="#8eaed2"/>
<rect x="394.2" y="482.2" width="4.70" height="34.90" fill="#eb9aab"/>
<line x1="359.00" y1="464.20" x2="359.00" y2="517.60" stroke="#000" stroke-width="1.1"/>
<line x1="358.50" y1="517.10" x2="402.70" y2="517.10" stroke="#000" stroke-width="1.1"/>
<line x1="356.00" y1="468.10" x2="359.00" y2="468.10" stroke="#000" stroke-width="0.9"/>
<text x="341.80" y="470.68" font-size="7.5" textLength="8.3" lengthAdjust="spacingAndGlyphs">10</text>
<text x="350.30" y="467.58" font-size="5">6</text>
<line x1="356.00" y1="480.20" x2="359.00" y2="480.20" stroke="#000" stroke-width="0.9"/>
<text x="341.80" y="482.78" font-size="7.5" textLength="8.3" lengthAdjust="spacingAndGlyphs">10</text>
<text x="350.30" y="479.68" font-size="5">5</text>
<line x1="356.00" y1="492.30" x2="359.00" y2="492.30" stroke="#000" stroke-width="0.9"/>
<text x="341.80" y="494.88" font-size="7.5" textLength="8.3" lengthAdjust="spacingAndGlyphs">10</text>
<text x="350.30" y="491.78" font-size="5">4</text>
<line x1="356.00" y1="505.10" x2="359.00" y2="505.10" stroke="#000" stroke-width="0.9"/>
<text x="341.80" y="507.68" font-size="7.5" textLength="8.3" lengthAdjust="spacingAndGlyphs">10</text>
<text x="350.30" y="504.58" font-size="5">3</text>
<line x1="356.00" y1="517.10" x2="359.00" y2="517.10" stroke="#000" stroke-width="0.9"/>
<text x="341.80" y="519.68" font-size="7.5" textLength="8.3" lengthAdjust="spacingAndGlyphs">10</text>
<text x="350.30" y="516.58" font-size="5">2</text>
<line x1="368.60" y1="517.10" x2="368.60" y2="519.60" stroke="#000" stroke-width="0.9"/>
<line x1="391.90" y1="517.10" x2="391.90" y2="519.60" stroke="#000" stroke-width="0.9"/>
<line x1="380.50" y1="466.20" x2="380.50" y2="517.10" stroke="#000" stroke-width="1.1" stroke-dasharray="2.2,1.6"/>
<g fill="#0f4c8e"><circle cx="364.0" cy="477.0" r="1.35"/><circle cx="364.0" cy="480.0" r="1.35"/><circle cx="363.0" cy="483.0" r="1.35"/><circle cx="362.0" cy="487.0" r="1.35"/><circle cx="366.0" cy="487.0" r="1.35"/><circle cx="364.0" cy="489.0" r="1.35"/><circle cx="361.5" cy="490.0" r="1.35"/><circle cx="366.7" cy="490.0" r="1.35"/><circle cx="364.0" cy="492.0" r="1.35"/></g>
<g fill="#cc1538"><circle cx="373.0" cy="483.0" r="1.35"/><circle cx="373.0" cy="488.0" r="1.35"/><circle cx="371.5" cy="490.0" r="1.35"/><circle cx="374.5" cy="491.0" r="1.35"/><circle cx="373.0" cy="494.0" r="1.35"/><circle cx="372.0" cy="497.0" r="1.35"/><circle cx="373.0" cy="515.0" r="1.35"/></g>
<g fill="#0f4c8e"><circle cx="387.8" cy="477.5" r="1.35"/><circle cx="388.5" cy="480.0" r="1.35"/><circle cx="386.0" cy="483.0" r="1.35"/><circle cx="390.0" cy="483.0" r="1.35"/><circle cx="388.0" cy="486.0" r="1.35"/><circle cx="385.8" cy="490.0" r="1.35"/><circle cx="390.0" cy="490.0" r="1.35"/></g>
<g fill="#cc1538"><circle cx="396.5" cy="478.7" r="1.35"/><circle cx="397.0" cy="481.0" r="1.35"/><circle cx="395.0" cy="484.0" r="1.35"/><circle cx="398.5" cy="484.0" r="1.35"/><circle cx="396.5" cy="487.0" r="1.35"/><circle cx="394.8" cy="490.0" r="1.35"/><circle cx="398.5" cy="490.0" r="1.35"/></g>
<rect x="433.8" y="490" width="5.80" height="27.10" fill="#8eaed2"/>
<rect x="442.8" y="485.1" width="5.50" height="32.00" fill="#eb9aab"/>
<rect x="457.6" y="487.6" width="6.20" height="29.50" fill="#8eaed2"/>
<rect x="466.7" y="480.4" width="6.10" height="36.70" fill="#eb9aab"/>
<line x1="431.30" y1="463.80" x2="431.30" y2="517.60" stroke="#000" stroke-width="1.1"/>
<line x1="430.80" y1="517.10" x2="475.70" y2="517.10" stroke="#000" stroke-width="1.1"/>
<line x1="428.30" y1="467.80" x2="431.30" y2="467.80" stroke="#000" stroke-width="0.9"/>
<text x="414.10" y="470.38" font-size="7.5" textLength="8.3" lengthAdjust="spacingAndGlyphs">10</text>
<text x="422.60" y="467.28" font-size="5">7</text>
<line x1="428.30" y1="480.40" x2="431.30" y2="480.40" stroke="#000" stroke-width="0.9"/>
<text x="414.10" y="482.98" font-size="7.5" textLength="8.3" lengthAdjust="spacingAndGlyphs">10</text>
<text x="422.60" y="479.88" font-size="5">6</text>
<line x1="428.30" y1="492.30" x2="431.30" y2="492.30" stroke="#000" stroke-width="0.9"/>
<text x="414.10" y="494.88" font-size="7.5" textLength="8.3" lengthAdjust="spacingAndGlyphs">10</text>
<text x="422.60" y="491.78" font-size="5">5</text>
<line x1="428.30" y1="504.90" x2="431.30" y2="504.90" stroke="#000" stroke-width="0.9"/>
<text x="414.10" y="507.48" font-size="7.5" textLength="8.3" lengthAdjust="spacingAndGlyphs">10</text>
<text x="422.60" y="504.38" font-size="5">4</text>
<line x1="428.30" y1="517.10" x2="431.30" y2="517.10" stroke="#000" stroke-width="0.9"/>
<text x="414.10" y="519.68" font-size="7.5" textLength="8.3" lengthAdjust="spacingAndGlyphs">10</text>
<text x="422.60" y="516.58" font-size="5">3</text>
<line x1="441.20" y1="517.10" x2="441.20" y2="519.60" stroke="#000" stroke-width="0.9"/>
<line x1="465.20" y1="517.10" x2="465.20" y2="519.60" stroke="#000" stroke-width="0.9"/>
<line x1="453.30" y1="465.80" x2="453.30" y2="517.10" stroke="#000" stroke-width="1.1" stroke-dasharray="2.2,1.6"/>
<g fill="#0f4c8e"><circle cx="436.7" cy="484.2" r="1.35"/><circle cx="434.5" cy="489.5" r="1.35"/><circle cx="438.5" cy="489.5" r="1.35"/><circle cx="436.7" cy="492.0" r="1.35"/><circle cx="434.2" cy="494.0" r="1.35"/><circle cx="439.0" cy="494.0" r="1.35"/><circle cx="436.7" cy="497.0" r="1.35"/><circle cx="436.7" cy="499.0" r="1.35"/><circle cx="436.7" cy="503.5" r="1.35"/></g>
<g fill="#cc1538"><circle cx="445.6" cy="480.1" r="1.35"/><circle cx="443.5" cy="484.5" r="1.35"/><circle cx="447.5" cy="484.5" r="1.35"/><circle cx="445.6" cy="488.0" r="1.35"/><circle cx="443.2" cy="490.0" r="1.35"/><circle cx="448.0" cy="490.0" r="1.35"/><circle cx="445.6" cy="494.0" r="1.35"/><circle cx="445.6" cy="510.0" r="1.35"/></g>
<g fill="#0f4c8e"><circle cx="460.7" cy="481.5" r="1.35"/><circle cx="458.5" cy="482.0" r="1.35"/><circle cx="462.7" cy="483.0" r="1.35"/><circle cx="460.7" cy="487.0" r="1.35"/><circle cx="458.2" cy="490.0" r="1.35"/><circle cx="463.2" cy="490.0" r="1.35"/><circle cx="460.7" cy="492.0" r="1.35"/><circle cx="458.2" cy="494.0" r="1.35"/><circle cx="463.0" cy="494.0" r="1.35"/></g>
<g fill="#cc1538"><circle cx="469.8" cy="475.0" r="1.35"/><circle cx="467.5" cy="476.0" r="1.35"/><circle cx="472.0" cy="476.0" r="1.35"/><circle cx="469.8" cy="479.0" r="1.35"/><circle cx="467.2" cy="488.0" r="1.35"/><circle cx="469.8" cy="488.0" r="1.35"/><circle cx="472.5" cy="488.0" r="1.35"/></g>
<line x1="364.20" y1="480.70" x2="364.20" y2="487.70" stroke="#000" stroke-width="0.8"/>
<line x1="362.60" y1="480.70" x2="365.80" y2="480.70" stroke="#000" stroke-width="0.8"/>
<line x1="362.60" y1="487.70" x2="365.80" y2="487.70" stroke="#000" stroke-width="0.8"/>
<line x1="361.60" y1="484.20" x2="366.80" y2="484.20" stroke="#000" stroke-width="0.9"/>
<line x1="373.10" y1="488.20" x2="373.10" y2="494.20" stroke="#000" stroke-width="0.8"/>
<line x1="371.50" y1="488.20" x2="374.70" y2="488.20" stroke="#000" stroke-width="0.8"/>
<line x1="371.50" y1="494.20" x2="374.70" y2="494.20" stroke="#000" stroke-width="0.8"/>
<line x1="370.50" y1="491.20" x2="375.70" y2="491.20" stroke="#000" stroke-width="0.9"/>
<line x1="387.80" y1="480.10" x2="387.80" y2="486.10" stroke="#000" stroke-width="0.8"/>
<line x1="386.20" y1="480.10" x2="389.40" y2="480.10" stroke="#000" stroke-width="0.8"/>
<line x1="386.20" y1="486.10" x2="389.40" y2="486.10" stroke="#000" stroke-width="0.8"/>
<line x1="385.20" y1="483.10" x2="390.40" y2="483.10" stroke="#000" stroke-width="0.9"/>
<line x1="396.60" y1="479.20" x2="396.60" y2="485.20" stroke="#000" stroke-width="0.8"/>
<line x1="395.00" y1="479.20" x2="398.20" y2="479.20" stroke="#000" stroke-width="0.8"/>
<line x1="395.00" y1="485.20" x2="398.20" y2="485.20" stroke="#000" stroke-width="0.8"/>
<line x1="394.00" y1="482.20" x2="399.20" y2="482.20" stroke="#000" stroke-width="0.9"/>
<line x1="436.70" y1="487.50" x2="436.70" y2="492.50" stroke="#000" stroke-width="0.8"/>
<line x1="435.10" y1="487.50" x2="438.30" y2="487.50" stroke="#000" stroke-width="0.8"/>
<line x1="435.10" y1="492.50" x2="438.30" y2="492.50" stroke="#000" stroke-width="0.8"/>
<line x1="434.10" y1="490.00" x2="439.30" y2="490.00" stroke="#000" stroke-width="0.9"/>
<line x1="445.60" y1="481.60" x2="445.60" y2="488.60" stroke="#000" stroke-width="0.8"/>
<line x1="444.00" y1="481.60" x2="447.20" y2="481.60" stroke="#000" stroke-width="0.8"/>
<line x1="444.00" y1="488.60" x2="447.20" y2="488.60" stroke="#000" stroke-width="0.8"/>
<line x1="443.00" y1="485.10" x2="448.20" y2="485.10" stroke="#000" stroke-width="0.9"/>
<line x1="460.70" y1="485.10" x2="460.70" y2="490.10" stroke="#000" stroke-width="0.8"/>
<line x1="459.10" y1="485.10" x2="462.30" y2="485.10" stroke="#000" stroke-width="0.8"/>
<line x1="459.10" y1="490.10" x2="462.30" y2="490.10" stroke="#000" stroke-width="0.8"/>
<line x1="458.10" y1="487.60" x2="463.30" y2="487.60" stroke="#000" stroke-width="0.9"/>
<line x1="469.80" y1="477.40" x2="469.80" y2="483.40" stroke="#000" stroke-width="0.8"/>
<line x1="468.20" y1="477.40" x2="471.40" y2="477.40" stroke="#000" stroke-width="0.8"/>
<line x1="468.20" y1="483.40" x2="471.40" y2="483.40" stroke="#000" stroke-width="0.8"/>
<line x1="467.20" y1="480.40" x2="472.40" y2="480.40" stroke="#000" stroke-width="0.9"/>
<path d="M364.3,473.5 L364.3,469.4 L373.8,469.4 L373.8,478.2" fill="none" stroke="#000" stroke-width="1.0"/>
<text x="368.90" y="469.20" font-size="6.8" text-anchor="middle">*</text>
<text x="359.50" y="529.25" font-size="8.0" textLength="18.00" lengthAdjust="spacingAndGlyphs">Day 1</text>
<text x="382.50" y="529.25" font-size="8.0" textLength="19.20" lengthAdjust="spacingAndGlyphs">Day 7</text>
<text x="432.20" y="529.55" font-size="8.0" textLength="18.10" lengthAdjust="spacingAndGlyphs">Day 1</text>
<text x="455.00" y="529.55" font-size="8.0" textLength="19.60" lengthAdjust="spacingAndGlyphs">Day 7</text>
<line x1="358.50" y1="534.40" x2="475.60" y2="534.40" stroke="#000" stroke-width="1.0"/>
<text x="388.10" y="543.36" font-size="8.6" stroke="#000" stroke-width="0.15" textLength="58.20" lengthAdjust="spacingAndGlyphs">Days after treatment</text>
<circle cx="481.2" cy="470.6" r="1.6" fill="#0f4c8e"/>
<text x="484.70" y="473.28" font-size="7.8" textLength="28.20" lengthAdjust="spacingAndGlyphs">BsAb (–)</text>
<circle cx="481.2" cy="481.8" r="1.6" fill="#cc1538"/>
<text x="484.70" y="484.48" font-size="7.8" textLength="28.20" lengthAdjust="spacingAndGlyphs">BsAb (+)</text>
</g>
<rect x="0.5" y="0.5" width="519" height="550" fill="none" stroke="#000" stroke-width="1.2"/>
</svg>
</body></html>
